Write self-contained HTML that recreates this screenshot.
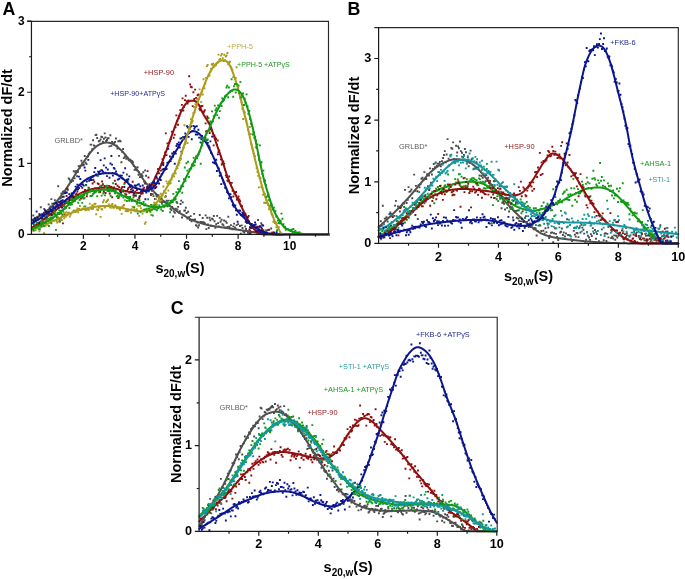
<!DOCTYPE html>
<html><head><meta charset="utf-8"><style>
html,body{margin:0;padding:0;background:#fff;width:685px;height:579px;overflow:hidden}
svg{display:block;will-change:transform}
</style></head><body>
<svg width="685" height="579" viewBox="0 0 685 579">
<rect width="685" height="579" fill="#fff"/>
<path d="M32.33 214.55h1.9v1.9h-1.9zM33.29 220h1.9v1.9h-1.9zM34.03 219.43h1.9v1.9h-1.9zM34.91 218.26h1.9v1.9h-1.9zM35.79 216.4h1.9v1.9h-1.9zM36.73 216.87h1.9v1.9h-1.9zM37.42 215.47h1.9v1.9h-1.9zM38.37 213.03h1.9v1.9h-1.9zM39.07 223.34h1.9v1.9h-1.9zM39.82 206.23h1.9v1.9h-1.9zM40.64 213.35h1.9v1.9h-1.9zM41.51 216.98h1.9v1.9h-1.9zM42.34 213.11h1.9v1.9h-1.9zM43.24 207.88h1.9v1.9h-1.9zM44.17 221.88h1.9v1.9h-1.9zM44.97 209.89h1.9v1.9h-1.9zM45.86 215.32h1.9v1.9h-1.9zM46.73 209.18h1.9v1.9h-1.9zM47.7 203.4h1.9v1.9h-1.9zM48.65 206.94h1.9v1.9h-1.9zM49.43 205.6h1.9v1.9h-1.9zM50.4 198.13h1.9v1.9h-1.9zM51.34 202.76h1.9v1.9h-1.9zM52.26 206.01h1.9v1.9h-1.9zM53.04 202.7h1.9v1.9h-1.9zM53.9 199.26h1.9v1.9h-1.9zM54.75 205.3h1.9v1.9h-1.9zM55.65 203.55h1.9v1.9h-1.9zM56.55 201.27h1.9v1.9h-1.9zM57.25 185.27h1.9v1.9h-1.9zM58.09 201.72h1.9v1.9h-1.9zM58.99 197.6h1.9v1.9h-1.9zM59.76 197.46h1.9v1.9h-1.9zM60.46 192.5h1.9v1.9h-1.9zM61.13 196.05h1.9v1.9h-1.9zM61.97 190.75h1.9v1.9h-1.9zM62.73 192.62h1.9v1.9h-1.9zM63.48 189.98h1.9v1.9h-1.9zM64.45 191.27h1.9v1.9h-1.9zM65.23 188.28h1.9v1.9h-1.9zM66.03 191.61h1.9v1.9h-1.9zM66.89 188.83h1.9v1.9h-1.9zM67.71 177.46h1.9v1.9h-1.9zM68.45 178.19h1.9v1.9h-1.9zM69.24 179.72h1.9v1.9h-1.9zM70.18 181.16h1.9v1.9h-1.9zM71.15 192.69h1.9v1.9h-1.9zM72.07 179.93h1.9v1.9h-1.9zM72.85 170.36h1.9v1.9h-1.9zM73.66 177.42h1.9v1.9h-1.9zM74.48 171.47h1.9v1.9h-1.9zM75.26 169.95h1.9v1.9h-1.9zM76.09 175.26h1.9v1.9h-1.9zM76.88 171.05h1.9v1.9h-1.9zM77.76 165.16h1.9v1.9h-1.9zM78.69 167.14h1.9v1.9h-1.9zM79.52 164.78h1.9v1.9h-1.9zM80.47 159.83h1.9v1.9h-1.9zM81.21 162.37h1.9v1.9h-1.9zM81.98 164.37h1.9v1.9h-1.9zM82.91 163.8h1.9v1.9h-1.9zM83.82 154.99h1.9v1.9h-1.9zM84.72 161.8h1.9v1.9h-1.9zM85.61 163.18h1.9v1.9h-1.9zM86.29 156.09h1.9v1.9h-1.9zM87 155.44h1.9v1.9h-1.9zM87.82 153.07h1.9v1.9h-1.9zM88.74 151.44h1.9v1.9h-1.9zM89.64 143.7h1.9v1.9h-1.9zM90.4 143.7h1.9v1.9h-1.9zM91.3 148.33h1.9v1.9h-1.9zM92.1 139.31h1.9v1.9h-1.9zM92.96 144.4h1.9v1.9h-1.9zM93.68 144.95h1.9v1.9h-1.9zM94.63 134.19h1.9v1.9h-1.9zM95.44 133.87h1.9v1.9h-1.9zM96.22 137.09h1.9v1.9h-1.9zM96.97 152.07h1.9v1.9h-1.9zM97.86 140.23h1.9v1.9h-1.9zM98.78 139.89h1.9v1.9h-1.9zM99.63 138.41h1.9v1.9h-1.9zM100.42 135.81h1.9v1.9h-1.9zM101.18 136.22h1.9v1.9h-1.9zM102.05 140.77h1.9v1.9h-1.9zM102.89 137.74h1.9v1.9h-1.9zM103.79 132.47h1.9v1.9h-1.9zM104.5 136.48h1.9v1.9h-1.9zM105.17 140.07h1.9v1.9h-1.9zM106.04 139.01h1.9v1.9h-1.9zM106.74 137.29h1.9v1.9h-1.9zM107.57 137.29h1.9v1.9h-1.9zM108.43 145.43h1.9v1.9h-1.9zM109.41 134.31h1.9v1.9h-1.9zM110.38 144.96h1.9v1.9h-1.9zM111.07 140.89h1.9v1.9h-1.9zM111.8 142.75h1.9v1.9h-1.9zM112.7 142.42h1.9v1.9h-1.9zM113.4 141.83h1.9v1.9h-1.9zM114.1 140.91h1.9v1.9h-1.9zM115.02 137.51h1.9v1.9h-1.9zM115.76 144.64h1.9v1.9h-1.9zM116.53 147.49h1.9v1.9h-1.9zM117.39 140.25h1.9v1.9h-1.9zM118.09 154.96h1.9v1.9h-1.9zM118.88 139.75h1.9v1.9h-1.9zM119.67 140.43h1.9v1.9h-1.9zM120.46 161.37h1.9v1.9h-1.9zM121.31 150.96h1.9v1.9h-1.9zM122.15 148.06h1.9v1.9h-1.9zM122.85 157.2h1.9v1.9h-1.9zM123.79 156.16h1.9v1.9h-1.9zM124.49 155.37h1.9v1.9h-1.9zM125.31 157.97h1.9v1.9h-1.9zM125.98 173.53h1.9v1.9h-1.9zM126.94 157.5h1.9v1.9h-1.9zM127.8 159.41h1.9v1.9h-1.9zM128.64 159.27h1.9v1.9h-1.9zM129.44 158.86h1.9v1.9h-1.9zM130.35 159.93h1.9v1.9h-1.9zM131.25 160.25h1.9v1.9h-1.9zM132.12 161.51h1.9v1.9h-1.9zM132.89 165.2h1.9v1.9h-1.9zM133.62 168.96h1.9v1.9h-1.9zM134.47 166.81h1.9v1.9h-1.9zM135.2 168.8h1.9v1.9h-1.9zM135.89 169.34h1.9v1.9h-1.9zM136.61 166.24h1.9v1.9h-1.9zM137.54 173.96h1.9v1.9h-1.9zM138.21 171.31h1.9v1.9h-1.9zM138.97 176.21h1.9v1.9h-1.9zM139.87 175.84h1.9v1.9h-1.9zM140.72 173.26h1.9v1.9h-1.9zM141.5 175.12h1.9v1.9h-1.9zM142.38 171.35h1.9v1.9h-1.9zM143.18 180.57h1.9v1.9h-1.9zM144.14 169.4h1.9v1.9h-1.9zM145.09 174.74h1.9v1.9h-1.9zM145.97 188.13h1.9v1.9h-1.9zM146.85 185.74h1.9v1.9h-1.9zM147.6 187.73h1.9v1.9h-1.9zM148.4 183.14h1.9v1.9h-1.9zM149.31 187.97h1.9v1.9h-1.9zM150.07 194.22h1.9v1.9h-1.9zM150.91 189.73h1.9v1.9h-1.9zM151.81 193.21h1.9v1.9h-1.9zM152.54 195.22h1.9v1.9h-1.9zM153.28 187.72h1.9v1.9h-1.9zM153.97 198.05h1.9v1.9h-1.9zM154.95 193.34h1.9v1.9h-1.9zM155.7 195.35h1.9v1.9h-1.9zM156.58 195.67h1.9v1.9h-1.9zM157.5 194.33h1.9v1.9h-1.9zM158.29 198.03h1.9v1.9h-1.9zM159.12 198.64h1.9v1.9h-1.9zM159.8 201.21h1.9v1.9h-1.9zM160.67 197.48h1.9v1.9h-1.9zM161.36 201.02h1.9v1.9h-1.9zM162.32 205.57h1.9v1.9h-1.9zM163.18 200.73h1.9v1.9h-1.9zM164.12 201.3h1.9v1.9h-1.9zM164.84 195.3h1.9v1.9h-1.9zM165.73 199.87h1.9v1.9h-1.9zM166.71 205.28h1.9v1.9h-1.9zM167.69 199.71h1.9v1.9h-1.9zM168.64 202.23h1.9v1.9h-1.9zM169.58 207.82h1.9v1.9h-1.9zM170.51 209.2h1.9v1.9h-1.9zM171.27 206.07h1.9v1.9h-1.9zM172.19 215.48h1.9v1.9h-1.9zM172.95 210.38h1.9v1.9h-1.9zM173.85 211.9h1.9v1.9h-1.9zM174.79 207.73h1.9v1.9h-1.9zM175.67 201.07h1.9v1.9h-1.9zM176.44 208.57h1.9v1.9h-1.9zM177.2 205.95h1.9v1.9h-1.9zM178.15 211.95h1.9v1.9h-1.9zM178.88 210.33h1.9v1.9h-1.9zM179.57 203.01h1.9v1.9h-1.9zM180.25 199.71h1.9v1.9h-1.9zM181.08 216.55h1.9v1.9h-1.9zM181.83 201.44h1.9v1.9h-1.9zM182.72 214.32h1.9v1.9h-1.9zM183.39 209.83h1.9v1.9h-1.9zM184.16 209.49h1.9v1.9h-1.9zM184.85 206.78h1.9v1.9h-1.9zM185.57 212h1.9v1.9h-1.9zM186.43 217.67h1.9v1.9h-1.9zM187.2 210.83h1.9v1.9h-1.9zM188.05 216.31h1.9v1.9h-1.9zM188.88 219.06h1.9v1.9h-1.9zM189.74 215.13h1.9v1.9h-1.9zM190.56 220.41h1.9v1.9h-1.9zM191.51 218.81h1.9v1.9h-1.9zM192.47 219.01h1.9v1.9h-1.9zM193.19 212.96h1.9v1.9h-1.9zM194.11 218.55h1.9v1.9h-1.9zM195.03 224.21h1.9v1.9h-1.9zM195.7 224.82h1.9v1.9h-1.9zM196.47 221.54h1.9v1.9h-1.9zM197.19 226.51h1.9v1.9h-1.9zM198.11 224.24h1.9v1.9h-1.9zM198.8 214.07h1.9v1.9h-1.9zM199.52 220.92h1.9v1.9h-1.9zM200.23 220.93h1.9v1.9h-1.9zM200.97 221.14h1.9v1.9h-1.9zM201.74 216.98h1.9v1.9h-1.9zM202.45 221.2h1.9v1.9h-1.9zM203.22 221.85h1.9v1.9h-1.9zM204.01 222.53h1.9v1.9h-1.9zM204.69 214.46h1.9v1.9h-1.9zM205.38 228.15h1.9v1.9h-1.9zM206.25 216.85h1.9v1.9h-1.9zM207.04 223.38h1.9v1.9h-1.9zM207.75 227.05h1.9v1.9h-1.9zM208.64 216.85h1.9v1.9h-1.9zM209.31 219.34h1.9v1.9h-1.9zM210.14 224.87h1.9v1.9h-1.9zM211.05 217.64h1.9v1.9h-1.9zM211.94 218.43h1.9v1.9h-1.9zM212.86 215.08h1.9v1.9h-1.9zM213.6 220.28h1.9v1.9h-1.9zM214.48 226.96h1.9v1.9h-1.9zM215.22 223.34h1.9v1.9h-1.9zM216.16 214.96h1.9v1.9h-1.9zM217.09 222.21h1.9v1.9h-1.9zM217.84 225.39h1.9v1.9h-1.9zM218.78 216.93h1.9v1.9h-1.9zM219.61 220.81h1.9v1.9h-1.9zM220.57 218.82h1.9v1.9h-1.9zM221.5 223.33h1.9v1.9h-1.9zM222.41 224.28h1.9v1.9h-1.9zM223.11 219.5h1.9v1.9h-1.9zM224.05 226.6h1.9v1.9h-1.9zM224.87 220.42h1.9v1.9h-1.9zM225.72 221.95h1.9v1.9h-1.9zM226.44 226.06h1.9v1.9h-1.9zM227.37 215.75h1.9v1.9h-1.9zM228.33 225.68h1.9v1.9h-1.9zM229.02 227.43h1.9v1.9h-1.9zM229.97 224.22h1.9v1.9h-1.9zM230.7 227.71h1.9v1.9h-1.9zM231.62 228.33h1.9v1.9h-1.9zM232.33 225.45h1.9v1.9h-1.9zM233.12 222.64h1.9v1.9h-1.9zM233.94 226.54h1.9v1.9h-1.9zM234.82 227.69h1.9v1.9h-1.9zM235.65 224.15h1.9v1.9h-1.9zM237.27 223.16h1.9v1.9h-1.9zM238.96 225.09h1.9v1.9h-1.9zM239.89 232.78h1.9v1.9h-1.9zM240.73 224.42h1.9v1.9h-1.9zM241.58 227.05h1.9v1.9h-1.9zM242.41 230.72h1.9v1.9h-1.9zM243.34 231.62h1.9v1.9h-1.9zM244.3 225.49h1.9v1.9h-1.9zM245.1 228.05h1.9v1.9h-1.9zM246.97 231.77h1.9v1.9h-1.9zM248.46 232.22h1.9v1.9h-1.9zM249.14 229.99h1.9v1.9h-1.9zM249.93 231.55h1.9v1.9h-1.9zM250.8 222.93h1.9v1.9h-1.9zM251.77 230.97h1.9v1.9h-1.9zM252.57 226.84h1.9v1.9h-1.9zM253.33 224.92h1.9v1.9h-1.9zM254.03 226.26h1.9v1.9h-1.9zM254.73 228.44h1.9v1.9h-1.9zM255.54 229.99h1.9v1.9h-1.9zM256.42 232.8h1.9v1.9h-1.9zM257.12 219.04h1.9v1.9h-1.9zM257.9 230.76h1.9v1.9h-1.9zM258.69 226.63h1.9v1.9h-1.9zM259.44 225.47h1.9v1.9h-1.9zM260.31 222.36h1.9v1.9h-1.9zM261.05 223.93h1.9v1.9h-1.9zM261.84 229.59h1.9v1.9h-1.9zM262.55 229.27h1.9v1.9h-1.9zM265.17 229.6h1.9v1.9h-1.9zM266.05 232.92h1.9v1.9h-1.9zM266.92 228.99h1.9v1.9h-1.9zM270.23 227.51h1.9v1.9h-1.9z" fill="#4a4a4a"/>
<path d="M31.8 220.19 L32.32 219.9 L32.83 219.61 L33.35 219.33 L33.86 219.06 L34.38 218.79 L34.89 218.52 L35.41 218.26 L35.93 217.99 L36.44 217.72 L36.96 217.46 L37.47 217.19 L37.99 216.91 L38.51 216.64 L39.02 216.36 L39.54 216.07 L40.05 215.77 L40.57 215.47 L41.08 215.16 L41.6 214.84 L42.12 214.5 L42.63 214.16 L43.15 213.8 L43.66 213.43 L44.18 213.05 L44.7 212.67 L45.21 212.28 L45.73 211.88 L46.24 211.48 L46.76 211.07 L47.27 210.65 L47.79 210.23 L48.31 209.79 L48.82 209.35 L49.34 208.9 L49.85 208.44 L50.37 207.97 L50.88 207.49 L51.4 206.99 L51.92 206.49 L52.43 205.97 L52.95 205.44 L53.46 204.9 L53.98 204.35 L54.5 203.79 L55.01 203.22 L55.53 202.64 L56.04 202.04 L56.56 201.44 L57.07 200.83 L57.59 200.21 L58.11 199.59 L58.62 198.95 L59.14 198.31 L59.65 197.66 L60.17 197 L60.68 196.34 L61.2 195.67 L61.72 194.99 L62.23 194.3 L62.75 193.6 L63.26 192.9 L63.78 192.18 L64.3 191.46 L64.81 190.73 L65.33 189.99 L65.84 189.24 L66.36 188.49 L66.87 187.73 L67.39 186.96 L67.91 186.19 L68.42 185.41 L68.94 184.63 L69.45 183.84 L69.97 183.05 L70.48 182.25 L71 181.45 L71.52 180.64 L72.03 179.82 L72.55 178.98 L73.06 178.14 L73.58 177.29 L74.1 176.44 L74.61 175.58 L75.13 174.73 L75.64 173.88 L76.16 173.05 L76.67 172.22 L77.19 171.41 L77.71 170.61 L78.22 169.82 L78.74 169.04 L79.25 168.26 L79.77 167.49 L80.29 166.73 L80.8 165.98 L81.32 165.23 L81.83 164.48 L82.35 163.74 L82.86 163.01 L83.38 162.28 L83.9 161.56 L84.41 160.84 L84.93 160.13 L85.44 159.42 L85.96 158.71 L86.47 157.99 L86.99 157.26 L87.51 156.54 L88.02 155.82 L88.54 155.11 L89.05 154.4 L89.57 153.71 L90.09 153.02 L90.6 152.36 L91.12 151.71 L91.63 151.08 L92.15 150.48 L92.66 149.9 L93.18 149.35 L93.7 148.83 L94.21 148.34 L94.73 147.87 L95.24 147.41 L95.76 146.98 L96.27 146.56 L96.79 146.17 L97.31 145.79 L97.82 145.44 L98.34 145.1 L98.85 144.79 L99.37 144.5 L99.89 144.23 L100.4 143.98 L100.92 143.75 L101.43 143.54 L101.95 143.35 L102.46 143.19 L102.98 143.04 L103.5 142.91 L104.01 142.81 L104.53 142.72 L105.04 142.65 L105.56 142.6 L106.08 142.57 L106.59 142.57 L107.11 142.58 L107.62 142.61 L108.14 142.66 L108.65 142.73 L109.17 142.82 L109.69 142.93 L110.2 143.06 L110.72 143.21 L111.23 143.38 L111.75 143.57 L112.26 143.77 L112.78 144 L113.3 144.24 L113.81 144.5 L114.33 144.78 L114.84 145.08 L115.36 145.41 L115.88 145.75 L116.39 146.12 L116.91 146.5 L117.42 146.91 L117.94 147.33 L118.45 147.76 L118.97 148.21 L119.49 148.67 L120 149.15 L120.52 149.63 L121.03 150.13 L121.55 150.64 L122.06 151.15 L122.58 151.69 L123.1 152.24 L123.61 152.81 L124.13 153.4 L124.64 154.01 L125.16 154.62 L125.68 155.25 L126.19 155.88 L126.71 156.52 L127.22 157.17 L127.74 157.82 L128.25 158.47 L128.77 159.12 L129.29 159.77 L129.8 160.42 L130.32 161.06 L130.83 161.7 L131.35 162.34 L131.87 162.98 L132.38 163.62 L132.9 164.27 L133.41 164.92 L133.93 165.58 L134.44 166.24 L134.96 166.92 L135.48 167.6 L135.99 168.29 L136.51 168.99 L137.02 169.7 L137.54 170.42 L138.05 171.17 L138.57 171.94 L139.09 172.73 L139.6 173.54 L140.12 174.37 L140.63 175.21 L141.15 176.04 L141.67 176.87 L142.18 177.69 L142.7 178.49 L143.21 179.27 L143.73 180.03 L144.24 180.74 L144.76 181.43 L145.28 182.09 L145.79 182.73 L146.31 183.34 L146.82 183.95 L147.34 184.54 L147.85 185.11 L148.37 185.68 L148.89 186.25 L149.4 186.8 L149.92 187.36 L150.43 187.92 L150.95 188.49 L151.47 189.06 L151.98 189.62 L152.5 190.18 L153.01 190.74 L153.53 191.29 L154.04 191.85 L154.56 192.39 L155.08 192.94 L155.59 193.48 L156.11 194.01 L156.62 194.54 L157.14 195.06 L157.66 195.58 L158.17 196.1 L158.69 196.6 L159.2 197.11 L159.72 197.6 L160.23 198.09 L160.75 198.57 L161.27 199.05 L161.78 199.52 L162.3 199.98 L162.81 200.43 L163.33 200.87 L163.84 201.3 L164.36 201.72 L164.88 202.13 L165.39 202.54 L165.91 202.93 L166.42 203.33 L166.94 203.71 L167.46 204.1 L167.97 204.48 L168.49 204.87 L169 205.25 L169.52 205.64 L170.03 206.03 L170.55 206.42 L171.07 206.82 L171.58 207.23 L172.1 207.65 L172.61 208.06 L173.13 208.48 L173.65 208.89 L174.16 209.29 L174.68 209.69 L175.19 210.07 L175.71 210.44 L176.22 210.8 L176.74 211.15 L177.26 211.49 L177.77 211.82 L178.29 212.15 L178.8 212.47 L179.32 212.78 L179.83 213.09 L180.35 213.4 L180.87 213.7 L181.38 214 L181.9 214.3 L182.41 214.6 L182.93 214.91 L183.45 215.21 L183.96 215.52 L184.48 215.83 L184.99 216.13 L185.51 216.44 L186.02 216.75 L186.54 217.05 L187.06 217.36 L187.57 217.66 L188.09 217.95 L188.6 218.24 L189.12 218.53 L189.63 218.8 L190.15 219.07 L190.67 219.34 L191.18 219.59 L191.7 219.83 L192.21 220.06 L192.73 220.29 L193.25 220.5 L193.76 220.71 L194.28 220.91 L194.79 221.1 L195.31 221.28 L195.82 221.47 L196.34 221.64 L196.86 221.81 L197.37 221.98 L197.89 222.15 L198.4 222.32 L198.92 222.48 L199.44 222.65 L199.95 222.82 L200.47 222.98 L200.98 223.15 L201.5 223.31 L202.01 223.47 L202.53 223.63 L203.05 223.78 L203.56 223.93 L204.08 224.08 L204.59 224.23 L205.11 224.38 L205.62 224.52 L206.14 224.65 L206.66 224.79 L207.17 224.92 L207.69 225.04 L208.2 225.16 L208.72 225.28 L209.24 225.39 L209.75 225.49 L210.27 225.59 L210.78 225.68 L211.3 225.78 L211.81 225.86 L212.33 225.95 L212.85 226.03 L213.36 226.11 L213.88 226.19 L214.39 226.26 L214.91 226.34 L215.42 226.42 L215.94 226.49 L216.46 226.57 L216.97 226.65 L217.49 226.72 L218 226.8 L218.52 226.88 L219.04 226.96 L219.55 227.03 L220.07 227.1 L220.58 227.18 L221.1 227.25 L221.61 227.32 L222.13 227.39 L222.65 227.46 L223.16 227.53 L223.68 227.6 L224.19 227.68 L224.71 227.75 L225.22 227.82 L225.74 227.9 L226.26 227.97 L226.77 228.05 L227.29 228.12 L227.8 228.2 L228.32 228.28 L228.84 228.35 L229.35 228.43 L229.87 228.51 L230.38 228.59 L230.9 228.67 L231.41 228.75 L231.93 228.83 L232.45 228.91 L232.96 228.99 L233.48 229.07 L233.99 229.15 L234.51 229.23 L235.03 229.31 L235.54 229.39 L236.06 229.47 L236.57 229.55 L237.09 229.63 L237.6 229.7 L238.12 229.78 L238.64 229.86 L239.15 229.94 L239.67 230.02 L240.18 230.1 L240.7 230.17 L241.21 230.25 L241.73 230.33 L242.25 230.41 L242.76 230.49 L243.28 230.57 L243.79 230.64 L244.31 230.72 L244.83 230.8 L245.34 230.88 L245.86 230.96 L246.37 231.04 L246.89 231.11 L247.4 231.19 L247.92 231.27 L248.44 231.35 L248.95 231.42 L249.47 231.5 L249.98 231.58 L250.5 231.65 L251.02 231.73 L251.53 231.8 L252.05 231.88 L252.56 231.95 L253.08 232.02 L253.59 232.09 L254.11 232.16 L254.63 232.23 L255.14 232.3 L255.66 232.37 L256.17 232.44 L256.69 232.51 L257.2 232.58 L257.72 232.65 L258.24 232.72 L258.75 232.79 L259.27 232.85 L259.78 232.92 L260.3 232.99 L260.82 233.05 L261.33 233.12 L261.85 233.18 L262.36 233.24 L262.88 233.3 L263.39 233.36 L263.91 233.42 L264.43 233.48 L264.94 233.53 L265.46 233.59 L265.97 233.64 L266.49 233.69 L267 233.74 L267.52 233.79 L268.04 233.84 L268.55 233.89 L269.07 233.94 L269.58 233.99 L270.1 234.03 L270.62 234.08 L271.13 234.12 L271.65 234.17 L272.16 234.21 L272.68 234.24 L273.19 234.28 L273.71 234.31 L274.23 234.33 L274.74 234.36 L275.26 234.38 L275.77 234.39 L276.29 234.4 L276.81 234.4 L277.32 234.4 L277.84 234.4 L278.35 234.4 L278.87 234.4 L279.38 234.4 L279.9 234.4 L280.42 234.4 L280.93 234.4 L281.45 234.4 L281.96 234.4 L282.48 234.4 L282.99 234.4 L283.51 234.4 L284.03 234.4 L284.54 234.4 L285.06 234.4 L285.57 234.4 L286.09 234.4 L286.61 234.4 L287.12 234.4 L287.64 234.4 L288.15 234.4 L288.67 234.4 L289.18 234.4 L289.7 234.4 L290.22 234.4 L290.73 234.4 L291.25 234.4 L291.76 234.4 L292.28 234.4 L292.79 234.4 L293.31 234.4 L293.83 234.4 L294.34 234.4 L294.86 234.4 L295.37 234.4 L295.89 234.4 L296.41 234.4 L296.92 234.4 L297.44 234.4 L297.95 234.4 L298.47 234.4 L298.98 234.4 L299.5 234.4 L300.02 234.4 L300.53 234.4 L301.05 234.4 L301.56 234.4 L302.08 234.4 L302.6 234.4 L303.11 234.4 L303.63 234.4 L304.14 234.4 L304.66 234.4 L305.17 234.4 L305.69 234.4 L306.21 234.4 L306.72 234.4 L307.24 234.4 L307.75 234.4 L308.27 234.4 L308.78 234.4 L309.3 234.4 L309.82 234.4 L310.33 234.4 L310.85 234.4 L311.36 234.4 L311.88 234.4 L312.4 234.4 L312.91 234.4 L313.43 234.4 L313.94 234.4 L314.46 234.4 L314.97 234.4 L315.49 234.4 L316.01 234.4 L316.52 234.4 L317.04 234.4 L317.55 234.4 L318.07 234.4 L318.58 234.4 L319.1 234.4 L319.62 234.4 L320.13 234.4 L320.65 234.4 L321.16 234.4 L321.68 234.4 L322.2 234.4 L322.71 234.4 L323.23 234.4 L323.74 234.4 L324.26 234.4 L324.77 234.4 L325.29 234.4 L325.81 234.4 L326.32 234.4 L326.84 234.4 L327.35 234.4 L327.87 234.4 L328.38 234.4 L328.9 234.4" fill="none" stroke="#505050" stroke-width="2" stroke-linejoin="round" stroke-linecap="round"/>
<path d="M32.27 226.13h1.9v1.9h-1.9zM33.17 223.97h1.9v1.9h-1.9zM33.87 217.83h1.9v1.9h-1.9zM34.79 224.09h1.9v1.9h-1.9zM35.51 224.2h1.9v1.9h-1.9zM36.33 222.4h1.9v1.9h-1.9zM37.23 224.49h1.9v1.9h-1.9zM38 223.7h1.9v1.9h-1.9zM38.81 222.05h1.9v1.9h-1.9zM39.68 223.9h1.9v1.9h-1.9zM40.61 222.59h1.9v1.9h-1.9zM41.49 221.75h1.9v1.9h-1.9zM42.2 221.36h1.9v1.9h-1.9zM43 211.86h1.9v1.9h-1.9zM43.8 218.43h1.9v1.9h-1.9zM44.75 216.76h1.9v1.9h-1.9zM45.49 220.32h1.9v1.9h-1.9zM46.45 213.48h1.9v1.9h-1.9zM47.36 213.76h1.9v1.9h-1.9zM48.06 213.19h1.9v1.9h-1.9zM48.85 213.6h1.9v1.9h-1.9zM49.66 218.12h1.9v1.9h-1.9zM50.62 214.12h1.9v1.9h-1.9zM51.56 210.12h1.9v1.9h-1.9zM52.47 209.87h1.9v1.9h-1.9zM53.24 212.58h1.9v1.9h-1.9zM53.93 211.07h1.9v1.9h-1.9zM54.62 209.01h1.9v1.9h-1.9zM55.54 205.45h1.9v1.9h-1.9zM56.35 205.53h1.9v1.9h-1.9zM57.15 205.61h1.9v1.9h-1.9zM58.01 200.7h1.9v1.9h-1.9zM58.71 212.77h1.9v1.9h-1.9zM59.44 204.07h1.9v1.9h-1.9zM60.28 201.27h1.9v1.9h-1.9zM61.21 202.98h1.9v1.9h-1.9zM62 222.41h1.9v1.9h-1.9zM62.72 205.29h1.9v1.9h-1.9zM63.47 213.17h1.9v1.9h-1.9zM64.19 200.13h1.9v1.9h-1.9zM64.87 206.67h1.9v1.9h-1.9zM65.61 195.05h1.9v1.9h-1.9zM66.41 187.72h1.9v1.9h-1.9zM67.26 202.74h1.9v1.9h-1.9zM68.21 201.81h1.9v1.9h-1.9zM69.08 197.09h1.9v1.9h-1.9zM70.02 197.77h1.9v1.9h-1.9zM70.93 195.75h1.9v1.9h-1.9zM71.76 199.22h1.9v1.9h-1.9zM72.44 195.53h1.9v1.9h-1.9zM73.18 196.71h1.9v1.9h-1.9zM73.91 199.82h1.9v1.9h-1.9zM74.71 193.65h1.9v1.9h-1.9zM75.53 192.67h1.9v1.9h-1.9zM76.43 190.59h1.9v1.9h-1.9zM77.2 194.51h1.9v1.9h-1.9zM78.09 187.07h1.9v1.9h-1.9zM78.94 193.43h1.9v1.9h-1.9zM79.84 197.4h1.9v1.9h-1.9zM80.57 197.5h1.9v1.9h-1.9zM81.39 186.93h1.9v1.9h-1.9zM82.27 191.34h1.9v1.9h-1.9zM83.1 193.87h1.9v1.9h-1.9zM84.05 189.09h1.9v1.9h-1.9zM84.95 191.22h1.9v1.9h-1.9zM85.88 195.37h1.9v1.9h-1.9zM86.83 189.72h1.9v1.9h-1.9zM87.59 186.73h1.9v1.9h-1.9zM88.3 189.64h1.9v1.9h-1.9zM88.98 190.32h1.9v1.9h-1.9zM89.82 194.98h1.9v1.9h-1.9zM90.73 188.14h1.9v1.9h-1.9zM91.67 182.53h1.9v1.9h-1.9zM92.44 178.75h1.9v1.9h-1.9zM93.37 180.73h1.9v1.9h-1.9zM94.21 187.16h1.9v1.9h-1.9zM95.19 190.27h1.9v1.9h-1.9zM96.02 187.5h1.9v1.9h-1.9zM96.78 182.4h1.9v1.9h-1.9zM97.62 182.98h1.9v1.9h-1.9zM98.46 191.34h1.9v1.9h-1.9zM99.3 190.99h1.9v1.9h-1.9zM100.21 184.84h1.9v1.9h-1.9zM101.16 180.54h1.9v1.9h-1.9zM101.99 183.24h1.9v1.9h-1.9zM102.86 190.84h1.9v1.9h-1.9zM103.69 185.07h1.9v1.9h-1.9zM104.6 192.11h1.9v1.9h-1.9zM105.46 185.59h1.9v1.9h-1.9zM106.32 187.13h1.9v1.9h-1.9zM107.15 187.17h1.9v1.9h-1.9zM108.06 184.94h1.9v1.9h-1.9zM108.81 192.53h1.9v1.9h-1.9zM109.74 185.81h1.9v1.9h-1.9zM110.51 185.98h1.9v1.9h-1.9zM111.26 196.27h1.9v1.9h-1.9zM112.22 187.98h1.9v1.9h-1.9zM113.12 186.57h1.9v1.9h-1.9zM113.87 179.84h1.9v1.9h-1.9zM114.83 183.04h1.9v1.9h-1.9zM115.73 187.88h1.9v1.9h-1.9zM116.57 184.73h1.9v1.9h-1.9zM117.39 197.19h1.9v1.9h-1.9zM118.11 186.19h1.9v1.9h-1.9zM119.06 190.37h1.9v1.9h-1.9zM119.79 192.61h1.9v1.9h-1.9zM120.51 187.3h1.9v1.9h-1.9zM121.45 186.12h1.9v1.9h-1.9zM122.16 190.61h1.9v1.9h-1.9zM122.88 204.47h1.9v1.9h-1.9zM123.78 181.78h1.9v1.9h-1.9zM124.53 192.85h1.9v1.9h-1.9zM125.35 193.71h1.9v1.9h-1.9zM126.13 190.09h1.9v1.9h-1.9zM126.96 188.07h1.9v1.9h-1.9zM127.65 186.65h1.9v1.9h-1.9zM128.47 191.94h1.9v1.9h-1.9zM129.14 185.93h1.9v1.9h-1.9zM129.94 188.71h1.9v1.9h-1.9zM130.9 187.69h1.9v1.9h-1.9zM131.72 180.85h1.9v1.9h-1.9zM132.54 194.34h1.9v1.9h-1.9zM133.33 194.73h1.9v1.9h-1.9zM134.25 190.77h1.9v1.9h-1.9zM134.95 194.96h1.9v1.9h-1.9zM135.82 189.37h1.9v1.9h-1.9zM136.66 198.8h1.9v1.9h-1.9zM137.37 191.88h1.9v1.9h-1.9zM138.28 196.98h1.9v1.9h-1.9zM139.22 195.18h1.9v1.9h-1.9zM140.04 192.93h1.9v1.9h-1.9zM140.79 188.79h1.9v1.9h-1.9zM141.71 192.6h1.9v1.9h-1.9zM142.5 187.6h1.9v1.9h-1.9zM143.3 186.71h1.9v1.9h-1.9zM144.1 182.64h1.9v1.9h-1.9zM144.91 190.4h1.9v1.9h-1.9zM145.64 190.44h1.9v1.9h-1.9zM146.57 170.21h1.9v1.9h-1.9zM147.51 176.48h1.9v1.9h-1.9zM148.25 186.09h1.9v1.9h-1.9zM149.1 183.87h1.9v1.9h-1.9zM149.95 192.91h1.9v1.9h-1.9zM150.76 182.19h1.9v1.9h-1.9zM151.59 183h1.9v1.9h-1.9zM152.27 184.61h1.9v1.9h-1.9zM153.21 181.25h1.9v1.9h-1.9zM153.91 182.75h1.9v1.9h-1.9zM154.59 176.48h1.9v1.9h-1.9zM155.34 186.1h1.9v1.9h-1.9zM156.24 177.61h1.9v1.9h-1.9zM157.1 168.01h1.9v1.9h-1.9zM158.05 172.31h1.9v1.9h-1.9zM158.97 166.74h1.9v1.9h-1.9zM159.84 169.72h1.9v1.9h-1.9zM160.6 162.89h1.9v1.9h-1.9zM161.57 158.21h1.9v1.9h-1.9zM162.41 162.03h1.9v1.9h-1.9zM163.36 155.37h1.9v1.9h-1.9zM164.06 151.55h1.9v1.9h-1.9zM164.83 132.39h1.9v1.9h-1.9zM165.58 154.2h1.9v1.9h-1.9zM166.46 142.39h1.9v1.9h-1.9zM167.4 145.43h1.9v1.9h-1.9zM168.36 141.81h1.9v1.9h-1.9zM169.19 140.02h1.9v1.9h-1.9zM169.93 138.17h1.9v1.9h-1.9zM170.89 130.71h1.9v1.9h-1.9zM171.81 130.9h1.9v1.9h-1.9zM172.74 136.83h1.9v1.9h-1.9zM173.64 133.86h1.9v1.9h-1.9zM174.61 126.47h1.9v1.9h-1.9zM175.4 114.38h1.9v1.9h-1.9zM176.33 120.11h1.9v1.9h-1.9zM177.04 123.79h1.9v1.9h-1.9zM177.72 117.46h1.9v1.9h-1.9zM178.43 115.13h1.9v1.9h-1.9zM179.32 109.21h1.9v1.9h-1.9zM180.22 110.28h1.9v1.9h-1.9zM180.93 103.88h1.9v1.9h-1.9zM181.63 97.44h1.9v1.9h-1.9zM182.38 109.51h1.9v1.9h-1.9zM183.1 105.8h1.9v1.9h-1.9zM184 99.2h1.9v1.9h-1.9zM184.78 94.78h1.9v1.9h-1.9zM185.71 100.19h1.9v1.9h-1.9zM186.64 102.72h1.9v1.9h-1.9zM187.56 99.53h1.9v1.9h-1.9zM188.24 75.34h1.9v1.9h-1.9zM189.15 83.42h1.9v1.9h-1.9zM189.88 85.83h1.9v1.9h-1.9zM190.82 86.26h1.9v1.9h-1.9zM191.74 105.21h1.9v1.9h-1.9zM192.45 91.25h1.9v1.9h-1.9zM193.32 98h1.9v1.9h-1.9zM194.15 88.64h1.9v1.9h-1.9zM195.11 96.89h1.9v1.9h-1.9zM195.82 101.13h1.9v1.9h-1.9zM196.62 94.29h1.9v1.9h-1.9zM197.56 93.62h1.9v1.9h-1.9zM198.53 107.89h1.9v1.9h-1.9zM199.31 109.37h1.9v1.9h-1.9zM199.99 105.5h1.9v1.9h-1.9zM200.68 105.06h1.9v1.9h-1.9zM201.44 104.89h1.9v1.9h-1.9zM202.41 111.95h1.9v1.9h-1.9zM203.13 110.5h1.9v1.9h-1.9zM203.81 109.25h1.9v1.9h-1.9zM204.68 122.46h1.9v1.9h-1.9zM205.62 130.27h1.9v1.9h-1.9zM206.32 115.53h1.9v1.9h-1.9zM207 117.47h1.9v1.9h-1.9zM207.81 121.91h1.9v1.9h-1.9zM208.71 132h1.9v1.9h-1.9zM209.48 128.03h1.9v1.9h-1.9zM210.18 126.7h1.9v1.9h-1.9zM211.03 129.86h1.9v1.9h-1.9zM211.88 132.69h1.9v1.9h-1.9zM212.68 144.38h1.9v1.9h-1.9zM213.5 134.43h1.9v1.9h-1.9zM214.42 136.46h1.9v1.9h-1.9zM215.16 138.01h1.9v1.9h-1.9zM215.95 143.8h1.9v1.9h-1.9zM216.75 139.53h1.9v1.9h-1.9zM217.43 151.33h1.9v1.9h-1.9zM218.31 149.62h1.9v1.9h-1.9zM219.09 152.8h1.9v1.9h-1.9zM220.02 158.47h1.9v1.9h-1.9zM220.77 163.51h1.9v1.9h-1.9zM221.5 162.4h1.9v1.9h-1.9zM222.36 160.51h1.9v1.9h-1.9zM223.28 162.68h1.9v1.9h-1.9zM224.06 168.74h1.9v1.9h-1.9zM224.88 174.38h1.9v1.9h-1.9zM225.7 176.13h1.9v1.9h-1.9zM226.5 179.72h1.9v1.9h-1.9zM227.26 180.27h1.9v1.9h-1.9zM228.2 175.61h1.9v1.9h-1.9zM229.15 182.06h1.9v1.9h-1.9zM230 184.23h1.9v1.9h-1.9zM230.84 181.96h1.9v1.9h-1.9zM231.7 189.79h1.9v1.9h-1.9zM232.44 195.54h1.9v1.9h-1.9zM233.32 192.57h1.9v1.9h-1.9zM234.21 191.88h1.9v1.9h-1.9zM235.16 191.08h1.9v1.9h-1.9zM235.92 198.59h1.9v1.9h-1.9zM236.82 196.94h1.9v1.9h-1.9zM237.55 195.48h1.9v1.9h-1.9zM238.41 198.53h1.9v1.9h-1.9zM239.22 200.31h1.9v1.9h-1.9zM240.16 204.78h1.9v1.9h-1.9zM241.09 205.2h1.9v1.9h-1.9zM242.04 212.04h1.9v1.9h-1.9zM242.79 214.14h1.9v1.9h-1.9zM243.62 216.42h1.9v1.9h-1.9zM244.49 212.86h1.9v1.9h-1.9zM245.2 220.55h1.9v1.9h-1.9zM245.95 222.04h1.9v1.9h-1.9zM246.9 216.35h1.9v1.9h-1.9zM247.76 214.97h1.9v1.9h-1.9zM248.52 228.58h1.9v1.9h-1.9zM249.19 232.48h1.9v1.9h-1.9zM249.87 227.21h1.9v1.9h-1.9zM250.63 226.96h1.9v1.9h-1.9zM251.52 226.87h1.9v1.9h-1.9zM252.26 225.04h1.9v1.9h-1.9zM252.93 223.96h1.9v1.9h-1.9zM254.67 230.59h1.9v1.9h-1.9zM255.57 226.36h1.9v1.9h-1.9zM256.41 230.06h1.9v1.9h-1.9zM257.13 225.78h1.9v1.9h-1.9zM257.97 230.17h1.9v1.9h-1.9zM259.39 231.72h1.9v1.9h-1.9zM261.05 228.04h1.9v1.9h-1.9zM261.76 229.72h1.9v1.9h-1.9zM262.43 232.12h1.9v1.9h-1.9zM265.73 232.37h1.9v1.9h-1.9zM266.6 232.77h1.9v1.9h-1.9zM268.21 228.75h1.9v1.9h-1.9zM270.7 232.16h1.9v1.9h-1.9zM271.44 231.47h1.9v1.9h-1.9zM272.41 231.56h1.9v1.9h-1.9z" fill="#900c0c"/>
<path d="M31.8 228 L32.32 227.63 L32.83 227.26 L33.35 226.9 L33.86 226.53 L34.38 226.16 L34.89 225.79 L35.41 225.42 L35.93 225.06 L36.44 224.69 L36.96 224.32 L37.47 223.95 L37.99 223.57 L38.51 223.2 L39.02 222.82 L39.54 222.45 L40.05 222.07 L40.57 221.68 L41.08 221.3 L41.6 220.91 L42.12 220.52 L42.63 220.13 L43.15 219.73 L43.66 219.34 L44.18 218.94 L44.7 218.54 L45.21 218.14 L45.73 217.74 L46.24 217.34 L46.76 216.95 L47.27 216.55 L47.79 216.15 L48.31 215.75 L48.82 215.36 L49.34 214.96 L49.85 214.57 L50.37 214.18 L50.88 213.79 L51.4 213.4 L51.92 213.02 L52.43 212.63 L52.95 212.24 L53.46 211.86 L53.98 211.47 L54.5 211.09 L55.01 210.7 L55.53 210.32 L56.04 209.94 L56.56 209.56 L57.07 209.19 L57.59 208.81 L58.11 208.44 L58.62 208.08 L59.14 207.72 L59.65 207.36 L60.17 207 L60.68 206.64 L61.2 206.29 L61.72 205.94 L62.23 205.59 L62.75 205.24 L63.26 204.9 L63.78 204.55 L64.3 204.21 L64.81 203.87 L65.33 203.53 L65.84 203.18 L66.36 202.84 L66.87 202.5 L67.39 202.16 L67.91 201.81 L68.42 201.47 L68.94 201.12 L69.45 200.77 L69.97 200.42 L70.48 200.07 L71 199.72 L71.52 199.36 L72.03 198.99 L72.55 198.62 L73.06 198.24 L73.58 197.87 L74.1 197.49 L74.61 197.11 L75.13 196.73 L75.64 196.36 L76.16 196 L76.67 195.64 L77.19 195.29 L77.71 194.96 L78.22 194.63 L78.74 194.32 L79.25 194.03 L79.77 193.75 L80.29 193.47 L80.8 193.21 L81.32 192.95 L81.83 192.7 L82.35 192.47 L82.86 192.23 L83.38 192.01 L83.9 191.79 L84.41 191.58 L84.93 191.38 L85.44 191.18 L85.96 190.99 L86.47 190.8 L86.99 190.62 L87.51 190.44 L88.02 190.28 L88.54 190.11 L89.05 189.96 L89.57 189.81 L90.09 189.67 L90.6 189.54 L91.12 189.41 L91.63 189.28 L92.15 189.16 L92.66 189.05 L93.18 188.94 L93.7 188.83 L94.21 188.73 L94.73 188.63 L95.24 188.54 L95.76 188.45 L96.27 188.36 L96.79 188.28 L97.31 188.21 L97.82 188.14 L98.34 188.08 L98.85 188.02 L99.37 187.96 L99.89 187.91 L100.4 187.86 L100.92 187.82 L101.43 187.78 L101.95 187.75 L102.46 187.72 L102.98 187.69 L103.5 187.67 L104.01 187.65 L104.53 187.64 L105.04 187.62 L105.56 187.61 L106.08 187.61 L106.59 187.61 L107.11 187.62 L107.62 187.63 L108.14 187.65 L108.65 187.67 L109.17 187.7 L109.69 187.73 L110.2 187.77 L110.72 187.82 L111.23 187.88 L111.75 187.95 L112.26 188.02 L112.78 188.11 L113.3 188.21 L113.81 188.31 L114.33 188.42 L114.84 188.54 L115.36 188.66 L115.88 188.79 L116.39 188.92 L116.91 189.05 L117.42 189.18 L117.94 189.31 L118.45 189.44 L118.97 189.57 L119.49 189.69 L120 189.81 L120.52 189.93 L121.03 190.04 L121.55 190.15 L122.06 190.26 L122.58 190.38 L123.1 190.49 L123.61 190.61 L124.13 190.73 L124.64 190.84 L125.16 190.96 L125.68 191.08 L126.19 191.19 L126.71 191.3 L127.22 191.41 L127.74 191.52 L128.25 191.62 L128.77 191.72 L129.29 191.82 L129.8 191.91 L130.32 191.99 L130.83 192.08 L131.35 192.15 L131.87 192.24 L132.38 192.33 L132.9 192.43 L133.41 192.53 L133.93 192.63 L134.44 192.73 L134.96 192.82 L135.48 192.9 L135.99 192.96 L136.51 193.01 L137.02 193.04 L137.54 193.04 L138.05 193.02 L138.57 192.98 L139.09 192.9 L139.6 192.79 L140.12 192.66 L140.63 192.52 L141.15 192.35 L141.67 192.17 L142.18 191.97 L142.7 191.75 L143.21 191.51 L143.73 191.25 L144.24 190.97 L144.76 190.67 L145.28 190.35 L145.79 190.01 L146.31 189.65 L146.82 189.27 L147.34 188.89 L147.85 188.52 L148.37 188.14 L148.89 187.75 L149.4 187.32 L149.92 186.85 L150.43 186.32 L150.95 185.72 L151.47 185.03 L151.98 184.24 L152.5 183.34 L153.01 182.34 L153.53 181.27 L154.04 180.15 L154.56 178.99 L155.08 177.82 L155.59 176.66 L156.11 175.53 L156.62 174.45 L157.14 173.39 L157.66 172.34 L158.17 171.3 L158.69 170.25 L159.2 169.18 L159.72 168.09 L160.23 166.96 L160.75 165.79 L161.27 164.56 L161.78 163.27 L162.3 161.94 L162.81 160.58 L163.33 159.18 L163.84 157.76 L164.36 156.32 L164.88 154.87 L165.39 153.42 L165.91 151.97 L166.42 150.54 L166.94 149.1 L167.46 147.65 L167.97 146.19 L168.49 144.72 L169 143.25 L169.52 141.77 L170.03 140.31 L170.55 138.85 L171.07 137.4 L171.58 135.97 L172.1 134.54 L172.61 133.11 L173.13 131.67 L173.65 130.24 L174.16 128.82 L174.68 127.41 L175.19 126.01 L175.71 124.63 L176.22 123.28 L176.74 121.95 L177.26 120.66 L177.77 119.41 L178.29 118.17 L178.8 116.94 L179.32 115.72 L179.83 114.51 L180.35 113.33 L180.87 112.18 L181.38 111.06 L181.9 109.99 L182.41 108.97 L182.93 108.01 L183.45 107.11 L183.96 106.29 L184.48 105.54 L184.99 104.86 L185.51 104.23 L186.02 103.66 L186.54 103.15 L187.06 102.7 L187.57 102.29 L188.09 101.94 L188.6 101.63 L189.12 101.37 L189.63 101.15 L190.15 100.98 L190.67 100.85 L191.18 100.75 L191.7 100.69 L192.21 100.66 L192.73 100.65 L193.25 100.68 L193.76 100.75 L194.28 100.86 L194.79 101.03 L195.31 101.26 L195.82 101.55 L196.34 101.91 L196.86 102.35 L197.37 102.88 L197.89 103.49 L198.4 104.22 L198.92 105.07 L199.44 106.02 L199.95 107.06 L200.47 108.14 L200.98 109.26 L201.5 110.39 L202.01 111.5 L202.53 112.57 L203.05 113.58 L203.56 114.53 L204.08 115.42 L204.59 116.27 L205.11 117.1 L205.62 117.9 L206.14 118.7 L206.66 119.49 L207.17 120.3 L207.69 121.13 L208.2 121.99 L208.72 122.9 L209.24 123.86 L209.75 124.89 L210.27 125.98 L210.78 127.17 L211.3 128.45 L211.81 129.82 L212.33 131.26 L212.85 132.77 L213.36 134.33 L213.88 135.91 L214.39 137.51 L214.91 139.12 L215.42 140.71 L215.94 142.27 L216.46 143.79 L216.97 145.26 L217.49 146.73 L218 148.18 L218.52 149.62 L219.04 151.06 L219.55 152.51 L220.07 153.97 L220.58 155.44 L221.1 156.93 L221.61 158.46 L222.13 160.04 L222.65 161.65 L223.16 163.28 L223.68 164.94 L224.19 166.6 L224.71 168.26 L225.22 169.91 L225.74 171.55 L226.26 173.16 L226.77 174.73 L227.29 176.25 L227.8 177.73 L228.32 179.14 L228.84 180.48 L229.35 181.76 L229.87 182.99 L230.38 184.17 L230.9 185.31 L231.41 186.42 L231.93 187.49 L232.45 188.54 L232.96 189.58 L233.48 190.6 L233.99 191.62 L234.51 192.64 L235.03 193.66 L235.54 194.7 L236.06 195.75 L236.57 196.83 L237.09 197.9 L237.6 198.96 L238.12 200.02 L238.64 201.08 L239.15 202.14 L239.67 203.19 L240.18 204.24 L240.7 205.29 L241.21 206.33 L241.73 207.37 L242.25 208.41 L242.76 209.44 L243.28 210.47 L243.79 211.5 L244.31 212.53 L244.83 213.57 L245.34 214.63 L245.86 215.7 L246.37 216.76 L246.89 217.82 L247.4 218.86 L247.92 219.88 L248.44 220.87 L248.95 221.83 L249.47 222.74 L249.98 223.6 L250.5 224.42 L251.02 225.21 L251.53 225.98 L252.05 226.71 L252.56 227.42 L253.08 228.09 L253.59 228.72 L254.11 229.32 L254.63 229.87 L255.14 230.39 L255.66 230.86 L256.17 231.29 L256.69 231.69 L257.2 232.05 L257.72 232.38 L258.24 232.69 L258.75 232.98 L259.27 233.24 L259.78 233.48 L260.3 233.69 L260.82 233.88 L261.33 234.04 L261.85 234.17 L262.36 234.27 L262.88 234.34 L263.39 234.39 L263.91 234.4 L264.43 234.4 L264.94 234.4 L265.46 234.4 L265.97 234.4 L266.49 234.4 L267 234.4 L267.52 234.4 L268.04 234.4 L268.55 234.4 L269.07 234.4 L269.58 234.4 L270.1 234.4 L270.62 234.4 L271.13 234.4 L271.65 234.4 L272.16 234.4 L272.68 234.4 L273.19 234.4 L273.71 234.4 L274.23 234.4 L274.74 234.4 L275.26 234.4 L275.77 234.4 L276.29 234.4 L276.81 234.4 L277.32 234.4 L277.84 234.4 L278.35 234.4 L278.87 234.4 L279.38 234.4 L279.9 234.4 L280.42 234.4 L280.93 234.4 L281.45 234.4 L281.96 234.4 L282.48 234.4 L282.99 234.4 L283.51 234.4 L284.03 234.4 L284.54 234.4 L285.06 234.4 L285.57 234.4 L286.09 234.4 L286.61 234.4 L287.12 234.4 L287.64 234.4 L288.15 234.4 L288.67 234.4 L289.18 234.4 L289.7 234.4 L290.22 234.4 L290.73 234.4 L291.25 234.4 L291.76 234.4 L292.28 234.4 L292.79 234.4 L293.31 234.4 L293.83 234.4 L294.34 234.4 L294.86 234.4 L295.37 234.4 L295.89 234.4 L296.41 234.4 L296.92 234.4 L297.44 234.4 L297.95 234.4 L298.47 234.4 L298.98 234.4 L299.5 234.4 L300.02 234.4 L300.53 234.4 L301.05 234.4 L301.56 234.4 L302.08 234.4 L302.6 234.4 L303.11 234.4 L303.63 234.4 L304.14 234.4 L304.66 234.4 L305.17 234.4 L305.69 234.4 L306.21 234.4 L306.72 234.4 L307.24 234.4 L307.75 234.4 L308.27 234.4 L308.78 234.4 L309.3 234.4 L309.82 234.4 L310.33 234.4 L310.85 234.4 L311.36 234.4 L311.88 234.4 L312.4 234.4 L312.91 234.4 L313.43 234.4 L313.94 234.4 L314.46 234.4 L314.97 234.4 L315.49 234.4 L316.01 234.4 L316.52 234.4 L317.04 234.4 L317.55 234.4 L318.07 234.4 L318.58 234.4 L319.1 234.4 L319.62 234.4 L320.13 234.4 L320.65 234.4 L321.16 234.4 L321.68 234.4 L322.2 234.4 L322.71 234.4 L323.23 234.4 L323.74 234.4 L324.26 234.4 L324.77 234.4 L325.29 234.4 L325.81 234.4 L326.32 234.4 L326.84 234.4 L327.35 234.4 L327.87 234.4 L328.38 234.4 L328.9 234.4" fill="none" stroke="#8e1010" stroke-width="2" stroke-linejoin="round" stroke-linecap="round"/>
<path d="M32.17 219.73h1.9v1.9h-1.9zM32.98 221.41h1.9v1.9h-1.9zM33.94 217.28h1.9v1.9h-1.9zM34.83 218.93h1.9v1.9h-1.9zM35.64 210.56h1.9v1.9h-1.9zM36.56 216.52h1.9v1.9h-1.9zM37.35 218.68h1.9v1.9h-1.9zM38.22 221.86h1.9v1.9h-1.9zM38.9 214.3h1.9v1.9h-1.9zM39.69 225.12h1.9v1.9h-1.9zM40.52 217.69h1.9v1.9h-1.9zM41.44 214.04h1.9v1.9h-1.9zM42.41 213.75h1.9v1.9h-1.9zM43.13 214.97h1.9v1.9h-1.9zM44.05 209.17h1.9v1.9h-1.9zM44.78 210.98h1.9v1.9h-1.9zM45.76 215.79h1.9v1.9h-1.9zM46.71 211.1h1.9v1.9h-1.9zM47.69 211.9h1.9v1.9h-1.9zM48.61 210.65h1.9v1.9h-1.9zM49.44 208.36h1.9v1.9h-1.9zM50.12 210.43h1.9v1.9h-1.9zM50.9 213.75h1.9v1.9h-1.9zM51.63 209.67h1.9v1.9h-1.9zM52.53 206.19h1.9v1.9h-1.9zM53.47 202.61h1.9v1.9h-1.9zM54.25 207.46h1.9v1.9h-1.9zM55.06 201.94h1.9v1.9h-1.9zM55.9 202.66h1.9v1.9h-1.9zM56.87 203.92h1.9v1.9h-1.9zM57.56 206.8h1.9v1.9h-1.9zM58.52 218.69h1.9v1.9h-1.9zM59.45 201.27h1.9v1.9h-1.9zM60.24 199.95h1.9v1.9h-1.9zM61.07 206.67h1.9v1.9h-1.9zM61.75 199.34h1.9v1.9h-1.9zM62.69 195.87h1.9v1.9h-1.9zM63.4 200.83h1.9v1.9h-1.9zM64.16 192.17h1.9v1.9h-1.9zM65 191.67h1.9v1.9h-1.9zM65.85 200.79h1.9v1.9h-1.9zM66.62 197.97h1.9v1.9h-1.9zM67.36 197.82h1.9v1.9h-1.9zM68.28 193.13h1.9v1.9h-1.9zM69 198.64h1.9v1.9h-1.9zM69.88 198.98h1.9v1.9h-1.9zM70.7 192.52h1.9v1.9h-1.9zM71.66 194.03h1.9v1.9h-1.9zM72.34 196.19h1.9v1.9h-1.9zM73.05 191.94h1.9v1.9h-1.9zM73.81 190.67h1.9v1.9h-1.9zM74.64 185.66h1.9v1.9h-1.9zM75.53 188.68h1.9v1.9h-1.9zM76.42 183.71h1.9v1.9h-1.9zM77.17 188.27h1.9v1.9h-1.9zM78.01 175.66h1.9v1.9h-1.9zM78.68 184.36h1.9v1.9h-1.9zM79.37 177.98h1.9v1.9h-1.9zM80.28 185.39h1.9v1.9h-1.9zM81.05 183.18h1.9v1.9h-1.9zM82 183.53h1.9v1.9h-1.9zM82.81 184.67h1.9v1.9h-1.9zM83.65 166.62h1.9v1.9h-1.9zM84.39 169.67h1.9v1.9h-1.9zM85.09 184.11h1.9v1.9h-1.9zM85.88 180.56h1.9v1.9h-1.9zM86.66 177.74h1.9v1.9h-1.9zM87.37 158.89h1.9v1.9h-1.9zM88.2 179.85h1.9v1.9h-1.9zM89.12 179.03h1.9v1.9h-1.9zM89.96 177.1h1.9v1.9h-1.9zM90.8 179.11h1.9v1.9h-1.9zM91.7 176.09h1.9v1.9h-1.9zM92.63 174.91h1.9v1.9h-1.9zM93.32 171.19h1.9v1.9h-1.9zM94.27 167.11h1.9v1.9h-1.9zM95.22 173.41h1.9v1.9h-1.9zM96.19 174.72h1.9v1.9h-1.9zM97.12 170.72h1.9v1.9h-1.9zM98.04 171.98h1.9v1.9h-1.9zM98.95 170.39h1.9v1.9h-1.9zM99.64 159.2h1.9v1.9h-1.9zM100.37 169.32h1.9v1.9h-1.9zM101.15 169.57h1.9v1.9h-1.9zM102.09 170.79h1.9v1.9h-1.9zM102.84 164.39h1.9v1.9h-1.9zM103.74 157.45h1.9v1.9h-1.9zM104.45 171.74h1.9v1.9h-1.9zM105.14 166.69h1.9v1.9h-1.9zM106.05 175.21h1.9v1.9h-1.9zM106.83 168.59h1.9v1.9h-1.9zM107.66 172.19h1.9v1.9h-1.9zM108.51 176.87h1.9v1.9h-1.9zM109.47 162.58h1.9v1.9h-1.9zM110.44 155.03h1.9v1.9h-1.9zM111.13 163.7h1.9v1.9h-1.9zM111.94 174.53h1.9v1.9h-1.9zM112.85 166.94h1.9v1.9h-1.9zM113.65 167.85h1.9v1.9h-1.9zM114.34 172.86h1.9v1.9h-1.9zM115.14 170.48h1.9v1.9h-1.9zM116.08 173.43h1.9v1.9h-1.9zM116.78 178.64h1.9v1.9h-1.9zM117.55 178.43h1.9v1.9h-1.9zM118.39 177.7h1.9v1.9h-1.9zM119.33 174.5h1.9v1.9h-1.9zM120.08 191.17h1.9v1.9h-1.9zM120.94 174.66h1.9v1.9h-1.9zM121.67 177.54h1.9v1.9h-1.9zM122.49 171.7h1.9v1.9h-1.9zM123.41 186.03h1.9v1.9h-1.9zM124.23 167.36h1.9v1.9h-1.9zM125.12 180.69h1.9v1.9h-1.9zM125.91 178.79h1.9v1.9h-1.9zM126.64 180.13h1.9v1.9h-1.9zM127.4 178.28h1.9v1.9h-1.9zM128.34 175.47h1.9v1.9h-1.9zM129.2 185.57h1.9v1.9h-1.9zM129.9 184.21h1.9v1.9h-1.9zM130.62 190.74h1.9v1.9h-1.9zM131.33 185.25h1.9v1.9h-1.9zM132.12 189.6h1.9v1.9h-1.9zM133.09 192.7h1.9v1.9h-1.9zM133.83 184.51h1.9v1.9h-1.9zM134.75 186.57h1.9v1.9h-1.9zM135.48 184.42h1.9v1.9h-1.9zM136.29 188.14h1.9v1.9h-1.9zM136.99 183.67h1.9v1.9h-1.9zM137.85 183.31h1.9v1.9h-1.9zM138.54 195.51h1.9v1.9h-1.9zM139.31 185.28h1.9v1.9h-1.9zM140.01 190.75h1.9v1.9h-1.9zM140.92 189.36h1.9v1.9h-1.9zM141.78 184.5h1.9v1.9h-1.9zM142.64 188.66h1.9v1.9h-1.9zM143.47 204.24h1.9v1.9h-1.9zM144.42 198.35h1.9v1.9h-1.9zM145.34 191.52h1.9v1.9h-1.9zM146.07 186.23h1.9v1.9h-1.9zM147.03 186.92h1.9v1.9h-1.9zM147.8 190.4h1.9v1.9h-1.9zM148.57 185.95h1.9v1.9h-1.9zM149.28 185.01h1.9v1.9h-1.9zM150.15 184.3h1.9v1.9h-1.9zM151.1 186.56h1.9v1.9h-1.9zM152.05 181.52h1.9v1.9h-1.9zM152.78 180.45h1.9v1.9h-1.9zM153.6 182h1.9v1.9h-1.9zM154.44 187.11h1.9v1.9h-1.9zM155.42 176.05h1.9v1.9h-1.9zM156.37 181.96h1.9v1.9h-1.9zM157.2 179.81h1.9v1.9h-1.9zM158.14 182.51h1.9v1.9h-1.9zM159.03 176.59h1.9v1.9h-1.9zM159.84 179h1.9v1.9h-1.9zM160.64 173.22h1.9v1.9h-1.9zM161.45 168.6h1.9v1.9h-1.9zM162.33 164.06h1.9v1.9h-1.9zM163.13 168.06h1.9v1.9h-1.9zM163.92 168.91h1.9v1.9h-1.9zM164.9 166.43h1.9v1.9h-1.9zM165.65 168.03h1.9v1.9h-1.9zM166.45 161.73h1.9v1.9h-1.9zM167.33 147.89h1.9v1.9h-1.9zM168.26 160.95h1.9v1.9h-1.9zM169 155.58h1.9v1.9h-1.9zM169.71 160.13h1.9v1.9h-1.9zM170.44 157.88h1.9v1.9h-1.9zM171.3 152.49h1.9v1.9h-1.9zM172.09 155.73h1.9v1.9h-1.9zM172.9 151.1h1.9v1.9h-1.9zM173.83 162.87h1.9v1.9h-1.9zM174.8 152.65h1.9v1.9h-1.9zM175.5 145h1.9v1.9h-1.9zM176.26 143.06h1.9v1.9h-1.9zM177.13 143.66h1.9v1.9h-1.9zM177.84 141.38h1.9v1.9h-1.9zM178.77 146.62h1.9v1.9h-1.9zM179.51 137.5h1.9v1.9h-1.9zM180.41 150.68h1.9v1.9h-1.9zM181.3 137.03h1.9v1.9h-1.9zM182 136.16h1.9v1.9h-1.9zM182.69 138.21h1.9v1.9h-1.9zM183.6 135.91h1.9v1.9h-1.9zM184.31 132.62h1.9v1.9h-1.9zM185.25 136.18h1.9v1.9h-1.9zM186.07 125.15h1.9v1.9h-1.9zM186.8 126.55h1.9v1.9h-1.9zM187.68 135.88h1.9v1.9h-1.9zM188.56 126.32h1.9v1.9h-1.9zM189.24 126.16h1.9v1.9h-1.9zM190.04 125.28h1.9v1.9h-1.9zM190.81 138.35h1.9v1.9h-1.9zM191.67 129.9h1.9v1.9h-1.9zM192.5 125.03h1.9v1.9h-1.9zM193.39 127.81h1.9v1.9h-1.9zM194.12 125.87h1.9v1.9h-1.9zM194.87 133.54h1.9v1.9h-1.9zM195.84 125.3h1.9v1.9h-1.9zM196.54 133.71h1.9v1.9h-1.9zM197.46 128.79h1.9v1.9h-1.9zM198.14 136.7h1.9v1.9h-1.9zM198.87 136.69h1.9v1.9h-1.9zM199.56 141.42h1.9v1.9h-1.9zM200.38 138.37h1.9v1.9h-1.9zM201.07 134.95h1.9v1.9h-1.9zM202.04 140.15h1.9v1.9h-1.9zM202.78 138.29h1.9v1.9h-1.9zM203.57 139.51h1.9v1.9h-1.9zM204.48 136.87h1.9v1.9h-1.9zM205.34 130.69h1.9v1.9h-1.9zM206.05 139.28h1.9v1.9h-1.9zM206.88 141.88h1.9v1.9h-1.9zM207.75 144.83h1.9v1.9h-1.9zM208.6 146.61h1.9v1.9h-1.9zM209.46 140.47h1.9v1.9h-1.9zM210.3 152.1h1.9v1.9h-1.9zM211.15 135.72h1.9v1.9h-1.9zM212.02 161.42h1.9v1.9h-1.9zM212.78 161.6h1.9v1.9h-1.9zM213.7 162.03h1.9v1.9h-1.9zM214.51 162.87h1.9v1.9h-1.9zM215.26 158.75h1.9v1.9h-1.9zM215.94 170.06h1.9v1.9h-1.9zM216.88 153.42h1.9v1.9h-1.9zM217.78 167.55h1.9v1.9h-1.9zM218.75 174.79h1.9v1.9h-1.9zM219.42 171.97h1.9v1.9h-1.9zM220.23 183.18h1.9v1.9h-1.9zM221.12 177.17h1.9v1.9h-1.9zM221.89 179.45h1.9v1.9h-1.9zM222.62 181.64h1.9v1.9h-1.9zM223.49 182.87h1.9v1.9h-1.9zM224.22 186.82h1.9v1.9h-1.9zM225.2 187.46h1.9v1.9h-1.9zM226.14 191.04h1.9v1.9h-1.9zM227.03 192.14h1.9v1.9h-1.9zM227.91 197.41h1.9v1.9h-1.9zM228.78 193.2h1.9v1.9h-1.9zM229.5 193.14h1.9v1.9h-1.9zM230.25 196.26h1.9v1.9h-1.9zM230.92 199.7h1.9v1.9h-1.9zM231.85 204.1h1.9v1.9h-1.9zM232.67 205.71h1.9v1.9h-1.9zM233.53 204.71h1.9v1.9h-1.9zM234.31 204.53h1.9v1.9h-1.9zM235.08 209.45h1.9v1.9h-1.9zM235.85 213.77h1.9v1.9h-1.9zM236.65 220.78h1.9v1.9h-1.9zM237.51 209.59h1.9v1.9h-1.9zM238.39 209.45h1.9v1.9h-1.9zM239.21 209.85h1.9v1.9h-1.9zM239.91 214.01h1.9v1.9h-1.9zM240.59 214.3h1.9v1.9h-1.9zM241.4 211.66h1.9v1.9h-1.9zM242.12 213.57h1.9v1.9h-1.9zM242.9 214.75h1.9v1.9h-1.9zM243.87 214.36h1.9v1.9h-1.9zM244.78 220.84h1.9v1.9h-1.9zM245.64 220.33h1.9v1.9h-1.9zM246.35 216.64h1.9v1.9h-1.9zM247.22 221.92h1.9v1.9h-1.9zM248.09 220.6h1.9v1.9h-1.9zM249 226.26h1.9v1.9h-1.9zM249.79 226.36h1.9v1.9h-1.9zM250.7 223.3h1.9v1.9h-1.9zM252.4 225.16h1.9v1.9h-1.9zM253.34 224.22h1.9v1.9h-1.9zM254.07 221.47h1.9v1.9h-1.9zM254.76 223.6h1.9v1.9h-1.9zM255.53 230.39h1.9v1.9h-1.9zM256.22 226.32h1.9v1.9h-1.9zM258.04 229.46h1.9v1.9h-1.9zM258.97 225.28h1.9v1.9h-1.9zM259.74 231.08h1.9v1.9h-1.9zM260.45 226.4h1.9v1.9h-1.9zM261.29 230.53h1.9v1.9h-1.9zM262.21 224.54h1.9v1.9h-1.9zM263.05 231.09h1.9v1.9h-1.9zM263.98 232.67h1.9v1.9h-1.9zM264.79 231.55h1.9v1.9h-1.9zM265.76 231.39h1.9v1.9h-1.9zM268.98 232.82h1.9v1.9h-1.9zM273.36 231.64h1.9v1.9h-1.9zM274.14 221.87h1.9v1.9h-1.9zM275.75 231.28h1.9v1.9h-1.9z" fill="#0c168c"/>
<path d="M31.8 223.74 L32.32 223.41 L32.83 223.07 L33.35 222.74 L33.86 222.41 L34.38 222.08 L34.89 221.75 L35.41 221.42 L35.93 221.09 L36.44 220.76 L36.96 220.42 L37.47 220.09 L37.99 219.75 L38.51 219.41 L39.02 219.07 L39.54 218.72 L40.05 218.37 L40.57 218.02 L41.08 217.66 L41.6 217.3 L42.12 216.93 L42.63 216.56 L43.15 216.19 L43.66 215.81 L44.18 215.43 L44.7 215.05 L45.21 214.67 L45.73 214.29 L46.24 213.91 L46.76 213.52 L47.27 213.14 L47.79 212.75 L48.31 212.37 L48.82 211.99 L49.34 211.61 L49.85 211.23 L50.37 210.85 L50.88 210.48 L51.4 210.11 L51.92 209.75 L52.43 209.38 L52.95 209.03 L53.46 208.68 L53.98 208.33 L54.5 207.99 L55.01 207.65 L55.53 207.32 L56.04 206.99 L56.56 206.66 L57.07 206.32 L57.59 205.99 L58.11 205.66 L58.62 205.32 L59.14 204.98 L59.65 204.64 L60.17 204.28 L60.68 203.93 L61.2 203.56 L61.72 203.19 L62.23 202.81 L62.75 202.42 L63.26 202.02 L63.78 201.63 L64.3 201.24 L64.81 200.85 L65.33 200.45 L65.84 200.05 L66.36 199.65 L66.87 199.23 L67.39 198.81 L67.91 198.38 L68.42 197.93 L68.94 197.47 L69.45 196.99 L69.97 196.5 L70.48 195.99 L71 195.45 L71.52 194.89 L72.03 194.28 L72.55 193.65 L73.06 192.99 L73.58 192.31 L74.1 191.61 L74.61 190.9 L75.13 190.2 L75.64 189.49 L76.16 188.79 L76.67 188.11 L77.19 187.45 L77.71 186.81 L78.22 186.2 L78.74 185.63 L79.25 185.1 L79.77 184.59 L80.29 184.11 L80.8 183.64 L81.32 183.19 L81.83 182.76 L82.35 182.34 L82.86 181.93 L83.38 181.54 L83.9 181.17 L84.41 180.8 L84.93 180.45 L85.44 180.1 L85.96 179.76 L86.47 179.43 L86.99 179.11 L87.51 178.79 L88.02 178.49 L88.54 178.2 L89.05 177.93 L89.57 177.66 L90.09 177.41 L90.6 177.16 L91.12 176.92 L91.63 176.7 L92.15 176.48 L92.66 176.27 L93.18 176.06 L93.7 175.86 L94.21 175.67 L94.73 175.48 L95.24 175.3 L95.76 175.13 L96.27 174.96 L96.79 174.8 L97.31 174.65 L97.82 174.51 L98.34 174.37 L98.85 174.24 L99.37 174.12 L99.89 174.01 L100.4 173.9 L100.92 173.8 L101.43 173.7 L101.95 173.61 L102.46 173.53 L102.98 173.46 L103.5 173.39 L104.01 173.33 L104.53 173.28 L105.04 173.24 L105.56 173.21 L106.08 173.18 L106.59 173.16 L107.11 173.15 L107.62 173.14 L108.14 173.13 L108.65 173.13 L109.17 173.13 L109.69 173.13 L110.2 173.13 L110.72 173.14 L111.23 173.14 L111.75 173.13 L112.26 173.12 L112.78 173.12 L113.3 173.14 L113.81 173.21 L114.33 173.32 L114.84 173.48 L115.36 173.67 L115.88 173.9 L116.39 174.16 L116.91 174.45 L117.42 174.77 L117.94 175.1 L118.45 175.45 L118.97 175.82 L119.49 176.19 L120 176.57 L120.52 176.96 L121.03 177.34 L121.55 177.71 L122.06 178.08 L122.58 178.46 L123.1 178.84 L123.61 179.22 L124.13 179.62 L124.64 180.03 L125.16 180.45 L125.68 180.88 L126.19 181.32 L126.71 181.81 L127.22 182.32 L127.74 182.86 L128.25 183.4 L128.77 183.94 L129.29 184.47 L129.8 184.98 L130.32 185.45 L130.83 185.88 L131.35 186.25 L131.87 186.58 L132.38 186.87 L132.9 187.12 L133.41 187.34 L133.93 187.53 L134.44 187.7 L134.96 187.85 L135.48 187.98 L135.99 188.11 L136.51 188.23 L137.02 188.35 L137.54 188.47 L138.05 188.61 L138.57 188.75 L139.09 188.92 L139.6 189.1 L140.12 189.31 L140.63 189.53 L141.15 189.75 L141.67 189.98 L142.18 190.19 L142.7 190.39 L143.21 190.57 L143.73 190.72 L144.24 190.83 L144.76 190.89 L145.28 190.91 L145.79 190.87 L146.31 190.81 L146.82 190.71 L147.34 190.59 L147.85 190.43 L148.37 190.24 L148.89 190.03 L149.4 189.79 L149.92 189.52 L150.43 189.23 L150.95 188.92 L151.47 188.58 L151.98 188.22 L152.5 187.84 L153.01 187.43 L153.53 186.99 L154.04 186.51 L154.56 185.99 L155.08 185.43 L155.59 184.8 L156.11 184.11 L156.62 183.37 L157.14 182.59 L157.66 181.77 L158.17 180.92 L158.69 180.05 L159.2 179.16 L159.72 178.26 L160.23 177.36 L160.75 176.46 L161.27 175.57 L161.78 174.7 L162.3 173.83 L162.81 172.94 L163.33 172.04 L163.84 171.13 L164.36 170.2 L164.88 169.28 L165.39 168.35 L165.91 167.42 L166.42 166.49 L166.94 165.56 L167.46 164.65 L167.97 163.74 L168.49 162.85 L169 161.98 L169.52 161.12 L170.03 160.27 L170.55 159.43 L171.07 158.6 L171.58 157.78 L172.1 156.96 L172.61 156.15 L173.13 155.34 L173.65 154.53 L174.16 153.73 L174.68 152.93 L175.19 152.13 L175.71 151.34 L176.22 150.53 L176.74 149.73 L177.26 148.92 L177.77 148.1 L178.29 147.25 L178.8 146.4 L179.32 145.54 L179.83 144.68 L180.35 143.82 L180.87 142.97 L181.38 142.14 L181.9 141.32 L182.41 140.53 L182.93 139.77 L183.45 139.04 L183.96 138.34 L184.48 137.7 L184.99 137.09 L185.51 136.5 L186.02 135.93 L186.54 135.37 L187.06 134.83 L187.57 134.32 L188.09 133.83 L188.6 133.37 L189.12 132.95 L189.63 132.56 L190.15 132.22 L190.67 131.92 L191.18 131.66 L191.7 131.46 L192.21 131.3 L192.73 131.21 L193.25 131.16 L193.76 131.17 L194.28 131.22 L194.79 131.32 L195.31 131.46 L195.82 131.65 L196.34 131.87 L196.86 132.14 L197.37 132.45 L197.89 132.8 L198.4 133.18 L198.92 133.6 L199.44 134.05 L199.95 134.54 L200.47 135.06 L200.98 135.61 L201.5 136.2 L202.01 136.83 L202.53 137.49 L203.05 138.17 L203.56 138.87 L204.08 139.59 L204.59 140.34 L205.11 141.11 L205.62 141.91 L206.14 142.73 L206.66 143.58 L207.17 144.45 L207.69 145.35 L208.2 146.27 L208.72 147.23 L209.24 148.22 L209.75 149.25 L210.27 150.3 L210.78 151.37 L211.3 152.46 L211.81 153.57 L212.33 154.68 L212.85 155.81 L213.36 156.93 L213.88 158.07 L214.39 159.23 L214.91 160.41 L215.42 161.61 L215.94 162.82 L216.46 164.04 L216.97 165.28 L217.49 166.53 L218 167.79 L218.52 169.06 L219.04 170.33 L219.55 171.6 L220.07 172.87 L220.58 174.15 L221.1 175.42 L221.61 176.68 L222.13 177.94 L222.65 179.2 L223.16 180.44 L223.68 181.7 L224.19 182.97 L224.71 184.26 L225.22 185.54 L225.74 186.83 L226.26 188.11 L226.77 189.38 L227.29 190.64 L227.8 191.88 L228.32 193.1 L228.84 194.29 L229.35 195.45 L229.87 196.58 L230.38 197.7 L230.9 198.81 L231.41 199.9 L231.93 200.98 L232.45 202.04 L232.96 203.08 L233.48 204.09 L233.99 205.08 L234.51 206.03 L235.03 206.95 L235.54 207.84 L236.06 208.69 L236.57 209.5 L237.09 210.25 L237.6 210.95 L238.12 211.62 L238.64 212.24 L239.15 212.83 L239.67 213.39 L240.18 213.93 L240.7 214.45 L241.21 214.96 L241.73 215.46 L242.25 215.96 L242.76 216.47 L243.28 216.98 L243.79 217.5 L244.31 218.04 L244.83 218.59 L245.34 219.13 L245.86 219.68 L246.37 220.23 L246.89 220.77 L247.4 221.3 L247.92 221.83 L248.44 222.34 L248.95 222.85 L249.47 223.34 L249.98 223.81 L250.5 224.27 L251.02 224.71 L251.53 225.12 L252.05 225.51 L252.56 225.88 L253.08 226.23 L253.59 226.57 L254.11 226.89 L254.63 227.19 L255.14 227.49 L255.66 227.77 L256.17 228.05 L256.69 228.33 L257.2 228.6 L257.72 228.87 L258.24 229.15 L258.75 229.43 L259.27 229.71 L259.78 229.99 L260.3 230.27 L260.82 230.55 L261.33 230.82 L261.85 231.09 L262.36 231.35 L262.88 231.6 L263.39 231.84 L263.91 232.06 L264.43 232.27 L264.94 232.46 L265.46 232.64 L265.97 232.81 L266.49 232.97 L267 233.11 L267.52 233.25 L268.04 233.37 L268.55 233.49 L269.07 233.6 L269.58 233.7 L270.1 233.79 L270.62 233.88 L271.13 233.97 L271.65 234.04 L272.16 234.12 L272.68 234.18 L273.19 234.23 L273.71 234.27 L274.23 234.31 L274.74 234.34 L275.26 234.36 L275.77 234.37 L276.29 234.39 L276.81 234.39 L277.32 234.4 L277.84 234.4 L278.35 234.4 L278.87 234.4 L279.38 234.4 L279.9 234.4 L280.42 234.4 L280.93 234.4 L281.45 234.4 L281.96 234.4 L282.48 234.4 L282.99 234.4 L283.51 234.4 L284.03 234.4 L284.54 234.4 L285.06 234.4 L285.57 234.4 L286.09 234.4 L286.61 234.4 L287.12 234.4 L287.64 234.4 L288.15 234.4 L288.67 234.4 L289.18 234.4 L289.7 234.4 L290.22 234.4 L290.73 234.4 L291.25 234.4 L291.76 234.4 L292.28 234.4 L292.79 234.4 L293.31 234.4 L293.83 234.4 L294.34 234.4 L294.86 234.4 L295.37 234.4 L295.89 234.4 L296.41 234.4 L296.92 234.4 L297.44 234.4 L297.95 234.4 L298.47 234.4 L298.98 234.4 L299.5 234.4 L300.02 234.4 L300.53 234.4 L301.05 234.4 L301.56 234.4 L302.08 234.4 L302.6 234.4 L303.11 234.4 L303.63 234.4 L304.14 234.4 L304.66 234.4 L305.17 234.4 L305.69 234.4 L306.21 234.4 L306.72 234.4 L307.24 234.4 L307.75 234.4 L308.27 234.4 L308.78 234.4 L309.3 234.4 L309.82 234.4 L310.33 234.4 L310.85 234.4 L311.36 234.4 L311.88 234.4 L312.4 234.4 L312.91 234.4 L313.43 234.4 L313.94 234.4 L314.46 234.4 L314.97 234.4 L315.49 234.4 L316.01 234.4 L316.52 234.4 L317.04 234.4 L317.55 234.4 L318.07 234.4 L318.58 234.4 L319.1 234.4 L319.62 234.4 L320.13 234.4 L320.65 234.4 L321.16 234.4 L321.68 234.4 L322.2 234.4 L322.71 234.4 L323.23 234.4 L323.74 234.4 L324.26 234.4 L324.77 234.4 L325.29 234.4 L325.81 234.4 L326.32 234.4 L326.84 234.4 L327.35 234.4 L327.87 234.4 L328.38 234.4 L328.9 234.4" fill="none" stroke="#0c168c" stroke-width="2" stroke-linejoin="round" stroke-linecap="round"/>
<path d="M32.28 229.59h1.9v1.9h-1.9zM32.99 226.95h1.9v1.9h-1.9zM33.74 228.04h1.9v1.9h-1.9zM34.56 229.43h1.9v1.9h-1.9zM35.31 226.77h1.9v1.9h-1.9zM35.99 227.23h1.9v1.9h-1.9zM36.91 224.88h1.9v1.9h-1.9zM37.61 225.16h1.9v1.9h-1.9zM38.53 230.41h1.9v1.9h-1.9zM39.35 225.71h1.9v1.9h-1.9zM40.13 223.54h1.9v1.9h-1.9zM40.87 220.4h1.9v1.9h-1.9zM41.54 224.71h1.9v1.9h-1.9zM42.25 223.52h1.9v1.9h-1.9zM43.1 232.29h1.9v1.9h-1.9zM43.86 224.4h1.9v1.9h-1.9zM44.58 224.83h1.9v1.9h-1.9zM45.36 222.27h1.9v1.9h-1.9zM46.06 223.5h1.9v1.9h-1.9zM46.87 220.46h1.9v1.9h-1.9zM47.85 221.54h1.9v1.9h-1.9zM48.69 220.38h1.9v1.9h-1.9zM49.58 217.02h1.9v1.9h-1.9zM50.49 220.2h1.9v1.9h-1.9zM51.31 218.37h1.9v1.9h-1.9zM52.19 219.9h1.9v1.9h-1.9zM52.9 219.73h1.9v1.9h-1.9zM53.87 211.13h1.9v1.9h-1.9zM54.74 215.18h1.9v1.9h-1.9zM55.52 219.95h1.9v1.9h-1.9zM56.2 221.64h1.9v1.9h-1.9zM57.03 216.32h1.9v1.9h-1.9zM57.73 220.59h1.9v1.9h-1.9zM58.52 217.65h1.9v1.9h-1.9zM59.2 218.55h1.9v1.9h-1.9zM60.1 217.8h1.9v1.9h-1.9zM60.9 219.12h1.9v1.9h-1.9zM61.8 209.75h1.9v1.9h-1.9zM62.49 211.25h1.9v1.9h-1.9zM63.21 217.33h1.9v1.9h-1.9zM63.97 212.3h1.9v1.9h-1.9zM64.78 215.9h1.9v1.9h-1.9zM65.6 211.34h1.9v1.9h-1.9zM66.37 214.28h1.9v1.9h-1.9zM67.25 212.13h1.9v1.9h-1.9zM67.94 211.82h1.9v1.9h-1.9zM68.84 215.53h1.9v1.9h-1.9zM69.77 213.48h1.9v1.9h-1.9zM70.55 198.31h1.9v1.9h-1.9zM71.46 211.18h1.9v1.9h-1.9zM72.37 210.3h1.9v1.9h-1.9zM73.1 209.55h1.9v1.9h-1.9zM73.81 209.96h1.9v1.9h-1.9zM74.72 211.12h1.9v1.9h-1.9zM75.54 209.24h1.9v1.9h-1.9zM76.51 207.6h1.9v1.9h-1.9zM77.27 211.31h1.9v1.9h-1.9zM78.12 208.11h1.9v1.9h-1.9zM78.96 205.05h1.9v1.9h-1.9zM79.87 209.18h1.9v1.9h-1.9zM80.56 208.69h1.9v1.9h-1.9zM81.31 208.45h1.9v1.9h-1.9zM81.99 207.77h1.9v1.9h-1.9zM82.94 205.67h1.9v1.9h-1.9zM83.73 208.36h1.9v1.9h-1.9zM84.54 209.26h1.9v1.9h-1.9zM85.45 208.96h1.9v1.9h-1.9zM86.29 208.29h1.9v1.9h-1.9zM87.04 207.75h1.9v1.9h-1.9zM87.89 208.76h1.9v1.9h-1.9zM88.83 202.66h1.9v1.9h-1.9zM89.74 206.43h1.9v1.9h-1.9zM90.55 208.01h1.9v1.9h-1.9zM91.22 204.35h1.9v1.9h-1.9zM92.05 207.94h1.9v1.9h-1.9zM92.77 205.22h1.9v1.9h-1.9zM93.57 203.03h1.9v1.9h-1.9zM94.44 202.77h1.9v1.9h-1.9zM95.29 213.25h1.9v1.9h-1.9zM96.16 208.53h1.9v1.9h-1.9zM97 209.12h1.9v1.9h-1.9zM97.93 206.97h1.9v1.9h-1.9zM98.88 205.6h1.9v1.9h-1.9zM99.65 215.89h1.9v1.9h-1.9zM100.56 207.98h1.9v1.9h-1.9zM101.26 208.56h1.9v1.9h-1.9zM101.96 201.25h1.9v1.9h-1.9zM102.93 199.23h1.9v1.9h-1.9zM103.74 206.62h1.9v1.9h-1.9zM104.45 205.55h1.9v1.9h-1.9zM105.18 201.15h1.9v1.9h-1.9zM106.1 200.01h1.9v1.9h-1.9zM107.06 198.86h1.9v1.9h-1.9zM107.93 203.5h1.9v1.9h-1.9zM108.87 205.84h1.9v1.9h-1.9zM109.74 206.79h1.9v1.9h-1.9zM110.6 204.23h1.9v1.9h-1.9zM111.38 203h1.9v1.9h-1.9zM112.15 206.61h1.9v1.9h-1.9zM112.86 206.89h1.9v1.9h-1.9zM113.57 205.63h1.9v1.9h-1.9zM114.3 204.34h1.9v1.9h-1.9zM115.2 205.39h1.9v1.9h-1.9zM115.87 207.3h1.9v1.9h-1.9zM116.61 206.63h1.9v1.9h-1.9zM117.42 206.74h1.9v1.9h-1.9zM118.33 207.78h1.9v1.9h-1.9zM119.16 208.89h1.9v1.9h-1.9zM119.89 206.75h1.9v1.9h-1.9zM120.7 212.9h1.9v1.9h-1.9zM121.46 205.5h1.9v1.9h-1.9zM122.37 207.14h1.9v1.9h-1.9zM123.14 204.08h1.9v1.9h-1.9zM123.86 199.24h1.9v1.9h-1.9zM124.73 210.21h1.9v1.9h-1.9zM125.65 208.48h1.9v1.9h-1.9zM126.61 210.23h1.9v1.9h-1.9zM127.46 209.86h1.9v1.9h-1.9zM128.39 208.75h1.9v1.9h-1.9zM129.34 208.95h1.9v1.9h-1.9zM130.05 211.48h1.9v1.9h-1.9zM130.79 208.27h1.9v1.9h-1.9zM131.58 205.65h1.9v1.9h-1.9zM132.32 206.22h1.9v1.9h-1.9zM133.11 208.49h1.9v1.9h-1.9zM134.07 209.24h1.9v1.9h-1.9zM134.92 210.39h1.9v1.9h-1.9zM135.76 208.2h1.9v1.9h-1.9zM136.59 209.79h1.9v1.9h-1.9zM137.35 204.81h1.9v1.9h-1.9zM138.27 214.94h1.9v1.9h-1.9zM139.11 204.79h1.9v1.9h-1.9zM139.92 207.28h1.9v1.9h-1.9zM140.72 209.95h1.9v1.9h-1.9zM141.55 212.53h1.9v1.9h-1.9zM142.27 209.12h1.9v1.9h-1.9zM143.15 210.43h1.9v1.9h-1.9zM143.93 222.82h1.9v1.9h-1.9zM144.77 221.18h1.9v1.9h-1.9zM145.6 211.39h1.9v1.9h-1.9zM146.34 207.54h1.9v1.9h-1.9zM147.06 208.14h1.9v1.9h-1.9zM147.92 209.81h1.9v1.9h-1.9zM148.68 208.79h1.9v1.9h-1.9zM149.53 209.27h1.9v1.9h-1.9zM150.26 214.11h1.9v1.9h-1.9zM150.98 205.51h1.9v1.9h-1.9zM151.73 204.28h1.9v1.9h-1.9zM152.55 207.09h1.9v1.9h-1.9zM153.27 201.79h1.9v1.9h-1.9zM154.17 203.56h1.9v1.9h-1.9zM155.12 198.14h1.9v1.9h-1.9zM155.97 203.7h1.9v1.9h-1.9zM156.67 205.64h1.9v1.9h-1.9zM157.46 195.9h1.9v1.9h-1.9zM158.32 200.05h1.9v1.9h-1.9zM159.01 200.75h1.9v1.9h-1.9zM159.79 192.77h1.9v1.9h-1.9zM160.74 199.47h1.9v1.9h-1.9zM161.53 194.52h1.9v1.9h-1.9zM162.42 185.52h1.9v1.9h-1.9zM163.16 190.24h1.9v1.9h-1.9zM163.97 196h1.9v1.9h-1.9zM164.85 192.13h1.9v1.9h-1.9zM165.55 180.43h1.9v1.9h-1.9zM166.44 182.42h1.9v1.9h-1.9zM167.42 189.68h1.9v1.9h-1.9zM168.21 180.55h1.9v1.9h-1.9zM168.9 182.66h1.9v1.9h-1.9zM169.63 182h1.9v1.9h-1.9zM170.52 178.65h1.9v1.9h-1.9zM171.44 174.56h1.9v1.9h-1.9zM172.28 173.28h1.9v1.9h-1.9zM173.12 175.41h1.9v1.9h-1.9zM174.08 170.23h1.9v1.9h-1.9zM174.8 172.39h1.9v1.9h-1.9zM175.76 165.96h1.9v1.9h-1.9zM176.59 167.41h1.9v1.9h-1.9zM177.51 164.37h1.9v1.9h-1.9zM178.36 162.04h1.9v1.9h-1.9zM179.13 159.45h1.9v1.9h-1.9zM180.06 157.75h1.9v1.9h-1.9zM180.89 152.35h1.9v1.9h-1.9zM181.86 137.7h1.9v1.9h-1.9zM182.58 146.98h1.9v1.9h-1.9zM183.47 124.28h1.9v1.9h-1.9zM184.32 143.1h1.9v1.9h-1.9zM185.1 140.41h1.9v1.9h-1.9zM185.87 135.43h1.9v1.9h-1.9zM186.54 142.06h1.9v1.9h-1.9zM187.45 131.01h1.9v1.9h-1.9zM188.21 127.34h1.9v1.9h-1.9zM189.12 128.2h1.9v1.9h-1.9zM190.04 118.14h1.9v1.9h-1.9zM190.86 121.83h1.9v1.9h-1.9zM191.68 120.08h1.9v1.9h-1.9zM192.36 112.22h1.9v1.9h-1.9zM193.07 106.03h1.9v1.9h-1.9zM193.74 111.37h1.9v1.9h-1.9zM194.46 103.15h1.9v1.9h-1.9zM195.43 104.72h1.9v1.9h-1.9zM196.23 98.69h1.9v1.9h-1.9zM196.96 97.72h1.9v1.9h-1.9zM197.82 97.98h1.9v1.9h-1.9zM198.69 88.46h1.9v1.9h-1.9zM199.38 94.58h1.9v1.9h-1.9zM200.22 100.96h1.9v1.9h-1.9zM201.07 90.62h1.9v1.9h-1.9zM201.85 93.58h1.9v1.9h-1.9zM202.57 78.25h1.9v1.9h-1.9zM203.45 87.35h1.9v1.9h-1.9zM204.35 82.86h1.9v1.9h-1.9zM205.02 76.97h1.9v1.9h-1.9zM205.92 65.2h1.9v1.9h-1.9zM206.72 63.91h1.9v1.9h-1.9zM207.6 74.87h1.9v1.9h-1.9zM208.52 74.58h1.9v1.9h-1.9zM209.45 70.68h1.9v1.9h-1.9zM210.14 67.77h1.9v1.9h-1.9zM210.82 63.31h1.9v1.9h-1.9zM211.65 64.46h1.9v1.9h-1.9zM212.35 62.7h1.9v1.9h-1.9zM213.32 65.67h1.9v1.9h-1.9zM214.27 64.41h1.9v1.9h-1.9zM215.09 63.98h1.9v1.9h-1.9zM215.82 62.23h1.9v1.9h-1.9zM216.71 61.26h1.9v1.9h-1.9zM217.56 53.67h1.9v1.9h-1.9zM218.48 59.05h1.9v1.9h-1.9zM219.2 58.02h1.9v1.9h-1.9zM220.15 54.69h1.9v1.9h-1.9zM220.9 52.9h1.9v1.9h-1.9zM221.78 57.3h1.9v1.9h-1.9zM222.56 60.04h1.9v1.9h-1.9zM223.27 53.74h1.9v1.9h-1.9zM224.02 59.24h1.9v1.9h-1.9zM224.78 55.54h1.9v1.9h-1.9zM225.59 54.48h1.9v1.9h-1.9zM226.48 52.07h1.9v1.9h-1.9zM227.27 63.4h1.9v1.9h-1.9zM228.2 61.35h1.9v1.9h-1.9zM228.96 60.74h1.9v1.9h-1.9zM229.69 65.47h1.9v1.9h-1.9zM230.5 67.03h1.9v1.9h-1.9zM231.41 69.04h1.9v1.9h-1.9zM232.21 76.22h1.9v1.9h-1.9zM232.92 76.21h1.9v1.9h-1.9zM233.86 77.89h1.9v1.9h-1.9zM234.75 77.04h1.9v1.9h-1.9zM235.62 66.32h1.9v1.9h-1.9zM236.39 84.39h1.9v1.9h-1.9zM237.3 86.74h1.9v1.9h-1.9zM238.13 91.58h1.9v1.9h-1.9zM238.99 96.53h1.9v1.9h-1.9zM239.89 97.74h1.9v1.9h-1.9zM240.72 101.2h1.9v1.9h-1.9zM241.44 107.87h1.9v1.9h-1.9zM242.22 118.05h1.9v1.9h-1.9zM242.95 110.41h1.9v1.9h-1.9zM243.82 111.4h1.9v1.9h-1.9zM244.7 117.49h1.9v1.9h-1.9zM245.58 120.3h1.9v1.9h-1.9zM246.29 123.16h1.9v1.9h-1.9zM247.19 129.06h1.9v1.9h-1.9zM247.87 132.94h1.9v1.9h-1.9zM248.7 126.12h1.9v1.9h-1.9zM249.62 133.1h1.9v1.9h-1.9zM250.51 143.58h1.9v1.9h-1.9zM251.38 147.04h1.9v1.9h-1.9zM252.33 149.51h1.9v1.9h-1.9zM253.21 152.83h1.9v1.9h-1.9zM254.09 155.3h1.9v1.9h-1.9zM254.81 146.35h1.9v1.9h-1.9zM255.67 167.09h1.9v1.9h-1.9zM256.44 170.92h1.9v1.9h-1.9zM257.24 174.9h1.9v1.9h-1.9zM257.96 186.46h1.9v1.9h-1.9zM258.82 177.22h1.9v1.9h-1.9zM259.6 177.39h1.9v1.9h-1.9zM260.45 186.06h1.9v1.9h-1.9zM261.32 186.48h1.9v1.9h-1.9zM262.22 193.78h1.9v1.9h-1.9zM263.19 201.74h1.9v1.9h-1.9zM263.98 192.82h1.9v1.9h-1.9zM264.71 202h1.9v1.9h-1.9zM265.42 199.49h1.9v1.9h-1.9zM266.21 201.66h1.9v1.9h-1.9zM267.11 204.19h1.9v1.9h-1.9zM268.03 208.21h1.9v1.9h-1.9zM268.89 206.15h1.9v1.9h-1.9zM269.85 206.7h1.9v1.9h-1.9zM270.69 212.88h1.9v1.9h-1.9zM271.51 214.3h1.9v1.9h-1.9zM272.39 220.86h1.9v1.9h-1.9zM273.09 220.25h1.9v1.9h-1.9zM273.86 221.63h1.9v1.9h-1.9zM274.72 221.31h1.9v1.9h-1.9zM275.4 226.23h1.9v1.9h-1.9zM276.23 226.14h1.9v1.9h-1.9zM276.93 222.42h1.9v1.9h-1.9zM277.86 226.34h1.9v1.9h-1.9zM278.57 218.74h1.9v1.9h-1.9zM279.3 231.33h1.9v1.9h-1.9z" fill="#a89a18"/>
<path d="M31.8 229.43 L32.32 229.29 L32.83 229.17 L33.35 229.04 L33.86 228.92 L34.38 228.8 L34.89 228.68 L35.41 228.55 L35.93 228.43 L36.44 228.31 L36.96 228.18 L37.47 228.04 L37.99 227.9 L38.51 227.76 L39.02 227.61 L39.54 227.45 L40.05 227.28 L40.57 227.1 L41.08 226.91 L41.6 226.71 L42.12 226.5 L42.63 226.28 L43.15 226.06 L43.66 225.83 L44.18 225.59 L44.7 225.34 L45.21 225.1 L45.73 224.84 L46.24 224.58 L46.76 224.32 L47.27 224.05 L47.79 223.79 L48.31 223.52 L48.82 223.24 L49.34 222.97 L49.85 222.7 L50.37 222.42 L50.88 222.15 L51.4 221.88 L51.92 221.61 L52.43 221.35 L52.95 221.08 L53.46 220.82 L53.98 220.57 L54.5 220.32 L55.01 220.07 L55.53 219.83 L56.04 219.59 L56.56 219.36 L57.07 219.12 L57.59 218.89 L58.11 218.65 L58.62 218.41 L59.14 218.18 L59.65 217.94 L60.17 217.71 L60.68 217.48 L61.2 217.24 L61.72 217.01 L62.23 216.78 L62.75 216.55 L63.26 216.32 L63.78 216.1 L64.3 215.87 L64.81 215.64 L65.33 215.42 L65.84 215.2 L66.36 214.98 L66.87 214.76 L67.39 214.54 L67.91 214.33 L68.42 214.11 L68.94 213.9 L69.45 213.69 L69.97 213.49 L70.48 213.28 L71 213.08 L71.52 212.88 L72.03 212.67 L72.55 212.47 L73.06 212.27 L73.58 212.07 L74.1 211.86 L74.61 211.66 L75.13 211.47 L75.64 211.27 L76.16 211.08 L76.67 210.89 L77.19 210.71 L77.71 210.53 L78.22 210.36 L78.74 210.19 L79.25 210.03 L79.77 209.88 L80.29 209.73 L80.8 209.6 L81.32 209.46 L81.83 209.34 L82.35 209.21 L82.86 209.1 L83.38 208.98 L83.9 208.87 L84.41 208.77 L84.93 208.66 L85.44 208.56 L85.96 208.46 L86.47 208.36 L86.99 208.26 L87.51 208.15 L88.02 208.05 L88.54 207.95 L89.05 207.85 L89.57 207.75 L90.09 207.65 L90.6 207.56 L91.12 207.46 L91.63 207.37 L92.15 207.27 L92.66 207.19 L93.18 207.1 L93.7 207.02 L94.21 206.94 L94.73 206.86 L95.24 206.79 L95.76 206.72 L96.27 206.65 L96.79 206.59 L97.31 206.53 L97.82 206.47 L98.34 206.41 L98.85 206.36 L99.37 206.31 L99.89 206.26 L100.4 206.21 L100.92 206.17 L101.43 206.13 L101.95 206.1 L102.46 206.07 L102.98 206.04 L103.5 206.02 L104.01 206 L104.53 205.99 L105.04 205.98 L105.56 205.97 L106.08 205.97 L106.59 205.98 L107.11 205.98 L107.62 206 L108.14 206.01 L108.65 206.03 L109.17 206.06 L109.69 206.08 L110.2 206.11 L110.72 206.15 L111.23 206.19 L111.75 206.23 L112.26 206.28 L112.78 206.33 L113.3 206.39 L113.81 206.44 L114.33 206.51 L114.84 206.57 L115.36 206.65 L115.88 206.72 L116.39 206.8 L116.91 206.89 L117.42 206.99 L117.94 207.09 L118.45 207.2 L118.97 207.31 L119.49 207.42 L120 207.54 L120.52 207.66 L121.03 207.79 L121.55 207.91 L122.06 208.03 L122.58 208.16 L123.1 208.28 L123.61 208.41 L124.13 208.53 L124.64 208.64 L125.16 208.76 L125.68 208.87 L126.19 208.98 L126.71 209.1 L127.22 209.21 L127.74 209.32 L128.25 209.44 L128.77 209.55 L129.29 209.66 L129.8 209.77 L130.32 209.87 L130.83 209.97 L131.35 210.07 L131.87 210.17 L132.38 210.28 L132.9 210.38 L133.41 210.49 L133.93 210.6 L134.44 210.7 L134.96 210.8 L135.48 210.89 L135.99 210.97 L136.51 211.05 L137.02 211.11 L137.54 211.16 L138.05 211.2 L138.57 211.22 L139.09 211.23 L139.6 211.23 L140.12 211.22 L140.63 211.21 L141.15 211.19 L141.67 211.16 L142.18 211.12 L142.7 211.06 L143.21 211 L143.73 210.92 L144.24 210.82 L144.76 210.7 L145.28 210.57 L145.79 210.41 L146.31 210.23 L146.82 210.02 L147.34 209.8 L147.85 209.55 L148.37 209.29 L148.89 209.01 L149.4 208.71 L149.92 208.39 L150.43 208.05 L150.95 207.7 L151.47 207.32 L151.98 206.93 L152.5 206.51 L153.01 206.08 L153.53 205.63 L154.04 205.16 L154.56 204.66 L155.08 204.15 L155.59 203.61 L156.11 203.06 L156.62 202.48 L157.14 201.88 L157.66 201.26 L158.17 200.62 L158.69 199.96 L159.2 199.29 L159.72 198.6 L160.23 197.89 L160.75 197.16 L161.27 196.42 L161.78 195.66 L162.3 194.89 L162.81 194.1 L163.33 193.3 L163.84 192.48 L164.36 191.63 L164.88 190.77 L165.39 189.89 L165.91 188.99 L166.42 188.08 L166.94 187.15 L167.46 186.21 L167.97 185.25 L168.49 184.28 L169 183.3 L169.52 182.31 L170.03 181.31 L170.55 180.3 L171.07 179.28 L171.58 178.25 L172.1 177.23 L172.61 176.22 L173.13 175.21 L173.65 174.19 L174.16 173.15 L174.68 172.1 L175.19 171 L175.71 169.87 L176.22 168.69 L176.74 167.46 L177.26 166.15 L177.77 164.79 L178.29 163.36 L178.8 161.89 L179.32 160.38 L179.83 158.84 L180.35 157.27 L180.87 155.68 L181.38 154.08 L181.9 152.49 L182.41 150.89 L182.93 149.29 L183.45 147.68 L183.96 146.04 L184.48 144.39 L184.99 142.73 L185.51 141.06 L186.02 139.38 L186.54 137.7 L187.06 136.01 L187.57 134.32 L188.09 132.64 L188.6 130.92 L189.12 129.19 L189.63 127.45 L190.15 125.7 L190.67 123.95 L191.18 122.2 L191.7 120.47 L192.21 118.75 L192.73 117.07 L193.25 115.41 L193.76 113.79 L194.28 112.21 L194.79 110.66 L195.31 109.13 L195.82 107.62 L196.34 106.14 L196.86 104.68 L197.37 103.23 L197.89 101.81 L198.4 100.4 L198.92 99.01 L199.44 97.63 L199.95 96.26 L200.47 94.9 L200.98 93.55 L201.5 92.22 L202.01 90.88 L202.53 89.54 L203.05 88.2 L203.56 86.87 L204.08 85.54 L204.59 84.22 L205.11 82.92 L205.62 81.65 L206.14 80.39 L206.66 79.18 L207.17 77.99 L207.69 76.85 L208.2 75.76 L208.72 74.71 L209.24 73.72 L209.75 72.76 L210.27 71.85 L210.78 70.96 L211.3 70.12 L211.81 69.31 L212.33 68.53 L212.85 67.79 L213.36 67.09 L213.88 66.42 L214.39 65.78 L214.91 65.18 L215.42 64.61 L215.94 64.08 L216.46 63.58 L216.97 63.12 L217.49 62.69 L218 62.27 L218.52 61.89 L219.04 61.54 L219.55 61.23 L220.07 60.95 L220.58 60.71 L221.1 60.52 L221.61 60.39 L222.13 60.3 L222.65 60.27 L223.16 60.3 L223.68 60.35 L224.19 60.43 L224.71 60.55 L225.22 60.72 L225.74 60.93 L226.26 61.21 L226.77 61.57 L227.29 61.99 L227.8 62.51 L228.32 63.12 L228.84 63.83 L229.35 64.65 L229.87 65.57 L230.38 66.58 L230.9 67.68 L231.41 68.86 L231.93 70.11 L232.45 71.43 L232.96 72.8 L233.48 74.23 L233.99 75.7 L234.51 77.21 L235.03 78.76 L235.54 80.34 L236.06 82 L236.57 83.7 L237.09 85.46 L237.6 87.27 L238.12 89.12 L238.64 91.01 L239.15 92.94 L239.67 94.9 L240.18 96.89 L240.7 98.94 L241.21 101.06 L241.73 103.21 L242.25 105.39 L242.76 107.56 L243.28 109.7 L243.79 111.8 L244.31 113.85 L244.83 115.85 L245.34 117.84 L245.86 119.82 L246.37 121.83 L246.89 123.89 L247.4 126.02 L247.92 128.24 L248.44 130.54 L248.95 132.9 L249.47 135.29 L249.98 137.7 L250.5 140.1 L251.02 142.47 L251.53 144.79 L252.05 147.03 L252.56 149.24 L253.08 151.42 L253.59 153.58 L254.11 155.71 L254.63 157.81 L255.14 159.9 L255.66 161.96 L256.17 164 L256.69 166.03 L257.2 168.03 L257.72 170.02 L258.24 172 L258.75 173.98 L259.27 175.96 L259.78 177.94 L260.3 179.92 L260.82 181.88 L261.33 183.81 L261.85 185.71 L262.36 187.58 L262.88 189.39 L263.39 191.15 L263.91 192.85 L264.43 194.48 L264.94 196.02 L265.46 197.47 L265.97 198.83 L266.49 200.11 L267 201.35 L267.52 202.55 L268.04 203.76 L268.55 204.98 L269.07 206.24 L269.58 207.57 L270.1 208.94 L270.62 210.36 L271.13 211.79 L271.65 213.23 L272.16 214.66 L272.68 216.06 L273.19 217.43 L273.71 218.74 L274.23 219.97 L274.74 221.14 L275.26 222.26 L275.77 223.33 L276.29 224.37 L276.81 225.39 L277.32 226.39 L277.84 227.37 L278.35 228.36 L278.87 229.39 L279.38 230.42 L279.9 231.4 L280.42 232.27 L280.93 232.98 L281.45 233.51 L281.96 233.88 L282.48 234.14 L282.99 234.29 L283.51 234.37 L284.03 234.4 L284.54 234.4 L285.06 234.4 L285.57 234.4 L286.09 234.4 L286.61 234.4 L287.12 234.4 L287.64 234.4 L288.15 234.4 L288.67 234.4 L289.18 234.4 L289.7 234.4 L290.22 234.4 L290.73 234.4 L291.25 234.4 L291.76 234.4 L292.28 234.4 L292.79 234.4 L293.31 234.4 L293.83 234.4 L294.34 234.4 L294.86 234.4 L295.37 234.4 L295.89 234.4 L296.41 234.4 L296.92 234.4 L297.44 234.4 L297.95 234.4 L298.47 234.4 L298.98 234.4 L299.5 234.4 L300.02 234.4 L300.53 234.4 L301.05 234.4 L301.56 234.4 L302.08 234.4 L302.6 234.4 L303.11 234.4 L303.63 234.4 L304.14 234.4 L304.66 234.4 L305.17 234.4 L305.69 234.4 L306.21 234.4 L306.72 234.4 L307.24 234.4 L307.75 234.4 L308.27 234.4 L308.78 234.4 L309.3 234.4 L309.82 234.4 L310.33 234.4 L310.85 234.4 L311.36 234.4 L311.88 234.4 L312.4 234.4 L312.91 234.4 L313.43 234.4 L313.94 234.4 L314.46 234.4 L314.97 234.4 L315.49 234.4 L316.01 234.4 L316.52 234.4 L317.04 234.4 L317.55 234.4 L318.07 234.4 L318.58 234.4 L319.1 234.4 L319.62 234.4 L320.13 234.4 L320.65 234.4 L321.16 234.4 L321.68 234.4 L322.2 234.4 L322.71 234.4 L323.23 234.4 L323.74 234.4 L324.26 234.4 L324.77 234.4 L325.29 234.4 L325.81 234.4 L326.32 234.4 L326.84 234.4 L327.35 234.4 L327.87 234.4 L328.38 234.4 L328.9 234.4" fill="none" stroke="#aa9c1c" stroke-width="2" stroke-linejoin="round" stroke-linecap="round"/>
<path d="M32.06 228.28h1.9v1.9h-1.9zM32.83 229.7h1.9v1.9h-1.9zM33.8 223.62h1.9v1.9h-1.9zM34.54 226.87h1.9v1.9h-1.9zM35.42 226.06h1.9v1.9h-1.9zM36.23 221.9h1.9v1.9h-1.9zM37.12 224.79h1.9v1.9h-1.9zM38.08 228.37h1.9v1.9h-1.9zM38.9 228.26h1.9v1.9h-1.9zM39.71 221.29h1.9v1.9h-1.9zM40.6 225.39h1.9v1.9h-1.9zM41.46 220.94h1.9v1.9h-1.9zM42.39 221.76h1.9v1.9h-1.9zM43.11 225.04h1.9v1.9h-1.9zM44.05 221.2h1.9v1.9h-1.9zM44.85 221.95h1.9v1.9h-1.9zM45.63 218.14h1.9v1.9h-1.9zM46.45 214.67h1.9v1.9h-1.9zM47.14 217.68h1.9v1.9h-1.9zM47.99 225.09h1.9v1.9h-1.9zM48.78 218.77h1.9v1.9h-1.9zM49.67 216.59h1.9v1.9h-1.9zM50.35 222.25h1.9v1.9h-1.9zM51.11 216.39h1.9v1.9h-1.9zM51.86 217.2h1.9v1.9h-1.9zM52.55 213.66h1.9v1.9h-1.9zM53.41 210.49h1.9v1.9h-1.9zM54.31 213.24h1.9v1.9h-1.9zM55.06 228.96h1.9v1.9h-1.9zM55.77 216.26h1.9v1.9h-1.9zM56.59 211.82h1.9v1.9h-1.9zM57.38 212.36h1.9v1.9h-1.9zM58.3 209.39h1.9v1.9h-1.9zM58.99 220.48h1.9v1.9h-1.9zM59.72 209.8h1.9v1.9h-1.9zM60.43 212.29h1.9v1.9h-1.9zM61.36 213.75h1.9v1.9h-1.9zM62.24 209.56h1.9v1.9h-1.9zM62.92 204.73h1.9v1.9h-1.9zM63.61 207.94h1.9v1.9h-1.9zM64.31 205.86h1.9v1.9h-1.9zM65.06 206.72h1.9v1.9h-1.9zM65.76 201.39h1.9v1.9h-1.9zM66.63 200.48h1.9v1.9h-1.9zM67.49 201.64h1.9v1.9h-1.9zM68.43 206.99h1.9v1.9h-1.9zM69.31 203.75h1.9v1.9h-1.9zM70.18 199.12h1.9v1.9h-1.9zM71.02 203.33h1.9v1.9h-1.9zM71.84 198.31h1.9v1.9h-1.9zM72.68 200.5h1.9v1.9h-1.9zM73.6 198.68h1.9v1.9h-1.9zM74.52 197.28h1.9v1.9h-1.9zM75.46 195.21h1.9v1.9h-1.9zM76.33 196.74h1.9v1.9h-1.9zM77.28 201.81h1.9v1.9h-1.9zM78 195.74h1.9v1.9h-1.9zM78.72 199.11h1.9v1.9h-1.9zM79.62 193.02h1.9v1.9h-1.9zM80.51 196.54h1.9v1.9h-1.9zM81.32 201.93h1.9v1.9h-1.9zM82.02 196.12h1.9v1.9h-1.9zM82.88 197.48h1.9v1.9h-1.9zM83.63 196.87h1.9v1.9h-1.9zM84.38 205.41h1.9v1.9h-1.9zM85.36 184.42h1.9v1.9h-1.9zM86.22 193.13h1.9v1.9h-1.9zM87.15 191.19h1.9v1.9h-1.9zM88.08 187.34h1.9v1.9h-1.9zM88.98 189.8h1.9v1.9h-1.9zM89.79 195.04h1.9v1.9h-1.9zM90.71 189.01h1.9v1.9h-1.9zM91.44 194.62h1.9v1.9h-1.9zM92.19 192.84h1.9v1.9h-1.9zM92.98 192.16h1.9v1.9h-1.9zM93.74 190.96h1.9v1.9h-1.9zM94.53 191.26h1.9v1.9h-1.9zM95.43 190.33h1.9v1.9h-1.9zM96.3 195.23h1.9v1.9h-1.9zM97.23 174.74h1.9v1.9h-1.9zM98.06 191.21h1.9v1.9h-1.9zM98.82 185.48h1.9v1.9h-1.9zM99.68 189.21h1.9v1.9h-1.9zM100.65 194.64h1.9v1.9h-1.9zM101.54 184.63h1.9v1.9h-1.9zM102.36 192.5h1.9v1.9h-1.9zM103.25 188.73h1.9v1.9h-1.9zM104.13 194.41h1.9v1.9h-1.9zM105.02 186.23h1.9v1.9h-1.9zM105.94 184.81h1.9v1.9h-1.9zM106.63 190.09h1.9v1.9h-1.9zM107.32 187.68h1.9v1.9h-1.9zM108.27 190.36h1.9v1.9h-1.9zM108.98 188.02h1.9v1.9h-1.9zM109.66 194.81h1.9v1.9h-1.9zM110.54 190.4h1.9v1.9h-1.9zM111.22 188.41h1.9v1.9h-1.9zM112.13 182.37h1.9v1.9h-1.9zM113.05 189.64h1.9v1.9h-1.9zM114 192.35h1.9v1.9h-1.9zM114.9 189.48h1.9v1.9h-1.9zM115.86 195.47h1.9v1.9h-1.9zM116.73 194.54h1.9v1.9h-1.9zM117.46 196.7h1.9v1.9h-1.9zM118.25 195.75h1.9v1.9h-1.9zM118.93 193.68h1.9v1.9h-1.9zM119.69 193.54h1.9v1.9h-1.9zM120.62 194.78h1.9v1.9h-1.9zM121.56 189h1.9v1.9h-1.9zM122.41 196.68h1.9v1.9h-1.9zM123.37 183.18h1.9v1.9h-1.9zM124.14 192.65h1.9v1.9h-1.9zM125.04 194.88h1.9v1.9h-1.9zM125.9 200.03h1.9v1.9h-1.9zM126.76 196.04h1.9v1.9h-1.9zM127.5 196.14h1.9v1.9h-1.9zM128.21 199.86h1.9v1.9h-1.9zM129.07 196.09h1.9v1.9h-1.9zM129.94 198.47h1.9v1.9h-1.9zM130.75 200.13h1.9v1.9h-1.9zM131.63 198.53h1.9v1.9h-1.9zM132.48 196.39h1.9v1.9h-1.9zM133.35 206.25h1.9v1.9h-1.9zM134.07 199.8h1.9v1.9h-1.9zM135.03 192.82h1.9v1.9h-1.9zM135.93 202.85h1.9v1.9h-1.9zM136.82 212.56h1.9v1.9h-1.9zM137.77 198.73h1.9v1.9h-1.9zM138.62 199.52h1.9v1.9h-1.9zM139.53 210.89h1.9v1.9h-1.9zM140.24 201.9h1.9v1.9h-1.9zM141.17 202.74h1.9v1.9h-1.9zM141.85 202.85h1.9v1.9h-1.9zM142.65 200.97h1.9v1.9h-1.9zM143.46 208.52h1.9v1.9h-1.9zM144.34 203.17h1.9v1.9h-1.9zM145.32 208.34h1.9v1.9h-1.9zM146.19 210.83h1.9v1.9h-1.9zM147.14 198.34h1.9v1.9h-1.9zM147.84 207.67h1.9v1.9h-1.9zM148.64 209.41h1.9v1.9h-1.9zM149.45 210.78h1.9v1.9h-1.9zM150.14 203.97h1.9v1.9h-1.9zM151.03 208.75h1.9v1.9h-1.9zM151.81 214.5h1.9v1.9h-1.9zM152.53 207.92h1.9v1.9h-1.9zM153.46 204.46h1.9v1.9h-1.9zM154.36 208.24h1.9v1.9h-1.9zM155.05 205.61h1.9v1.9h-1.9zM155.86 209.25h1.9v1.9h-1.9zM156.66 207.52h1.9v1.9h-1.9zM157.61 207.18h1.9v1.9h-1.9zM158.36 204.56h1.9v1.9h-1.9zM159.34 206.34h1.9v1.9h-1.9zM160.28 208.52h1.9v1.9h-1.9zM161.02 202.8h1.9v1.9h-1.9zM161.81 209.99h1.9v1.9h-1.9zM162.59 204.53h1.9v1.9h-1.9zM163.35 205.83h1.9v1.9h-1.9zM164.3 204.41h1.9v1.9h-1.9zM165.15 204.6h1.9v1.9h-1.9zM165.88 201.06h1.9v1.9h-1.9zM166.62 201.6h1.9v1.9h-1.9zM167.52 204.72h1.9v1.9h-1.9zM168.45 203.22h1.9v1.9h-1.9zM169.22 211.32h1.9v1.9h-1.9zM169.96 200.11h1.9v1.9h-1.9zM170.89 199.43h1.9v1.9h-1.9zM171.76 201.03h1.9v1.9h-1.9zM172.44 192.96h1.9v1.9h-1.9zM173.15 197.52h1.9v1.9h-1.9zM173.88 198.92h1.9v1.9h-1.9zM174.66 198.04h1.9v1.9h-1.9zM175.4 191.23h1.9v1.9h-1.9zM176.32 202.08h1.9v1.9h-1.9zM177.14 188.18h1.9v1.9h-1.9zM178 180.22h1.9v1.9h-1.9zM178.88 190.47h1.9v1.9h-1.9zM179.6 187.62h1.9v1.9h-1.9zM180.38 184.8h1.9v1.9h-1.9zM181.29 191.73h1.9v1.9h-1.9zM182.16 185.42h1.9v1.9h-1.9zM182.97 178.37h1.9v1.9h-1.9zM183.87 166.59h1.9v1.9h-1.9zM184.6 179.81h1.9v1.9h-1.9zM185.51 162.29h1.9v1.9h-1.9zM186.42 169.67h1.9v1.9h-1.9zM187.09 160.84h1.9v1.9h-1.9zM187.94 176.11h1.9v1.9h-1.9zM188.61 168.28h1.9v1.9h-1.9zM189.3 168.39h1.9v1.9h-1.9zM190.25 167.52h1.9v1.9h-1.9zM190.96 163.67h1.9v1.9h-1.9zM191.81 165.16h1.9v1.9h-1.9zM192.76 156.88h1.9v1.9h-1.9zM193.46 164.31h1.9v1.9h-1.9zM194.14 160.78h1.9v1.9h-1.9zM195.12 155.47h1.9v1.9h-1.9zM196.04 157.29h1.9v1.9h-1.9zM197.01 154.69h1.9v1.9h-1.9zM197.86 153.39h1.9v1.9h-1.9zM198.82 150.63h1.9v1.9h-1.9zM199.76 162.75h1.9v1.9h-1.9zM200.65 142h1.9v1.9h-1.9zM201.32 144.38h1.9v1.9h-1.9zM202.21 136.77h1.9v1.9h-1.9zM203.06 137.95h1.9v1.9h-1.9zM203.95 137.92h1.9v1.9h-1.9zM204.89 139.36h1.9v1.9h-1.9zM205.86 131.54h1.9v1.9h-1.9zM206.83 138.5h1.9v1.9h-1.9zM207.65 117.16h1.9v1.9h-1.9zM208.6 129.93h1.9v1.9h-1.9zM209.4 120.43h1.9v1.9h-1.9zM210.19 121.7h1.9v1.9h-1.9zM211.1 110.39h1.9v1.9h-1.9zM212.02 120.24h1.9v1.9h-1.9zM212.84 115.2h1.9v1.9h-1.9zM213.81 104.63h1.9v1.9h-1.9zM214.59 109.26h1.9v1.9h-1.9zM215.44 107.36h1.9v1.9h-1.9zM216.25 114.19h1.9v1.9h-1.9zM217.13 104.49h1.9v1.9h-1.9zM218.04 116.85h1.9v1.9h-1.9zM218.85 110.13h1.9v1.9h-1.9zM219.62 102.5h1.9v1.9h-1.9zM220.57 105.03h1.9v1.9h-1.9zM221.27 97.4h1.9v1.9h-1.9zM222.23 100.34h1.9v1.9h-1.9zM223.11 98.82h1.9v1.9h-1.9zM224 95.53h1.9v1.9h-1.9zM224.83 94.76h1.9v1.9h-1.9zM225.57 86.52h1.9v1.9h-1.9zM226.3 84.7h1.9v1.9h-1.9zM227.26 96.25h1.9v1.9h-1.9zM227.97 86.51h1.9v1.9h-1.9zM228.93 90.93h1.9v1.9h-1.9zM229.75 89.97h1.9v1.9h-1.9zM230.63 78.26h1.9v1.9h-1.9zM231.38 89.84h1.9v1.9h-1.9zM232.23 95.78h1.9v1.9h-1.9zM232.97 85.26h1.9v1.9h-1.9zM233.92 83.11h1.9v1.9h-1.9zM234.81 91.51h1.9v1.9h-1.9zM235.77 83.18h1.9v1.9h-1.9zM236.74 89.09h1.9v1.9h-1.9zM237.65 84.54h1.9v1.9h-1.9zM238.48 92.16h1.9v1.9h-1.9zM239.45 80.92h1.9v1.9h-1.9zM240.27 96.36h1.9v1.9h-1.9zM241.17 94.12h1.9v1.9h-1.9zM242.06 92.49h1.9v1.9h-1.9zM243.02 104.03h1.9v1.9h-1.9zM243.78 97.63h1.9v1.9h-1.9zM244.74 102.08h1.9v1.9h-1.9zM245.64 93.45h1.9v1.9h-1.9zM246.62 105.42h1.9v1.9h-1.9zM247.49 112.89h1.9v1.9h-1.9zM248.33 110h1.9v1.9h-1.9zM249.12 118.18h1.9v1.9h-1.9zM250.07 122.87h1.9v1.9h-1.9zM250.92 124.98h1.9v1.9h-1.9zM251.79 133.58h1.9v1.9h-1.9zM252.52 131.2h1.9v1.9h-1.9zM253.46 136.79h1.9v1.9h-1.9zM254.14 136.04h1.9v1.9h-1.9zM255.05 139.6h1.9v1.9h-1.9zM255.84 147.08h1.9v1.9h-1.9zM256.52 143.53h1.9v1.9h-1.9zM257.2 153.79h1.9v1.9h-1.9zM258.08 158.87h1.9v1.9h-1.9zM259 144.39h1.9v1.9h-1.9zM259.76 163.67h1.9v1.9h-1.9zM260.64 161.37h1.9v1.9h-1.9zM261.46 173.21h1.9v1.9h-1.9zM262.42 169.66h1.9v1.9h-1.9zM263.4 180.53h1.9v1.9h-1.9zM264.1 179.44h1.9v1.9h-1.9zM264.96 184.05h1.9v1.9h-1.9zM265.66 196.18h1.9v1.9h-1.9zM266.6 194.68h1.9v1.9h-1.9zM267.48 193.51h1.9v1.9h-1.9zM268.2 198.98h1.9v1.9h-1.9zM269.01 199.61h1.9v1.9h-1.9zM269.78 204.53h1.9v1.9h-1.9zM270.53 203.58h1.9v1.9h-1.9zM271.47 208.67h1.9v1.9h-1.9zM272.21 207.99h1.9v1.9h-1.9zM272.92 206.7h1.9v1.9h-1.9zM273.72 211h1.9v1.9h-1.9zM274.43 210.14h1.9v1.9h-1.9zM275.31 215.52h1.9v1.9h-1.9zM276.1 229.35h1.9v1.9h-1.9zM277.07 219.71h1.9v1.9h-1.9zM278.03 221.91h1.9v1.9h-1.9zM278.93 222.29h1.9v1.9h-1.9zM279.68 220.01h1.9v1.9h-1.9zM280.51 212.69h1.9v1.9h-1.9zM281.48 217.87h1.9v1.9h-1.9zM282.43 223.27h1.9v1.9h-1.9zM283.28 226.38h1.9v1.9h-1.9zM284.04 225.71h1.9v1.9h-1.9zM284.78 228.82h1.9v1.9h-1.9zM285.73 228.1h1.9v1.9h-1.9zM286.6 228.14h1.9v1.9h-1.9zM287.29 228.32h1.9v1.9h-1.9zM288.24 228.98h1.9v1.9h-1.9zM289.07 229.61h1.9v1.9h-1.9zM289.95 230.01h1.9v1.9h-1.9zM290.91 228.67h1.9v1.9h-1.9zM291.64 231.53h1.9v1.9h-1.9zM292.5 228.04h1.9v1.9h-1.9zM294.34 229.95h1.9v1.9h-1.9zM295.92 231.71h1.9v1.9h-1.9zM297.49 233.07h1.9v1.9h-1.9zM298.38 231.25h1.9v1.9h-1.9z" fill="#0e9a12"/>
<path d="M31.8 229.07 L32.32 228.83 L32.83 228.58 L33.35 228.34 L33.86 228.1 L34.38 227.86 L34.89 227.62 L35.41 227.39 L35.93 227.15 L36.44 226.9 L36.96 226.66 L37.47 226.42 L37.99 226.17 L38.51 225.91 L39.02 225.66 L39.54 225.4 L40.05 225.13 L40.57 224.87 L41.08 224.6 L41.6 224.33 L42.12 224.06 L42.63 223.78 L43.15 223.51 L43.66 223.23 L44.18 222.95 L44.7 222.67 L45.21 222.38 L45.73 222.09 L46.24 221.8 L46.76 221.51 L47.27 221.21 L47.79 220.92 L48.31 220.61 L48.82 220.31 L49.34 220 L49.85 219.68 L50.37 219.36 L50.88 219.04 L51.4 218.71 L51.92 218.38 L52.43 218.05 L52.95 217.7 L53.46 217.36 L53.98 217.01 L54.5 216.65 L55.01 216.29 L55.53 215.92 L56.04 215.55 L56.56 215.16 L57.07 214.76 L57.59 214.35 L58.11 213.94 L58.62 213.51 L59.14 213.08 L59.65 212.64 L60.17 212.2 L60.68 211.75 L61.2 211.3 L61.72 210.84 L62.23 210.38 L62.75 209.92 L63.26 209.46 L63.78 208.99 L64.3 208.53 L64.81 208.07 L65.33 207.61 L65.84 207.16 L66.36 206.7 L66.87 206.25 L67.39 205.81 L67.91 205.37 L68.42 204.94 L68.94 204.52 L69.45 204.1 L69.97 203.7 L70.48 203.3 L71 202.92 L71.52 202.54 L72.03 202.16 L72.55 201.79 L73.06 201.43 L73.58 201.07 L74.1 200.71 L74.61 200.35 L75.13 200 L75.64 199.65 L76.16 199.3 L76.67 198.96 L77.19 198.62 L77.71 198.28 L78.22 197.94 L78.74 197.61 L79.25 197.28 L79.77 196.94 L80.29 196.6 L80.8 196.25 L81.32 195.91 L81.83 195.57 L82.35 195.23 L82.86 194.89 L83.38 194.57 L83.9 194.25 L84.41 193.94 L84.93 193.64 L85.44 193.36 L85.96 193.09 L86.47 192.84 L86.99 192.61 L87.51 192.4 L88.02 192.2 L88.54 192.03 L89.05 191.86 L89.57 191.71 L90.09 191.57 L90.6 191.44 L91.12 191.32 L91.63 191.21 L92.15 191.1 L92.66 191 L93.18 190.9 L93.7 190.81 L94.21 190.71 L94.73 190.62 L95.24 190.53 L95.76 190.44 L96.27 190.36 L96.79 190.28 L97.31 190.21 L97.82 190.14 L98.34 190.08 L98.85 190.02 L99.37 189.97 L99.89 189.92 L100.4 189.88 L100.92 189.84 L101.43 189.81 L101.95 189.79 L102.46 189.77 L102.98 189.76 L103.5 189.75 L104.01 189.75 L104.53 189.74 L105.04 189.74 L105.56 189.75 L106.08 189.76 L106.59 189.78 L107.11 189.8 L107.62 189.84 L108.14 189.88 L108.65 189.93 L109.17 190 L109.69 190.08 L110.2 190.17 L110.72 190.28 L111.23 190.4 L111.75 190.54 L112.26 190.7 L112.78 190.88 L113.3 191.07 L113.81 191.27 L114.33 191.49 L114.84 191.72 L115.36 191.95 L115.88 192.2 L116.39 192.45 L116.91 192.7 L117.42 192.96 L117.94 193.22 L118.45 193.48 L118.97 193.73 L119.49 193.99 L120 194.24 L120.52 194.48 L121.03 194.72 L121.55 194.96 L122.06 195.21 L122.58 195.45 L123.1 195.71 L123.61 195.96 L124.13 196.21 L124.64 196.47 L125.16 196.73 L125.68 196.99 L126.19 197.25 L126.71 197.5 L127.22 197.76 L127.74 198.01 L128.25 198.26 L128.77 198.51 L129.29 198.76 L129.8 199 L130.32 199.23 L130.83 199.46 L131.35 199.69 L131.87 199.91 L132.38 200.13 L132.9 200.34 L133.41 200.55 L133.93 200.76 L134.44 200.97 L134.96 201.18 L135.48 201.38 L135.99 201.58 L136.51 201.78 L137.02 201.98 L137.54 202.18 L138.05 202.38 L138.57 202.58 L139.09 202.77 L139.6 202.97 L140.12 203.18 L140.63 203.38 L141.15 203.58 L141.67 203.79 L142.18 203.99 L142.7 204.19 L143.21 204.39 L143.73 204.59 L144.24 204.78 L144.76 204.96 L145.28 205.14 L145.79 205.31 L146.31 205.47 L146.82 205.62 L147.34 205.76 L147.85 205.9 L148.37 206.04 L148.89 206.18 L149.4 206.31 L149.92 206.43 L150.43 206.55 L150.95 206.66 L151.47 206.76 L151.98 206.86 L152.5 206.94 L153.01 207.01 L153.53 207.08 L154.04 207.13 L154.56 207.17 L155.08 207.19 L155.59 207.21 L156.11 207.22 L156.62 207.22 L157.14 207.22 L157.66 207.2 L158.17 207.17 L158.69 207.14 L159.2 207.09 L159.72 207.03 L160.23 206.96 L160.75 206.87 L161.27 206.78 L161.78 206.66 L162.3 206.54 L162.81 206.4 L163.33 206.25 L163.84 206.11 L164.36 205.96 L164.88 205.81 L165.39 205.65 L165.91 205.48 L166.42 205.29 L166.94 205.09 L167.46 204.86 L167.97 204.61 L168.49 204.33 L169 204.03 L169.52 203.68 L170.03 203.3 L170.55 202.88 L171.07 202.42 L171.58 201.91 L172.1 201.37 L172.61 200.79 L173.13 200.18 L173.65 199.54 L174.16 198.86 L174.68 198.16 L175.19 197.43 L175.71 196.68 L176.22 195.91 L176.74 195.11 L177.26 194.3 L177.77 193.47 L178.29 192.62 L178.8 191.76 L179.32 190.87 L179.83 189.94 L180.35 188.99 L180.87 188 L181.38 186.99 L181.9 185.95 L182.41 184.9 L182.93 183.84 L183.45 182.78 L183.96 181.71 L184.48 180.64 L184.99 179.58 L185.51 178.52 L186.02 177.49 L186.54 176.47 L187.06 175.45 L187.57 174.43 L188.09 173.42 L188.6 172.4 L189.12 171.39 L189.63 170.38 L190.15 169.36 L190.67 168.35 L191.18 167.33 L191.7 166.31 L192.21 165.29 L192.73 164.27 L193.25 163.25 L193.76 162.23 L194.28 161.2 L194.79 160.2 L195.31 159.24 L195.82 158.32 L196.34 157.41 L196.86 156.51 L197.37 155.6 L197.89 154.66 L198.4 153.69 L198.92 152.65 L199.44 151.55 L199.95 150.37 L200.47 149.09 L200.98 147.69 L201.5 146.16 L202.01 144.54 L202.53 142.91 L203.05 141.37 L203.56 139.97 L204.08 138.68 L204.59 137.48 L205.11 136.37 L205.62 135.31 L206.14 134.3 L206.66 133.33 L207.17 132.37 L207.69 131.4 L208.2 130.42 L208.72 129.41 L209.24 128.35 L209.75 127.23 L210.27 126.07 L210.78 124.9 L211.3 123.71 L211.81 122.5 L212.33 121.29 L212.85 120.08 L213.36 118.87 L213.88 117.67 L214.39 116.49 L214.91 115.33 L215.42 114.19 L215.94 113.08 L216.46 112.02 L216.97 110.98 L217.49 109.95 L218 108.94 L218.52 107.94 L219.04 106.96 L219.55 106 L220.07 105.06 L220.58 104.14 L221.1 103.24 L221.61 102.36 L222.13 101.51 L222.65 100.68 L223.16 99.88 L223.68 99.1 L224.19 98.36 L224.71 97.62 L225.22 96.91 L225.74 96.21 L226.26 95.54 L226.77 94.9 L227.29 94.29 L227.8 93.72 L228.32 93.18 L228.84 92.69 L229.35 92.22 L229.87 91.78 L230.38 91.37 L230.9 90.98 L231.41 90.62 L231.93 90.3 L232.45 90.03 L232.96 89.79 L233.48 89.61 L233.99 89.48 L234.51 89.4 L235.03 89.39 L235.54 89.44 L236.06 89.55 L236.57 89.71 L237.09 89.9 L237.6 90.14 L238.12 90.43 L238.64 90.78 L239.15 91.18 L239.67 91.65 L240.18 92.18 L240.7 92.79 L241.21 93.48 L241.73 94.25 L242.25 95.1 L242.76 96.04 L243.28 97.04 L243.79 98.12 L244.31 99.27 L244.83 100.49 L245.34 101.79 L245.86 103.17 L246.37 104.63 L246.89 106.18 L247.4 107.82 L247.92 109.53 L248.44 111.31 L248.95 113.14 L249.47 115 L249.98 116.9 L250.5 118.84 L251.02 120.83 L251.53 122.87 L252.05 124.96 L252.56 127.1 L253.08 129.31 L253.59 131.58 L254.11 133.91 L254.63 136.28 L255.14 138.67 L255.66 141.09 L256.17 143.51 L256.69 145.92 L257.2 148.36 L257.72 150.87 L258.24 153.42 L258.75 156 L259.27 158.58 L259.78 161.15 L260.3 163.69 L260.82 166.17 L261.33 168.57 L261.85 170.89 L262.36 173.09 L262.88 175.21 L263.39 177.27 L263.91 179.26 L264.43 181.19 L264.94 183.07 L265.46 184.9 L265.97 186.68 L266.49 188.44 L267 190.16 L267.52 191.85 L268.04 193.53 L268.55 195.19 L269.07 196.85 L269.58 198.5 L270.1 200.13 L270.62 201.73 L271.13 203.3 L271.65 204.81 L272.16 206.27 L272.68 207.65 L273.19 208.96 L273.71 210.18 L274.23 211.33 L274.74 212.41 L275.26 213.44 L275.77 214.41 L276.29 215.36 L276.81 216.27 L277.32 217.16 L277.84 218.04 L278.35 218.92 L278.87 219.78 L279.38 220.61 L279.9 221.42 L280.42 222.2 L280.93 222.96 L281.45 223.68 L281.96 224.37 L282.48 225.03 L282.99 225.65 L283.51 226.23 L284.03 226.78 L284.54 227.27 L285.06 227.71 L285.57 228.11 L286.09 228.47 L286.61 228.79 L287.12 229.09 L287.64 229.36 L288.15 229.61 L288.67 229.85 L289.18 230.07 L289.7 230.29 L290.22 230.51 L290.73 230.73 L291.25 230.96 L291.76 231.17 L292.28 231.37 L292.79 231.56 L293.31 231.73 L293.83 231.89 L294.34 232.04 L294.86 232.18 L295.37 232.31 L295.89 232.44 L296.41 232.56 L296.92 232.68 L297.44 232.8 L297.95 232.92 L298.47 233.04 L298.98 233.15 L299.5 233.26 L300.02 233.36 L300.53 233.46 L301.05 233.56 L301.56 233.65 L302.08 233.73 L302.6 233.81 L303.11 233.89 L303.63 233.96 L304.14 234.02 L304.66 234.08 L305.17 234.14 L305.69 234.19 L306.21 234.23 L306.72 234.27 L307.24 234.3 L307.75 234.33 L308.27 234.36 L308.78 234.38 L309.3 234.39 L309.82 234.4 L310.33 234.4 L310.85 234.4 L311.36 234.4 L311.88 234.4 L312.4 234.4 L312.91 234.4 L313.43 234.4 L313.94 234.4 L314.46 234.4 L314.97 234.4 L315.49 234.4 L316.01 234.4 L316.52 234.4 L317.04 234.4 L317.55 234.4 L318.07 234.4 L318.58 234.4 L319.1 234.4 L319.62 234.4 L320.13 234.4 L320.65 234.4 L321.16 234.4 L321.68 234.4 L322.2 234.4 L322.71 234.4 L323.23 234.4 L323.74 234.4 L324.26 234.4 L324.77 234.4 L325.29 234.4 L325.81 234.4 L326.32 234.4 L326.84 234.4 L327.35 234.4 L327.87 234.4 L328.38 234.4 L328.9 234.4" fill="none" stroke="#109a14" stroke-width="2" stroke-linejoin="round" stroke-linecap="round"/>
<path d="M27.15 21.3H328.5V234.4" fill="none" stroke="#2a2a2a" stroke-width="1.15"/>
<path d="M31.45 21.3V234.4H328.5" fill="none" stroke="#1a1a1a" stroke-width="1.2"/>
<path d="M27.15 234.4H31.45M27.15 163.33H31.45M27.15 92.26H31.45M27.15 21.19H31.45M29.05 198.87H31.45M29.05 127.8H31.45M29.05 56.73H31.45M83.38 234.4V238.7M134.96 234.4V238.7M186.54 234.4V238.7M238.12 234.4V238.7M289.7 234.4V238.7M57.59 234.4V236.8M109.17 234.4V236.8M160.75 234.4V236.8M212.33 234.4V236.8M263.91 234.4V236.8M315.49 234.4V236.8" stroke="#1a1a1a" stroke-width="1.2"/>
<text x="24.5" y="237.97" font-size="11.9" font-weight="bold" text-anchor="end" font-family="'Liberation Sans', sans-serif">0</text>
<text x="24.5" y="166.9" font-size="11.9" font-weight="bold" text-anchor="end" font-family="'Liberation Sans', sans-serif">1</text>
<text x="24.5" y="95.83" font-size="11.9" font-weight="bold" text-anchor="end" font-family="'Liberation Sans', sans-serif">2</text>
<text x="24.5" y="24.76" font-size="11.9" font-weight="bold" text-anchor="end" font-family="'Liberation Sans', sans-serif">3</text>
<text x="83.38" y="250.4" font-size="11.9" font-weight="bold" text-anchor="middle" font-family="'Liberation Sans', sans-serif">2</text>
<text x="134.96" y="250.4" font-size="11.9" font-weight="bold" text-anchor="middle" font-family="'Liberation Sans', sans-serif">4</text>
<text x="186.54" y="250.4" font-size="11.9" font-weight="bold" text-anchor="middle" font-family="'Liberation Sans', sans-serif">6</text>
<text x="238.12" y="250.4" font-size="11.9" font-weight="bold" text-anchor="middle" font-family="'Liberation Sans', sans-serif">8</text>
<text x="289.7" y="250.4" font-size="11.9" font-weight="bold" text-anchor="middle" font-family="'Liberation Sans', sans-serif">10</text>
<text transform="translate(12.4 127.85) rotate(-90)" font-size="14.5" font-weight="bold" text-anchor="middle" font-family="'Liberation Sans', sans-serif">Normalized dF/dt</text>
<text x="179.97" y="272.9" font-size="14.5" font-weight="bold" text-anchor="middle" font-family="'Liberation Sans', sans-serif">s<tspan font-size="10" dy="4">20,w</tspan><tspan dy="-4">(S)</tspan></text>
<text x="2.5" y="14.6" font-size="17.8" font-weight="bold" font-family="'Liberation Sans', sans-serif">A</text>
<text x="54.5" y="142.8" font-size="7.4" fill="#5e5e5e" font-family="'Liberation Sans', sans-serif">GRLBD*</text>
<text x="143.8" y="74.9" font-size="7.4" fill="#8e2020" font-family="'Liberation Sans', sans-serif">+HSP-90</text>
<text x="110.2" y="96.2" font-size="7.4" fill="#222c92" textLength="54.9" lengthAdjust="spacingAndGlyphs" font-family="'Liberation Sans', sans-serif">+HSP-90+ATPγS</text>
<text x="226.9" y="48.8" font-size="7.4" fill="#bcae50" font-family="'Liberation Sans', sans-serif">+PPH-5</text>
<text x="237.1" y="67.4" font-size="7.4" fill="#1f961f" textLength="52.6" lengthAdjust="spacingAndGlyphs" font-family="'Liberation Sans', sans-serif">+PPH-5 +ATPγS</text>
<path d="M379.02 225.56h1.9v1.9h-1.9zM379.85 220.37h1.9v1.9h-1.9zM380.82 224.84h1.9v1.9h-1.9zM381.86 204.74h1.9v1.9h-1.9zM382.89 223.16h1.9v1.9h-1.9zM383.81 217.64h1.9v1.9h-1.9zM384.77 217.51h1.9v1.9h-1.9zM385.55 216.33h1.9v1.9h-1.9zM386.66 220.52h1.9v1.9h-1.9zM387.56 233.53h1.9v1.9h-1.9zM388.38 213.18h1.9v1.9h-1.9zM389.37 211.52h1.9v1.9h-1.9zM390.31 212.91h1.9v1.9h-1.9zM391.18 215.41h1.9v1.9h-1.9zM392.21 226.67h1.9v1.9h-1.9zM393.23 214.94h1.9v1.9h-1.9zM394.14 204.65h1.9v1.9h-1.9zM394.96 199.97h1.9v1.9h-1.9zM395.87 220.2h1.9v1.9h-1.9zM396.98 205.52h1.9v1.9h-1.9zM398.02 216.67h1.9v1.9h-1.9zM398.93 210.59h1.9v1.9h-1.9zM399.98 206.38h1.9v1.9h-1.9zM401.04 204.54h1.9v1.9h-1.9zM401.96 202.5h1.9v1.9h-1.9zM403.07 202.48h1.9v1.9h-1.9zM404.03 188.94h1.9v1.9h-1.9zM404.81 207.59h1.9v1.9h-1.9zM405.72 202.06h1.9v1.9h-1.9zM406.72 198.93h1.9v1.9h-1.9zM407.59 186.13h1.9v1.9h-1.9zM408.48 190.89h1.9v1.9h-1.9zM409.52 190.31h1.9v1.9h-1.9zM410.49 188.61h1.9v1.9h-1.9zM411.34 197.33h1.9v1.9h-1.9zM412.2 207.01h1.9v1.9h-1.9zM413.22 173.64h1.9v1.9h-1.9zM414.14 189.95h1.9v1.9h-1.9zM414.97 184.95h1.9v1.9h-1.9zM415.79 199.95h1.9v1.9h-1.9zM416.85 217.99h1.9v1.9h-1.9zM417.71 184.31h1.9v1.9h-1.9zM418.59 186.41h1.9v1.9h-1.9zM419.52 183.41h1.9v1.9h-1.9zM420.48 177.83h1.9v1.9h-1.9zM421.51 176.82h1.9v1.9h-1.9zM422.53 179.24h1.9v1.9h-1.9zM423.42 171.13h1.9v1.9h-1.9zM424.32 178.08h1.9v1.9h-1.9zM425.29 178.06h1.9v1.9h-1.9zM426.18 173.13h1.9v1.9h-1.9zM427.02 185.21h1.9v1.9h-1.9zM428.01 174.59h1.9v1.9h-1.9zM429.08 167.46h1.9v1.9h-1.9zM430.02 181.81h1.9v1.9h-1.9zM430.97 173.53h1.9v1.9h-1.9zM431.88 167.89h1.9v1.9h-1.9zM432.82 163.11h1.9v1.9h-1.9zM433.92 166.21h1.9v1.9h-1.9zM434.77 161.56h1.9v1.9h-1.9zM435.88 164.76h1.9v1.9h-1.9zM436.92 162.72h1.9v1.9h-1.9zM437.97 162.79h1.9v1.9h-1.9zM438.9 160.94h1.9v1.9h-1.9zM439.91 165.38h1.9v1.9h-1.9zM441.02 160.13h1.9v1.9h-1.9zM442.13 157.03h1.9v1.9h-1.9zM443.02 153.99h1.9v1.9h-1.9zM443.89 150.17h1.9v1.9h-1.9zM444.82 161.39h1.9v1.9h-1.9zM445.65 153.6h1.9v1.9h-1.9zM446.62 138.13h1.9v1.9h-1.9zM447.56 157.67h1.9v1.9h-1.9zM448.66 159.22h1.9v1.9h-1.9zM449.54 154.33h1.9v1.9h-1.9zM450.34 146.89h1.9v1.9h-1.9zM451.35 147.87h1.9v1.9h-1.9zM452.2 141.42h1.9v1.9h-1.9zM453.01 158.2h1.9v1.9h-1.9zM454.13 161.88h1.9v1.9h-1.9zM455.11 144.83h1.9v1.9h-1.9zM456.23 151.49h1.9v1.9h-1.9zM457.07 145.38h1.9v1.9h-1.9zM457.97 147.35h1.9v1.9h-1.9zM458.99 140.54h1.9v1.9h-1.9zM459.94 150.18h1.9v1.9h-1.9zM461 151.76h1.9v1.9h-1.9zM462.1 156.58h1.9v1.9h-1.9zM462.97 154.11h1.9v1.9h-1.9zM463.91 148.08h1.9v1.9h-1.9zM465.05 151.33h1.9v1.9h-1.9zM465.99 162.48h1.9v1.9h-1.9zM466.84 156.56h1.9v1.9h-1.9zM467.68 165.28h1.9v1.9h-1.9zM468.75 161.96h1.9v1.9h-1.9zM469.66 149.66h1.9v1.9h-1.9zM470.72 158.23h1.9v1.9h-1.9zM471.61 157.69h1.9v1.9h-1.9zM472.62 168.44h1.9v1.9h-1.9zM473.74 167.63h1.9v1.9h-1.9zM474.68 167.27h1.9v1.9h-1.9zM475.65 161.17h1.9v1.9h-1.9zM476.48 166.45h1.9v1.9h-1.9zM477.49 167.12h1.9v1.9h-1.9zM478.61 174.62h1.9v1.9h-1.9zM479.6 181.19h1.9v1.9h-1.9zM480.73 175.11h1.9v1.9h-1.9zM481.73 176.93h1.9v1.9h-1.9zM482.74 172.87h1.9v1.9h-1.9zM483.76 174.9h1.9v1.9h-1.9zM484.61 180.26h1.9v1.9h-1.9zM485.43 174.2h1.9v1.9h-1.9zM486.21 185.51h1.9v1.9h-1.9zM487.15 176.82h1.9v1.9h-1.9zM488.23 179.87h1.9v1.9h-1.9zM489.19 179.99h1.9v1.9h-1.9zM490.23 186.5h1.9v1.9h-1.9zM491.21 183.98h1.9v1.9h-1.9zM492.09 193.69h1.9v1.9h-1.9zM492.88 180.23h1.9v1.9h-1.9zM493.78 180.03h1.9v1.9h-1.9zM494.64 188.96h1.9v1.9h-1.9zM495.72 198.31h1.9v1.9h-1.9zM496.7 192.81h1.9v1.9h-1.9zM497.65 191.42h1.9v1.9h-1.9zM498.63 185.32h1.9v1.9h-1.9zM499.61 197.39h1.9v1.9h-1.9zM500.53 207.23h1.9v1.9h-1.9zM501.33 201.74h1.9v1.9h-1.9zM502.3 200.87h1.9v1.9h-1.9zM503.13 202.87h1.9v1.9h-1.9zM504.08 208.5h1.9v1.9h-1.9zM505.2 196.7h1.9v1.9h-1.9zM506.24 206.9h1.9v1.9h-1.9zM507.31 201.92h1.9v1.9h-1.9zM508.1 210.57h1.9v1.9h-1.9zM509.12 206.69h1.9v1.9h-1.9zM510.01 203.25h1.9v1.9h-1.9zM511.08 206.24h1.9v1.9h-1.9zM511.98 216.59h1.9v1.9h-1.9zM512.88 209.68h1.9v1.9h-1.9zM513.79 210.11h1.9v1.9h-1.9zM514.74 210.03h1.9v1.9h-1.9zM515.81 216.75h1.9v1.9h-1.9zM516.66 209.52h1.9v1.9h-1.9zM517.47 217.6h1.9v1.9h-1.9zM518.35 220.06h1.9v1.9h-1.9zM519.34 216.43h1.9v1.9h-1.9zM520.22 220.45h1.9v1.9h-1.9zM521.35 204.87h1.9v1.9h-1.9zM522.16 220.59h1.9v1.9h-1.9zM522.97 225.18h1.9v1.9h-1.9zM523.92 216.67h1.9v1.9h-1.9zM524.99 215.21h1.9v1.9h-1.9zM526.07 220.89h1.9v1.9h-1.9zM526.97 205.58h1.9v1.9h-1.9zM527.79 226.04h1.9v1.9h-1.9zM528.91 222.58h1.9v1.9h-1.9zM529.99 226.11h1.9v1.9h-1.9zM530.81 224.71h1.9v1.9h-1.9zM531.6 223.87h1.9v1.9h-1.9zM532.7 228.24h1.9v1.9h-1.9zM533.75 227.03h1.9v1.9h-1.9zM534.74 227.38h1.9v1.9h-1.9zM535.67 234.5h1.9v1.9h-1.9zM536.58 230.12h1.9v1.9h-1.9zM537.54 224.72h1.9v1.9h-1.9zM538.58 212.24h1.9v1.9h-1.9zM539.39 224.72h1.9v1.9h-1.9zM540.35 230.06h1.9v1.9h-1.9zM541.46 239.36h1.9v1.9h-1.9zM542.45 229.84h1.9v1.9h-1.9zM543.58 232.83h1.9v1.9h-1.9zM544.51 227.3h1.9v1.9h-1.9zM545.41 231.14h1.9v1.9h-1.9zM546.49 222.43h1.9v1.9h-1.9zM547.28 226.55h1.9v1.9h-1.9zM548.17 237h1.9v1.9h-1.9zM549.03 234.69h1.9v1.9h-1.9zM550.08 231.86h1.9v1.9h-1.9zM551.21 231.52h1.9v1.9h-1.9zM552.21 241.35h1.9v1.9h-1.9zM553.17 232.24h1.9v1.9h-1.9zM554.13 227.23h1.9v1.9h-1.9zM555.1 232.9h1.9v1.9h-1.9zM556.09 236.04h1.9v1.9h-1.9zM557.22 239.03h1.9v1.9h-1.9zM558.21 222.82h1.9v1.9h-1.9zM559.22 231.61h1.9v1.9h-1.9zM560.07 230.81h1.9v1.9h-1.9zM560.96 227.62h1.9v1.9h-1.9zM561.93 234.08h1.9v1.9h-1.9zM562.81 231.56h1.9v1.9h-1.9zM563.94 235.52h1.9v1.9h-1.9zM565.03 232.58h1.9v1.9h-1.9zM566.11 218.34h1.9v1.9h-1.9zM567.11 234.1h1.9v1.9h-1.9zM568.12 234.16h1.9v1.9h-1.9zM569.11 234.5h1.9v1.9h-1.9zM570.25 238.4h1.9v1.9h-1.9zM571.2 240.02h1.9v1.9h-1.9zM572.84 229.94h1.9v1.9h-1.9zM573.92 233.67h1.9v1.9h-1.9zM574.81 235.65h1.9v1.9h-1.9zM575.66 231.91h1.9v1.9h-1.9zM576.56 232.31h1.9v1.9h-1.9zM577.5 236.14h1.9v1.9h-1.9zM578.46 227.07h1.9v1.9h-1.9zM579.45 231.53h1.9v1.9h-1.9zM580.45 223.76h1.9v1.9h-1.9zM581.34 226.72h1.9v1.9h-1.9zM582.46 228.78h1.9v1.9h-1.9zM583.3 232.64h1.9v1.9h-1.9zM584.3 242.15h1.9v1.9h-1.9zM585.21 238.84h1.9v1.9h-1.9zM586.12 231.26h1.9v1.9h-1.9zM586.94 234.84h1.9v1.9h-1.9zM588.07 236.52h1.9v1.9h-1.9zM589.11 238.96h1.9v1.9h-1.9zM589.9 233.14h1.9v1.9h-1.9zM590.85 235.06h1.9v1.9h-1.9zM591.83 227.19h1.9v1.9h-1.9zM592.92 232.35h1.9v1.9h-1.9zM594.02 229.05h1.9v1.9h-1.9zM595.02 237.8h1.9v1.9h-1.9zM595.93 233.06h1.9v1.9h-1.9zM598.02 240.22h1.9v1.9h-1.9zM599.01 222.17h1.9v1.9h-1.9zM599.83 241.79h1.9v1.9h-1.9zM600.9 228.47h1.9v1.9h-1.9zM601.83 242.06h1.9v1.9h-1.9zM602.71 239.26h1.9v1.9h-1.9zM603.83 232.79h1.9v1.9h-1.9zM604.65 232.17h1.9v1.9h-1.9zM605.48 239.99h1.9v1.9h-1.9zM606.44 232.9h1.9v1.9h-1.9zM607.47 236.4h1.9v1.9h-1.9zM610.21 237.06h1.9v1.9h-1.9zM611.28 235.83h1.9v1.9h-1.9zM612.25 237.48h1.9v1.9h-1.9zM613.33 234.4h1.9v1.9h-1.9zM614.27 238.85h1.9v1.9h-1.9zM615.23 234.8h1.9v1.9h-1.9zM616.34 236.63h1.9v1.9h-1.9zM617.47 234.97h1.9v1.9h-1.9zM619.49 233.42h1.9v1.9h-1.9zM620.46 234.21h1.9v1.9h-1.9zM621.47 235.88h1.9v1.9h-1.9zM622.31 237.74h1.9v1.9h-1.9zM623.12 241.51h1.9v1.9h-1.9zM625.06 235.99h1.9v1.9h-1.9zM625.94 232.26h1.9v1.9h-1.9zM626.74 237.89h1.9v1.9h-1.9zM629.67 239.66h1.9v1.9h-1.9zM630.47 241.52h1.9v1.9h-1.9zM632.18 237.43h1.9v1.9h-1.9zM633.13 230.62h1.9v1.9h-1.9zM634.19 240.77h1.9v1.9h-1.9zM635.13 233h1.9v1.9h-1.9zM635.96 231.46h1.9v1.9h-1.9zM638.02 235h1.9v1.9h-1.9zM638.92 238.06h1.9v1.9h-1.9zM639.72 236.15h1.9v1.9h-1.9zM640.56 231.47h1.9v1.9h-1.9zM642.54 229.33h1.9v1.9h-1.9zM643.45 239.44h1.9v1.9h-1.9zM644.25 232.94h1.9v1.9h-1.9zM645.06 234.81h1.9v1.9h-1.9zM645.94 240.84h1.9v1.9h-1.9zM647.04 234.63h1.9v1.9h-1.9zM647.88 234.49h1.9v1.9h-1.9zM648.7 233.7h1.9v1.9h-1.9zM649.48 240.81h1.9v1.9h-1.9zM650.46 239.12h1.9v1.9h-1.9zM651.58 237.33h1.9v1.9h-1.9zM652.57 236.9h1.9v1.9h-1.9zM653.44 239.1h1.9v1.9h-1.9zM654.54 238.78h1.9v1.9h-1.9zM655.37 241.8h1.9v1.9h-1.9zM656.3 238.02h1.9v1.9h-1.9zM657.39 238.62h1.9v1.9h-1.9zM659.44 224.13h1.9v1.9h-1.9zM660.27 231.33h1.9v1.9h-1.9zM661.11 235.3h1.9v1.9h-1.9zM661.98 240.02h1.9v1.9h-1.9zM662.96 234.06h1.9v1.9h-1.9zM663.83 236.87h1.9v1.9h-1.9zM664.76 230.73h1.9v1.9h-1.9zM665.6 235.61h1.9v1.9h-1.9zM666.52 230.44h1.9v1.9h-1.9zM667.46 240.97h1.9v1.9h-1.9zM668.33 241.26h1.9v1.9h-1.9z" fill="#4a4a4a"/>
<path d="M378.55 227.11 L379.15 226.56 L379.75 226.01 L380.35 225.46 L380.95 224.91 L381.55 224.37 L382.15 223.82 L382.75 223.28 L383.35 222.73 L383.95 222.19 L384.55 221.65 L385.14 221.1 L385.74 220.56 L386.34 220.01 L386.94 219.46 L387.54 218.91 L388.14 218.36 L388.74 217.81 L389.34 217.25 L389.94 216.69 L390.54 216.13 L391.14 215.56 L391.74 214.99 L392.34 214.41 L392.94 213.83 L393.54 213.24 L394.14 212.65 L394.74 212.06 L395.34 211.46 L395.94 210.87 L396.54 210.27 L397.13 209.67 L397.73 209.06 L398.33 208.46 L398.93 207.85 L399.53 207.24 L400.13 206.62 L400.73 206.01 L401.33 205.39 L401.93 204.76 L402.53 204.14 L403.13 203.5 L403.73 202.87 L404.33 202.23 L404.93 201.59 L405.53 200.95 L406.13 200.3 L406.73 199.65 L407.33 198.99 L407.93 198.33 L408.53 197.66 L409.12 196.99 L409.72 196.32 L410.32 195.64 L410.92 194.95 L411.52 194.26 L412.12 193.56 L412.72 192.85 L413.32 192.14 L413.92 191.42 L414.52 190.7 L415.12 189.99 L415.72 189.26 L416.32 188.54 L416.92 187.82 L417.52 187.1 L418.12 186.39 L418.72 185.68 L419.32 184.97 L419.92 184.27 L420.51 183.56 L421.11 182.85 L421.71 182.13 L422.31 181.4 L422.91 180.68 L423.51 179.95 L424.11 179.22 L424.71 178.5 L425.31 177.79 L425.91 177.08 L426.51 176.39 L427.11 175.7 L427.71 175.03 L428.31 174.38 L428.91 173.75 L429.51 173.14 L430.11 172.55 L430.71 171.99 L431.31 171.43 L431.91 170.9 L432.5 170.38 L433.1 169.87 L433.7 169.37 L434.3 168.89 L434.9 168.43 L435.5 167.97 L436.1 167.53 L436.7 167.09 L437.3 166.67 L437.9 166.26 L438.5 165.86 L439.1 165.47 L439.7 165.09 L440.3 164.72 L440.9 164.36 L441.5 164 L442.1 163.66 L442.7 163.33 L443.3 163 L443.9 162.69 L444.5 162.4 L445.09 162.11 L445.69 161.83 L446.29 161.57 L446.89 161.32 L447.49 161.08 L448.09 160.84 L448.69 160.62 L449.29 160.41 L449.89 160.21 L450.49 160.03 L451.09 159.86 L451.69 159.71 L452.29 159.58 L452.89 159.46 L453.49 159.36 L454.09 159.28 L454.69 159.22 L455.29 159.18 L455.89 159.15 L456.49 159.14 L457.08 159.15 L457.68 159.18 L458.28 159.22 L458.88 159.27 L459.48 159.34 L460.08 159.42 L460.68 159.51 L461.28 159.61 L461.88 159.73 L462.48 159.85 L463.08 159.99 L463.68 160.13 L464.28 160.28 L464.88 160.45 L465.48 160.63 L466.08 160.83 L466.68 161.04 L467.28 161.27 L467.88 161.52 L468.48 161.8 L469.07 162.1 L469.67 162.42 L470.27 162.77 L470.87 163.14 L471.47 163.53 L472.07 163.95 L472.67 164.39 L473.27 164.85 L473.87 165.32 L474.47 165.82 L475.07 166.33 L475.67 166.85 L476.27 167.39 L476.87 167.94 L477.47 168.51 L478.07 169.08 L478.67 169.68 L479.27 170.3 L479.87 170.93 L480.47 171.59 L481.06 172.25 L481.66 172.94 L482.26 173.63 L482.86 174.33 L483.46 175.04 L484.06 175.76 L484.66 176.48 L485.26 177.2 L485.86 177.92 L486.46 178.65 L487.06 179.39 L487.66 180.13 L488.26 180.89 L488.86 181.65 L489.46 182.4 L490.06 183.16 L490.66 183.9 L491.26 184.63 L491.86 185.34 L492.46 186.05 L493.05 186.74 L493.65 187.45 L494.25 188.16 L494.85 188.88 L495.45 189.63 L496.05 190.41 L496.65 191.21 L497.25 192.03 L497.85 192.86 L498.45 193.68 L499.05 194.49 L499.65 195.29 L500.25 196.05 L500.85 196.79 L501.45 197.51 L502.05 198.22 L502.65 198.91 L503.25 199.58 L503.85 200.25 L504.45 200.9 L505.04 201.54 L505.64 202.18 L506.24 202.82 L506.84 203.45 L507.44 204.07 L508.04 204.7 L508.64 205.33 L509.24 205.97 L509.84 206.61 L510.44 207.25 L511.04 207.9 L511.64 208.54 L512.24 209.19 L512.84 209.83 L513.44 210.46 L514.04 211.09 L514.64 211.7 L515.24 212.3 L515.84 212.9 L516.44 213.49 L517.03 214.07 L517.63 214.64 L518.23 215.21 L518.83 215.78 L519.43 216.35 L520.03 216.92 L520.63 217.49 L521.23 218.06 L521.83 218.64 L522.43 219.21 L523.03 219.78 L523.63 220.35 L524.23 220.91 L524.83 221.46 L525.43 222.01 L526.03 222.55 L526.63 223.08 L527.23 223.59 L527.83 224.09 L528.42 224.58 L529.02 225.05 L529.62 225.52 L530.22 225.97 L530.82 226.41 L531.42 226.85 L532.02 227.28 L532.62 227.7 L533.22 228.12 L533.82 228.54 L534.42 228.96 L535.02 229.38 L535.62 229.81 L536.22 230.24 L536.82 230.66 L537.42 231.07 L538.02 231.48 L538.62 231.88 L539.22 232.26 L539.82 232.63 L540.41 232.97 L541.01 233.29 L541.61 233.6 L542.21 233.88 L542.81 234.15 L543.41 234.4 L544.01 234.64 L544.61 234.87 L545.21 235.08 L545.81 235.28 L546.41 235.47 L547.01 235.66 L547.61 235.84 L548.21 236.01 L548.81 236.18 L549.41 236.34 L550.01 236.51 L550.61 236.67 L551.21 236.83 L551.81 236.97 L552.4 237.11 L553 237.24 L553.6 237.36 L554.2 237.47 L554.8 237.58 L555.4 237.68 L556 237.78 L556.6 237.87 L557.2 237.96 L557.8 238.05 L558.4 238.13 L559 238.22 L559.6 238.3 L560.2 238.39 L560.8 238.47 L561.4 238.56 L562 238.65 L562.6 238.73 L563.2 238.81 L563.8 238.89 L564.39 238.96 L564.99 239.03 L565.59 239.11 L566.19 239.18 L566.79 239.25 L567.39 239.32 L567.99 239.38 L568.59 239.45 L569.19 239.52 L569.79 239.59 L570.39 239.66 L570.99 239.73 L571.59 239.8 L572.19 239.87 L572.79 239.94 L573.39 240.01 L573.99 240.08 L574.59 240.15 L575.19 240.22 L575.79 240.29 L576.38 240.35 L576.98 240.42 L577.58 240.49 L578.18 240.55 L578.78 240.62 L579.38 240.68 L579.98 240.74 L580.58 240.8 L581.18 240.86 L581.78 240.92 L582.38 240.98 L582.98 241.04 L583.58 241.1 L584.18 241.16 L584.78 241.21 L585.38 241.27 L585.98 241.32 L586.58 241.38 L587.18 241.43 L587.78 241.48 L588.38 241.53 L588.97 241.58 L589.57 241.63 L590.17 241.68 L590.77 241.73 L591.37 241.78 L591.97 241.83 L592.57 241.87 L593.17 241.92 L593.77 241.96 L594.37 242.01 L594.97 242.05 L595.57 242.09 L596.17 242.14 L596.77 242.18 L597.37 242.22 L597.97 242.26 L598.57 242.29 L599.17 242.33 L599.77 242.37 L600.37 242.4 L600.96 242.44 L601.56 242.47 L602.16 242.5 L602.76 242.54 L603.36 242.57 L603.96 242.6 L604.56 242.63 L605.16 242.65 L605.76 242.68 L606.36 242.71 L606.96 242.74 L607.56 242.76 L608.16 242.79 L608.76 242.81 L609.36 242.83 L609.96 242.86 L610.56 242.88 L611.16 242.9 L611.76 242.93 L612.36 242.95 L612.95 242.97 L613.55 242.99 L614.15 243.01 L614.75 243.03 L615.35 243.05 L615.95 243.07 L616.55 243.09 L617.15 243.1 L617.75 243.12 L618.35 243.14 L618.95 243.16 L619.55 243.18 L620.15 243.2 L620.75 243.21 L621.35 243.23 L621.95 243.25 L622.55 243.27 L623.15 243.28 L623.75 243.3 L624.35 243.32 L624.94 243.33 L625.54 243.35 L626.14 243.36 L626.74 243.37 L627.34 243.39 L627.94 243.4 L628.54 243.41 L629.14 243.42 L629.74 243.43 L630.34 243.43 L630.94 243.44 L631.54 243.44 L632.14 243.45 L632.74 243.45 L633.34 243.45 L633.94 243.45 L634.54 243.45 L635.14 243.45 L635.74 243.45 L636.34 243.45 L636.93 243.45 L637.53 243.45 L638.13 243.45 L638.73 243.45 L639.33 243.45 L639.93 243.45 L640.53 243.45 L641.13 243.45 L641.73 243.45 L642.33 243.45 L642.93 243.45 L643.53 243.45 L644.13 243.45 L644.73 243.45 L645.33 243.45 L645.93 243.45 L646.53 243.45 L647.13 243.45 L647.73 243.45 L648.33 243.45 L648.92 243.45 L649.52 243.45 L650.12 243.45 L650.72 243.45 L651.32 243.45 L651.92 243.45 L652.52 243.45 L653.12 243.45 L653.72 243.45 L654.32 243.45 L654.92 243.45 L655.52 243.45 L656.12 243.45 L656.72 243.45 L657.32 243.45 L657.92 243.45 L658.52 243.45 L659.12 243.45 L659.72 243.45 L660.32 243.45 L660.91 243.45 L661.51 243.45 L662.11 243.45 L662.71 243.45 L663.31 243.45 L663.91 243.45 L664.51 243.45 L665.11 243.45 L665.71 243.45 L666.31 243.45 L666.91 243.45 L667.51 243.45 L668.11 243.45 L668.71 243.45 L669.31 243.45 L669.91 243.45 L670.51 243.45 L671.11 243.45 L671.71 243.45 L672.31 243.45 L672.9 243.45 L673.5 243.45 L674.1 243.45 L674.7 243.45 L675.3 243.45 L675.9 243.45 L676.5 243.45 L677.1 243.45 L677.7 243.45 L678.3 243.45" fill="none" stroke="#505050" stroke-width="2" stroke-linejoin="round" stroke-linecap="round"/>
<path d="M379.25 231.66h1.9v1.9h-1.9zM380.19 238.4h1.9v1.9h-1.9zM381.31 230.04h1.9v1.9h-1.9zM382.33 228.57h1.9v1.9h-1.9zM383.38 233.02h1.9v1.9h-1.9zM384.49 234.23h1.9v1.9h-1.9zM385.34 232.47h1.9v1.9h-1.9zM386.25 229.36h1.9v1.9h-1.9zM387.05 228.07h1.9v1.9h-1.9zM387.85 227.24h1.9v1.9h-1.9zM388.95 225.94h1.9v1.9h-1.9zM389.94 224.95h1.9v1.9h-1.9zM390.85 228.96h1.9v1.9h-1.9zM391.85 226.99h1.9v1.9h-1.9zM392.91 224.91h1.9v1.9h-1.9zM393.71 225.15h1.9v1.9h-1.9zM394.73 228.19h1.9v1.9h-1.9zM395.79 223.77h1.9v1.9h-1.9zM396.9 220.36h1.9v1.9h-1.9zM397.68 221.28h1.9v1.9h-1.9zM398.47 223.21h1.9v1.9h-1.9zM399.38 214.95h1.9v1.9h-1.9zM400.3 221.75h1.9v1.9h-1.9zM401.12 219.03h1.9v1.9h-1.9zM401.99 217.86h1.9v1.9h-1.9zM403.09 206.09h1.9v1.9h-1.9zM404 221.58h1.9v1.9h-1.9zM405.11 218.31h1.9v1.9h-1.9zM405.97 218.74h1.9v1.9h-1.9zM407.09 210.39h1.9v1.9h-1.9zM407.96 216.74h1.9v1.9h-1.9zM408.78 210.06h1.9v1.9h-1.9zM409.71 211.46h1.9v1.9h-1.9zM410.6 211.59h1.9v1.9h-1.9zM411.55 210.56h1.9v1.9h-1.9zM412.42 208.31h1.9v1.9h-1.9zM413.36 202.33h1.9v1.9h-1.9zM414.4 202.34h1.9v1.9h-1.9zM415.33 204.58h1.9v1.9h-1.9zM416.45 206.18h1.9v1.9h-1.9zM417.49 205.28h1.9v1.9h-1.9zM418.27 203.88h1.9v1.9h-1.9zM419.19 199.41h1.9v1.9h-1.9zM420.28 202.12h1.9v1.9h-1.9zM421.35 196.89h1.9v1.9h-1.9zM422.4 200.81h1.9v1.9h-1.9zM423.53 202.38h1.9v1.9h-1.9zM424.48 194.01h1.9v1.9h-1.9zM425.31 196.18h1.9v1.9h-1.9zM426.45 197.94h1.9v1.9h-1.9zM427.45 195.89h1.9v1.9h-1.9zM428.3 196.55h1.9v1.9h-1.9zM429.34 193.67h1.9v1.9h-1.9zM430.3 195.79h1.9v1.9h-1.9zM431.35 190.8h1.9v1.9h-1.9zM432.32 197.11h1.9v1.9h-1.9zM433.29 202.33h1.9v1.9h-1.9zM434.16 193.15h1.9v1.9h-1.9zM435.12 187.83h1.9v1.9h-1.9zM436.04 189.85h1.9v1.9h-1.9zM436.93 186.11h1.9v1.9h-1.9zM437.85 189.15h1.9v1.9h-1.9zM438.71 191.5h1.9v1.9h-1.9zM439.79 184.65h1.9v1.9h-1.9zM440.67 189.4h1.9v1.9h-1.9zM441.65 188.13h1.9v1.9h-1.9zM442.66 189.02h1.9v1.9h-1.9zM443.48 185.16h1.9v1.9h-1.9zM444.36 184.3h1.9v1.9h-1.9zM445.49 191.09h1.9v1.9h-1.9zM446.32 189.9h1.9v1.9h-1.9zM447.13 173.58h1.9v1.9h-1.9zM448.25 187.15h1.9v1.9h-1.9zM449.32 183.72h1.9v1.9h-1.9zM450.4 184.77h1.9v1.9h-1.9zM451.37 190.95h1.9v1.9h-1.9zM452.35 193.55h1.9v1.9h-1.9zM453.37 183.45h1.9v1.9h-1.9zM454.24 178.18h1.9v1.9h-1.9zM455.24 181.55h1.9v1.9h-1.9zM456.08 189.82h1.9v1.9h-1.9zM456.87 178.51h1.9v1.9h-1.9zM457.87 173.34h1.9v1.9h-1.9zM458.76 184.03h1.9v1.9h-1.9zM459.64 185.28h1.9v1.9h-1.9zM460.59 175.7h1.9v1.9h-1.9zM461.65 186.1h1.9v1.9h-1.9zM462.77 185.27h1.9v1.9h-1.9zM463.8 176.92h1.9v1.9h-1.9zM464.77 184.68h1.9v1.9h-1.9zM465.88 178.24h1.9v1.9h-1.9zM466.7 184.98h1.9v1.9h-1.9zM467.73 188.3h1.9v1.9h-1.9zM468.72 180.3h1.9v1.9h-1.9zM469.63 178.22h1.9v1.9h-1.9zM470.43 178.77h1.9v1.9h-1.9zM471.23 177.21h1.9v1.9h-1.9zM472.06 179.52h1.9v1.9h-1.9zM472.85 177.22h1.9v1.9h-1.9zM473.97 178.63h1.9v1.9h-1.9zM474.84 182.7h1.9v1.9h-1.9zM475.63 179.15h1.9v1.9h-1.9zM476.42 184.28h1.9v1.9h-1.9zM477.35 184.16h1.9v1.9h-1.9zM478.14 177.43h1.9v1.9h-1.9zM479.01 178.47h1.9v1.9h-1.9zM480.02 181.74h1.9v1.9h-1.9zM480.97 168.81h1.9v1.9h-1.9zM481.96 180.82h1.9v1.9h-1.9zM482.86 187.32h1.9v1.9h-1.9zM483.86 181.69h1.9v1.9h-1.9zM484.77 187.59h1.9v1.9h-1.9zM485.89 162.9h1.9v1.9h-1.9zM486.87 186.95h1.9v1.9h-1.9zM487.92 185.35h1.9v1.9h-1.9zM488.94 184.32h1.9v1.9h-1.9zM489.84 187.06h1.9v1.9h-1.9zM490.88 222.2h1.9v1.9h-1.9zM491.92 204.16h1.9v1.9h-1.9zM492.92 197.04h1.9v1.9h-1.9zM493.76 184.8h1.9v1.9h-1.9zM494.59 188.95h1.9v1.9h-1.9zM495.44 192.15h1.9v1.9h-1.9zM496.22 195.43h1.9v1.9h-1.9zM497.29 200.01h1.9v1.9h-1.9zM498.4 187.96h1.9v1.9h-1.9zM499.26 197.8h1.9v1.9h-1.9zM500.22 190.76h1.9v1.9h-1.9zM501.25 192.55h1.9v1.9h-1.9zM502.37 198.87h1.9v1.9h-1.9zM503.21 197.46h1.9v1.9h-1.9zM504.03 193.97h1.9v1.9h-1.9zM504.99 189.39h1.9v1.9h-1.9zM506.12 202.48h1.9v1.9h-1.9zM507 199.29h1.9v1.9h-1.9zM507.98 200.26h1.9v1.9h-1.9zM508.8 201.38h1.9v1.9h-1.9zM509.68 208.17h1.9v1.9h-1.9zM510.73 202.38h1.9v1.9h-1.9zM511.81 207.29h1.9v1.9h-1.9zM512.93 199.65h1.9v1.9h-1.9zM513.98 203.96h1.9v1.9h-1.9zM515 202.8h1.9v1.9h-1.9zM516.07 200.81h1.9v1.9h-1.9zM516.87 202.64h1.9v1.9h-1.9zM517.98 209.25h1.9v1.9h-1.9zM518.87 223.25h1.9v1.9h-1.9zM519.67 198.58h1.9v1.9h-1.9zM520.47 212.23h1.9v1.9h-1.9zM521.27 201.4h1.9v1.9h-1.9zM522.21 204.64h1.9v1.9h-1.9zM523.08 204.27h1.9v1.9h-1.9zM524.06 217.1h1.9v1.9h-1.9zM524.95 206.06h1.9v1.9h-1.9zM525.89 200.91h1.9v1.9h-1.9zM526.83 205.28h1.9v1.9h-1.9zM527.94 223.82h1.9v1.9h-1.9zM528.89 206.67h1.9v1.9h-1.9zM529.98 209.2h1.9v1.9h-1.9zM530.77 215.16h1.9v1.9h-1.9zM531.84 211.8h1.9v1.9h-1.9zM532.89 207.33h1.9v1.9h-1.9zM533.94 210.23h1.9v1.9h-1.9zM534.9 207.2h1.9v1.9h-1.9zM535.95 213.8h1.9v1.9h-1.9zM536.92 217.78h1.9v1.9h-1.9zM537.98 209.6h1.9v1.9h-1.9zM538.81 223.97h1.9v1.9h-1.9zM539.8 207.77h1.9v1.9h-1.9zM540.7 205.02h1.9v1.9h-1.9zM541.71 212.06h1.9v1.9h-1.9zM542.65 201.48h1.9v1.9h-1.9zM543.67 210.96h1.9v1.9h-1.9zM544.69 209.63h1.9v1.9h-1.9zM545.49 207.07h1.9v1.9h-1.9zM546.51 202.86h1.9v1.9h-1.9zM547.35 204.4h1.9v1.9h-1.9zM548.26 205.68h1.9v1.9h-1.9zM549.17 207.01h1.9v1.9h-1.9zM550.09 209.28h1.9v1.9h-1.9zM551.23 209.15h1.9v1.9h-1.9zM552.33 188.27h1.9v1.9h-1.9zM553.22 215.22h1.9v1.9h-1.9zM554.33 196.08h1.9v1.9h-1.9zM555.15 201.69h1.9v1.9h-1.9zM556.24 203.45h1.9v1.9h-1.9zM557.08 200.33h1.9v1.9h-1.9zM558.19 200.02h1.9v1.9h-1.9zM559.16 198.57h1.9v1.9h-1.9zM559.99 209.91h1.9v1.9h-1.9zM560.98 201.29h1.9v1.9h-1.9zM561.84 192.89h1.9v1.9h-1.9zM562.89 191.58h1.9v1.9h-1.9zM563.78 190.62h1.9v1.9h-1.9zM564.68 198.22h1.9v1.9h-1.9zM565.74 188.82h1.9v1.9h-1.9zM566.52 198.67h1.9v1.9h-1.9zM567.32 193.76h1.9v1.9h-1.9zM568.39 199.11h1.9v1.9h-1.9zM569.5 193.36h1.9v1.9h-1.9zM570.36 187.25h1.9v1.9h-1.9zM571.41 204.82h1.9v1.9h-1.9zM572.4 177.88h1.9v1.9h-1.9zM573.27 187.46h1.9v1.9h-1.9zM574.22 198.79h1.9v1.9h-1.9zM575.18 191.89h1.9v1.9h-1.9zM576.04 200.76h1.9v1.9h-1.9zM577.02 188.21h1.9v1.9h-1.9zM578.05 192.53h1.9v1.9h-1.9zM579.19 192.19h1.9v1.9h-1.9zM580.04 190.36h1.9v1.9h-1.9zM581.05 180.72h1.9v1.9h-1.9zM581.85 183.93h1.9v1.9h-1.9zM582.92 189.4h1.9v1.9h-1.9zM583.86 194.48h1.9v1.9h-1.9zM584.96 182.92h1.9v1.9h-1.9zM585.89 176.64h1.9v1.9h-1.9zM586.74 181.26h1.9v1.9h-1.9zM587.54 186.91h1.9v1.9h-1.9zM588.51 182.41h1.9v1.9h-1.9zM589.46 195.14h1.9v1.9h-1.9zM590.53 187.86h1.9v1.9h-1.9zM591.39 177.82h1.9v1.9h-1.9zM592.43 169.87h1.9v1.9h-1.9zM593.38 177.16h1.9v1.9h-1.9zM594.22 178.53h1.9v1.9h-1.9zM595.32 183.61h1.9v1.9h-1.9zM596.18 184.96h1.9v1.9h-1.9zM597.13 179.41h1.9v1.9h-1.9zM598.25 182.13h1.9v1.9h-1.9zM599.14 162.04h1.9v1.9h-1.9zM600.06 179.86h1.9v1.9h-1.9zM600.89 176.09h1.9v1.9h-1.9zM602.02 184.85h1.9v1.9h-1.9zM602.97 179.38h1.9v1.9h-1.9zM604.1 185.64h1.9v1.9h-1.9zM605.15 187.39h1.9v1.9h-1.9zM606.18 199.64h1.9v1.9h-1.9zM607.02 182.39h1.9v1.9h-1.9zM607.94 185.04h1.9v1.9h-1.9zM609.03 190.15h1.9v1.9h-1.9zM610.1 184.73h1.9v1.9h-1.9zM610.98 194.53h1.9v1.9h-1.9zM612.07 189.57h1.9v1.9h-1.9zM612.96 197.47h1.9v1.9h-1.9zM613.97 194.3h1.9v1.9h-1.9zM615.1 194.53h1.9v1.9h-1.9zM616.03 187.77h1.9v1.9h-1.9zM617.05 201h1.9v1.9h-1.9zM617.88 190.27h1.9v1.9h-1.9zM618.87 187.13h1.9v1.9h-1.9zM619.86 200.57h1.9v1.9h-1.9zM620.99 200.99h1.9v1.9h-1.9zM621.82 182.26h1.9v1.9h-1.9zM622.61 199.52h1.9v1.9h-1.9zM623.74 201.19h1.9v1.9h-1.9zM624.84 201.75h1.9v1.9h-1.9zM625.65 203.26h1.9v1.9h-1.9zM626.76 202.01h1.9v1.9h-1.9zM627.59 203.92h1.9v1.9h-1.9zM628.48 213.24h1.9v1.9h-1.9zM629.51 207.79h1.9v1.9h-1.9zM630.52 210.87h1.9v1.9h-1.9zM631.64 214.43h1.9v1.9h-1.9zM632.68 211.88h1.9v1.9h-1.9zM633.59 211.46h1.9v1.9h-1.9zM634.73 212.42h1.9v1.9h-1.9zM635.75 212.52h1.9v1.9h-1.9zM636.81 220.4h1.9v1.9h-1.9zM637.94 218.54h1.9v1.9h-1.9zM638.86 220.24h1.9v1.9h-1.9zM639.99 228.82h1.9v1.9h-1.9zM641.05 220.99h1.9v1.9h-1.9zM641.86 209.22h1.9v1.9h-1.9zM642.66 226.44h1.9v1.9h-1.9zM643.63 227.85h1.9v1.9h-1.9zM644.56 223.47h1.9v1.9h-1.9zM645.55 229.39h1.9v1.9h-1.9zM646.48 226.93h1.9v1.9h-1.9zM647.3 226.78h1.9v1.9h-1.9zM648.08 233.94h1.9v1.9h-1.9zM648.94 234.76h1.9v1.9h-1.9zM649.79 238.23h1.9v1.9h-1.9zM650.85 232.27h1.9v1.9h-1.9zM651.84 234.04h1.9v1.9h-1.9zM652.63 235.23h1.9v1.9h-1.9zM653.45 233.08h1.9v1.9h-1.9zM654.3 237.72h1.9v1.9h-1.9zM655.42 239.74h1.9v1.9h-1.9zM656.31 236.85h1.9v1.9h-1.9zM657.99 238.34h1.9v1.9h-1.9zM658.99 239.63h1.9v1.9h-1.9zM659.93 237.24h1.9v1.9h-1.9zM662.95 234.49h1.9v1.9h-1.9zM664.68 241.02h1.9v1.9h-1.9zM665.67 241.9h1.9v1.9h-1.9zM666.48 241.06h1.9v1.9h-1.9zM669.26 241.51h1.9v1.9h-1.9zM670.19 240.47h1.9v1.9h-1.9z" fill="#0e9a12"/>
<path d="M378.55 236.67 L379.15 236.28 L379.75 235.89 L380.35 235.51 L380.95 235.12 L381.55 234.74 L382.15 234.37 L382.75 233.99 L383.35 233.61 L383.95 233.23 L384.55 232.85 L385.14 232.47 L385.74 232.09 L386.34 231.7 L386.94 231.31 L387.54 230.92 L388.14 230.53 L388.74 230.13 L389.34 229.72 L389.94 229.31 L390.54 228.89 L391.14 228.47 L391.74 228.04 L392.34 227.6 L392.94 227.16 L393.54 226.72 L394.14 226.28 L394.74 225.83 L395.34 225.38 L395.94 224.93 L396.54 224.46 L397.13 224 L397.73 223.53 L398.33 223.05 L398.93 222.56 L399.53 222.07 L400.13 221.56 L400.73 221.05 L401.33 220.53 L401.93 219.99 L402.53 219.45 L403.13 218.9 L403.73 218.35 L404.33 217.79 L404.93 217.22 L405.53 216.66 L406.13 216.09 L406.73 215.53 L407.33 214.97 L407.93 214.41 L408.53 213.86 L409.12 213.31 L409.72 212.76 L410.32 212.21 L410.92 211.66 L411.52 211.1 L412.12 210.55 L412.72 210 L413.32 209.45 L413.92 208.91 L414.52 208.36 L415.12 207.81 L415.72 207.27 L416.32 206.73 L416.92 206.19 L417.52 205.65 L418.12 205.12 L418.72 204.58 L419.32 204.05 L419.92 203.52 L420.51 202.99 L421.11 202.46 L421.71 201.93 L422.31 201.4 L422.91 200.88 L423.51 200.36 L424.11 199.84 L424.71 199.32 L425.31 198.8 L425.91 198.28 L426.51 197.74 L427.11 197.21 L427.71 196.67 L428.31 196.13 L428.91 195.6 L429.51 195.08 L430.11 194.57 L430.71 194.07 L431.31 193.59 L431.91 193.13 L432.5 192.69 L433.1 192.28 L433.7 191.89 L434.3 191.53 L434.9 191.18 L435.5 190.84 L436.1 190.52 L436.7 190.22 L437.3 189.94 L437.9 189.66 L438.5 189.4 L439.1 189.16 L439.7 188.92 L440.3 188.69 L440.9 188.48 L441.5 188.27 L442.1 188.09 L442.7 187.92 L443.3 187.78 L443.9 187.64 L444.5 187.5 L445.09 187.36 L445.69 187.19 L446.29 187.01 L446.89 186.79 L447.49 186.56 L448.09 186.31 L448.69 186.05 L449.29 185.79 L449.89 185.52 L450.49 185.24 L451.09 184.98 L451.69 184.72 L452.29 184.47 L452.89 184.24 L453.49 184.04 L454.09 183.85 L454.69 183.69 L455.29 183.53 L455.89 183.39 L456.49 183.26 L457.08 183.14 L457.68 183.03 L458.28 182.93 L458.88 182.84 L459.48 182.74 L460.08 182.66 L460.68 182.58 L461.28 182.5 L461.88 182.42 L462.48 182.34 L463.08 182.26 L463.68 182.19 L464.28 182.13 L464.88 182.07 L465.48 182.01 L466.08 181.96 L466.68 181.91 L467.28 181.88 L467.88 181.85 L468.48 181.82 L469.07 181.81 L469.67 181.8 L470.27 181.8 L470.87 181.8 L471.47 181.81 L472.07 181.83 L472.67 181.85 L473.27 181.87 L473.87 181.91 L474.47 181.96 L475.07 182.01 L475.67 182.08 L476.27 182.16 L476.87 182.25 L477.47 182.36 L478.07 182.48 L478.67 182.6 L479.27 182.73 L479.87 182.87 L480.47 183.01 L481.06 183.17 L481.66 183.34 L482.26 183.52 L482.86 183.72 L483.46 183.95 L484.06 184.2 L484.66 184.47 L485.26 184.77 L485.86 185.1 L486.46 185.47 L487.06 185.88 L487.66 186.32 L488.26 186.79 L488.86 187.26 L489.46 187.74 L490.06 188.21 L490.66 188.67 L491.26 189.1 L491.86 189.52 L492.46 189.93 L493.05 190.34 L493.65 190.74 L494.25 191.13 L494.85 191.52 L495.45 191.91 L496.05 192.3 L496.65 192.69 L497.25 193.09 L497.85 193.49 L498.45 193.9 L499.05 194.31 L499.65 194.74 L500.25 195.17 L500.85 195.6 L501.45 196.04 L502.05 196.47 L502.65 196.92 L503.25 197.36 L503.85 197.81 L504.45 198.26 L505.04 198.71 L505.64 199.16 L506.24 199.61 L506.84 200.07 L507.44 200.52 L508.04 201 L508.64 201.48 L509.24 201.96 L509.84 202.44 L510.44 202.91 L511.04 203.36 L511.64 203.79 L512.24 204.19 L512.84 204.56 L513.44 204.92 L514.04 205.25 L514.64 205.57 L515.24 205.88 L515.84 206.18 L516.44 206.46 L517.03 206.74 L517.63 207.01 L518.23 207.28 L518.83 207.53 L519.43 207.78 L520.03 208.01 L520.63 208.24 L521.23 208.46 L521.83 208.66 L522.43 208.86 L523.03 209.05 L523.63 209.23 L524.23 209.4 L524.83 209.56 L525.43 209.71 L526.03 209.85 L526.63 209.99 L527.23 210.12 L527.83 210.24 L528.42 210.36 L529.02 210.46 L529.62 210.56 L530.22 210.64 L530.82 210.7 L531.42 210.75 L532.02 210.78 L532.62 210.78 L533.22 210.77 L533.82 210.73 L534.42 210.68 L535.02 210.62 L535.62 210.53 L536.22 210.44 L536.82 210.33 L537.42 210.22 L538.02 210.09 L538.62 209.96 L539.22 209.82 L539.82 209.68 L540.41 209.54 L541.01 209.39 L541.61 209.23 L542.21 209.06 L542.81 208.88 L543.41 208.68 L544.01 208.48 L544.61 208.27 L545.21 208.06 L545.81 207.83 L546.41 207.61 L547.01 207.38 L547.61 207.14 L548.21 206.91 L548.81 206.67 L549.41 206.43 L550.01 206.2 L550.61 205.96 L551.21 205.73 L551.81 205.49 L552.4 205.26 L553 205.03 L553.6 204.8 L554.2 204.56 L554.8 204.32 L555.4 204.08 L556 203.84 L556.6 203.59 L557.2 203.34 L557.8 203.08 L558.4 202.81 L559 202.54 L559.6 202.26 L560.2 201.97 L560.8 201.68 L561.4 201.37 L562 201.05 L562.6 200.72 L563.2 200.38 L563.8 200.02 L564.39 199.66 L564.99 199.3 L565.59 198.93 L566.19 198.56 L566.79 198.19 L567.39 197.83 L567.99 197.47 L568.59 197.12 L569.19 196.78 L569.79 196.45 L570.39 196.13 L570.99 195.82 L571.59 195.52 L572.19 195.22 L572.79 194.93 L573.39 194.65 L573.99 194.36 L574.59 194.07 L575.19 193.79 L575.79 193.5 L576.38 193.21 L576.98 192.91 L577.58 192.6 L578.18 192.28 L578.78 191.96 L579.38 191.64 L579.98 191.33 L580.58 191.02 L581.18 190.72 L581.78 190.44 L582.38 190.17 L582.98 189.93 L583.58 189.71 L584.18 189.5 L584.78 189.32 L585.38 189.14 L585.98 188.99 L586.58 188.84 L587.18 188.71 L587.78 188.59 L588.38 188.48 L588.97 188.37 L589.57 188.27 L590.17 188.18 L590.77 188.09 L591.37 188.01 L591.97 187.92 L592.57 187.84 L593.17 187.76 L593.77 187.69 L594.37 187.62 L594.97 187.55 L595.57 187.5 L596.17 187.46 L596.77 187.42 L597.37 187.4 L597.97 187.4 L598.57 187.4 L599.17 187.43 L599.77 187.47 L600.37 187.53 L600.96 187.6 L601.56 187.67 L602.16 187.76 L602.76 187.86 L603.36 187.98 L603.96 188.11 L604.56 188.25 L605.16 188.41 L605.76 188.59 L606.36 188.79 L606.96 189.01 L607.56 189.25 L608.16 189.51 L608.76 189.79 L609.36 190.08 L609.96 190.4 L610.56 190.73 L611.16 191.09 L611.76 191.46 L612.36 191.84 L612.95 192.25 L613.55 192.67 L614.15 193.11 L614.75 193.57 L615.35 194.05 L615.95 194.54 L616.55 195.05 L617.15 195.59 L617.75 196.15 L618.35 196.74 L618.95 197.35 L619.55 197.98 L620.15 198.63 L620.75 199.28 L621.35 199.95 L621.95 200.63 L622.55 201.31 L623.15 201.99 L623.75 202.67 L624.35 203.35 L624.94 204.02 L625.54 204.7 L626.14 205.39 L626.74 206.08 L627.34 206.78 L627.94 207.49 L628.54 208.2 L629.14 208.92 L629.74 209.63 L630.34 210.35 L630.94 211.07 L631.54 211.79 L632.14 212.51 L632.74 213.23 L633.34 213.94 L633.94 214.65 L634.54 215.35 L635.14 216.05 L635.74 216.74 L636.34 217.44 L636.93 218.13 L637.53 218.82 L638.13 219.51 L638.73 220.2 L639.33 220.89 L639.93 221.58 L640.53 222.27 L641.13 222.96 L641.73 223.65 L642.33 224.34 L642.93 225.03 L643.53 225.74 L644.13 226.45 L644.73 227.16 L645.33 227.88 L645.93 228.59 L646.53 229.3 L647.13 230 L647.73 230.69 L648.33 231.36 L648.92 232.02 L649.52 232.66 L650.12 233.28 L650.72 233.88 L651.32 234.46 L651.92 235.04 L652.52 235.6 L653.12 236.14 L653.72 236.68 L654.32 237.2 L654.92 237.71 L655.52 238.21 L656.12 238.69 L656.72 239.16 L657.32 239.62 L657.92 240.06 L658.52 240.52 L659.12 241.01 L659.72 241.52 L660.32 242.01 L660.91 242.47 L661.51 242.86 L662.11 243.17 L662.71 243.38 L663.31 243.45 L663.91 243.45 L664.51 243.45 L665.11 243.45 L665.71 243.45 L666.31 243.45 L666.91 243.45 L667.51 243.45 L668.11 243.45 L668.71 243.45 L669.31 243.45 L669.91 243.45 L670.51 243.45 L671.11 243.45 L671.71 243.45 L672.31 243.45 L672.9 243.45 L673.5 243.45 L674.1 243.45 L674.7 243.45 L675.3 243.45 L675.9 243.45 L676.5 243.45 L677.1 243.45 L677.7 243.45 L678.3 243.45" fill="none" stroke="#109a14" stroke-width="2" stroke-linejoin="round" stroke-linecap="round"/>
<path d="M379.32 236.83h1.9v1.9h-1.9zM380.35 233.25h1.9v1.9h-1.9zM381.22 234.38h1.9v1.9h-1.9zM382.21 236.63h1.9v1.9h-1.9zM383.33 234.03h1.9v1.9h-1.9zM384.13 231.13h1.9v1.9h-1.9zM385.14 233.92h1.9v1.9h-1.9zM386.15 229.77h1.9v1.9h-1.9zM387.16 232.85h1.9v1.9h-1.9zM388.12 231.06h1.9v1.9h-1.9zM389.11 237.17h1.9v1.9h-1.9zM390.01 224.47h1.9v1.9h-1.9zM390.83 228.71h1.9v1.9h-1.9zM391.84 216.16h1.9v1.9h-1.9zM392.84 230.94h1.9v1.9h-1.9zM393.83 228.86h1.9v1.9h-1.9zM394.79 226.74h1.9v1.9h-1.9zM395.7 224.65h1.9v1.9h-1.9zM396.5 222.65h1.9v1.9h-1.9zM397.49 234.42h1.9v1.9h-1.9zM398.39 222.59h1.9v1.9h-1.9zM399.25 206.99h1.9v1.9h-1.9zM400.19 220.09h1.9v1.9h-1.9zM401.11 217.25h1.9v1.9h-1.9zM402.02 217.36h1.9v1.9h-1.9zM402.81 217.26h1.9v1.9h-1.9zM403.77 217.85h1.9v1.9h-1.9zM404.74 216.39h1.9v1.9h-1.9zM405.78 212.36h1.9v1.9h-1.9zM406.8 215.58h1.9v1.9h-1.9zM407.88 211.95h1.9v1.9h-1.9zM408.87 212.14h1.9v1.9h-1.9zM409.78 212.55h1.9v1.9h-1.9zM410.73 210.26h1.9v1.9h-1.9zM411.85 211.06h1.9v1.9h-1.9zM412.67 208.69h1.9v1.9h-1.9zM413.51 203.79h1.9v1.9h-1.9zM414.42 214.01h1.9v1.9h-1.9zM415.49 207.65h1.9v1.9h-1.9zM416.42 190.28h1.9v1.9h-1.9zM417.45 206.05h1.9v1.9h-1.9zM418.23 201.91h1.9v1.9h-1.9zM419.18 197.73h1.9v1.9h-1.9zM420.02 198.76h1.9v1.9h-1.9zM420.85 205.28h1.9v1.9h-1.9zM421.88 205.47h1.9v1.9h-1.9zM422.88 197.87h1.9v1.9h-1.9zM423.81 195.25h1.9v1.9h-1.9zM424.7 200.52h1.9v1.9h-1.9zM425.51 197.92h1.9v1.9h-1.9zM426.32 197.63h1.9v1.9h-1.9zM427.21 196.75h1.9v1.9h-1.9zM428.25 189.05h1.9v1.9h-1.9zM429.22 204.75h1.9v1.9h-1.9zM430.28 193.04h1.9v1.9h-1.9zM431.41 200.09h1.9v1.9h-1.9zM432.29 194.46h1.9v1.9h-1.9zM433.36 189.88h1.9v1.9h-1.9zM434.35 190.26h1.9v1.9h-1.9zM435.36 198.24h1.9v1.9h-1.9zM436.31 194.26h1.9v1.9h-1.9zM437.23 213h1.9v1.9h-1.9zM438.08 188.2h1.9v1.9h-1.9zM439.13 185.09h1.9v1.9h-1.9zM439.97 190.93h1.9v1.9h-1.9zM440.93 192.89h1.9v1.9h-1.9zM441.89 198.92h1.9v1.9h-1.9zM442.81 188.02h1.9v1.9h-1.9zM443.86 193.34h1.9v1.9h-1.9zM444.94 189.49h1.9v1.9h-1.9zM446.01 190.33h1.9v1.9h-1.9zM447.02 183.51h1.9v1.9h-1.9zM447.84 188.66h1.9v1.9h-1.9zM448.7 183.84h1.9v1.9h-1.9zM449.71 186.1h1.9v1.9h-1.9zM450.68 191.42h1.9v1.9h-1.9zM451.52 194.26h1.9v1.9h-1.9zM452.49 190.06h1.9v1.9h-1.9zM453.5 193.92h1.9v1.9h-1.9zM454.34 183.61h1.9v1.9h-1.9zM455.43 189.19h1.9v1.9h-1.9zM456.51 182.41h1.9v1.9h-1.9zM457.52 180.44h1.9v1.9h-1.9zM458.5 182.58h1.9v1.9h-1.9zM459.56 205.86h1.9v1.9h-1.9zM460.58 186.59h1.9v1.9h-1.9zM461.6 187.02h1.9v1.9h-1.9zM462.67 177.25h1.9v1.9h-1.9zM463.48 191.14h1.9v1.9h-1.9zM464.36 186.27h1.9v1.9h-1.9zM465.37 180.95h1.9v1.9h-1.9zM466.3 186.84h1.9v1.9h-1.9zM467.28 182.81h1.9v1.9h-1.9zM468.35 192.1h1.9v1.9h-1.9zM469.14 190.36h1.9v1.9h-1.9zM470.08 206.41h1.9v1.9h-1.9zM471.21 190.35h1.9v1.9h-1.9zM472.29 185.71h1.9v1.9h-1.9zM473.26 187.67h1.9v1.9h-1.9zM474.19 191.56h1.9v1.9h-1.9zM475.19 190.68h1.9v1.9h-1.9zM476.04 182.49h1.9v1.9h-1.9zM477.1 193.9h1.9v1.9h-1.9zM477.97 187.75h1.9v1.9h-1.9zM478.92 188.18h1.9v1.9h-1.9zM479.89 190.87h1.9v1.9h-1.9zM480.99 196.78h1.9v1.9h-1.9zM481.92 191.08h1.9v1.9h-1.9zM482.73 191.91h1.9v1.9h-1.9zM483.77 193.07h1.9v1.9h-1.9zM484.77 193.45h1.9v1.9h-1.9zM485.56 189.92h1.9v1.9h-1.9zM486.53 179.94h1.9v1.9h-1.9zM487.4 193.72h1.9v1.9h-1.9zM488.22 182.06h1.9v1.9h-1.9zM489.17 186.8h1.9v1.9h-1.9zM490.24 196.47h1.9v1.9h-1.9zM491.18 191.39h1.9v1.9h-1.9zM492.03 186.98h1.9v1.9h-1.9zM492.83 191.94h1.9v1.9h-1.9zM493.8 196.92h1.9v1.9h-1.9zM494.94 189.49h1.9v1.9h-1.9zM496 191.85h1.9v1.9h-1.9zM496.84 187.17h1.9v1.9h-1.9zM497.73 190.52h1.9v1.9h-1.9zM498.67 195.38h1.9v1.9h-1.9zM499.51 187.73h1.9v1.9h-1.9zM500.54 194.88h1.9v1.9h-1.9zM501.55 191.86h1.9v1.9h-1.9zM502.39 191.4h1.9v1.9h-1.9zM503.49 192.96h1.9v1.9h-1.9zM504.58 197.38h1.9v1.9h-1.9zM505.49 185.8h1.9v1.9h-1.9zM506.54 197.34h1.9v1.9h-1.9zM507.32 201.12h1.9v1.9h-1.9zM508.15 198.21h1.9v1.9h-1.9zM509.25 195.64h1.9v1.9h-1.9zM510.28 202.45h1.9v1.9h-1.9zM511.22 193.69h1.9v1.9h-1.9zM512.2 199.77h1.9v1.9h-1.9zM513.14 192.56h1.9v1.9h-1.9zM514.19 197.85h1.9v1.9h-1.9zM515.06 201.54h1.9v1.9h-1.9zM515.96 198.81h1.9v1.9h-1.9zM516.82 201.6h1.9v1.9h-1.9zM517.79 186.22h1.9v1.9h-1.9zM518.89 189.88h1.9v1.9h-1.9zM519.93 180.64h1.9v1.9h-1.9zM520.77 195.29h1.9v1.9h-1.9zM521.66 210.44h1.9v1.9h-1.9zM522.51 186.61h1.9v1.9h-1.9zM523.55 188.19h1.9v1.9h-1.9zM524.56 194.32h1.9v1.9h-1.9zM525.37 195.37h1.9v1.9h-1.9zM526.32 189.7h1.9v1.9h-1.9zM527.14 186.67h1.9v1.9h-1.9zM527.93 185.41h1.9v1.9h-1.9zM528.74 181.83h1.9v1.9h-1.9zM529.62 184.45h1.9v1.9h-1.9zM530.55 185.71h1.9v1.9h-1.9zM531.41 189.74h1.9v1.9h-1.9zM532.25 181.38h1.9v1.9h-1.9zM533.14 187.88h1.9v1.9h-1.9zM534.22 171.27h1.9v1.9h-1.9zM535.29 171.05h1.9v1.9h-1.9zM536.2 176.01h1.9v1.9h-1.9zM537.03 166.48h1.9v1.9h-1.9zM537.82 168.96h1.9v1.9h-1.9zM538.93 151.93h1.9v1.9h-1.9zM539.81 174.12h1.9v1.9h-1.9zM540.68 161.4h1.9v1.9h-1.9zM541.58 172.95h1.9v1.9h-1.9zM542.53 159.94h1.9v1.9h-1.9zM543.62 160.95h1.9v1.9h-1.9zM544.7 159.9h1.9v1.9h-1.9zM545.52 158.95h1.9v1.9h-1.9zM546.56 154.39h1.9v1.9h-1.9zM547.36 150.09h1.9v1.9h-1.9zM548.25 151.28h1.9v1.9h-1.9zM549.28 155.26h1.9v1.9h-1.9zM550.34 154.65h1.9v1.9h-1.9zM551.39 145.77h1.9v1.9h-1.9zM552.36 150.02h1.9v1.9h-1.9zM553.42 153.85h1.9v1.9h-1.9zM554.41 150.63h1.9v1.9h-1.9zM555.47 153.68h1.9v1.9h-1.9zM556.58 157.03h1.9v1.9h-1.9zM557.64 156.44h1.9v1.9h-1.9zM558.42 153.59h1.9v1.9h-1.9zM559.31 157.28h1.9v1.9h-1.9zM560.17 144.95h1.9v1.9h-1.9zM561.21 141.24h1.9v1.9h-1.9zM562.15 161.67h1.9v1.9h-1.9zM563.02 157.75h1.9v1.9h-1.9zM563.86 154.86h1.9v1.9h-1.9zM564.67 164.26h1.9v1.9h-1.9zM565.65 163.79h1.9v1.9h-1.9zM566.61 161.56h1.9v1.9h-1.9zM567.51 166.4h1.9v1.9h-1.9zM568.51 153.99h1.9v1.9h-1.9zM569.48 168.05h1.9v1.9h-1.9zM570.27 175.4h1.9v1.9h-1.9zM571.33 171.15h1.9v1.9h-1.9zM572.21 174.38h1.9v1.9h-1.9zM573.15 172.16h1.9v1.9h-1.9zM574.08 173.94h1.9v1.9h-1.9zM574.98 172.16h1.9v1.9h-1.9zM575.9 185.39h1.9v1.9h-1.9zM576.74 177.06h1.9v1.9h-1.9zM577.64 195.24h1.9v1.9h-1.9zM578.46 182.29h1.9v1.9h-1.9zM579.56 173.13h1.9v1.9h-1.9zM580.62 190.24h1.9v1.9h-1.9zM581.55 185.61h1.9v1.9h-1.9zM582.63 186.49h1.9v1.9h-1.9zM583.65 191.69h1.9v1.9h-1.9zM584.6 195.53h1.9v1.9h-1.9zM585.54 204.17h1.9v1.9h-1.9zM586.55 206.67h1.9v1.9h-1.9zM587.53 195.72h1.9v1.9h-1.9zM588.51 196.25h1.9v1.9h-1.9zM589.47 202.26h1.9v1.9h-1.9zM590.53 199.66h1.9v1.9h-1.9zM591.45 202.03h1.9v1.9h-1.9zM592.56 202.89h1.9v1.9h-1.9zM593.5 211.16h1.9v1.9h-1.9zM594.55 207.9h1.9v1.9h-1.9zM595.56 214.93h1.9v1.9h-1.9zM596.65 210.62h1.9v1.9h-1.9zM597.78 214.47h1.9v1.9h-1.9zM598.75 215.35h1.9v1.9h-1.9zM599.71 219.13h1.9v1.9h-1.9zM600.65 218.29h1.9v1.9h-1.9zM601.72 212.39h1.9v1.9h-1.9zM602.51 218.48h1.9v1.9h-1.9zM603.54 219.1h1.9v1.9h-1.9zM604.54 220.62h1.9v1.9h-1.9zM605.39 223.1h1.9v1.9h-1.9zM606.44 221.98h1.9v1.9h-1.9zM607.45 225.73h1.9v1.9h-1.9zM608.59 224.76h1.9v1.9h-1.9zM609.49 212.18h1.9v1.9h-1.9zM610.35 229h1.9v1.9h-1.9zM611.42 228.9h1.9v1.9h-1.9zM612.49 228.43h1.9v1.9h-1.9zM613.37 219.23h1.9v1.9h-1.9zM614.49 229.59h1.9v1.9h-1.9zM615.34 220.99h1.9v1.9h-1.9zM616.19 229.47h1.9v1.9h-1.9zM617.08 220.83h1.9v1.9h-1.9zM618.16 232.17h1.9v1.9h-1.9zM619.1 231.77h1.9v1.9h-1.9zM620.17 234.04h1.9v1.9h-1.9zM621.06 229.48h1.9v1.9h-1.9zM622.04 232.21h1.9v1.9h-1.9zM623.04 238.26h1.9v1.9h-1.9zM623.96 233.19h1.9v1.9h-1.9zM625.08 226.88h1.9v1.9h-1.9zM625.88 234.39h1.9v1.9h-1.9zM628.58 235.72h1.9v1.9h-1.9zM629.68 239.72h1.9v1.9h-1.9zM631.66 237.81h1.9v1.9h-1.9zM632.62 233.63h1.9v1.9h-1.9zM633.62 240.05h1.9v1.9h-1.9zM634.55 234.69h1.9v1.9h-1.9zM635.36 235.08h1.9v1.9h-1.9zM636.37 241.18h1.9v1.9h-1.9zM638.24 236.36h1.9v1.9h-1.9zM639.18 237.3h1.9v1.9h-1.9zM640.2 238.69h1.9v1.9h-1.9zM641 233.11h1.9v1.9h-1.9zM642.06 237.49h1.9v1.9h-1.9zM643.01 237.54h1.9v1.9h-1.9zM644.79 239.4h1.9v1.9h-1.9zM645.82 238.3h1.9v1.9h-1.9zM646.63 239.01h1.9v1.9h-1.9zM647.72 233.82h1.9v1.9h-1.9zM648.69 237.78h1.9v1.9h-1.9zM650.47 236.34h1.9v1.9h-1.9zM651.49 241.52h1.9v1.9h-1.9zM652.43 242.02h1.9v1.9h-1.9zM655.31 237.59h1.9v1.9h-1.9zM656.3 239.43h1.9v1.9h-1.9zM657.2 238.54h1.9v1.9h-1.9zM658.28 240.49h1.9v1.9h-1.9zM659.08 237.29h1.9v1.9h-1.9zM659.89 238.37h1.9v1.9h-1.9zM661.8 230.54h1.9v1.9h-1.9zM662.79 237.97h1.9v1.9h-1.9zM663.9 227.77h1.9v1.9h-1.9zM664.83 239.8h1.9v1.9h-1.9zM665.67 235.14h1.9v1.9h-1.9zM666.45 233.89h1.9v1.9h-1.9zM667.56 236.19h1.9v1.9h-1.9z" fill="#900c0c"/>
<path d="M378.55 237.28 L379.15 236.95 L379.75 236.63 L380.35 236.31 L380.95 235.99 L381.55 235.68 L382.15 235.38 L382.75 235.07 L383.35 234.76 L383.95 234.46 L384.55 234.15 L385.14 233.83 L385.74 233.52 L386.34 233.2 L386.94 232.87 L387.54 232.54 L388.14 232.19 L388.74 231.84 L389.34 231.47 L389.94 231.1 L390.54 230.71 L391.14 230.31 L391.74 229.89 L392.34 229.45 L392.94 229.01 L393.54 228.55 L394.14 228.08 L394.74 227.61 L395.34 227.13 L395.94 226.64 L396.54 226.14 L397.13 225.64 L397.73 225.14 L398.33 224.63 L398.93 224.12 L399.53 223.61 L400.13 223.11 L400.73 222.6 L401.33 222.09 L401.93 221.57 L402.53 221.05 L403.13 220.53 L403.73 220.01 L404.33 219.48 L404.93 218.95 L405.53 218.42 L406.13 217.88 L406.73 217.34 L407.33 216.8 L407.93 216.26 L408.53 215.71 L409.12 215.15 L409.72 214.59 L410.32 214.02 L410.92 213.44 L411.52 212.86 L412.12 212.27 L412.72 211.69 L413.32 211.11 L413.92 210.53 L414.52 209.95 L415.12 209.38 L415.72 208.82 L416.32 208.27 L416.92 207.73 L417.52 207.19 L418.12 206.65 L418.72 206.12 L419.32 205.58 L419.92 205.06 L420.51 204.53 L421.11 204.02 L421.71 203.51 L422.31 203.01 L422.91 202.52 L423.51 202.04 L424.11 201.58 L424.71 201.13 L425.31 200.7 L425.91 200.27 L426.51 199.86 L427.11 199.46 L427.71 199.07 L428.31 198.69 L428.91 198.32 L429.51 197.96 L430.11 197.61 L430.71 197.26 L431.31 196.93 L431.91 196.6 L432.5 196.29 L433.1 195.98 L433.7 195.68 L434.3 195.39 L434.9 195.12 L435.5 194.86 L436.1 194.6 L436.7 194.35 L437.3 194.12 L437.9 193.89 L438.5 193.66 L439.1 193.44 L439.7 193.22 L440.3 193.01 L440.9 192.8 L441.5 192.59 L442.1 192.38 L442.7 192.18 L443.3 191.97 L443.9 191.78 L444.5 191.58 L445.09 191.39 L445.69 191.21 L446.29 191.03 L446.89 190.86 L447.49 190.7 L448.09 190.54 L448.69 190.39 L449.29 190.25 L449.89 190.12 L450.49 190 L451.09 189.89 L451.69 189.78 L452.29 189.69 L452.89 189.6 L453.49 189.51 L454.09 189.44 L454.69 189.37 L455.29 189.3 L455.89 189.24 L456.49 189.19 L457.08 189.14 L457.68 189.1 L458.28 189.05 L458.88 189.02 L459.48 188.99 L460.08 188.97 L460.68 188.95 L461.28 188.94 L461.88 188.94 L462.48 188.94 L463.08 188.94 L463.68 188.95 L464.28 188.96 L464.88 188.97 L465.48 188.98 L466.08 189 L466.68 189.02 L467.28 189.05 L467.88 189.08 L468.48 189.12 L469.07 189.16 L469.67 189.21 L470.27 189.26 L470.87 189.32 L471.47 189.37 L472.07 189.43 L472.67 189.5 L473.27 189.56 L473.87 189.63 L474.47 189.69 L475.07 189.76 L475.67 189.83 L476.27 189.9 L476.87 189.96 L477.47 190.03 L478.07 190.09 L478.67 190.15 L479.27 190.21 L479.87 190.28 L480.47 190.34 L481.06 190.4 L481.66 190.46 L482.26 190.52 L482.86 190.59 L483.46 190.65 L484.06 190.72 L484.66 190.79 L485.26 190.86 L485.86 190.93 L486.46 191.01 L487.06 191.09 L487.66 191.17 L488.26 191.25 L488.86 191.33 L489.46 191.41 L490.06 191.5 L490.66 191.59 L491.26 191.68 L491.86 191.77 L492.46 191.87 L493.05 191.96 L493.65 192.07 L494.25 192.17 L494.85 192.28 L495.45 192.4 L496.05 192.52 L496.65 192.65 L497.25 192.78 L497.85 192.92 L498.45 193.06 L499.05 193.21 L499.65 193.35 L500.25 193.49 L500.85 193.63 L501.45 193.76 L502.05 193.89 L502.65 194.02 L503.25 194.13 L503.85 194.24 L504.45 194.36 L505.04 194.48 L505.64 194.59 L506.24 194.71 L506.84 194.82 L507.44 194.93 L508.04 195.02 L508.64 195.11 L509.24 195.19 L509.84 195.26 L510.44 195.31 L511.04 195.35 L511.64 195.36 L512.24 195.37 L512.84 195.37 L513.44 195.37 L514.04 195.35 L514.64 195.31 L515.24 195.26 L515.84 195.17 L516.44 195.05 L517.03 194.92 L517.63 194.76 L518.23 194.59 L518.83 194.4 L519.43 194.18 L520.03 193.92 L520.63 193.63 L521.23 193.29 L521.83 192.9 L522.43 192.46 L523.03 191.97 L523.63 191.44 L524.23 190.87 L524.83 190.27 L525.43 189.64 L526.03 188.98 L526.63 188.31 L527.23 187.62 L527.83 186.9 L528.42 186.15 L529.02 185.37 L529.62 184.57 L530.22 183.75 L530.82 182.91 L531.42 182.05 L532.02 181.18 L532.62 180.29 L533.22 179.37 L533.82 178.43 L534.42 177.47 L535.02 176.5 L535.62 175.51 L536.22 174.53 L536.82 173.54 L537.42 172.55 L538.02 171.56 L538.62 170.54 L539.22 169.52 L539.82 168.49 L540.41 167.47 L541.01 166.46 L541.61 165.48 L542.21 164.54 L542.81 163.61 L543.41 162.7 L544.01 161.79 L544.61 160.91 L545.21 160.06 L545.81 159.24 L546.41 158.47 L547.01 157.76 L547.61 157.07 L548.21 156.4 L548.81 155.77 L549.41 155.18 L550.01 154.65 L550.61 154.22 L551.21 153.88 L551.81 153.65 L552.4 153.55 L553 153.53 L553.6 153.6 L554.2 153.72 L554.8 153.88 L555.4 154.06 L556 154.25 L556.6 154.48 L557.2 154.75 L557.8 155.07 L558.4 155.42 L559 155.82 L559.6 156.28 L560.2 156.79 L560.8 157.37 L561.4 158.01 L562 158.71 L562.6 159.44 L563.2 160.19 L563.8 160.95 L564.39 161.7 L564.99 162.44 L565.59 163.18 L566.19 163.94 L566.79 164.7 L567.39 165.47 L567.99 166.26 L568.59 167.05 L569.19 167.85 L569.79 168.65 L570.39 169.47 L570.99 170.29 L571.59 171.12 L572.19 171.95 L572.79 172.78 L573.39 173.63 L573.99 174.49 L574.59 175.36 L575.19 176.25 L575.79 177.17 L576.38 178.12 L576.98 179.09 L577.58 180.08 L578.18 181.09 L578.78 182.12 L579.38 183.15 L579.98 184.19 L580.58 185.23 L581.18 186.26 L581.78 187.29 L582.38 188.31 L582.98 189.32 L583.58 190.31 L584.18 191.3 L584.78 192.29 L585.38 193.28 L585.98 194.28 L586.58 195.27 L587.18 196.25 L587.78 197.23 L588.38 198.21 L588.97 199.17 L589.57 200.13 L590.17 201.07 L590.77 202.01 L591.37 202.92 L591.97 203.83 L592.57 204.72 L593.17 205.61 L593.77 206.49 L594.37 207.37 L594.97 208.23 L595.57 209.08 L596.17 209.93 L596.77 210.76 L597.37 211.57 L597.97 212.38 L598.57 213.17 L599.17 213.95 L599.77 214.72 L600.37 215.46 L600.96 216.19 L601.56 216.9 L602.16 217.6 L602.76 218.28 L603.36 218.94 L603.96 219.6 L604.56 220.25 L605.16 220.89 L605.76 221.52 L606.36 222.15 L606.96 222.78 L607.56 223.4 L608.16 224.03 L608.76 224.66 L609.36 225.29 L609.96 225.92 L610.56 226.55 L611.16 227.17 L611.76 227.79 L612.36 228.4 L612.95 229 L613.55 229.59 L614.15 230.17 L614.75 230.74 L615.35 231.3 L615.95 231.83 L616.55 232.35 L617.15 232.86 L617.75 233.35 L618.35 233.83 L618.95 234.3 L619.55 234.76 L620.15 235.2 L620.75 235.63 L621.35 236.06 L621.95 236.46 L622.55 236.86 L623.15 237.24 L623.75 237.61 L624.35 237.97 L624.94 238.32 L625.54 238.65 L626.14 238.97 L626.74 239.27 L627.34 239.56 L627.94 239.84 L628.54 240.11 L629.14 240.36 L629.74 240.61 L630.34 240.84 L630.94 241.07 L631.54 241.28 L632.14 241.49 L632.74 241.69 L633.34 241.88 L633.94 242.07 L634.54 242.26 L635.14 242.44 L635.74 242.61 L636.34 242.78 L636.93 242.93 L637.53 243.07 L638.13 243.18 L638.73 243.28 L639.33 243.36 L639.93 243.42 L640.53 243.45 L641.13 243.45 L641.73 243.45 L642.33 243.45 L642.93 243.45 L643.53 243.45 L644.13 243.45 L644.73 243.45 L645.33 243.45 L645.93 243.45 L646.53 243.45 L647.13 243.45 L647.73 243.45 L648.33 243.45 L648.92 243.45 L649.52 243.45 L650.12 243.45 L650.72 243.45 L651.32 243.45 L651.92 243.45 L652.52 243.45 L653.12 243.45 L653.72 243.45 L654.32 243.45 L654.92 243.45 L655.52 243.45 L656.12 243.45 L656.72 243.45 L657.32 243.45 L657.92 243.45 L658.52 243.45 L659.12 243.45 L659.72 243.45 L660.32 243.45 L660.91 243.45 L661.51 243.45 L662.11 243.45 L662.71 243.45 L663.31 243.45 L663.91 243.45 L664.51 243.45 L665.11 243.45 L665.71 243.45 L666.31 243.45 L666.91 243.45 L667.51 243.45 L668.11 243.45 L668.71 243.45 L669.31 243.45 L669.91 243.45 L670.51 243.45 L671.11 243.45 L671.71 243.45 L672.31 243.45 L672.9 243.45 L673.5 243.45 L674.1 243.45 L674.7 243.45 L675.3 243.45 L675.9 243.45 L676.5 243.45 L677.1 243.45 L677.7 243.45 L678.3 243.45" fill="none" stroke="#8e1010" stroke-width="2" stroke-linejoin="round" stroke-linecap="round"/>
<path d="M379.13 228.1h1.9v1.9h-1.9zM380.04 237.16h1.9v1.9h-1.9zM380.83 232.67h1.9v1.9h-1.9zM381.87 232.84h1.9v1.9h-1.9zM382.82 223.66h1.9v1.9h-1.9zM383.62 229.98h1.9v1.9h-1.9zM384.7 229.36h1.9v1.9h-1.9zM385.76 231.65h1.9v1.9h-1.9zM386.76 228.28h1.9v1.9h-1.9zM387.64 225.89h1.9v1.9h-1.9zM388.74 223.56h1.9v1.9h-1.9zM389.64 213.93h1.9v1.9h-1.9zM390.75 220.93h1.9v1.9h-1.9zM391.58 221.33h1.9v1.9h-1.9zM392.68 223.95h1.9v1.9h-1.9zM393.58 223.91h1.9v1.9h-1.9zM394.5 224.8h1.9v1.9h-1.9zM395.62 215.01h1.9v1.9h-1.9zM396.47 215.95h1.9v1.9h-1.9zM397.43 226.8h1.9v1.9h-1.9zM398.37 217.71h1.9v1.9h-1.9zM399.46 216.45h1.9v1.9h-1.9zM400.55 214.22h1.9v1.9h-1.9zM401.69 214.36h1.9v1.9h-1.9zM402.76 210.32h1.9v1.9h-1.9zM403.65 208.93h1.9v1.9h-1.9zM404.44 208.95h1.9v1.9h-1.9zM405.36 207.85h1.9v1.9h-1.9zM406.26 208.08h1.9v1.9h-1.9zM407.05 214.4h1.9v1.9h-1.9zM407.85 211.31h1.9v1.9h-1.9zM408.69 214.27h1.9v1.9h-1.9zM409.62 205.78h1.9v1.9h-1.9zM410.72 212.1h1.9v1.9h-1.9zM411.65 201.87h1.9v1.9h-1.9zM412.77 208.44h1.9v1.9h-1.9zM413.74 207h1.9v1.9h-1.9zM414.56 201.15h1.9v1.9h-1.9zM415.41 202.66h1.9v1.9h-1.9zM416.41 201h1.9v1.9h-1.9zM417.36 198.91h1.9v1.9h-1.9zM418.16 191h1.9v1.9h-1.9zM418.99 197.46h1.9v1.9h-1.9zM419.95 196.65h1.9v1.9h-1.9zM421.03 195.18h1.9v1.9h-1.9zM421.97 195.11h1.9v1.9h-1.9zM422.9 197.65h1.9v1.9h-1.9zM423.84 186.74h1.9v1.9h-1.9zM424.89 189.03h1.9v1.9h-1.9zM425.91 187.57h1.9v1.9h-1.9zM426.79 192.83h1.9v1.9h-1.9zM427.75 196.66h1.9v1.9h-1.9zM428.84 187.47h1.9v1.9h-1.9zM429.78 184.08h1.9v1.9h-1.9zM430.56 184.72h1.9v1.9h-1.9zM431.48 184.6h1.9v1.9h-1.9zM432.39 177.68h1.9v1.9h-1.9zM433.43 178.19h1.9v1.9h-1.9zM434.36 162.36h1.9v1.9h-1.9zM435.27 175.81h1.9v1.9h-1.9zM436.17 180.21h1.9v1.9h-1.9zM437.29 171.15h1.9v1.9h-1.9zM438.13 170.99h1.9v1.9h-1.9zM439.09 173.89h1.9v1.9h-1.9zM439.94 168.9h1.9v1.9h-1.9zM440.78 171.98h1.9v1.9h-1.9zM441.62 163.74h1.9v1.9h-1.9zM442.72 170.66h1.9v1.9h-1.9zM443.6 179.9h1.9v1.9h-1.9zM444.65 172.53h1.9v1.9h-1.9zM445.76 171.45h1.9v1.9h-1.9zM446.62 169.97h1.9v1.9h-1.9zM447.55 164.98h1.9v1.9h-1.9zM448.35 163.89h1.9v1.9h-1.9zM449.49 155.52h1.9v1.9h-1.9zM450.38 153.63h1.9v1.9h-1.9zM451.39 161.6h1.9v1.9h-1.9zM452.26 169.37h1.9v1.9h-1.9zM453.28 160.09h1.9v1.9h-1.9zM454.15 162.18h1.9v1.9h-1.9zM455.07 160.51h1.9v1.9h-1.9zM455.87 154.89h1.9v1.9h-1.9zM456.94 160.72h1.9v1.9h-1.9zM458.06 164.43h1.9v1.9h-1.9zM459.05 173.15h1.9v1.9h-1.9zM459.92 161.84h1.9v1.9h-1.9zM461.02 155.83h1.9v1.9h-1.9zM462.07 161.48h1.9v1.9h-1.9zM462.93 155.12h1.9v1.9h-1.9zM463.89 158.55h1.9v1.9h-1.9zM464.81 167.38h1.9v1.9h-1.9zM465.75 162.37h1.9v1.9h-1.9zM466.87 155.34h1.9v1.9h-1.9zM467.67 158.78h1.9v1.9h-1.9zM468.57 152.56h1.9v1.9h-1.9zM469.6 159.75h1.9v1.9h-1.9zM470.73 162.18h1.9v1.9h-1.9zM471.65 157.17h1.9v1.9h-1.9zM472.59 167.81h1.9v1.9h-1.9zM473.43 160.35h1.9v1.9h-1.9zM474.44 155.9h1.9v1.9h-1.9zM475.32 167.93h1.9v1.9h-1.9zM476.15 158.34h1.9v1.9h-1.9zM477.01 167.76h1.9v1.9h-1.9zM477.98 164.76h1.9v1.9h-1.9zM478.85 161.53h1.9v1.9h-1.9zM479.93 164.6h1.9v1.9h-1.9zM480.92 159.79h1.9v1.9h-1.9zM481.86 172.68h1.9v1.9h-1.9zM482.95 165.65h1.9v1.9h-1.9zM483.84 169.03h1.9v1.9h-1.9zM484.97 173.26h1.9v1.9h-1.9zM485.87 168.11h1.9v1.9h-1.9zM486.68 171.8h1.9v1.9h-1.9zM487.62 170.09h1.9v1.9h-1.9zM488.7 172.42h1.9v1.9h-1.9zM489.56 170.96h1.9v1.9h-1.9zM490.67 160.83h1.9v1.9h-1.9zM491.68 173.96h1.9v1.9h-1.9zM492.52 173.91h1.9v1.9h-1.9zM493.52 183.92h1.9v1.9h-1.9zM494.56 178.81h1.9v1.9h-1.9zM495.57 160.68h1.9v1.9h-1.9zM496.48 183.84h1.9v1.9h-1.9zM497.35 168.86h1.9v1.9h-1.9zM498.15 169.49h1.9v1.9h-1.9zM499.01 196.08h1.9v1.9h-1.9zM500.01 185.35h1.9v1.9h-1.9zM500.96 182.2h1.9v1.9h-1.9zM502.03 181.16h1.9v1.9h-1.9zM503.01 185.81h1.9v1.9h-1.9zM504.1 185.83h1.9v1.9h-1.9zM505.03 185.95h1.9v1.9h-1.9zM506.06 185.85h1.9v1.9h-1.9zM507.2 191.24h1.9v1.9h-1.9zM508.18 196.87h1.9v1.9h-1.9zM509.29 192h1.9v1.9h-1.9zM510.31 195.62h1.9v1.9h-1.9zM511.27 199.29h1.9v1.9h-1.9zM512.39 196.38h1.9v1.9h-1.9zM513.27 183.34h1.9v1.9h-1.9zM514.1 195.88h1.9v1.9h-1.9zM515.2 200.38h1.9v1.9h-1.9zM516.16 202.47h1.9v1.9h-1.9zM517.14 200.51h1.9v1.9h-1.9zM518.04 201.71h1.9v1.9h-1.9zM519.17 206.87h1.9v1.9h-1.9zM520.16 201.29h1.9v1.9h-1.9zM521.29 204.8h1.9v1.9h-1.9zM522.38 202.58h1.9v1.9h-1.9zM523.46 205.72h1.9v1.9h-1.9zM524.33 202.53h1.9v1.9h-1.9zM525.39 211.41h1.9v1.9h-1.9zM526.25 208.88h1.9v1.9h-1.9zM527.17 215.15h1.9v1.9h-1.9zM528.27 207.88h1.9v1.9h-1.9zM529.06 209.38h1.9v1.9h-1.9zM529.9 213.14h1.9v1.9h-1.9zM530.91 210.24h1.9v1.9h-1.9zM531.8 215.11h1.9v1.9h-1.9zM532.86 209.56h1.9v1.9h-1.9zM533.9 215.34h1.9v1.9h-1.9zM534.96 223.98h1.9v1.9h-1.9zM535.92 211.75h1.9v1.9h-1.9zM536.93 220.65h1.9v1.9h-1.9zM537.73 214.38h1.9v1.9h-1.9zM538.6 218.21h1.9v1.9h-1.9zM539.5 213.79h1.9v1.9h-1.9zM540.37 214.32h1.9v1.9h-1.9zM541.47 219h1.9v1.9h-1.9zM542.32 218.85h1.9v1.9h-1.9zM543.15 222.87h1.9v1.9h-1.9zM543.98 217.6h1.9v1.9h-1.9zM544.81 215.93h1.9v1.9h-1.9zM545.91 219.54h1.9v1.9h-1.9zM546.99 223.93h1.9v1.9h-1.9zM547.77 222.8h1.9v1.9h-1.9zM548.74 219.74h1.9v1.9h-1.9zM549.55 220.97h1.9v1.9h-1.9zM550.67 225.17h1.9v1.9h-1.9zM551.67 218.02h1.9v1.9h-1.9zM552.76 225.96h1.9v1.9h-1.9zM553.71 222.14h1.9v1.9h-1.9zM554.53 214.35h1.9v1.9h-1.9zM555.43 227.28h1.9v1.9h-1.9zM556.43 221.74h1.9v1.9h-1.9zM557.3 222.32h1.9v1.9h-1.9zM558.43 226.43h1.9v1.9h-1.9zM559.26 221.08h1.9v1.9h-1.9zM560.18 221.28h1.9v1.9h-1.9zM561.01 214.68h1.9v1.9h-1.9zM561.97 237.34h1.9v1.9h-1.9zM562.84 222h1.9v1.9h-1.9zM563.83 211.48h1.9v1.9h-1.9zM564.92 212.51h1.9v1.9h-1.9zM565.86 226.34h1.9v1.9h-1.9zM566.93 225.48h1.9v1.9h-1.9zM568 218.83h1.9v1.9h-1.9zM569.06 224h1.9v1.9h-1.9zM569.94 235.59h1.9v1.9h-1.9zM570.93 217.39h1.9v1.9h-1.9zM571.98 220.52h1.9v1.9h-1.9zM573.06 227.07h1.9v1.9h-1.9zM574.12 226.53h1.9v1.9h-1.9zM575.18 227.13h1.9v1.9h-1.9zM576.14 225.62h1.9v1.9h-1.9zM576.95 219.67h1.9v1.9h-1.9zM577.86 227.34h1.9v1.9h-1.9zM578.97 225.32h1.9v1.9h-1.9zM579.9 222.15h1.9v1.9h-1.9zM580.78 230.38h1.9v1.9h-1.9zM581.67 218.05h1.9v1.9h-1.9zM582.56 224.25h1.9v1.9h-1.9zM583.34 213.76h1.9v1.9h-1.9zM584.35 223.82h1.9v1.9h-1.9zM585.28 217.9h1.9v1.9h-1.9zM586.07 231.35h1.9v1.9h-1.9zM586.87 213.26h1.9v1.9h-1.9zM587.87 215.03h1.9v1.9h-1.9zM588.7 220.63h1.9v1.9h-1.9zM589.61 224.74h1.9v1.9h-1.9zM590.4 223.92h1.9v1.9h-1.9zM591.3 216.26h1.9v1.9h-1.9zM592.17 230.45h1.9v1.9h-1.9zM593.11 222.66h1.9v1.9h-1.9zM593.9 216.31h1.9v1.9h-1.9zM595.02 231.01h1.9v1.9h-1.9zM595.92 220.42h1.9v1.9h-1.9zM596.88 230.06h1.9v1.9h-1.9zM597.96 219.74h1.9v1.9h-1.9zM598.91 222.34h1.9v1.9h-1.9zM599.9 234h1.9v1.9h-1.9zM600.76 215.17h1.9v1.9h-1.9zM601.87 223.3h1.9v1.9h-1.9zM602.76 226.69h1.9v1.9h-1.9zM603.57 235.01h1.9v1.9h-1.9zM604.66 222.24h1.9v1.9h-1.9zM605.69 223.13h1.9v1.9h-1.9zM606.76 208.08h1.9v1.9h-1.9zM607.83 224.86h1.9v1.9h-1.9zM608.8 220.14h1.9v1.9h-1.9zM609.76 231.84h1.9v1.9h-1.9zM610.84 230.48h1.9v1.9h-1.9zM611.94 221.87h1.9v1.9h-1.9zM613.02 224.29h1.9v1.9h-1.9zM613.93 219.1h1.9v1.9h-1.9zM615.01 231.45h1.9v1.9h-1.9zM616.14 231.26h1.9v1.9h-1.9zM617.14 215.19h1.9v1.9h-1.9zM617.96 219.25h1.9v1.9h-1.9zM618.85 225.44h1.9v1.9h-1.9zM619.66 233.55h1.9v1.9h-1.9zM621.64 227.78h1.9v1.9h-1.9zM622.47 230.62h1.9v1.9h-1.9zM623.44 224.03h1.9v1.9h-1.9zM624.48 225.5h1.9v1.9h-1.9zM625.61 230.66h1.9v1.9h-1.9zM627.61 234.66h1.9v1.9h-1.9zM628.57 218.5h1.9v1.9h-1.9zM629.62 234.26h1.9v1.9h-1.9zM630.53 231.7h1.9v1.9h-1.9zM631.59 231.71h1.9v1.9h-1.9zM632.64 228.48h1.9v1.9h-1.9zM633.67 231.75h1.9v1.9h-1.9zM634.6 229.08h1.9v1.9h-1.9zM635.55 227.15h1.9v1.9h-1.9zM636.67 228.92h1.9v1.9h-1.9zM637.66 230.84h1.9v1.9h-1.9zM638.5 236.12h1.9v1.9h-1.9zM639.41 231.63h1.9v1.9h-1.9zM640.26 234.83h1.9v1.9h-1.9zM641.19 224.27h1.9v1.9h-1.9zM642.15 228.13h1.9v1.9h-1.9zM643.23 230.01h1.9v1.9h-1.9zM644.1 238.43h1.9v1.9h-1.9zM645.16 232.39h1.9v1.9h-1.9zM646.03 224.05h1.9v1.9h-1.9zM647.03 219.91h1.9v1.9h-1.9zM647.87 232.77h1.9v1.9h-1.9zM648.73 229.14h1.9v1.9h-1.9zM649.77 226.42h1.9v1.9h-1.9zM650.79 237.2h1.9v1.9h-1.9zM651.61 228.1h1.9v1.9h-1.9zM653.65 234.74h1.9v1.9h-1.9zM654.48 235.47h1.9v1.9h-1.9zM655.47 231.8h1.9v1.9h-1.9zM656.47 238.24h1.9v1.9h-1.9zM657.28 227.6h1.9v1.9h-1.9zM658.26 228.06h1.9v1.9h-1.9zM659.18 225.84h1.9v1.9h-1.9zM660.28 232.61h1.9v1.9h-1.9zM661.39 239.03h1.9v1.9h-1.9zM662.41 235.25h1.9v1.9h-1.9zM663.53 233.13h1.9v1.9h-1.9zM664.45 235.06h1.9v1.9h-1.9zM665.54 227.06h1.9v1.9h-1.9zM666.51 227.09h1.9v1.9h-1.9zM667.31 233.23h1.9v1.9h-1.9zM669.18 239.67h1.9v1.9h-1.9zM670.12 235.26h1.9v1.9h-1.9zM671.12 230.74h1.9v1.9h-1.9zM672.21 234.98h1.9v1.9h-1.9zM673.94 226.71h1.9v1.9h-1.9zM675.01 231.51h1.9v1.9h-1.9zM675.82 236.62h1.9v1.9h-1.9z" fill="#12969c"/>
<path d="M378.55 230.5 L379.15 230.19 L379.75 229.88 L380.35 229.58 L380.95 229.28 L381.55 228.98 L382.15 228.68 L382.75 228.37 L383.35 228.06 L383.95 227.74 L384.55 227.42 L385.14 227.08 L385.74 226.74 L386.34 226.37 L386.94 226 L387.54 225.61 L388.14 225.21 L388.74 224.81 L389.34 224.39 L389.94 223.97 L390.54 223.54 L391.14 223.1 L391.74 222.65 L392.34 222.2 L392.94 221.74 L393.54 221.28 L394.14 220.81 L394.74 220.34 L395.34 219.87 L395.94 219.39 L396.54 218.91 L397.13 218.43 L397.73 217.94 L398.33 217.44 L398.93 216.94 L399.53 216.44 L400.13 215.93 L400.73 215.41 L401.33 214.89 L401.93 214.36 L402.53 213.84 L403.13 213.3 L403.73 212.77 L404.33 212.23 L404.93 211.69 L405.53 211.15 L406.13 210.61 L406.73 210.06 L407.33 209.52 L407.93 208.97 L408.53 208.43 L409.12 207.88 L409.72 207.33 L410.32 206.78 L410.92 206.23 L411.52 205.67 L412.12 205.1 L412.72 204.53 L413.32 203.95 L413.92 203.36 L414.52 202.76 L415.12 202.15 L415.72 201.52 L416.32 200.89 L416.92 200.25 L417.52 199.6 L418.12 198.94 L418.72 198.28 L419.32 197.61 L419.92 196.95 L420.51 196.28 L421.11 195.61 L421.71 194.95 L422.31 194.28 L422.91 193.62 L423.51 192.96 L424.11 192.29 L424.71 191.63 L425.31 190.96 L425.91 190.29 L426.51 189.62 L427.11 188.94 L427.71 188.26 L428.31 187.58 L428.91 186.89 L429.51 186.2 L430.11 185.5 L430.71 184.79 L431.31 184.06 L431.91 183.33 L432.5 182.59 L433.1 181.84 L433.7 181.1 L434.3 180.36 L434.9 179.63 L435.5 178.9 L436.1 178.2 L436.7 177.51 L437.3 176.85 L437.9 176.19 L438.5 175.55 L439.1 174.92 L439.7 174.3 L440.3 173.69 L440.9 173.09 L441.5 172.5 L442.1 171.92 L442.7 171.35 L443.3 170.79 L443.9 170.24 L444.5 169.69 L445.09 169.15 L445.69 168.62 L446.29 168.1 L446.89 167.57 L447.49 167.05 L448.09 166.52 L448.69 166.01 L449.29 165.5 L449.89 165 L450.49 164.52 L451.09 164.06 L451.69 163.61 L452.29 163.2 L452.89 162.8 L453.49 162.44 L454.09 162.12 L454.69 161.82 L455.29 161.54 L455.89 161.3 L456.49 161.07 L457.08 160.87 L457.68 160.69 L458.28 160.52 L458.88 160.38 L459.48 160.26 L460.08 160.15 L460.68 160.06 L461.28 159.98 L461.88 159.91 L462.48 159.86 L463.08 159.83 L463.68 159.82 L464.28 159.82 L464.88 159.84 L465.48 159.88 L466.08 159.93 L466.68 160 L467.28 160.09 L467.88 160.19 L468.48 160.32 L469.07 160.46 L469.67 160.61 L470.27 160.79 L470.87 160.98 L471.47 161.2 L472.07 161.43 L472.67 161.69 L473.27 161.96 L473.87 162.24 L474.47 162.54 L475.07 162.86 L475.67 163.18 L476.27 163.52 L476.87 163.87 L477.47 164.23 L478.07 164.6 L478.67 164.99 L479.27 165.39 L479.87 165.81 L480.47 166.24 L481.06 166.69 L481.66 167.14 L482.26 167.61 L482.86 168.09 L483.46 168.57 L484.06 169.07 L484.66 169.57 L485.26 170.07 L485.86 170.58 L486.46 171.09 L487.06 171.61 L487.66 172.14 L488.26 172.68 L488.86 173.23 L489.46 173.79 L490.06 174.35 L490.66 174.92 L491.26 175.49 L491.86 176.07 L492.46 176.65 L493.05 177.23 L493.65 177.81 L494.25 178.39 L494.85 178.98 L495.45 179.58 L496.05 180.19 L496.65 180.79 L497.25 181.4 L497.85 182.01 L498.45 182.61 L499.05 183.22 L499.65 183.81 L500.25 184.4 L500.85 184.99 L501.45 185.57 L502.05 186.15 L502.65 186.73 L503.25 187.31 L503.85 187.88 L504.45 188.45 L505.04 189.01 L505.64 189.57 L506.24 190.13 L506.84 190.69 L507.44 191.25 L508.04 191.81 L508.64 192.38 L509.24 192.94 L509.84 193.51 L510.44 194.09 L511.04 194.67 L511.64 195.26 L512.24 195.86 L512.84 196.45 L513.44 197.05 L514.04 197.64 L514.64 198.23 L515.24 198.82 L515.84 199.4 L516.44 199.97 L517.03 200.53 L517.63 201.08 L518.23 201.62 L518.83 202.16 L519.43 202.69 L520.03 203.21 L520.63 203.73 L521.23 204.24 L521.83 204.75 L522.43 205.25 L523.03 205.74 L523.63 206.23 L524.23 206.71 L524.83 207.19 L525.43 207.65 L526.03 208.12 L526.63 208.57 L527.23 209.03 L527.83 209.47 L528.42 209.91 L529.02 210.35 L529.62 210.78 L530.22 211.2 L530.82 211.61 L531.42 212.02 L532.02 212.42 L532.62 212.8 L533.22 213.18 L533.82 213.55 L534.42 213.91 L535.02 214.26 L535.62 214.6 L536.22 214.93 L536.82 215.25 L537.42 215.56 L538.02 215.87 L538.62 216.17 L539.22 216.46 L539.82 216.74 L540.41 217.02 L541.01 217.29 L541.61 217.55 L542.21 217.81 L542.81 218.06 L543.41 218.31 L544.01 218.54 L544.61 218.78 L545.21 219 L545.81 219.22 L546.41 219.43 L547.01 219.63 L547.61 219.82 L548.21 220.01 L548.81 220.19 L549.41 220.36 L550.01 220.52 L550.61 220.66 L551.21 220.8 L551.81 220.93 L552.4 221.04 L553 221.14 L553.6 221.24 L554.2 221.32 L554.8 221.4 L555.4 221.47 L556 221.54 L556.6 221.6 L557.2 221.66 L557.8 221.71 L558.4 221.77 L559 221.82 L559.6 221.87 L560.2 221.92 L560.8 221.97 L561.4 222.02 L562 222.07 L562.6 222.12 L563.2 222.17 L563.8 222.21 L564.39 222.25 L564.99 222.29 L565.59 222.32 L566.19 222.35 L566.79 222.38 L567.39 222.41 L567.99 222.43 L568.59 222.45 L569.19 222.47 L569.79 222.48 L570.39 222.49 L570.99 222.5 L571.59 222.5 L572.19 222.5 L572.79 222.49 L573.39 222.49 L573.99 222.49 L574.59 222.49 L575.19 222.49 L575.79 222.5 L576.38 222.5 L576.98 222.51 L577.58 222.52 L578.18 222.54 L578.78 222.55 L579.38 222.56 L579.98 222.58 L580.58 222.6 L581.18 222.62 L581.78 222.64 L582.38 222.66 L582.98 222.68 L583.58 222.71 L584.18 222.73 L584.78 222.76 L585.38 222.78 L585.98 222.81 L586.58 222.84 L587.18 222.87 L587.78 222.9 L588.38 222.93 L588.97 222.96 L589.57 222.99 L590.17 223.02 L590.77 223.06 L591.37 223.09 L591.97 223.12 L592.57 223.16 L593.17 223.19 L593.77 223.22 L594.37 223.26 L594.97 223.29 L595.57 223.33 L596.17 223.36 L596.77 223.4 L597.37 223.44 L597.97 223.48 L598.57 223.51 L599.17 223.55 L599.77 223.6 L600.37 223.64 L600.96 223.68 L601.56 223.73 L602.16 223.77 L602.76 223.82 L603.36 223.87 L603.96 223.92 L604.56 223.98 L605.16 224.03 L605.76 224.09 L606.36 224.15 L606.96 224.21 L607.56 224.27 L608.16 224.34 L608.76 224.41 L609.36 224.48 L609.96 224.55 L610.56 224.63 L611.16 224.7 L611.76 224.78 L612.36 224.87 L612.95 224.95 L613.55 225.03 L614.15 225.12 L614.75 225.21 L615.35 225.3 L615.95 225.39 L616.55 225.48 L617.15 225.58 L617.75 225.67 L618.35 225.77 L618.95 225.86 L619.55 225.96 L620.15 226.06 L620.75 226.16 L621.35 226.26 L621.95 226.36 L622.55 226.45 L623.15 226.55 L623.75 226.65 L624.35 226.75 L624.94 226.85 L625.54 226.96 L626.14 227.06 L626.74 227.17 L627.34 227.28 L627.94 227.39 L628.54 227.51 L629.14 227.62 L629.74 227.74 L630.34 227.85 L630.94 227.97 L631.54 228.09 L632.14 228.21 L632.74 228.33 L633.34 228.44 L633.94 228.56 L634.54 228.68 L635.14 228.79 L635.74 228.91 L636.34 229.02 L636.93 229.13 L637.53 229.24 L638.13 229.35 L638.73 229.45 L639.33 229.56 L639.93 229.65 L640.53 229.75 L641.13 229.84 L641.73 229.93 L642.33 230.02 L642.93 230.1 L643.53 230.18 L644.13 230.26 L644.73 230.33 L645.33 230.4 L645.93 230.47 L646.53 230.54 L647.13 230.61 L647.73 230.67 L648.33 230.74 L648.92 230.8 L649.52 230.86 L650.12 230.92 L650.72 230.98 L651.32 231.04 L651.92 231.1 L652.52 231.16 L653.12 231.22 L653.72 231.28 L654.32 231.35 L654.92 231.41 L655.52 231.47 L656.12 231.54 L656.72 231.6 L657.32 231.67 L657.92 231.74 L658.52 231.81 L659.12 231.88 L659.72 231.95 L660.32 232.02 L660.91 232.09 L661.51 232.16 L662.11 232.23 L662.71 232.3 L663.31 232.38 L663.91 232.45 L664.51 232.52 L665.11 232.59 L665.71 232.66 L666.31 232.74 L666.91 232.81 L667.51 232.88 L668.11 232.96 L668.71 233.03 L669.31 233.1 L669.91 233.18 L670.51 233.25 L671.11 233.32 L671.71 233.4 L672.31 233.47 L672.9 233.54 L673.5 233.62 L674.1 233.69 L674.7 233.76 L675.3 233.84 L675.9 233.91 L676.5 233.98 L677.1 234.06 L677.7 234.13 L678.3 234.2" fill="none" stroke="#16979c" stroke-width="2" stroke-linejoin="round" stroke-linecap="round"/>
<path d="M379.21 232.86h1.9v1.9h-1.9zM379.99 237.05h1.9v1.9h-1.9zM380.79 235.11h1.9v1.9h-1.9zM381.62 235.2h1.9v1.9h-1.9zM382.6 226.82h1.9v1.9h-1.9zM383.43 236.28h1.9v1.9h-1.9zM384.43 233.03h1.9v1.9h-1.9zM385.23 226.47h1.9v1.9h-1.9zM386.07 232.9h1.9v1.9h-1.9zM387.1 233.22h1.9v1.9h-1.9zM388.11 234.6h1.9v1.9h-1.9zM389.09 233.76h1.9v1.9h-1.9zM389.92 231.12h1.9v1.9h-1.9zM390.75 233.57h1.9v1.9h-1.9zM391.6 235.34h1.9v1.9h-1.9zM392.67 228.52h1.9v1.9h-1.9zM393.59 231.25h1.9v1.9h-1.9zM394.37 230.72h1.9v1.9h-1.9zM395.5 234.24h1.9v1.9h-1.9zM396.53 229.01h1.9v1.9h-1.9zM397.33 229.08h1.9v1.9h-1.9zM398.4 231.43h1.9v1.9h-1.9zM399.49 229.63h1.9v1.9h-1.9zM400.29 223.02h1.9v1.9h-1.9zM401.19 224.72h1.9v1.9h-1.9zM402.17 222.52h1.9v1.9h-1.9zM403.26 228.87h1.9v1.9h-1.9zM404.23 229.12h1.9v1.9h-1.9zM405.06 234.33h1.9v1.9h-1.9zM405.85 231.33h1.9v1.9h-1.9zM406.84 229.38h1.9v1.9h-1.9zM407.78 233.82h1.9v1.9h-1.9zM408.65 229.41h1.9v1.9h-1.9zM409.44 231.24h1.9v1.9h-1.9zM410.47 227.39h1.9v1.9h-1.9zM411.28 224.75h1.9v1.9h-1.9zM412.28 227.95h1.9v1.9h-1.9zM413.12 225.92h1.9v1.9h-1.9zM413.98 227.32h1.9v1.9h-1.9zM414.9 225.7h1.9v1.9h-1.9zM415.81 226.27h1.9v1.9h-1.9zM416.7 226.29h1.9v1.9h-1.9zM417.73 226.09h1.9v1.9h-1.9zM418.71 226.72h1.9v1.9h-1.9zM419.81 223.61h1.9v1.9h-1.9zM420.93 220.94h1.9v1.9h-1.9zM422.04 222.34h1.9v1.9h-1.9zM422.96 220.79h1.9v1.9h-1.9zM423.94 225.18h1.9v1.9h-1.9zM425.07 225.79h1.9v1.9h-1.9zM426.1 219.15h1.9v1.9h-1.9zM427.1 220.96h1.9v1.9h-1.9zM428.01 221.3h1.9v1.9h-1.9zM428.82 222.33h1.9v1.9h-1.9zM429.81 213.72h1.9v1.9h-1.9zM430.88 227.56h1.9v1.9h-1.9zM431.94 217.29h1.9v1.9h-1.9zM432.97 220.12h1.9v1.9h-1.9zM434.03 218.87h1.9v1.9h-1.9zM435.13 216.41h1.9v1.9h-1.9zM436.24 220.2h1.9v1.9h-1.9zM437.04 224.17h1.9v1.9h-1.9zM437.91 220.6h1.9v1.9h-1.9zM438.97 222.65h1.9v1.9h-1.9zM439.95 221.26h1.9v1.9h-1.9zM440.96 224.61h1.9v1.9h-1.9zM442.09 220.05h1.9v1.9h-1.9zM443.03 216.43h1.9v1.9h-1.9zM443.99 224.8h1.9v1.9h-1.9zM445.06 216.84h1.9v1.9h-1.9zM446.16 219.61h1.9v1.9h-1.9zM447.21 224.71h1.9v1.9h-1.9zM448.22 220.45h1.9v1.9h-1.9zM449.09 220.52h1.9v1.9h-1.9zM450.12 221.76h1.9v1.9h-1.9zM451.22 222.63h1.9v1.9h-1.9zM452.18 219.01h1.9v1.9h-1.9zM453.19 209.22h1.9v1.9h-1.9zM454.1 219.5h1.9v1.9h-1.9zM455.15 215.98h1.9v1.9h-1.9zM455.97 216.61h1.9v1.9h-1.9zM456.99 216.57h1.9v1.9h-1.9zM457.82 220.69h1.9v1.9h-1.9zM458.94 218.42h1.9v1.9h-1.9zM459.82 221.8h1.9v1.9h-1.9zM460.79 226.78h1.9v1.9h-1.9zM461.88 217.94h1.9v1.9h-1.9zM462.99 219.13h1.9v1.9h-1.9zM463.97 218.66h1.9v1.9h-1.9zM464.99 217.55h1.9v1.9h-1.9zM465.92 216.14h1.9v1.9h-1.9zM466.98 219.02h1.9v1.9h-1.9zM468.08 209.35h1.9v1.9h-1.9zM469.04 221.48h1.9v1.9h-1.9zM470.01 220.13h1.9v1.9h-1.9zM470.99 222.35h1.9v1.9h-1.9zM471.99 218.4h1.9v1.9h-1.9zM473.12 218.44h1.9v1.9h-1.9zM474.03 220.44h1.9v1.9h-1.9zM474.88 220.66h1.9v1.9h-1.9zM475.93 216.54h1.9v1.9h-1.9zM476.72 218.92h1.9v1.9h-1.9zM477.6 221.41h1.9v1.9h-1.9zM478.49 219.68h1.9v1.9h-1.9zM479.61 216.92h1.9v1.9h-1.9zM480.46 219.71h1.9v1.9h-1.9zM481.6 213.36h1.9v1.9h-1.9zM482.49 216.56h1.9v1.9h-1.9zM483.58 215.84h1.9v1.9h-1.9zM484.48 218.45h1.9v1.9h-1.9zM485.52 226.06h1.9v1.9h-1.9zM486.66 218.97h1.9v1.9h-1.9zM487.8 222h1.9v1.9h-1.9zM488.81 222.72h1.9v1.9h-1.9zM489.86 217.29h1.9v1.9h-1.9zM490.93 224.39h1.9v1.9h-1.9zM491.95 218.08h1.9v1.9h-1.9zM493.08 221.76h1.9v1.9h-1.9zM494.02 218.35h1.9v1.9h-1.9zM495.1 220.26h1.9v1.9h-1.9zM496.16 222h1.9v1.9h-1.9zM497.01 216.26h1.9v1.9h-1.9zM497.87 224.35h1.9v1.9h-1.9zM498.69 219.66h1.9v1.9h-1.9zM499.62 223.24h1.9v1.9h-1.9zM500.56 219.23h1.9v1.9h-1.9zM501.5 222.56h1.9v1.9h-1.9zM502.54 221.36h1.9v1.9h-1.9zM503.57 221.42h1.9v1.9h-1.9zM504.37 224.32h1.9v1.9h-1.9zM505.5 225.19h1.9v1.9h-1.9zM506.61 225.56h1.9v1.9h-1.9zM507.43 215.9h1.9v1.9h-1.9zM508.43 223.97h1.9v1.9h-1.9zM509.27 223.78h1.9v1.9h-1.9zM510.4 226.76h1.9v1.9h-1.9zM511.51 225.93h1.9v1.9h-1.9zM512.45 219.32h1.9v1.9h-1.9zM513.31 228.77h1.9v1.9h-1.9zM514.3 223.28h1.9v1.9h-1.9zM515.37 222.06h1.9v1.9h-1.9zM516.37 225.64h1.9v1.9h-1.9zM517.38 223.18h1.9v1.9h-1.9zM518.31 227.31h1.9v1.9h-1.9zM519.12 224.3h1.9v1.9h-1.9zM519.99 223.1h1.9v1.9h-1.9zM520.9 217.75h1.9v1.9h-1.9zM521.97 230.11h1.9v1.9h-1.9zM522.9 220.84h1.9v1.9h-1.9zM523.83 226.92h1.9v1.9h-1.9zM524.78 225h1.9v1.9h-1.9zM525.82 224.78h1.9v1.9h-1.9zM526.77 223.33h1.9v1.9h-1.9zM527.81 219.35h1.9v1.9h-1.9zM528.74 224.94h1.9v1.9h-1.9zM529.73 217.53h1.9v1.9h-1.9zM530.86 219.55h1.9v1.9h-1.9zM531.7 221h1.9v1.9h-1.9zM532.73 221.25h1.9v1.9h-1.9zM533.53 220.23h1.9v1.9h-1.9zM534.35 220.82h1.9v1.9h-1.9zM535.25 217.23h1.9v1.9h-1.9zM536.22 216.99h1.9v1.9h-1.9zM537.23 216h1.9v1.9h-1.9zM538.34 219.65h1.9v1.9h-1.9zM539.41 218.44h1.9v1.9h-1.9zM540.48 216.64h1.9v1.9h-1.9zM541.39 214.13h1.9v1.9h-1.9zM542.35 217.35h1.9v1.9h-1.9zM543.49 211.59h1.9v1.9h-1.9zM544.3 209.23h1.9v1.9h-1.9zM545.24 205.58h1.9v1.9h-1.9zM546.31 209.81h1.9v1.9h-1.9zM547.4 208.91h1.9v1.9h-1.9zM548.31 206.88h1.9v1.9h-1.9zM549.38 207.41h1.9v1.9h-1.9zM550.28 199.22h1.9v1.9h-1.9zM551.07 202.89h1.9v1.9h-1.9zM552.04 201.92h1.9v1.9h-1.9zM552.96 203.76h1.9v1.9h-1.9zM554.04 193.65h1.9v1.9h-1.9zM555.1 185.93h1.9v1.9h-1.9zM556.15 180.6h1.9v1.9h-1.9zM557.21 181.27h1.9v1.9h-1.9zM558.26 181.63h1.9v1.9h-1.9zM559.21 177.91h1.9v1.9h-1.9zM560.12 179.19h1.9v1.9h-1.9zM560.91 171.6h1.9v1.9h-1.9zM561.86 164.16h1.9v1.9h-1.9zM562.65 162.11h1.9v1.9h-1.9zM563.69 152.78h1.9v1.9h-1.9zM564.75 152.42h1.9v1.9h-1.9zM565.81 142.39h1.9v1.9h-1.9zM566.64 148.11h1.9v1.9h-1.9zM567.69 143.58h1.9v1.9h-1.9zM568.51 132.44h1.9v1.9h-1.9zM569.5 131.13h1.9v1.9h-1.9zM570.39 127.8h1.9v1.9h-1.9zM571.47 123.24h1.9v1.9h-1.9zM572.33 120.41h1.9v1.9h-1.9zM573.45 114.34h1.9v1.9h-1.9zM574.48 99.07h1.9v1.9h-1.9zM575.44 100.31h1.9v1.9h-1.9zM576.26 102.07h1.9v1.9h-1.9zM577.22 94.34h1.9v1.9h-1.9zM578.18 90.65h1.9v1.9h-1.9zM579.16 87.54h1.9v1.9h-1.9zM579.98 81.3h1.9v1.9h-1.9zM580.91 76.31h1.9v1.9h-1.9zM581.93 77.11h1.9v1.9h-1.9zM583.01 68.45h1.9v1.9h-1.9zM584.03 61.18h1.9v1.9h-1.9zM584.87 65.44h1.9v1.9h-1.9zM585.72 46.98h1.9v1.9h-1.9zM586.53 60.08h1.9v1.9h-1.9zM587.44 60.46h1.9v1.9h-1.9zM588.49 50.11h1.9v1.9h-1.9zM589.34 48.91h1.9v1.9h-1.9zM590.44 49h1.9v1.9h-1.9zM591.23 48.59h1.9v1.9h-1.9zM592.22 49.25h1.9v1.9h-1.9zM593.09 45.35h1.9v1.9h-1.9zM593.89 54.16h1.9v1.9h-1.9zM595.02 45.91h1.9v1.9h-1.9zM595.98 43.27h1.9v1.9h-1.9zM597.01 46.63h1.9v1.9h-1.9zM598.06 43.1h1.9v1.9h-1.9zM598.9 38.13h1.9v1.9h-1.9zM600.02 32.58h1.9v1.9h-1.9zM601.05 48.08h1.9v1.9h-1.9zM602.18 43.12h1.9v1.9h-1.9zM603.06 37.23h1.9v1.9h-1.9zM603.94 50.08h1.9v1.9h-1.9zM604.77 49.61h1.9v1.9h-1.9zM605.85 47.56h1.9v1.9h-1.9zM606.73 55.56h1.9v1.9h-1.9zM607.59 56.98h1.9v1.9h-1.9zM608.41 55.54h1.9v1.9h-1.9zM609.45 64.39h1.9v1.9h-1.9zM610.34 63.92h1.9v1.9h-1.9zM611.18 65.57h1.9v1.9h-1.9zM612 69.75h1.9v1.9h-1.9zM612.85 71.56h1.9v1.9h-1.9zM613.68 80.78h1.9v1.9h-1.9zM614.78 78.1h1.9v1.9h-1.9zM615.87 81.5h1.9v1.9h-1.9zM616.76 90.36h1.9v1.9h-1.9zM617.62 89.93h1.9v1.9h-1.9zM618.47 82.48h1.9v1.9h-1.9zM619.52 93.87h1.9v1.9h-1.9zM620.56 103.1h1.9v1.9h-1.9zM621.54 106.28h1.9v1.9h-1.9zM622.38 110.57h1.9v1.9h-1.9zM623.48 117.65h1.9v1.9h-1.9zM624.49 124.87h1.9v1.9h-1.9zM625.58 127.7h1.9v1.9h-1.9zM626.47 127.06h1.9v1.9h-1.9zM627.54 143.03h1.9v1.9h-1.9zM628.56 145.44h1.9v1.9h-1.9zM629.41 144.87h1.9v1.9h-1.9zM630.25 149.67h1.9v1.9h-1.9zM631.22 153.08h1.9v1.9h-1.9zM632.1 161.7h1.9v1.9h-1.9zM632.95 162.04h1.9v1.9h-1.9zM633.78 167.82h1.9v1.9h-1.9zM634.66 181.55h1.9v1.9h-1.9zM635.8 173.2h1.9v1.9h-1.9zM636.71 180.49h1.9v1.9h-1.9zM637.68 179.67h1.9v1.9h-1.9zM638.64 178.43h1.9v1.9h-1.9zM639.72 190.22h1.9v1.9h-1.9zM640.53 191.35h1.9v1.9h-1.9zM641.67 191.41h1.9v1.9h-1.9zM642.65 193.49h1.9v1.9h-1.9zM643.76 204.95h1.9v1.9h-1.9zM644.82 204.79h1.9v1.9h-1.9zM645.69 205.84h1.9v1.9h-1.9zM646.81 206.17h1.9v1.9h-1.9zM647.84 210.15h1.9v1.9h-1.9zM648.72 207.62h1.9v1.9h-1.9zM649.79 217.88h1.9v1.9h-1.9zM650.75 224.73h1.9v1.9h-1.9zM651.86 221.49h1.9v1.9h-1.9zM652.86 220.82h1.9v1.9h-1.9zM653.64 229.85h1.9v1.9h-1.9zM654.5 226.91h1.9v1.9h-1.9zM655.38 232.73h1.9v1.9h-1.9zM656.25 234.38h1.9v1.9h-1.9zM657.18 237.28h1.9v1.9h-1.9zM658.08 237.47h1.9v1.9h-1.9zM659.18 239.49h1.9v1.9h-1.9zM660 241.45h1.9v1.9h-1.9zM660.82 241.29h1.9v1.9h-1.9zM661.67 241.18h1.9v1.9h-1.9zM665.61 241.97h1.9v1.9h-1.9zM666.48 239.48h1.9v1.9h-1.9zM669.58 240.54h1.9v1.9h-1.9zM670.41 235.88h1.9v1.9h-1.9z" fill="#0c168c"/>
<path d="M378.55 236.67 L379.15 236.53 L379.75 236.39 L380.35 236.25 L380.95 236.11 L381.55 235.97 L382.15 235.84 L382.75 235.7 L383.35 235.56 L383.95 235.42 L384.55 235.28 L385.14 235.14 L385.74 235.01 L386.34 234.87 L386.94 234.73 L387.54 234.59 L388.14 234.45 L388.74 234.3 L389.34 234.16 L389.94 234.02 L390.54 233.88 L391.14 233.73 L391.74 233.59 L392.34 233.44 L392.94 233.29 L393.54 233.14 L394.14 232.99 L394.74 232.84 L395.34 232.69 L395.94 232.54 L396.54 232.39 L397.13 232.23 L397.73 232.08 L398.33 231.93 L398.93 231.77 L399.53 231.62 L400.13 231.46 L400.73 231.3 L401.33 231.15 L401.93 230.99 L402.53 230.84 L403.13 230.68 L403.73 230.52 L404.33 230.37 L404.93 230.21 L405.53 230.05 L406.13 229.89 L406.73 229.74 L407.33 229.58 L407.93 229.43 L408.53 229.27 L409.12 229.11 L409.72 228.95 L410.32 228.79 L410.92 228.63 L411.52 228.47 L412.12 228.3 L412.72 228.13 L413.32 227.97 L413.92 227.8 L414.52 227.63 L415.12 227.46 L415.72 227.29 L416.32 227.13 L416.92 226.96 L417.52 226.8 L418.12 226.63 L418.72 226.47 L419.32 226.31 L419.92 226.15 L420.51 226 L421.11 225.85 L421.71 225.7 L422.31 225.56 L422.91 225.42 L423.51 225.28 L424.11 225.15 L424.71 225.02 L425.31 224.89 L425.91 224.77 L426.51 224.66 L427.11 224.55 L427.71 224.44 L428.31 224.33 L428.91 224.23 L429.51 224.13 L430.11 224.04 L430.71 223.94 L431.31 223.85 L431.91 223.76 L432.5 223.67 L433.1 223.59 L433.7 223.51 L434.3 223.42 L434.9 223.34 L435.5 223.26 L436.1 223.18 L436.7 223.11 L437.3 223.03 L437.9 222.95 L438.5 222.87 L439.1 222.8 L439.7 222.72 L440.3 222.64 L440.9 222.57 L441.5 222.49 L442.1 222.41 L442.7 222.33 L443.3 222.25 L443.9 222.18 L444.5 222.1 L445.09 222.02 L445.69 221.95 L446.29 221.87 L446.89 221.8 L447.49 221.72 L448.09 221.65 L448.69 221.58 L449.29 221.51 L449.89 221.44 L450.49 221.37 L451.09 221.3 L451.69 221.23 L452.29 221.17 L452.89 221.1 L453.49 221.04 L454.09 220.98 L454.69 220.92 L455.29 220.87 L455.89 220.81 L456.49 220.76 L457.08 220.71 L457.68 220.66 L458.28 220.62 L458.88 220.57 L459.48 220.53 L460.08 220.49 L460.68 220.45 L461.28 220.41 L461.88 220.37 L462.48 220.33 L463.08 220.3 L463.68 220.27 L464.28 220.24 L464.88 220.21 L465.48 220.18 L466.08 220.15 L466.68 220.13 L467.28 220.11 L467.88 220.09 L468.48 220.07 L469.07 220.05 L469.67 220.04 L470.27 220.02 L470.87 220.01 L471.47 220 L472.07 220 L472.67 219.99 L473.27 219.99 L473.87 219.99 L474.47 219.99 L475.07 219.99 L475.67 220 L476.27 220 L476.87 220.01 L477.47 220.01 L478.07 220.02 L478.67 220.03 L479.27 220.03 L479.87 220.03 L480.47 220.03 L481.06 220.04 L481.66 220.04 L482.26 220.04 L482.86 220.05 L483.46 220.06 L484.06 220.07 L484.66 220.09 L485.26 220.12 L485.86 220.15 L486.46 220.19 L487.06 220.23 L487.66 220.28 L488.26 220.34 L488.86 220.4 L489.46 220.47 L490.06 220.54 L490.66 220.61 L491.26 220.69 L491.86 220.78 L492.46 220.87 L493.05 220.96 L493.65 221.05 L494.25 221.15 L494.85 221.26 L495.45 221.36 L496.05 221.48 L496.65 221.6 L497.25 221.73 L497.85 221.86 L498.45 221.99 L499.05 222.13 L499.65 222.27 L500.25 222.41 L500.85 222.55 L501.45 222.7 L502.05 222.83 L502.65 222.97 L503.25 223.11 L503.85 223.24 L504.45 223.38 L505.04 223.52 L505.64 223.66 L506.24 223.8 L506.84 223.95 L507.44 224.09 L508.04 224.23 L508.64 224.36 L509.24 224.49 L509.84 224.62 L510.44 224.74 L511.04 224.85 L511.64 224.95 L512.24 225.05 L512.84 225.15 L513.44 225.25 L514.04 225.34 L514.64 225.43 L515.24 225.52 L515.84 225.59 L516.44 225.67 L517.03 225.73 L517.63 225.78 L518.23 225.82 L518.83 225.86 L519.43 225.87 L520.03 225.88 L520.63 225.89 L521.23 225.89 L521.83 225.88 L522.43 225.87 L523.03 225.85 L523.63 225.82 L524.23 225.78 L524.83 225.73 L525.43 225.66 L526.03 225.59 L526.63 225.49 L527.23 225.38 L527.83 225.26 L528.42 225.11 L529.02 224.94 L529.62 224.75 L530.22 224.54 L530.82 224.31 L531.42 224.07 L532.02 223.81 L532.62 223.53 L533.22 223.24 L533.82 222.93 L534.42 222.6 L535.02 222.26 L535.62 221.89 L536.22 221.5 L536.82 221.11 L537.42 220.71 L538.02 220.31 L538.62 219.9 L539.22 219.46 L539.82 218.99 L540.41 218.49 L541.01 217.94 L541.61 217.34 L542.21 216.68 L542.81 215.95 L543.41 215.16 L544.01 214.31 L544.61 213.42 L545.21 212.51 L545.81 211.57 L546.41 210.63 L547.01 209.7 L547.61 208.8 L548.21 207.91 L548.81 207.01 L549.41 206.07 L550.01 205.08 L550.61 204.02 L551.21 202.85 L551.81 201.56 L552.4 200.19 L553 198.74 L553.6 197.21 L554.2 195.59 L554.8 193.86 L555.4 191.94 L556 189.92 L556.6 187.94 L557.2 186.12 L557.8 184.57 L558.4 183.22 L559 181.86 L559.6 180.27 L560.2 178.27 L560.8 175.86 L561.4 173.16 L562 170.31 L562.6 167.42 L563.2 164.63 L563.8 162.03 L564.39 159.52 L564.99 157.06 L565.59 154.63 L566.19 152.2 L566.79 149.77 L567.39 147.3 L567.99 144.79 L568.59 142.31 L569.19 139.82 L569.79 137.31 L570.39 134.72 L570.99 132.03 L571.59 129.19 L572.19 126.23 L572.79 123.2 L573.39 120.15 L573.99 117.09 L574.59 114.01 L575.19 110.91 L575.79 107.82 L576.38 104.71 L576.98 101.57 L577.58 98.48 L578.18 95.49 L578.78 92.64 L579.38 89.89 L579.98 87.19 L580.58 84.51 L581.18 81.79 L581.78 78.97 L582.38 76.14 L582.98 73.37 L583.58 70.75 L584.18 68.36 L584.78 66.23 L585.38 64.31 L585.98 62.56 L586.58 60.95 L587.18 59.45 L587.78 58.02 L588.38 56.65 L588.97 55.34 L589.57 54.13 L590.17 53.01 L590.77 51.97 L591.37 51.03 L591.97 50.16 L592.57 49.36 L593.17 48.64 L593.77 47.98 L594.37 47.41 L594.97 46.91 L595.57 46.49 L596.17 46.15 L596.77 45.88 L597.37 45.7 L597.97 45.59 L598.57 45.55 L599.17 45.59 L599.77 45.68 L600.37 45.84 L600.96 46.07 L601.56 46.39 L602.16 46.79 L602.76 47.28 L603.36 47.88 L603.96 48.59 L604.56 49.41 L605.16 50.36 L605.76 51.41 L606.36 52.57 L606.96 53.83 L607.56 55.19 L608.16 56.65 L608.76 58.2 L609.36 59.85 L609.96 61.58 L610.56 63.43 L611.16 65.4 L611.76 67.47 L612.36 69.61 L612.95 71.81 L613.55 74.03 L614.15 76.27 L614.75 78.58 L615.35 80.94 L615.95 83.35 L616.55 85.77 L617.15 88.2 L617.75 90.6 L618.35 92.97 L618.95 95.31 L619.55 97.65 L620.15 99.99 L620.75 102.35 L621.35 104.74 L621.95 107.13 L622.55 109.52 L623.15 111.93 L623.75 114.41 L624.35 116.97 L624.94 119.66 L625.54 122.44 L626.14 125.3 L626.74 128.24 L627.34 131.25 L627.94 134.4 L628.54 137.72 L629.14 141.09 L629.74 144.42 L630.34 147.61 L630.94 150.58 L631.54 153.38 L632.14 156.05 L632.74 158.61 L633.34 161.09 L633.94 163.5 L634.54 165.88 L635.14 168.24 L635.74 170.55 L636.34 172.79 L636.93 174.96 L637.53 177.08 L638.13 179.17 L638.73 181.25 L639.33 183.33 L639.93 185.43 L640.53 187.55 L641.13 189.71 L641.73 191.88 L642.33 194.05 L642.93 196.2 L643.53 198.32 L644.13 200.39 L644.73 202.4 L645.33 204.34 L645.93 206.21 L646.53 208.04 L647.13 209.82 L647.73 211.56 L648.33 213.26 L648.92 214.93 L649.52 216.56 L650.12 218.17 L650.72 219.75 L651.32 221.29 L651.92 222.8 L652.52 224.28 L653.12 225.72 L653.72 227.14 L654.32 228.52 L654.92 229.89 L655.52 231.25 L656.12 232.61 L656.72 233.95 L657.32 235.27 L657.92 236.53 L658.52 237.74 L659.12 238.86 L659.72 239.89 L660.32 240.85 L660.91 241.88 L661.51 242.8 L662.11 243.37 L662.71 243.45 L663.31 243.45 L663.91 243.45 L664.51 243.45 L665.11 243.45 L665.71 243.45 L666.31 243.45 L666.91 243.45 L667.51 243.45 L668.11 243.45 L668.71 243.45 L669.31 243.45 L669.91 243.45 L670.51 243.45 L671.11 243.45 L671.71 243.45 L672.31 243.45 L672.9 243.45 L673.5 243.45 L674.1 243.45 L674.7 243.45 L675.3 243.45 L675.9 243.45 L676.5 243.45 L677.1 243.45 L677.7 243.45 L678.3 243.45" fill="none" stroke="#0c168c" stroke-width="2" stroke-linejoin="round" stroke-linecap="round"/>
<path d="M374.3 27.6H678.3V243.45" fill="none" stroke="#2a2a2a" stroke-width="1.15"/>
<path d="M378.6 27.6V243.45H678.3" fill="none" stroke="#1a1a1a" stroke-width="1.2"/>
<path d="M374.3 243.45H378.6M374.3 181.8H378.6M374.3 120.15H378.6M374.3 58.5H378.6M376.2 212.62H378.6M376.2 150.97H378.6M376.2 89.32H378.6M438.5 243.45V247.75M498.45 243.45V247.75M558.4 243.45V247.75M618.35 243.45V247.75M678.3 243.45V247.75M408.53 243.45V245.85M468.48 243.45V245.85M528.42 243.45V245.85M588.38 243.45V245.85M648.33 243.45V245.85" stroke="#1a1a1a" stroke-width="1.2"/>
<text x="371.4" y="247.29" font-size="12.7" font-weight="bold" text-anchor="end" font-family="'Liberation Sans', sans-serif">0</text>
<text x="371.4" y="185.64" font-size="12.7" font-weight="bold" text-anchor="end" font-family="'Liberation Sans', sans-serif">1</text>
<text x="371.4" y="123.99" font-size="12.7" font-weight="bold" text-anchor="end" font-family="'Liberation Sans', sans-serif">2</text>
<text x="371.4" y="62.34" font-size="12.7" font-weight="bold" text-anchor="end" font-family="'Liberation Sans', sans-serif">3</text>
<text x="438.5" y="260.75" font-size="12.7" font-weight="bold" text-anchor="middle" font-family="'Liberation Sans', sans-serif">2</text>
<text x="498.45" y="260.75" font-size="12.7" font-weight="bold" text-anchor="middle" font-family="'Liberation Sans', sans-serif">4</text>
<text x="558.4" y="260.75" font-size="12.7" font-weight="bold" text-anchor="middle" font-family="'Liberation Sans', sans-serif">6</text>
<text x="618.35" y="260.75" font-size="12.7" font-weight="bold" text-anchor="middle" font-family="'Liberation Sans', sans-serif">8</text>
<text x="678.3" y="260.75" font-size="12.7" font-weight="bold" text-anchor="middle" font-family="'Liberation Sans', sans-serif">10</text>
<text transform="translate(358.8 135.53) rotate(-90)" font-size="14.5" font-weight="bold" text-anchor="middle" font-family="'Liberation Sans', sans-serif">Normalized dF/dt</text>
<text x="528.45" y="280.5" font-size="14.5" font-weight="bold" text-anchor="middle" font-family="'Liberation Sans', sans-serif">s<tspan font-size="10" dy="4">20,w</tspan><tspan dy="-4">(S)</tspan></text>
<text x="347.6" y="14.5" font-size="17.8" font-weight="bold" font-family="'Liberation Sans', sans-serif">B</text>
<text x="399.1" y="149.3" font-size="7.4" fill="#5e5e5e" font-family="'Liberation Sans', sans-serif">GRLBD*</text>
<text x="504.3" y="148.8" font-size="7.4" fill="#8e2020" font-family="'Liberation Sans', sans-serif">+HSP-90</text>
<text x="610.3" y="45.4" font-size="7.4" fill="#222c92" font-family="'Liberation Sans', sans-serif">+FKB-6</text>
<text x="640.1" y="166" font-size="7.4" fill="#1f961f" font-family="'Liberation Sans', sans-serif">+AHSA-1</text>
<text x="648.4" y="182" font-size="7.4" fill="#28999c" textLength="21.6" lengthAdjust="spacingAndGlyphs" font-family="'Liberation Sans', sans-serif">+STI-1</text>
<path d="M200.03 517.86h1.9v1.9h-1.9zM200.9 525.21h1.9v1.9h-1.9zM201.72 517.93h1.9v1.9h-1.9zM202.61 512.03h1.9v1.9h-1.9zM203.71 515.99h1.9v1.9h-1.9zM204.53 512.13h1.9v1.9h-1.9zM205.4 512.42h1.9v1.9h-1.9zM206.36 512.09h1.9v1.9h-1.9zM207.25 504.07h1.9v1.9h-1.9zM208.36 509.52h1.9v1.9h-1.9zM209.26 511.9h1.9v1.9h-1.9zM210.11 506.68h1.9v1.9h-1.9zM210.97 506.32h1.9v1.9h-1.9zM211.87 508.27h1.9v1.9h-1.9zM212.86 506.84h1.9v1.9h-1.9zM213.91 503.47h1.9v1.9h-1.9zM214.92 508.3h1.9v1.9h-1.9zM215.77 501.89h1.9v1.9h-1.9zM216.77 504.56h1.9v1.9h-1.9zM217.58 501.31h1.9v1.9h-1.9zM218.51 499.33h1.9v1.9h-1.9zM219.38 502.21h1.9v1.9h-1.9zM220.33 502.77h1.9v1.9h-1.9zM221.13 496.77h1.9v1.9h-1.9zM222.18 493.94h1.9v1.9h-1.9zM223.07 493.6h1.9v1.9h-1.9zM223.85 497.21h1.9v1.9h-1.9zM224.69 496.08h1.9v1.9h-1.9zM225.63 500.32h1.9v1.9h-1.9zM226.68 491.28h1.9v1.9h-1.9zM227.63 489.33h1.9v1.9h-1.9zM228.65 491.22h1.9v1.9h-1.9zM229.61 488.88h1.9v1.9h-1.9zM230.45 490.46h1.9v1.9h-1.9zM231.39 497.72h1.9v1.9h-1.9zM232.39 485.2h1.9v1.9h-1.9zM233.3 484.05h1.9v1.9h-1.9zM234.39 491.89h1.9v1.9h-1.9zM235.18 485.62h1.9v1.9h-1.9zM236.26 474.82h1.9v1.9h-1.9zM237.26 480.51h1.9v1.9h-1.9zM238.15 483.2h1.9v1.9h-1.9zM239.2 478.11h1.9v1.9h-1.9zM240.06 473.47h1.9v1.9h-1.9zM241.16 478.02h1.9v1.9h-1.9zM242.03 473.6h1.9v1.9h-1.9zM243.06 473.18h1.9v1.9h-1.9zM243.91 476.05h1.9v1.9h-1.9zM244.71 479.11h1.9v1.9h-1.9zM245.5 471.38h1.9v1.9h-1.9zM246.39 470.9h1.9v1.9h-1.9zM247.27 468.14h1.9v1.9h-1.9zM248.34 481.81h1.9v1.9h-1.9zM249.26 469.34h1.9v1.9h-1.9zM250.33 474.6h1.9v1.9h-1.9zM251.41 462.77h1.9v1.9h-1.9zM252.54 467.93h1.9v1.9h-1.9zM253.61 461.9h1.9v1.9h-1.9zM254.74 460.25h1.9v1.9h-1.9zM255.76 461.63h1.9v1.9h-1.9zM256.55 458.51h1.9v1.9h-1.9zM257.6 463.92h1.9v1.9h-1.9zM258.44 455.67h1.9v1.9h-1.9zM259.27 461.93h1.9v1.9h-1.9zM260.31 458.3h1.9v1.9h-1.9zM261.43 460.67h1.9v1.9h-1.9zM262.28 461.39h1.9v1.9h-1.9zM263.07 457.29h1.9v1.9h-1.9zM263.9 455.76h1.9v1.9h-1.9zM264.78 460.59h1.9v1.9h-1.9zM265.81 454.14h1.9v1.9h-1.9zM266.85 451.33h1.9v1.9h-1.9zM267.64 453.28h1.9v1.9h-1.9zM268.73 452.59h1.9v1.9h-1.9zM269.61 458.58h1.9v1.9h-1.9zM270.43 448.13h1.9v1.9h-1.9zM271.22 452.14h1.9v1.9h-1.9zM272.34 451.26h1.9v1.9h-1.9zM273.3 453.96h1.9v1.9h-1.9zM274.12 450.97h1.9v1.9h-1.9zM275.13 461.81h1.9v1.9h-1.9zM276.13 450.89h1.9v1.9h-1.9zM277.1 452.01h1.9v1.9h-1.9zM278 451.65h1.9v1.9h-1.9zM278.8 449.93h1.9v1.9h-1.9zM279.67 446.36h1.9v1.9h-1.9zM280.62 453.99h1.9v1.9h-1.9zM281.6 455.91h1.9v1.9h-1.9zM282.65 449.27h1.9v1.9h-1.9zM283.76 448.54h1.9v1.9h-1.9zM284.82 449.68h1.9v1.9h-1.9zM285.89 448.44h1.9v1.9h-1.9zM286.96 447.64h1.9v1.9h-1.9zM287.78 451.59h1.9v1.9h-1.9zM288.68 448.95h1.9v1.9h-1.9zM289.59 459.3h1.9v1.9h-1.9zM290.65 455.26h1.9v1.9h-1.9zM291.46 453.27h1.9v1.9h-1.9zM292.27 453.65h1.9v1.9h-1.9zM293.26 455.83h1.9v1.9h-1.9zM294.03 453.85h1.9v1.9h-1.9zM295.03 457.74h1.9v1.9h-1.9zM295.84 455.14h1.9v1.9h-1.9zM296.74 453.89h1.9v1.9h-1.9zM297.77 450.48h1.9v1.9h-1.9zM298.81 466.63h1.9v1.9h-1.9zM299.69 453.09h1.9v1.9h-1.9zM300.53 457.12h1.9v1.9h-1.9zM301.55 454.82h1.9v1.9h-1.9zM302.64 458.78h1.9v1.9h-1.9zM303.58 454.9h1.9v1.9h-1.9zM304.67 452.85h1.9v1.9h-1.9zM305.65 456.88h1.9v1.9h-1.9zM306.51 456.68h1.9v1.9h-1.9zM307.34 457.83h1.9v1.9h-1.9zM308.4 456.06h1.9v1.9h-1.9zM309.29 454h1.9v1.9h-1.9zM310.33 458.87h1.9v1.9h-1.9zM311.43 461.27h1.9v1.9h-1.9zM312.31 451.54h1.9v1.9h-1.9zM313.24 458.45h1.9v1.9h-1.9zM314.22 457.29h1.9v1.9h-1.9zM315.31 448.02h1.9v1.9h-1.9zM316.19 458.78h1.9v1.9h-1.9zM317.13 453.79h1.9v1.9h-1.9zM318.21 454.25h1.9v1.9h-1.9zM319.04 455.06h1.9v1.9h-1.9zM319.99 457.5h1.9v1.9h-1.9zM320.76 460.3h1.9v1.9h-1.9zM321.67 454.12h1.9v1.9h-1.9zM322.63 458.68h1.9v1.9h-1.9zM323.66 464h1.9v1.9h-1.9zM324.59 451.16h1.9v1.9h-1.9zM325.59 449.9h1.9v1.9h-1.9zM326.45 453.22h1.9v1.9h-1.9zM327.31 461.77h1.9v1.9h-1.9zM328.09 453.61h1.9v1.9h-1.9zM329.11 454.18h1.9v1.9h-1.9zM330.24 454.48h1.9v1.9h-1.9zM331.03 460.29h1.9v1.9h-1.9zM332.08 451.41h1.9v1.9h-1.9zM333.15 445.57h1.9v1.9h-1.9zM334.12 451.42h1.9v1.9h-1.9zM335.18 452.07h1.9v1.9h-1.9zM336.2 451.83h1.9v1.9h-1.9zM337.3 448.56h1.9v1.9h-1.9zM338.22 448.03h1.9v1.9h-1.9zM339.12 449.53h1.9v1.9h-1.9zM340.15 444.71h1.9v1.9h-1.9zM341.17 442.6h1.9v1.9h-1.9zM341.96 443.55h1.9v1.9h-1.9zM342.85 444.09h1.9v1.9h-1.9zM343.64 437.14h1.9v1.9h-1.9zM344.51 438.28h1.9v1.9h-1.9zM345.47 437.36h1.9v1.9h-1.9zM346.58 428.22h1.9v1.9h-1.9zM347.45 433.42h1.9v1.9h-1.9zM348.43 436.24h1.9v1.9h-1.9zM349.34 426.05h1.9v1.9h-1.9zM350.32 430.69h1.9v1.9h-1.9zM351.15 429.48h1.9v1.9h-1.9zM351.99 424.53h1.9v1.9h-1.9zM353.03 425h1.9v1.9h-1.9zM353.92 418.63h1.9v1.9h-1.9zM354.92 424.88h1.9v1.9h-1.9zM355.78 419.48h1.9v1.9h-1.9zM356.75 425.21h1.9v1.9h-1.9zM357.54 424.33h1.9v1.9h-1.9zM358.33 417.7h1.9v1.9h-1.9zM359.16 404.58h1.9v1.9h-1.9zM360.17 416.97h1.9v1.9h-1.9zM361.28 417.35h1.9v1.9h-1.9zM362.11 413.05h1.9v1.9h-1.9zM363.24 415.34h1.9v1.9h-1.9zM364.28 414.72h1.9v1.9h-1.9zM365.36 424.7h1.9v1.9h-1.9zM366.16 413.82h1.9v1.9h-1.9zM367.05 412.94h1.9v1.9h-1.9zM368.14 413.47h1.9v1.9h-1.9zM368.94 421.22h1.9v1.9h-1.9zM369.83 415.95h1.9v1.9h-1.9zM370.64 416.57h1.9v1.9h-1.9zM371.62 420.4h1.9v1.9h-1.9zM372.72 418.98h1.9v1.9h-1.9zM373.73 424.5h1.9v1.9h-1.9zM374.63 408.37h1.9v1.9h-1.9zM375.56 423.11h1.9v1.9h-1.9zM376.36 426.09h1.9v1.9h-1.9zM377.23 432.27h1.9v1.9h-1.9zM378.36 429.68h1.9v1.9h-1.9zM379.28 434.89h1.9v1.9h-1.9zM380.24 423.49h1.9v1.9h-1.9zM381.1 433.81h1.9v1.9h-1.9zM382.03 421.14h1.9v1.9h-1.9zM382.98 434.48h1.9v1.9h-1.9zM383.83 440.97h1.9v1.9h-1.9zM384.91 435.38h1.9v1.9h-1.9zM386.03 443.17h1.9v1.9h-1.9zM386.86 435.39h1.9v1.9h-1.9zM387.67 436.46h1.9v1.9h-1.9zM388.45 437.44h1.9v1.9h-1.9zM389.45 436.21h1.9v1.9h-1.9zM390.3 443.36h1.9v1.9h-1.9zM391.15 443.04h1.9v1.9h-1.9zM392.21 444.18h1.9v1.9h-1.9zM393.08 446.35h1.9v1.9h-1.9zM394.1 438.35h1.9v1.9h-1.9zM395.04 448.71h1.9v1.9h-1.9zM396.14 447.73h1.9v1.9h-1.9zM397.05 449.49h1.9v1.9h-1.9zM397.91 447.1h1.9v1.9h-1.9zM398.71 450.29h1.9v1.9h-1.9zM399.71 452.09h1.9v1.9h-1.9zM400.83 449.24h1.9v1.9h-1.9zM401.82 457.64h1.9v1.9h-1.9zM402.63 455.08h1.9v1.9h-1.9zM403.68 457.08h1.9v1.9h-1.9zM404.55 467.77h1.9v1.9h-1.9zM405.37 456.81h1.9v1.9h-1.9zM406.45 456.11h1.9v1.9h-1.9zM407.28 463.34h1.9v1.9h-1.9zM408.28 477.46h1.9v1.9h-1.9zM409.37 468.65h1.9v1.9h-1.9zM410.47 463.3h1.9v1.9h-1.9zM411.44 467.06h1.9v1.9h-1.9zM412.28 466.66h1.9v1.9h-1.9zM413.33 470.85h1.9v1.9h-1.9zM414.16 465.36h1.9v1.9h-1.9zM415.12 471.88h1.9v1.9h-1.9zM416.03 475.84h1.9v1.9h-1.9zM417.02 469.58h1.9v1.9h-1.9zM418.12 475.98h1.9v1.9h-1.9zM419.24 479.67h1.9v1.9h-1.9zM420.35 482.39h1.9v1.9h-1.9zM421.28 485.44h1.9v1.9h-1.9zM422.23 479.24h1.9v1.9h-1.9zM423.33 482.51h1.9v1.9h-1.9zM424.18 483.7h1.9v1.9h-1.9zM425.22 485h1.9v1.9h-1.9zM426.23 482.89h1.9v1.9h-1.9zM427.1 490.71h1.9v1.9h-1.9zM428.05 483.51h1.9v1.9h-1.9zM428.85 487.44h1.9v1.9h-1.9zM429.84 491.91h1.9v1.9h-1.9zM430.78 489.59h1.9v1.9h-1.9zM431.7 492.06h1.9v1.9h-1.9zM432.57 493.16h1.9v1.9h-1.9zM433.42 489.77h1.9v1.9h-1.9zM434.4 495.15h1.9v1.9h-1.9zM435.37 494h1.9v1.9h-1.9zM436.5 497.65h1.9v1.9h-1.9zM437.34 500.38h1.9v1.9h-1.9zM438.33 500.6h1.9v1.9h-1.9zM439.34 502.46h1.9v1.9h-1.9zM440.24 500.27h1.9v1.9h-1.9zM441.15 501.14h1.9v1.9h-1.9zM441.94 500.41h1.9v1.9h-1.9zM442.73 507.03h1.9v1.9h-1.9zM443.82 505.8h1.9v1.9h-1.9zM444.73 506.23h1.9v1.9h-1.9zM445.84 505.22h1.9v1.9h-1.9zM446.91 507.11h1.9v1.9h-1.9zM447.74 511.63h1.9v1.9h-1.9zM448.6 507.14h1.9v1.9h-1.9zM449.73 511.74h1.9v1.9h-1.9zM450.64 509.21h1.9v1.9h-1.9zM451.7 507.44h1.9v1.9h-1.9zM452.56 515.4h1.9v1.9h-1.9zM453.35 514.08h1.9v1.9h-1.9zM454.24 515.22h1.9v1.9h-1.9zM455.29 515.63h1.9v1.9h-1.9zM456.21 513.08h1.9v1.9h-1.9zM457.21 513.33h1.9v1.9h-1.9zM458.1 514.89h1.9v1.9h-1.9zM459.14 517.21h1.9v1.9h-1.9zM460.17 519.76h1.9v1.9h-1.9zM460.95 523.45h1.9v1.9h-1.9zM462.03 525.6h1.9v1.9h-1.9zM462.92 514.48h1.9v1.9h-1.9zM464.02 526.88h1.9v1.9h-1.9zM464.82 520.34h1.9v1.9h-1.9zM465.81 523.32h1.9v1.9h-1.9zM466.83 520.53h1.9v1.9h-1.9zM467.68 519.03h1.9v1.9h-1.9zM468.59 526.75h1.9v1.9h-1.9zM469.67 525.77h1.9v1.9h-1.9zM470.45 528.16h1.9v1.9h-1.9zM472.11 525.9h1.9v1.9h-1.9zM473.09 526.93h1.9v1.9h-1.9zM474.05 528.23h1.9v1.9h-1.9zM476.06 527.94h1.9v1.9h-1.9zM477.06 529.86h1.9v1.9h-1.9zM478.03 526.09h1.9v1.9h-1.9zM479.95 521.65h1.9v1.9h-1.9zM483.8 529.34h1.9v1.9h-1.9z" fill="#900c0c"/>
<path d="M199.3 521.41 L199.9 520.81 L200.49 520.21 L201.09 519.62 L201.68 519.02 L202.28 518.42 L202.87 517.82 L203.47 517.22 L204.06 516.62 L204.66 516.03 L205.25 515.43 L205.84 514.83 L206.44 514.23 L207.04 513.63 L207.63 513.03 L208.23 512.44 L208.82 511.84 L209.42 511.24 L210.01 510.65 L210.61 510.05 L211.2 509.46 L211.8 508.86 L212.39 508.27 L212.99 507.68 L213.58 507.09 L214.18 506.5 L214.77 505.91 L215.37 505.33 L215.96 504.76 L216.56 504.19 L217.15 503.63 L217.75 503.07 L218.34 502.52 L218.94 501.97 L219.53 501.42 L220.12 500.86 L220.72 500.31 L221.31 499.76 L221.91 499.2 L222.51 498.65 L223.1 498.08 L223.7 497.52 L224.29 496.95 L224.89 496.37 L225.48 495.78 L226.08 495.19 L226.67 494.58 L227.27 493.97 L227.86 493.35 L228.46 492.71 L229.05 492.07 L229.65 491.41 L230.24 490.73 L230.84 490.04 L231.43 489.33 L232.03 488.6 L232.62 487.87 L233.22 487.12 L233.81 486.37 L234.41 485.62 L235 484.86 L235.6 484.11 L236.19 483.37 L236.79 482.63 L237.38 481.9 L237.98 481.19 L238.57 480.49 L239.17 479.81 L239.76 479.15 L240.36 478.48 L240.95 477.83 L241.55 477.18 L242.14 476.54 L242.74 475.9 L243.33 475.28 L243.93 474.66 L244.52 474.04 L245.12 473.44 L245.71 472.84 L246.31 472.24 L246.9 471.66 L247.5 471.08 L248.09 470.51 L248.69 469.95 L249.28 469.39 L249.88 468.84 L250.47 468.3 L251.06 467.77 L251.66 467.25 L252.25 466.73 L252.85 466.22 L253.45 465.71 L254.04 465.22 L254.64 464.72 L255.23 464.24 L255.83 463.76 L256.42 463.28 L257.01 462.81 L257.61 462.35 L258.21 461.9 L258.8 461.46 L259.39 461.02 L259.99 460.59 L260.59 460.17 L261.18 459.76 L261.78 459.36 L262.37 458.97 L262.97 458.59 L263.56 458.22 L264.16 457.86 L264.75 457.51 L265.35 457.17 L265.94 456.85 L266.54 456.53 L267.13 456.23 L267.73 455.94 L268.32 455.65 L268.92 455.38 L269.51 455.11 L270.11 454.85 L270.7 454.6 L271.3 454.37 L271.89 454.14 L272.49 453.92 L273.08 453.72 L273.68 453.52 L274.27 453.33 L274.87 453.16 L275.46 452.99 L276.06 452.84 L276.65 452.7 L277.25 452.57 L277.84 452.45 L278.44 452.34 L279.03 452.25 L279.62 452.17 L280.22 452.11 L280.81 452.06 L281.41 452.03 L282 452.01 L282.6 452.01 L283.19 452.01 L283.79 452.03 L284.38 452.06 L284.98 452.1 L285.57 452.15 L286.17 452.21 L286.76 452.27 L287.36 452.35 L287.96 452.42 L288.55 452.5 L289.14 452.58 L289.74 452.67 L290.34 452.76 L290.93 452.85 L291.53 452.93 L292.12 453.02 L292.72 453.11 L293.31 453.19 L293.91 453.29 L294.5 453.39 L295.1 453.5 L295.69 453.62 L296.29 453.74 L296.88 453.87 L297.48 454 L298.07 454.14 L298.67 454.28 L299.26 454.42 L299.86 454.57 L300.45 454.71 L301.05 454.86 L301.64 455.01 L302.24 455.16 L302.83 455.3 L303.43 455.45 L304.02 455.59 L304.62 455.73 L305.21 455.87 L305.81 456 L306.4 456.13 L307 456.25 L307.59 456.38 L308.19 456.52 L308.78 456.65 L309.38 456.79 L309.97 456.94 L310.56 457.08 L311.16 457.22 L311.75 457.36 L312.35 457.5 L312.95 457.63 L313.54 457.76 L314.13 457.89 L314.73 458.01 L315.32 458.12 L315.92 458.23 L316.51 458.32 L317.11 458.41 L317.71 458.48 L318.3 458.54 L318.9 458.59 L319.49 458.64 L320.09 458.68 L320.68 458.73 L321.27 458.76 L321.87 458.79 L322.47 458.79 L323.06 458.78 L323.65 458.74 L324.25 458.68 L324.85 458.59 L325.44 458.48 L326.04 458.36 L326.63 458.21 L327.23 458.04 L327.82 457.84 L328.42 457.62 L329.01 457.36 L329.61 457.07 L330.2 456.75 L330.8 456.39 L331.39 456.01 L331.99 455.6 L332.58 455.16 L333.18 454.69 L333.77 454.19 L334.37 453.67 L334.96 453.12 L335.56 452.54 L336.15 451.94 L336.75 451.32 L337.34 450.67 L337.94 449.96 L338.53 449.2 L339.12 448.39 L339.72 447.54 L340.32 446.65 L340.91 445.73 L341.5 444.78 L342.1 443.81 L342.7 442.83 L343.29 441.83 L343.88 440.83 L344.48 439.82 L345.08 438.82 L345.67 437.83 L346.26 436.86 L346.86 435.9 L347.46 434.97 L348.05 434.07 L348.65 433.21 L349.24 432.38 L349.84 431.55 L350.43 430.71 L351.03 429.86 L351.62 429.03 L352.22 428.19 L352.81 427.38 L353.4 426.58 L354 425.81 L354.6 425.07 L355.19 424.36 L355.78 423.7 L356.38 423.08 L356.98 422.51 L357.57 421.98 L358.17 421.47 L358.76 420.99 L359.36 420.54 L359.95 420.12 L360.55 419.73 L361.14 419.38 L361.74 419.07 L362.33 418.81 L362.93 418.59 L363.52 418.42 L364.12 418.3 L364.71 418.24 L365.31 418.23 L365.9 418.29 L366.5 418.41 L367.09 418.59 L367.69 418.81 L368.28 419.08 L368.88 419.39 L369.47 419.74 L370.07 420.12 L370.66 420.52 L371.25 420.95 L371.85 421.39 L372.45 421.85 L373.04 422.32 L373.63 422.83 L374.23 423.38 L374.83 423.97 L375.42 424.58 L376.01 425.21 L376.61 425.86 L377.21 426.52 L377.8 427.17 L378.4 427.82 L378.99 428.46 L379.59 429.08 L380.18 429.69 L380.78 430.31 L381.37 430.93 L381.97 431.56 L382.56 432.18 L383.15 432.8 L383.75 433.43 L384.35 434.06 L384.94 434.69 L385.53 435.33 L386.13 435.97 L386.73 436.61 L387.32 437.26 L387.92 437.91 L388.51 438.56 L389.11 439.22 L389.7 439.89 L390.3 440.55 L390.89 441.23 L391.49 441.9 L392.08 442.58 L392.68 443.26 L393.27 443.94 L393.87 444.63 L394.46 445.32 L395.06 446.02 L395.65 446.72 L396.25 447.42 L396.84 448.13 L397.44 448.84 L398.03 449.55 L398.62 450.27 L399.22 450.99 L399.82 451.71 L400.41 452.44 L401 453.18 L401.6 453.93 L402.2 454.68 L402.79 455.44 L403.38 456.2 L403.98 456.97 L404.58 457.75 L405.17 458.52 L405.76 459.3 L406.36 460.08 L406.96 460.86 L407.55 461.64 L408.15 462.41 L408.74 463.19 L409.34 463.96 L409.93 464.72 L410.53 465.49 L411.12 466.24 L411.72 466.99 L412.31 467.73 L412.9 468.47 L413.5 469.21 L414.1 469.95 L414.69 470.68 L415.28 471.41 L415.88 472.14 L416.48 472.86 L417.07 473.59 L417.67 474.31 L418.26 475.03 L418.86 475.75 L419.45 476.46 L420.05 477.18 L420.64 477.89 L421.24 478.6 L421.83 479.32 L422.43 480.03 L423.02 480.73 L423.62 481.44 L424.21 482.15 L424.81 482.86 L425.4 483.56 L426 484.27 L426.59 484.98 L427.19 485.68 L427.78 486.39 L428.38 487.09 L428.97 487.8 L429.57 488.51 L430.16 489.21 L430.75 489.92 L431.35 490.63 L431.95 491.33 L432.54 492.03 L433.13 492.73 L433.73 493.44 L434.33 494.13 L434.92 494.83 L435.51 495.53 L436.11 496.22 L436.71 496.91 L437.3 497.6 L437.89 498.28 L438.49 498.96 L439.09 499.64 L439.68 500.32 L440.27 500.99 L440.87 501.65 L441.47 502.32 L442.06 502.98 L442.65 503.64 L443.25 504.31 L443.85 504.99 L444.44 505.67 L445.03 506.34 L445.63 507 L446.23 507.65 L446.82 508.29 L447.42 508.91 L448.01 509.51 L448.61 510.08 L449.2 510.62 L449.8 511.13 L450.39 511.61 L450.99 512.07 L451.58 512.5 L452.18 512.92 L452.77 513.33 L453.37 513.72 L453.96 514.11 L454.56 514.5 L455.15 514.89 L455.75 515.28 L456.34 515.68 L456.94 516.1 L457.53 516.52 L458.13 516.93 L458.72 517.35 L459.31 517.76 L459.91 518.17 L460.5 518.58 L461.1 519 L461.69 519.41 L462.29 519.83 L462.88 520.25 L463.48 520.67 L464.08 521.1 L464.67 521.53 L465.26 521.97 L465.86 522.41 L466.46 522.86 L467.05 523.3 L467.64 523.75 L468.24 524.21 L468.84 524.66 L469.43 525.12 L470.02 525.59 L470.62 526.06 L471.22 526.53 L471.81 527.01 L472.41 527.5 L473 528.02 L473.6 528.63 L474.19 529.31 L474.79 529.98 L475.38 530.59 L475.98 531.05 L476.57 531.31 L477.17 531.35 L477.76 531.35 L478.36 531.35 L478.95 531.35 L479.55 531.35 L480.14 531.35 L480.74 531.35 L481.33 531.35 L481.93 531.35 L482.52 531.35 L483.12 531.35 L483.71 531.35 L484.31 531.35 L484.9 531.35 L485.5 531.35 L486.09 531.35 L486.69 531.35 L487.28 531.35 L487.88 531.35 L488.47 531.35 L489.06 531.35 L489.66 531.35 L490.25 531.35 L490.85 531.35 L491.44 531.35 L492.04 531.35 L492.63 531.35 L493.23 531.35 L493.83 531.35 L494.42 531.35 L495.01 531.35 L495.61 531.35 L496.21 531.35 L496.8 531.35" fill="none" stroke="#8e1010" stroke-width="2" stroke-linejoin="round" stroke-linecap="round"/>
<path d="M199.93 523.21h1.9v1.9h-1.9zM200.98 522.87h1.9v1.9h-1.9zM201.85 521.41h1.9v1.9h-1.9zM202.7 516.45h1.9v1.9h-1.9zM203.7 519.3h1.9v1.9h-1.9zM204.62 511.69h1.9v1.9h-1.9zM205.45 512.22h1.9v1.9h-1.9zM206.37 513.48h1.9v1.9h-1.9zM207.37 510.54h1.9v1.9h-1.9zM208.2 506.16h1.9v1.9h-1.9zM209.21 497.93h1.9v1.9h-1.9zM210.31 506.27h1.9v1.9h-1.9zM211.36 508.64h1.9v1.9h-1.9zM212.3 499.71h1.9v1.9h-1.9zM213.28 498.57h1.9v1.9h-1.9zM214.29 496.14h1.9v1.9h-1.9zM215.1 495.69h1.9v1.9h-1.9zM216.02 496.66h1.9v1.9h-1.9zM217 496.61h1.9v1.9h-1.9zM217.94 494.26h1.9v1.9h-1.9zM218.87 494.17h1.9v1.9h-1.9zM219.97 477.92h1.9v1.9h-1.9zM221.04 486.56h1.9v1.9h-1.9zM222.14 486.95h1.9v1.9h-1.9zM223.2 493.01h1.9v1.9h-1.9zM224.23 482.81h1.9v1.9h-1.9zM225.26 479.36h1.9v1.9h-1.9zM226.1 476.62h1.9v1.9h-1.9zM226.89 472.65h1.9v1.9h-1.9zM227.68 478.06h1.9v1.9h-1.9zM228.59 470.3h1.9v1.9h-1.9zM229.7 469.37h1.9v1.9h-1.9zM230.69 480.95h1.9v1.9h-1.9zM231.48 462.17h1.9v1.9h-1.9zM232.36 463.58h1.9v1.9h-1.9zM233.26 462.04h1.9v1.9h-1.9zM234.22 459.42h1.9v1.9h-1.9zM235.08 453.5h1.9v1.9h-1.9zM236.19 456.11h1.9v1.9h-1.9zM237.03 453.37h1.9v1.9h-1.9zM237.82 458.37h1.9v1.9h-1.9zM238.64 451.4h1.9v1.9h-1.9zM239.61 445.12h1.9v1.9h-1.9zM240.47 445.21h1.9v1.9h-1.9zM241.3 453.56h1.9v1.9h-1.9zM242.17 442.9h1.9v1.9h-1.9zM243.04 441.9h1.9v1.9h-1.9zM243.87 435.58h1.9v1.9h-1.9zM244.8 438.44h1.9v1.9h-1.9zM245.91 436.39h1.9v1.9h-1.9zM246.97 436.91h1.9v1.9h-1.9zM248.08 431.62h1.9v1.9h-1.9zM248.97 432.94h1.9v1.9h-1.9zM250.05 428.13h1.9v1.9h-1.9zM251.11 427.21h1.9v1.9h-1.9zM252.2 424.84h1.9v1.9h-1.9zM253.26 435.6h1.9v1.9h-1.9zM254.07 425.38h1.9v1.9h-1.9zM255.08 421.66h1.9v1.9h-1.9zM256.03 422.01h1.9v1.9h-1.9zM256.83 422.08h1.9v1.9h-1.9zM257.65 427.32h1.9v1.9h-1.9zM258.68 415.48h1.9v1.9h-1.9zM259.69 406.75h1.9v1.9h-1.9zM260.6 407.62h1.9v1.9h-1.9zM261.7 418.17h1.9v1.9h-1.9zM262.8 415.23h1.9v1.9h-1.9zM263.75 411.08h1.9v1.9h-1.9zM264.68 411.85h1.9v1.9h-1.9zM265.78 408.63h1.9v1.9h-1.9zM266.76 409.33h1.9v1.9h-1.9zM267.58 408.12h1.9v1.9h-1.9zM268.53 408.72h1.9v1.9h-1.9zM269.39 406.87h1.9v1.9h-1.9zM270.23 406.35h1.9v1.9h-1.9zM271.23 405.01h1.9v1.9h-1.9zM272.22 406.26h1.9v1.9h-1.9zM273.01 412.13h1.9v1.9h-1.9zM274.01 402.98h1.9v1.9h-1.9zM274.83 409.23h1.9v1.9h-1.9zM275.84 408.17h1.9v1.9h-1.9zM276.87 404.48h1.9v1.9h-1.9zM277.71 406.79h1.9v1.9h-1.9zM278.62 409.24h1.9v1.9h-1.9zM279.49 405.67h1.9v1.9h-1.9zM280.4 410.2h1.9v1.9h-1.9zM281.41 410.66h1.9v1.9h-1.9zM282.41 411.69h1.9v1.9h-1.9zM283.23 405.17h1.9v1.9h-1.9zM284.08 414.08h1.9v1.9h-1.9zM285.07 413.36h1.9v1.9h-1.9zM285.86 414.58h1.9v1.9h-1.9zM286.73 414.46h1.9v1.9h-1.9zM287.79 418.4h1.9v1.9h-1.9zM288.76 419.44h1.9v1.9h-1.9zM289.6 420.71h1.9v1.9h-1.9zM290.64 416.01h1.9v1.9h-1.9zM291.53 420.09h1.9v1.9h-1.9zM292.53 422.22h1.9v1.9h-1.9zM293.39 423.97h1.9v1.9h-1.9zM294.31 425.26h1.9v1.9h-1.9zM295.28 422.26h1.9v1.9h-1.9zM296.39 426.28h1.9v1.9h-1.9zM297.2 429h1.9v1.9h-1.9zM298.21 427.5h1.9v1.9h-1.9zM299.25 426.45h1.9v1.9h-1.9zM300.03 431.66h1.9v1.9h-1.9zM300.98 431.58h1.9v1.9h-1.9zM301.99 434.93h1.9v1.9h-1.9zM303.07 434.88h1.9v1.9h-1.9zM303.97 438.15h1.9v1.9h-1.9zM304.83 434.41h1.9v1.9h-1.9zM305.61 437.31h1.9v1.9h-1.9zM306.4 448.06h1.9v1.9h-1.9zM307.33 444.78h1.9v1.9h-1.9zM308.17 447.19h1.9v1.9h-1.9zM309.21 444.27h1.9v1.9h-1.9zM310.17 440.24h1.9v1.9h-1.9zM311 449.7h1.9v1.9h-1.9zM311.87 449.1h1.9v1.9h-1.9zM312.98 455.1h1.9v1.9h-1.9zM314.09 452.5h1.9v1.9h-1.9zM315.16 454.06h1.9v1.9h-1.9zM316.24 453.64h1.9v1.9h-1.9zM317.29 457.56h1.9v1.9h-1.9zM318.39 461.37h1.9v1.9h-1.9zM319.42 461.66h1.9v1.9h-1.9zM320.5 466.83h1.9v1.9h-1.9zM321.32 461.49h1.9v1.9h-1.9zM322.35 465.64h1.9v1.9h-1.9zM323.32 469.77h1.9v1.9h-1.9zM324.41 471.05h1.9v1.9h-1.9zM325.23 470.32h1.9v1.9h-1.9zM326 477.76h1.9v1.9h-1.9zM326.99 474.62h1.9v1.9h-1.9zM327.95 469.85h1.9v1.9h-1.9zM328.83 473.47h1.9v1.9h-1.9zM329.61 475.67h1.9v1.9h-1.9zM330.54 480.25h1.9v1.9h-1.9zM331.57 469.55h1.9v1.9h-1.9zM332.63 477.69h1.9v1.9h-1.9zM333.72 486h1.9v1.9h-1.9zM334.82 469.16h1.9v1.9h-1.9zM335.93 489.07h1.9v1.9h-1.9zM336.96 487.9h1.9v1.9h-1.9zM337.77 490.55h1.9v1.9h-1.9zM338.67 488.68h1.9v1.9h-1.9zM339.67 483.43h1.9v1.9h-1.9zM340.58 488.6h1.9v1.9h-1.9zM341.71 493.31h1.9v1.9h-1.9zM342.63 503.15h1.9v1.9h-1.9zM343.64 493.19h1.9v1.9h-1.9zM344.63 495.41h1.9v1.9h-1.9zM345.64 496.19h1.9v1.9h-1.9zM346.67 493.38h1.9v1.9h-1.9zM347.5 498.65h1.9v1.9h-1.9zM348.57 505.74h1.9v1.9h-1.9zM349.6 498.18h1.9v1.9h-1.9zM350.43 501.51h1.9v1.9h-1.9zM351.33 499.22h1.9v1.9h-1.9zM352.41 492.92h1.9v1.9h-1.9zM353.48 500.12h1.9v1.9h-1.9zM354.43 503.07h1.9v1.9h-1.9zM355.56 505.69h1.9v1.9h-1.9zM356.51 494.32h1.9v1.9h-1.9zM357.56 509.47h1.9v1.9h-1.9zM358.35 503.98h1.9v1.9h-1.9zM359.15 502.63h1.9v1.9h-1.9zM360.13 508.7h1.9v1.9h-1.9zM361.24 506.5h1.9v1.9h-1.9zM362.03 494.55h1.9v1.9h-1.9zM363.08 505.21h1.9v1.9h-1.9zM364.01 504.84h1.9v1.9h-1.9zM364.99 507.26h1.9v1.9h-1.9zM365.92 505.42h1.9v1.9h-1.9zM366.7 503.3h1.9v1.9h-1.9zM367.62 511.51h1.9v1.9h-1.9zM368.41 510.54h1.9v1.9h-1.9zM369.53 508.86h1.9v1.9h-1.9zM370.56 508.03h1.9v1.9h-1.9zM371.53 507.99h1.9v1.9h-1.9zM372.45 509.58h1.9v1.9h-1.9zM373.44 511h1.9v1.9h-1.9zM374.38 508.21h1.9v1.9h-1.9zM375.22 504.96h1.9v1.9h-1.9zM376.26 508.74h1.9v1.9h-1.9zM377.15 505.05h1.9v1.9h-1.9zM377.98 512.28h1.9v1.9h-1.9zM378.97 510.13h1.9v1.9h-1.9zM379.88 508.12h1.9v1.9h-1.9zM380.7 507.82h1.9v1.9h-1.9zM381.82 516.07h1.9v1.9h-1.9zM382.63 512.77h1.9v1.9h-1.9zM383.52 512.1h1.9v1.9h-1.9zM384.4 509.02h1.9v1.9h-1.9zM385.38 510.8h1.9v1.9h-1.9zM386.39 510.39h1.9v1.9h-1.9zM387.49 507.69h1.9v1.9h-1.9zM388.41 510.41h1.9v1.9h-1.9zM389.33 510.15h1.9v1.9h-1.9zM390.28 515.42h1.9v1.9h-1.9zM391.2 509.21h1.9v1.9h-1.9zM392.2 509.69h1.9v1.9h-1.9zM393.29 507.24h1.9v1.9h-1.9zM394.37 510.13h1.9v1.9h-1.9zM395.36 509.49h1.9v1.9h-1.9zM396.28 510.46h1.9v1.9h-1.9zM397.12 511.45h1.9v1.9h-1.9zM398 507.55h1.9v1.9h-1.9zM399.06 508.67h1.9v1.9h-1.9zM400.13 510.88h1.9v1.9h-1.9zM400.97 512.72h1.9v1.9h-1.9zM401.98 513.59h1.9v1.9h-1.9zM402.77 509.53h1.9v1.9h-1.9zM403.78 505.17h1.9v1.9h-1.9zM404.62 495.05h1.9v1.9h-1.9zM405.61 511.84h1.9v1.9h-1.9zM406.4 504.8h1.9v1.9h-1.9zM407.45 507.02h1.9v1.9h-1.9zM408.38 509.68h1.9v1.9h-1.9zM409.47 502.69h1.9v1.9h-1.9zM410.39 508.86h1.9v1.9h-1.9zM411.33 506.49h1.9v1.9h-1.9zM412.11 509.96h1.9v1.9h-1.9zM413.05 506.77h1.9v1.9h-1.9zM413.92 510.93h1.9v1.9h-1.9zM414.94 509.74h1.9v1.9h-1.9zM416.01 508.48h1.9v1.9h-1.9zM416.88 505.39h1.9v1.9h-1.9zM417.86 512.61h1.9v1.9h-1.9zM418.68 518.48h1.9v1.9h-1.9zM419.53 511.73h1.9v1.9h-1.9zM420.48 506.37h1.9v1.9h-1.9zM421.44 510.93h1.9v1.9h-1.9zM422.25 507.35h1.9v1.9h-1.9zM423.35 511.03h1.9v1.9h-1.9zM424.32 513.41h1.9v1.9h-1.9zM425.18 512.16h1.9v1.9h-1.9zM426.28 506.69h1.9v1.9h-1.9zM427.36 508.84h1.9v1.9h-1.9zM428.45 513.02h1.9v1.9h-1.9zM429.52 510.01h1.9v1.9h-1.9zM430.43 510.05h1.9v1.9h-1.9zM431.49 509.85h1.9v1.9h-1.9zM432.62 514.75h1.9v1.9h-1.9zM433.74 510.21h1.9v1.9h-1.9zM434.53 510.5h1.9v1.9h-1.9zM435.32 513.17h1.9v1.9h-1.9zM436.22 520.46h1.9v1.9h-1.9zM437.33 510.91h1.9v1.9h-1.9zM438.32 514.31h1.9v1.9h-1.9zM439.34 515.52h1.9v1.9h-1.9zM440.37 514.65h1.9v1.9h-1.9zM441.18 519.83h1.9v1.9h-1.9zM442.22 516.63h1.9v1.9h-1.9zM443.35 521.45h1.9v1.9h-1.9zM444.16 513.31h1.9v1.9h-1.9zM445.14 516.84h1.9v1.9h-1.9zM446.23 513.98h1.9v1.9h-1.9zM447.34 515.77h1.9v1.9h-1.9zM448.36 519.17h1.9v1.9h-1.9zM449.34 522.05h1.9v1.9h-1.9zM450.12 521.82h1.9v1.9h-1.9zM451 524.84h1.9v1.9h-1.9zM451.99 525.11h1.9v1.9h-1.9zM452.9 515.82h1.9v1.9h-1.9zM453.77 521.89h1.9v1.9h-1.9zM454.58 521.79h1.9v1.9h-1.9zM455.58 524.45h1.9v1.9h-1.9zM456.51 526.06h1.9v1.9h-1.9zM457.31 526.07h1.9v1.9h-1.9zM458.18 526.06h1.9v1.9h-1.9zM459.04 526.09h1.9v1.9h-1.9zM460.06 528.44h1.9v1.9h-1.9zM461.04 528.59h1.9v1.9h-1.9zM462.14 526.16h1.9v1.9h-1.9zM463.18 529.09h1.9v1.9h-1.9zM467.79 529.41h1.9v1.9h-1.9zM471.63 527.29h1.9v1.9h-1.9z" fill="#4a4a4a"/>
<path d="M199.3 526.21 L199.9 525.18 L200.49 524.15 L201.09 523.11 L201.68 522.08 L202.28 521.04 L202.87 520.01 L203.47 518.97 L204.06 517.94 L204.66 516.9 L205.25 515.87 L205.84 514.84 L206.44 513.81 L207.04 512.78 L207.63 511.76 L208.23 510.74 L208.82 509.73 L209.42 508.71 L210.01 507.71 L210.61 506.72 L211.2 505.74 L211.8 504.78 L212.39 503.82 L212.99 502.87 L213.58 501.92 L214.18 500.97 L214.77 500.02 L215.37 499.07 L215.96 498.1 L216.56 497.13 L217.15 496.15 L217.75 495.16 L218.34 494.15 L218.94 493.12 L219.53 492.06 L220.12 490.99 L220.72 489.89 L221.31 488.77 L221.91 487.64 L222.51 486.5 L223.1 485.35 L223.7 484.18 L224.29 483 L224.89 481.8 L225.48 480.6 L226.08 479.39 L226.67 478.17 L227.27 476.95 L227.86 475.71 L228.46 474.48 L229.05 473.23 L229.65 471.99 L230.24 470.73 L230.84 469.45 L231.43 468.15 L232.03 466.83 L232.62 465.5 L233.22 464.16 L233.81 462.82 L234.41 461.49 L235 460.15 L235.6 458.84 L236.19 457.54 L236.79 456.26 L237.38 455.01 L237.98 453.79 L238.57 452.6 L239.17 451.43 L239.76 450.28 L240.36 449.14 L240.95 448.01 L241.55 446.91 L242.14 445.82 L242.74 444.74 L243.33 443.67 L243.93 442.62 L244.52 441.57 L245.12 440.54 L245.71 439.52 L246.31 438.51 L246.9 437.51 L247.5 436.51 L248.09 435.52 L248.69 434.54 L249.28 433.56 L249.88 432.6 L250.47 431.64 L251.06 430.71 L251.66 429.78 L252.25 428.88 L252.85 428 L253.45 427.13 L254.04 426.29 L254.64 425.48 L255.23 424.69 L255.83 423.92 L256.42 423.15 L257.01 422.41 L257.61 421.69 L258.21 420.98 L258.8 420.3 L259.39 419.64 L259.99 419 L260.59 418.39 L261.18 417.82 L261.78 417.27 L262.37 416.76 L262.97 416.28 L263.56 415.83 L264.16 415.42 L264.75 415.05 L265.35 414.7 L265.94 414.38 L266.54 414.08 L267.13 413.81 L267.73 413.56 L268.32 413.33 L268.92 413.12 L269.51 412.92 L270.11 412.74 L270.7 412.57 L271.3 412.41 L271.89 412.26 L272.49 412.13 L273.08 412.01 L273.68 411.92 L274.27 411.84 L274.87 411.78 L275.46 411.74 L276.06 411.73 L276.65 411.74 L277.25 411.78 L277.84 411.84 L278.44 411.93 L279.03 412.06 L279.62 412.21 L280.22 412.39 L280.81 412.59 L281.41 412.82 L282 413.08 L282.6 413.36 L283.19 413.66 L283.79 413.99 L284.38 414.34 L284.98 414.71 L285.57 415.11 L286.17 415.53 L286.76 415.97 L287.36 416.43 L287.96 416.93 L288.55 417.45 L289.14 417.99 L289.74 418.56 L290.34 419.15 L290.93 419.76 L291.53 420.4 L292.12 421.04 L292.72 421.71 L293.31 422.39 L293.91 423.08 L294.5 423.78 L295.1 424.5 L295.69 425.23 L296.29 425.99 L296.88 426.76 L297.48 427.55 L298.07 428.36 L298.67 429.18 L299.26 430.01 L299.86 430.86 L300.45 431.71 L301.05 432.57 L301.64 433.44 L302.24 434.32 L302.83 435.19 L303.43 436.08 L304.02 436.98 L304.62 437.9 L305.21 438.83 L305.81 439.77 L306.4 440.71 L307 441.66 L307.59 442.62 L308.19 443.58 L308.78 444.54 L309.38 445.5 L309.97 446.45 L310.56 447.4 L311.16 448.35 L311.75 449.3 L312.35 450.25 L312.95 451.21 L313.54 452.16 L314.13 453.12 L314.73 454.07 L315.32 455.03 L315.92 455.98 L316.51 456.94 L317.11 457.89 L317.71 458.84 L318.3 459.79 L318.9 460.73 L319.49 461.68 L320.09 462.64 L320.68 463.6 L321.27 464.56 L321.87 465.53 L322.47 466.48 L323.06 467.43 L323.65 468.37 L324.25 469.29 L324.85 470.19 L325.44 471.06 L326.04 471.91 L326.63 472.73 L327.23 473.52 L327.82 474.28 L328.42 475.03 L329.01 475.76 L329.61 476.48 L330.2 477.2 L330.8 477.92 L331.39 478.65 L331.99 479.39 L332.58 480.14 L333.18 480.92 L333.77 481.73 L334.37 482.55 L334.96 483.38 L335.56 484.23 L336.15 485.07 L336.75 485.92 L337.34 486.75 L337.94 487.58 L338.53 488.38 L339.12 489.17 L339.72 489.92 L340.32 490.64 L340.91 491.33 L341.5 492 L342.1 492.65 L342.7 493.29 L343.29 493.9 L343.88 494.5 L344.48 495.08 L345.08 495.65 L345.67 496.21 L346.26 496.76 L346.86 497.3 L347.46 497.83 L348.05 498.36 L348.65 498.88 L349.24 499.4 L349.84 499.91 L350.43 500.4 L351.03 500.89 L351.62 501.37 L352.22 501.82 L352.81 502.26 L353.4 502.68 L354 503.07 L354.6 503.44 L355.19 503.78 L355.78 504.1 L356.38 504.4 L356.98 504.69 L357.57 504.97 L358.17 505.24 L358.76 505.51 L359.36 505.77 L359.95 506.03 L360.55 506.27 L361.14 506.51 L361.74 506.74 L362.33 506.96 L362.93 507.17 L363.52 507.38 L364.12 507.57 L364.71 507.76 L365.31 507.95 L365.9 508.13 L366.5 508.3 L367.09 508.46 L367.69 508.62 L368.28 508.77 L368.88 508.91 L369.47 509.05 L370.07 509.18 L370.66 509.3 L371.25 509.41 L371.85 509.52 L372.45 509.63 L373.04 509.73 L373.63 509.83 L374.23 509.92 L374.83 510.01 L375.42 510.1 L376.01 510.18 L376.61 510.25 L377.21 510.32 L377.8 510.38 L378.4 510.44 L378.99 510.49 L379.59 510.54 L380.18 510.59 L380.78 510.63 L381.37 510.68 L381.97 510.72 L382.56 510.76 L383.15 510.8 L383.75 510.84 L384.35 510.88 L384.94 510.91 L385.53 510.95 L386.13 510.98 L386.73 511.01 L387.32 511.03 L387.92 511.05 L388.51 511.07 L389.11 511.09 L389.7 511.11 L390.3 511.12 L390.89 511.12 L391.49 511.13 L392.08 511.13 L392.68 511.12 L393.27 511.11 L393.87 511.1 L394.46 511.09 L395.06 511.07 L395.65 511.05 L396.25 511.03 L396.84 511.01 L397.44 511 L398.03 510.98 L398.62 510.96 L399.22 510.95 L399.82 510.93 L400.41 510.91 L401 510.89 L401.6 510.86 L402.2 510.84 L402.79 510.81 L403.38 510.78 L403.98 510.75 L404.58 510.72 L405.17 510.69 L405.76 510.67 L406.36 510.64 L406.96 510.61 L407.55 510.58 L408.15 510.56 L408.74 510.53 L409.34 510.51 L409.93 510.49 L410.53 510.47 L411.12 510.46 L411.72 510.45 L412.31 510.44 L412.9 510.43 L413.5 510.43 L414.1 510.43 L414.69 510.44 L415.28 510.45 L415.88 510.46 L416.48 510.47 L417.07 510.48 L417.67 510.5 L418.26 510.51 L418.86 510.53 L419.45 510.55 L420.05 510.57 L420.64 510.6 L421.24 510.63 L421.83 510.66 L422.43 510.7 L423.02 510.74 L423.62 510.79 L424.21 510.84 L424.81 510.89 L425.4 510.95 L426 511.02 L426.59 511.08 L427.19 511.14 L427.78 511.2 L428.38 511.27 L428.97 511.34 L429.57 511.42 L430.16 511.51 L430.75 511.61 L431.35 511.72 L431.95 511.85 L432.54 511.99 L433.13 512.15 L433.73 512.31 L434.33 512.49 L434.92 512.68 L435.51 512.87 L436.11 513.08 L436.71 513.31 L437.3 513.54 L437.89 513.8 L438.49 514.07 L439.09 514.36 L439.68 514.67 L440.27 515.01 L440.87 515.36 L441.47 515.72 L442.06 516.09 L442.65 516.47 L443.25 516.84 L443.85 517.21 L444.44 517.58 L445.03 517.95 L445.63 518.32 L446.23 518.7 L446.82 519.07 L447.42 519.45 L448.01 519.83 L448.61 520.2 L449.2 520.56 L449.8 520.92 L450.39 521.28 L450.99 521.63 L451.58 521.98 L452.18 522.33 L452.77 522.68 L453.37 523.03 L453.96 523.38 L454.56 523.73 L455.15 524.08 L455.75 524.44 L456.34 524.81 L456.94 525.18 L457.53 525.57 L458.13 525.98 L458.72 526.42 L459.31 526.87 L459.91 527.32 L460.5 527.77 L461.1 528.22 L461.69 528.65 L462.29 529.06 L462.88 529.45 L463.48 529.8 L464.08 530.11 L464.67 530.38 L465.26 530.6 L465.86 530.78 L466.46 530.94 L467.05 531.07 L467.64 531.17 L468.24 531.25 L468.84 531.31 L469.43 531.34 L470.02 531.35 L470.62 531.35 L471.22 531.35 L471.81 531.35 L472.41 531.35 L473 531.35 L473.6 531.35 L474.19 531.35 L474.79 531.35 L475.38 531.35 L475.98 531.35 L476.57 531.35 L477.17 531.35 L477.76 531.35 L478.36 531.35 L478.95 531.35 L479.55 531.35 L480.14 531.35 L480.74 531.35 L481.33 531.35 L481.93 531.35 L482.52 531.35 L483.12 531.35 L483.71 531.35 L484.31 531.35 L484.9 531.35 L485.5 531.35 L486.09 531.35 L486.69 531.35 L487.28 531.35 L487.88 531.35 L488.47 531.35 L489.06 531.35 L489.66 531.35 L490.25 531.35 L490.85 531.35 L491.44 531.35 L492.04 531.35 L492.63 531.35 L493.23 531.35 L493.83 531.35 L494.42 531.35 L495.01 531.35 L495.61 531.35 L496.21 531.35 L496.8 531.35" fill="none" stroke="#505050" stroke-width="2" stroke-linejoin="round" stroke-linecap="round"/>
<path d="M199.84 525.09h1.9v1.9h-1.9zM200.84 528.83h1.9v1.9h-1.9zM201.68 527.54h1.9v1.9h-1.9zM202.69 520.99h1.9v1.9h-1.9zM203.54 526.63h1.9v1.9h-1.9zM204.56 523.89h1.9v1.9h-1.9zM205.52 523.15h1.9v1.9h-1.9zM206.36 522.5h1.9v1.9h-1.9zM207.42 521.69h1.9v1.9h-1.9zM208.45 529.23h1.9v1.9h-1.9zM209.35 521.37h1.9v1.9h-1.9zM210.41 517.71h1.9v1.9h-1.9zM211.49 516.27h1.9v1.9h-1.9zM212.41 516.8h1.9v1.9h-1.9zM213.43 517.71h1.9v1.9h-1.9zM214.48 521.98h1.9v1.9h-1.9zM215.32 519.83h1.9v1.9h-1.9zM216.4 516.38h1.9v1.9h-1.9zM217.32 514.73h1.9v1.9h-1.9zM218.33 509.03h1.9v1.9h-1.9zM219.29 512.93h1.9v1.9h-1.9zM220.19 512.91h1.9v1.9h-1.9zM221.18 512.57h1.9v1.9h-1.9zM222.1 507.71h1.9v1.9h-1.9zM222.96 512.02h1.9v1.9h-1.9zM223.81 512.5h1.9v1.9h-1.9zM224.9 519.54h1.9v1.9h-1.9zM225.92 510.78h1.9v1.9h-1.9zM226.86 511.4h1.9v1.9h-1.9zM227.9 509.62h1.9v1.9h-1.9zM228.81 510.67h1.9v1.9h-1.9zM229.86 515.47h1.9v1.9h-1.9zM230.91 509.45h1.9v1.9h-1.9zM231.75 509.54h1.9v1.9h-1.9zM232.68 503.49h1.9v1.9h-1.9zM233.63 503.01h1.9v1.9h-1.9zM234.48 515.27h1.9v1.9h-1.9zM235.37 506.51h1.9v1.9h-1.9zM236.3 505.47h1.9v1.9h-1.9zM237.16 507.48h1.9v1.9h-1.9zM238.02 501.25h1.9v1.9h-1.9zM238.83 502.79h1.9v1.9h-1.9zM239.78 502.15h1.9v1.9h-1.9zM240.73 501h1.9v1.9h-1.9zM241.75 501.3h1.9v1.9h-1.9zM242.53 498.54h1.9v1.9h-1.9zM243.31 500.47h1.9v1.9h-1.9zM244.22 499.86h1.9v1.9h-1.9zM245.15 499.68h1.9v1.9h-1.9zM246.14 496.26h1.9v1.9h-1.9zM247.03 501.64h1.9v1.9h-1.9zM247.86 500.93h1.9v1.9h-1.9zM248.98 496.08h1.9v1.9h-1.9zM249.96 497.57h1.9v1.9h-1.9zM250.92 492.15h1.9v1.9h-1.9zM251.73 495.72h1.9v1.9h-1.9zM252.78 495.58h1.9v1.9h-1.9zM253.72 489.57h1.9v1.9h-1.9zM254.77 495.37h1.9v1.9h-1.9zM255.87 498.7h1.9v1.9h-1.9zM256.71 496.65h1.9v1.9h-1.9zM257.57 494.9h1.9v1.9h-1.9zM258.53 491.08h1.9v1.9h-1.9zM259.48 489.73h1.9v1.9h-1.9zM260.31 492.1h1.9v1.9h-1.9zM261.25 493.11h1.9v1.9h-1.9zM262.1 493.39h1.9v1.9h-1.9zM263.2 492.71h1.9v1.9h-1.9zM264.09 487.53h1.9v1.9h-1.9zM265.18 486.51h1.9v1.9h-1.9zM266.31 491.05h1.9v1.9h-1.9zM267.08 489h1.9v1.9h-1.9zM267.97 489.53h1.9v1.9h-1.9zM268.93 480.93h1.9v1.9h-1.9zM269.84 489.61h1.9v1.9h-1.9zM270.88 484.98h1.9v1.9h-1.9zM271.82 481.44h1.9v1.9h-1.9zM272.84 490.82h1.9v1.9h-1.9zM273.9 489.56h1.9v1.9h-1.9zM274.99 484.13h1.9v1.9h-1.9zM276.05 482.1h1.9v1.9h-1.9zM277.12 482.79h1.9v1.9h-1.9zM277.99 488.31h1.9v1.9h-1.9zM278.96 479.02h1.9v1.9h-1.9zM279.92 486.08h1.9v1.9h-1.9zM280.87 485.89h1.9v1.9h-1.9zM281.81 491.97h1.9v1.9h-1.9zM282.61 486.72h1.9v1.9h-1.9zM283.49 481.83h1.9v1.9h-1.9zM284.36 489.24h1.9v1.9h-1.9zM285.4 495.87h1.9v1.9h-1.9zM286.4 483.33h1.9v1.9h-1.9zM287.23 487.49h1.9v1.9h-1.9zM288.3 485.26h1.9v1.9h-1.9zM289.4 488.88h1.9v1.9h-1.9zM290.47 488.25h1.9v1.9h-1.9zM291.57 494.4h1.9v1.9h-1.9zM292.42 482.08h1.9v1.9h-1.9zM293.48 487.62h1.9v1.9h-1.9zM294.54 490.47h1.9v1.9h-1.9zM295.4 493.88h1.9v1.9h-1.9zM296.5 489.36h1.9v1.9h-1.9zM297.61 493.5h1.9v1.9h-1.9zM298.53 491.56h1.9v1.9h-1.9zM299.41 492.68h1.9v1.9h-1.9zM300.41 491.92h1.9v1.9h-1.9zM301.4 494.51h1.9v1.9h-1.9zM302.25 490.68h1.9v1.9h-1.9zM303.1 491.17h1.9v1.9h-1.9zM303.96 495.62h1.9v1.9h-1.9zM304.88 494.37h1.9v1.9h-1.9zM306 497.33h1.9v1.9h-1.9zM306.79 486.63h1.9v1.9h-1.9zM307.76 500.44h1.9v1.9h-1.9zM308.78 497.82h1.9v1.9h-1.9zM309.86 497.52h1.9v1.9h-1.9zM310.84 499.22h1.9v1.9h-1.9zM311.91 504.09h1.9v1.9h-1.9zM312.89 496.25h1.9v1.9h-1.9zM313.95 502.75h1.9v1.9h-1.9zM314.79 499.84h1.9v1.9h-1.9zM315.63 499.57h1.9v1.9h-1.9zM316.64 499.2h1.9v1.9h-1.9zM317.5 501.76h1.9v1.9h-1.9zM318.49 501.43h1.9v1.9h-1.9zM319.44 493.98h1.9v1.9h-1.9zM320.24 499.25h1.9v1.9h-1.9zM321.32 500.85h1.9v1.9h-1.9zM322.23 501.23h1.9v1.9h-1.9zM323.11 503.69h1.9v1.9h-1.9zM323.91 505.31h1.9v1.9h-1.9zM324.9 502.85h1.9v1.9h-1.9zM325.84 500.95h1.9v1.9h-1.9zM326.82 508.1h1.9v1.9h-1.9zM327.87 505.7h1.9v1.9h-1.9zM328.86 506.75h1.9v1.9h-1.9zM329.7 512.38h1.9v1.9h-1.9zM330.77 508.08h1.9v1.9h-1.9zM331.61 505.29h1.9v1.9h-1.9zM332.46 503.91h1.9v1.9h-1.9zM333.56 505.75h1.9v1.9h-1.9zM334.34 504.32h1.9v1.9h-1.9zM335.23 502.76h1.9v1.9h-1.9zM336.27 501.69h1.9v1.9h-1.9zM337.34 509.58h1.9v1.9h-1.9zM338.21 503.28h1.9v1.9h-1.9zM339.1 503.62h1.9v1.9h-1.9zM340.14 500.1h1.9v1.9h-1.9zM341.11 500.39h1.9v1.9h-1.9zM341.96 498.89h1.9v1.9h-1.9zM342.81 501.58h1.9v1.9h-1.9zM343.89 508.62h1.9v1.9h-1.9zM344.97 492.92h1.9v1.9h-1.9zM345.9 497.41h1.9v1.9h-1.9zM346.93 499.92h1.9v1.9h-1.9zM348.04 499.72h1.9v1.9h-1.9zM348.98 496.08h1.9v1.9h-1.9zM349.89 494.48h1.9v1.9h-1.9zM350.92 492.19h1.9v1.9h-1.9zM352.02 496.52h1.9v1.9h-1.9zM353 487.59h1.9v1.9h-1.9zM353.85 481.8h1.9v1.9h-1.9zM354.94 490.71h1.9v1.9h-1.9zM355.74 489.94h1.9v1.9h-1.9zM356.61 486.37h1.9v1.9h-1.9zM357.56 484.1h1.9v1.9h-1.9zM358.43 485.82h1.9v1.9h-1.9zM359.42 484.9h1.9v1.9h-1.9zM360.33 473.45h1.9v1.9h-1.9zM361.2 479.49h1.9v1.9h-1.9zM362.16 475.94h1.9v1.9h-1.9zM363.28 469.24h1.9v1.9h-1.9zM364.17 466h1.9v1.9h-1.9zM364.99 465.6h1.9v1.9h-1.9zM366.04 464.93h1.9v1.9h-1.9zM367.13 461.47h1.9v1.9h-1.9zM368 463.9h1.9v1.9h-1.9zM368.98 455.12h1.9v1.9h-1.9zM370.06 446.5h1.9v1.9h-1.9zM371.15 454.03h1.9v1.9h-1.9zM371.95 453.39h1.9v1.9h-1.9zM373.02 448.05h1.9v1.9h-1.9zM373.89 440.69h1.9v1.9h-1.9zM374.74 441.53h1.9v1.9h-1.9zM375.68 433.08h1.9v1.9h-1.9zM376.68 434.38h1.9v1.9h-1.9zM377.6 432.85h1.9v1.9h-1.9zM378.7 421.53h1.9v1.9h-1.9zM379.7 425.45h1.9v1.9h-1.9zM380.5 414.36h1.9v1.9h-1.9zM381.42 411.62h1.9v1.9h-1.9zM382.43 421.35h1.9v1.9h-1.9zM383.34 409.81h1.9v1.9h-1.9zM384.28 411.48h1.9v1.9h-1.9zM385.33 410.22h1.9v1.9h-1.9zM386.19 405h1.9v1.9h-1.9zM387.13 395.9h1.9v1.9h-1.9zM388.22 397.36h1.9v1.9h-1.9zM389.07 388.47h1.9v1.9h-1.9zM390.01 389.71h1.9v1.9h-1.9zM391.1 386.89h1.9v1.9h-1.9zM392.01 388.76h1.9v1.9h-1.9zM393.03 382.27h1.9v1.9h-1.9zM393.87 374.19h1.9v1.9h-1.9zM394.94 384.67h1.9v1.9h-1.9zM395.73 374.17h1.9v1.9h-1.9zM396.71 373.8h1.9v1.9h-1.9zM397.73 369.55h1.9v1.9h-1.9zM398.66 370.15h1.9v1.9h-1.9zM399.74 375.77h1.9v1.9h-1.9zM400.67 367.35h1.9v1.9h-1.9zM401.77 369.46h1.9v1.9h-1.9zM402.78 363.91h1.9v1.9h-1.9zM403.59 362.49h1.9v1.9h-1.9zM404.65 363.06h1.9v1.9h-1.9zM405.53 354.72h1.9v1.9h-1.9zM406.38 361.61h1.9v1.9h-1.9zM407.5 359.45h1.9v1.9h-1.9zM408.46 358.69h1.9v1.9h-1.9zM409.35 359.69h1.9v1.9h-1.9zM410.48 343.57h1.9v1.9h-1.9zM411.43 358.3h1.9v1.9h-1.9zM412.24 360.66h1.9v1.9h-1.9zM413.3 355.41h1.9v1.9h-1.9zM414.37 355.62h1.9v1.9h-1.9zM415.16 354.65h1.9v1.9h-1.9zM416.13 354.67h1.9v1.9h-1.9zM417.02 355.1h1.9v1.9h-1.9zM417.9 355.81h1.9v1.9h-1.9zM418.94 342.28h1.9v1.9h-1.9zM419.86 351.78h1.9v1.9h-1.9zM420.74 354.4h1.9v1.9h-1.9zM421.56 354.28h1.9v1.9h-1.9zM422.48 357.86h1.9v1.9h-1.9zM423.57 358.27h1.9v1.9h-1.9zM424.6 354.58h1.9v1.9h-1.9zM425.73 362h1.9v1.9h-1.9zM426.59 358.53h1.9v1.9h-1.9zM427.46 363.09h1.9v1.9h-1.9zM428.52 349.54h1.9v1.9h-1.9zM429.65 357.11h1.9v1.9h-1.9zM430.77 362.56h1.9v1.9h-1.9zM431.64 367.73h1.9v1.9h-1.9zM432.53 365.65h1.9v1.9h-1.9zM433.38 364.69h1.9v1.9h-1.9zM434.21 368.53h1.9v1.9h-1.9zM435.2 369.69h1.9v1.9h-1.9zM436.13 367.92h1.9v1.9h-1.9zM437.06 375.15h1.9v1.9h-1.9zM438.03 373.81h1.9v1.9h-1.9zM439.12 376.99h1.9v1.9h-1.9zM440.08 376.1h1.9v1.9h-1.9zM441.02 385.72h1.9v1.9h-1.9zM441.81 386.04h1.9v1.9h-1.9zM442.73 394.47h1.9v1.9h-1.9zM443.75 390.57h1.9v1.9h-1.9zM444.7 395.62h1.9v1.9h-1.9zM445.5 393.55h1.9v1.9h-1.9zM446.36 399.95h1.9v1.9h-1.9zM447.33 400.91h1.9v1.9h-1.9zM448.19 403.78h1.9v1.9h-1.9zM449.09 403.22h1.9v1.9h-1.9zM450.16 403.36h1.9v1.9h-1.9zM451.14 411.21h1.9v1.9h-1.9zM452.14 420.28h1.9v1.9h-1.9zM453.12 410.14h1.9v1.9h-1.9zM454.18 418.32h1.9v1.9h-1.9zM455.02 418h1.9v1.9h-1.9zM455.95 422.83h1.9v1.9h-1.9zM456.81 427.22h1.9v1.9h-1.9zM457.78 431.56h1.9v1.9h-1.9zM458.59 437.36h1.9v1.9h-1.9zM459.63 431.28h1.9v1.9h-1.9zM460.74 438.32h1.9v1.9h-1.9zM461.63 441.96h1.9v1.9h-1.9zM462.57 444.65h1.9v1.9h-1.9zM463.52 443.83h1.9v1.9h-1.9zM464.5 452.44h1.9v1.9h-1.9zM465.6 453.64h1.9v1.9h-1.9zM466.56 459.52h1.9v1.9h-1.9zM467.4 457.41h1.9v1.9h-1.9zM468.19 457.56h1.9v1.9h-1.9zM469.26 466.87h1.9v1.9h-1.9zM470.33 459.07h1.9v1.9h-1.9zM471.39 470.68h1.9v1.9h-1.9zM472.33 471.79h1.9v1.9h-1.9zM473.43 480.77h1.9v1.9h-1.9zM474.46 476.04h1.9v1.9h-1.9zM475.34 486.11h1.9v1.9h-1.9zM476.28 483.16h1.9v1.9h-1.9zM477.08 484.3h1.9v1.9h-1.9zM477.96 486.31h1.9v1.9h-1.9zM479.05 487.42h1.9v1.9h-1.9zM480.13 488.16h1.9v1.9h-1.9zM481.25 494.39h1.9v1.9h-1.9zM482.03 498.2h1.9v1.9h-1.9zM483.08 495.58h1.9v1.9h-1.9zM483.9 499.58h1.9v1.9h-1.9zM485.01 501.9h1.9v1.9h-1.9zM486.12 504.16h1.9v1.9h-1.9zM486.95 506.73h1.9v1.9h-1.9zM488.03 520.64h1.9v1.9h-1.9zM489.1 511.17h1.9v1.9h-1.9zM490 512.74h1.9v1.9h-1.9zM491.08 512.92h1.9v1.9h-1.9zM492.11 517h1.9v1.9h-1.9zM493.18 513.69h1.9v1.9h-1.9zM494.04 518.27h1.9v1.9h-1.9z" fill="#0c168c"/>
<path d="M199.3 528.69 L199.9 528.32 L200.49 527.95 L201.09 527.58 L201.68 527.21 L202.28 526.83 L202.87 526.46 L203.47 526.09 L204.06 525.72 L204.66 525.35 L205.25 524.98 L205.84 524.61 L206.44 524.23 L207.04 523.86 L207.63 523.49 L208.23 523.12 L208.82 522.75 L209.42 522.38 L210.01 522.01 L210.61 521.63 L211.2 521.26 L211.8 520.89 L212.39 520.52 L212.99 520.15 L213.58 519.77 L214.18 519.4 L214.77 519.03 L215.37 518.66 L215.96 518.28 L216.56 517.91 L217.15 517.53 L217.75 517.16 L218.34 516.79 L218.94 516.41 L219.53 516.04 L220.12 515.66 L220.72 515.28 L221.31 514.89 L221.91 514.5 L222.51 514.1 L223.1 513.7 L223.7 513.29 L224.29 512.89 L224.89 512.48 L225.48 512.07 L226.08 511.66 L226.67 511.24 L227.27 510.83 L227.86 510.42 L228.46 510.02 L229.05 509.61 L229.65 509.21 L230.24 508.8 L230.84 508.41 L231.43 508.02 L232.03 507.63 L232.62 507.25 L233.22 506.87 L233.81 506.5 L234.41 506.14 L235 505.79 L235.6 505.44 L236.19 505.11 L236.79 504.78 L237.38 504.47 L237.98 504.16 L238.57 503.87 L239.17 503.59 L239.76 503.32 L240.36 503.06 L240.95 502.81 L241.55 502.58 L242.14 502.35 L242.74 502.12 L243.33 501.89 L243.93 501.67 L244.52 501.44 L245.12 501.22 L245.71 500.98 L246.31 500.75 L246.9 500.5 L247.5 500.24 L248.09 499.98 L248.69 499.71 L249.28 499.44 L249.88 499.16 L250.47 498.89 L251.06 498.61 L251.66 498.34 L252.25 498.06 L252.85 497.79 L253.45 497.53 L254.04 497.27 L254.64 497.02 L255.23 496.78 L255.83 496.54 L256.42 496.3 L257.01 496.06 L257.61 495.83 L258.21 495.6 L258.8 495.38 L259.39 495.16 L259.99 494.95 L260.59 494.74 L261.18 494.54 L261.78 494.34 L262.37 494.16 L262.97 493.98 L263.56 493.81 L264.16 493.65 L264.75 493.5 L265.35 493.35 L265.94 493.21 L266.54 493.07 L267.13 492.94 L267.73 492.82 L268.32 492.7 L268.92 492.59 L269.51 492.48 L270.11 492.37 L270.7 492.27 L271.3 492.18 L271.89 492.08 L272.49 492 L273.08 491.92 L273.68 491.84 L274.27 491.77 L274.87 491.71 L275.46 491.65 L276.06 491.6 L276.65 491.55 L277.25 491.5 L277.84 491.46 L278.44 491.43 L279.03 491.4 L279.62 491.37 L280.22 491.35 L280.81 491.33 L281.41 491.31 L282 491.3 L282.6 491.29 L283.19 491.29 L283.79 491.29 L284.38 491.3 L284.98 491.32 L285.57 491.34 L286.17 491.38 L286.76 491.42 L287.36 491.47 L287.96 491.54 L288.55 491.61 L289.14 491.69 L289.74 491.79 L290.34 491.89 L290.93 492 L291.53 492.11 L292.12 492.24 L292.72 492.37 L293.31 492.52 L293.91 492.67 L294.5 492.83 L295.1 493 L295.69 493.17 L296.29 493.36 L296.88 493.56 L297.48 493.76 L298.07 493.98 L298.67 494.22 L299.26 494.46 L299.86 494.71 L300.45 494.97 L301.05 495.24 L301.64 495.52 L302.24 495.8 L302.83 496.08 L303.43 496.36 L304.02 496.64 L304.62 496.93 L305.21 497.21 L305.81 497.51 L306.4 497.81 L307 498.12 L307.59 498.43 L308.19 498.75 L308.78 499.07 L309.38 499.38 L309.97 499.7 L310.56 500.01 L311.16 500.31 L311.75 500.61 L312.35 500.89 L312.95 501.16 L313.54 501.43 L314.13 501.69 L314.73 501.94 L315.32 502.19 L315.92 502.44 L316.51 502.68 L317.11 502.91 L317.71 503.14 L318.3 503.36 L318.9 503.57 L319.49 503.78 L320.09 503.99 L320.68 504.18 L321.27 504.38 L321.87 504.57 L322.47 504.75 L323.06 504.94 L323.65 505.11 L324.25 505.28 L324.85 505.45 L325.44 505.6 L326.04 505.75 L326.63 505.88 L327.23 506 L327.82 506.11 L328.42 506.2 L329.01 506.28 L329.61 506.35 L330.2 506.42 L330.8 506.48 L331.39 506.52 L331.99 506.55 L332.58 506.55 L333.18 506.52 L333.77 506.47 L334.37 506.39 L334.96 506.3 L335.56 506.18 L336.15 506.04 L336.75 505.87 L337.34 505.69 L337.94 505.47 L338.53 505.23 L339.12 504.95 L339.72 504.65 L340.32 504.3 L340.91 503.93 L341.5 503.52 L342.1 503.08 L342.7 502.62 L343.29 502.15 L343.88 501.65 L344.48 501.14 L345.08 500.62 L345.67 500.09 L346.26 499.56 L346.86 499.03 L347.46 498.49 L348.05 497.93 L348.65 497.36 L349.24 496.78 L349.84 496.19 L350.43 495.58 L351.03 494.96 L351.62 494.33 L352.22 493.69 L352.81 493.03 L353.4 492.36 L354 491.69 L354.6 491.05 L355.19 490.42 L355.78 489.77 L356.38 489.1 L356.98 488.38 L357.57 487.61 L358.17 486.77 L358.76 485.83 L359.36 484.8 L359.95 483.67 L360.55 482.46 L361.14 481.18 L361.74 479.83 L362.33 478.44 L362.93 477 L363.52 475.53 L364.12 474.03 L364.71 472.53 L365.31 471.02 L365.9 469.49 L366.5 467.91 L367.09 466.3 L367.69 464.65 L368.28 462.97 L368.88 461.28 L369.47 459.56 L370.07 457.84 L370.66 456.11 L371.25 454.39 L371.85 452.67 L372.45 450.96 L373.04 449.27 L373.63 447.6 L374.23 445.93 L374.83 444.26 L375.42 442.58 L376.01 440.9 L376.61 439.2 L377.21 437.47 L377.8 435.72 L378.4 433.93 L378.99 432.1 L379.59 430.22 L380.18 428.28 L380.78 426.29 L381.37 424.26 L381.97 422.2 L382.56 420.12 L383.15 418.05 L383.75 415.99 L384.35 413.95 L384.94 411.95 L385.53 410 L386.13 408.09 L386.73 406.2 L387.32 404.34 L387.92 402.5 L388.51 400.67 L389.11 398.86 L389.7 397.06 L390.3 395.27 L390.89 393.49 L391.49 391.72 L392.08 389.95 L392.68 388.15 L393.27 386.33 L393.87 384.49 L394.46 382.65 L395.06 380.82 L395.65 379.01 L396.25 377.25 L396.84 375.55 L397.44 373.91 L398.03 372.36 L398.62 370.92 L399.22 369.58 L399.82 368.35 L400.41 367.2 L401 366.11 L401.6 365.07 L402.2 364.05 L402.79 363.03 L403.38 362.01 L403.98 360.99 L404.58 359.98 L405.17 358.99 L405.76 358.02 L406.36 357.08 L406.96 356.17 L407.55 355.3 L408.15 354.48 L408.74 353.71 L409.34 352.98 L409.93 352.28 L410.53 351.61 L411.12 350.98 L411.72 350.38 L412.31 349.83 L412.9 349.31 L413.5 348.85 L414.1 348.44 L414.69 348.08 L415.28 347.77 L415.88 347.53 L416.48 347.35 L417.07 347.24 L417.67 347.19 L418.26 347.21 L418.86 347.29 L419.45 347.42 L420.05 347.6 L420.64 347.83 L421.24 348.1 L421.83 348.42 L422.43 348.78 L423.02 349.17 L423.62 349.59 L424.21 350.05 L424.81 350.52 L425.4 351.03 L426 351.56 L426.59 352.12 L427.19 352.73 L427.78 353.37 L428.38 354.05 L428.97 354.78 L429.57 355.55 L430.16 356.38 L430.75 357.26 L431.35 358.19 L431.95 359.17 L432.54 360.19 L433.13 361.25 L433.73 362.36 L434.33 363.52 L434.92 364.74 L435.51 366.02 L436.11 367.37 L436.71 368.78 L437.3 370.27 L437.89 371.83 L438.49 373.43 L439.09 375.03 L439.68 376.66 L440.27 378.32 L440.87 380.02 L441.47 381.74 L442.06 383.49 L442.65 385.25 L443.25 387.01 L443.85 388.77 L444.44 390.53 L445.03 392.26 L445.63 393.98 L446.23 395.67 L446.82 397.32 L447.42 398.92 L448.01 400.48 L448.61 402.01 L449.2 403.5 L449.8 404.98 L450.39 406.44 L450.99 407.89 L451.58 409.34 L452.18 410.8 L452.77 412.28 L453.37 413.77 L453.96 415.3 L454.56 416.86 L455.15 418.46 L455.75 420.12 L456.34 421.83 L456.94 423.6 L457.53 425.4 L458.13 427.25 L458.72 429.12 L459.31 431.01 L459.91 432.92 L460.5 434.82 L461.1 436.73 L461.69 438.62 L462.29 440.49 L462.88 442.34 L463.48 444.16 L464.08 445.97 L464.67 447.79 L465.26 449.6 L465.86 451.41 L466.46 453.21 L467.05 455 L467.64 456.78 L468.24 458.54 L468.84 460.28 L469.43 462 L470.02 463.69 L470.62 465.36 L471.22 466.99 L471.81 468.59 L472.41 470.16 L473 471.71 L473.6 473.23 L474.19 474.72 L474.79 476.2 L475.38 477.66 L475.98 479.11 L476.57 480.54 L477.17 481.96 L477.76 483.37 L478.36 484.77 L478.95 486.17 L479.55 487.57 L480.14 488.95 L480.74 490.32 L481.33 491.67 L481.93 493.02 L482.52 494.36 L483.12 495.69 L483.71 497.01 L484.31 498.33 L484.9 499.64 L485.5 500.96 L486.09 502.28 L486.69 503.61 L487.28 504.92 L487.88 506.23 L488.47 507.51 L489.06 508.78 L489.66 510.01 L490.25 511.21 L490.85 512.37 L491.44 513.49 L492.04 514.57 L492.63 515.63 L493.23 516.66 L493.83 517.68 L494.42 518.69 L495.01 519.7 L495.61 520.71 L496.21 521.74 L496.8 522.78" fill="none" stroke="#0c168c" stroke-width="2" stroke-linejoin="round" stroke-linecap="round"/>
<path d="M200.01 513.79h1.9v1.9h-1.9zM200.84 512.92h1.9v1.9h-1.9zM201.78 506.97h1.9v1.9h-1.9zM202.64 508.09h1.9v1.9h-1.9zM203.68 510.3h1.9v1.9h-1.9zM204.49 512.47h1.9v1.9h-1.9zM205.57 509.5h1.9v1.9h-1.9zM206.36 507h1.9v1.9h-1.9zM207.31 510.26h1.9v1.9h-1.9zM208.33 509.2h1.9v1.9h-1.9zM209.46 506.91h1.9v1.9h-1.9zM210.32 512.41h1.9v1.9h-1.9zM211.35 505h1.9v1.9h-1.9zM212.47 502.57h1.9v1.9h-1.9zM213.37 503.08h1.9v1.9h-1.9zM214.17 503.19h1.9v1.9h-1.9zM215.02 497.18h1.9v1.9h-1.9zM215.84 498.72h1.9v1.9h-1.9zM216.93 497.19h1.9v1.9h-1.9zM217.71 489.1h1.9v1.9h-1.9zM218.56 487.46h1.9v1.9h-1.9zM219.6 496.49h1.9v1.9h-1.9zM220.54 493.57h1.9v1.9h-1.9zM221.33 491.62h1.9v1.9h-1.9zM222.27 490.1h1.9v1.9h-1.9zM223.26 491.29h1.9v1.9h-1.9zM224.19 493.4h1.9v1.9h-1.9zM225.18 492.11h1.9v1.9h-1.9zM226.02 478.25h1.9v1.9h-1.9zM226.91 485.28h1.9v1.9h-1.9zM227.83 488.19h1.9v1.9h-1.9zM228.67 484.1h1.9v1.9h-1.9zM229.51 479.59h1.9v1.9h-1.9zM230.35 484.03h1.9v1.9h-1.9zM231.37 478.73h1.9v1.9h-1.9zM232.4 480h1.9v1.9h-1.9zM233.34 483.37h1.9v1.9h-1.9zM234.32 471.34h1.9v1.9h-1.9zM235.37 472.66h1.9v1.9h-1.9zM236.31 473.98h1.9v1.9h-1.9zM237.14 465.76h1.9v1.9h-1.9zM238.04 468.33h1.9v1.9h-1.9zM238.94 467.44h1.9v1.9h-1.9zM240.03 469.46h1.9v1.9h-1.9zM241.08 459.44h1.9v1.9h-1.9zM242.06 460.86h1.9v1.9h-1.9zM242.9 469.79h1.9v1.9h-1.9zM243.96 459.39h1.9v1.9h-1.9zM245.06 461.16h1.9v1.9h-1.9zM246.1 455.87h1.9v1.9h-1.9zM247.23 452.46h1.9v1.9h-1.9zM248.25 449.41h1.9v1.9h-1.9zM249.37 453.24h1.9v1.9h-1.9zM250.4 444.15h1.9v1.9h-1.9zM251.5 440.12h1.9v1.9h-1.9zM252.45 447.89h1.9v1.9h-1.9zM253.57 442.47h1.9v1.9h-1.9zM254.42 444.98h1.9v1.9h-1.9zM255.44 442.39h1.9v1.9h-1.9zM256.54 439.87h1.9v1.9h-1.9zM257.64 447.6h1.9v1.9h-1.9zM258.43 434.07h1.9v1.9h-1.9zM259.21 443.21h1.9v1.9h-1.9zM260.33 434.06h1.9v1.9h-1.9zM261.28 432.38h1.9v1.9h-1.9zM262.32 434.55h1.9v1.9h-1.9zM263.28 422.47h1.9v1.9h-1.9zM264.34 426.55h1.9v1.9h-1.9zM265.16 432.36h1.9v1.9h-1.9zM266.18 429.98h1.9v1.9h-1.9zM267.17 430.1h1.9v1.9h-1.9zM268.21 429.55h1.9v1.9h-1.9zM269.08 431.26h1.9v1.9h-1.9zM269.97 429.39h1.9v1.9h-1.9zM270.94 421.53h1.9v1.9h-1.9zM271.91 425.7h1.9v1.9h-1.9zM272.73 420.2h1.9v1.9h-1.9zM273.57 424.24h1.9v1.9h-1.9zM274.38 417.4h1.9v1.9h-1.9zM275.4 422.57h1.9v1.9h-1.9zM276.34 423.78h1.9v1.9h-1.9zM277.13 423.49h1.9v1.9h-1.9zM277.91 414.04h1.9v1.9h-1.9zM278.73 415.55h1.9v1.9h-1.9zM279.58 420.67h1.9v1.9h-1.9zM280.52 417.43h1.9v1.9h-1.9zM281.63 418.42h1.9v1.9h-1.9zM282.58 423.53h1.9v1.9h-1.9zM283.63 424.76h1.9v1.9h-1.9zM284.48 418.84h1.9v1.9h-1.9zM285.52 419.09h1.9v1.9h-1.9zM286.63 417.48h1.9v1.9h-1.9zM287.41 408.83h1.9v1.9h-1.9zM288.27 415.74h1.9v1.9h-1.9zM289.32 423.13h1.9v1.9h-1.9zM290.28 416.42h1.9v1.9h-1.9zM291.37 422.77h1.9v1.9h-1.9zM292.33 415.53h1.9v1.9h-1.9zM293.4 420.03h1.9v1.9h-1.9zM294.27 421.45h1.9v1.9h-1.9zM295.28 425.73h1.9v1.9h-1.9zM296.23 420.71h1.9v1.9h-1.9zM297.09 430.41h1.9v1.9h-1.9zM298.22 417.35h1.9v1.9h-1.9zM299.16 423.4h1.9v1.9h-1.9zM300.16 424.93h1.9v1.9h-1.9zM301.13 421.5h1.9v1.9h-1.9zM302.08 424.42h1.9v1.9h-1.9zM303.15 432.64h1.9v1.9h-1.9zM303.96 429.74h1.9v1.9h-1.9zM304.92 428.17h1.9v1.9h-1.9zM305.73 425.02h1.9v1.9h-1.9zM306.68 429.25h1.9v1.9h-1.9zM307.46 439.5h1.9v1.9h-1.9zM308.33 431.53h1.9v1.9h-1.9zM309.24 446.53h1.9v1.9h-1.9zM310.33 436.34h1.9v1.9h-1.9zM311.34 424.21h1.9v1.9h-1.9zM312.14 439.11h1.9v1.9h-1.9zM313.18 435.03h1.9v1.9h-1.9zM313.99 448.71h1.9v1.9h-1.9zM314.91 434.95h1.9v1.9h-1.9zM315.77 442.75h1.9v1.9h-1.9zM316.65 440.45h1.9v1.9h-1.9zM317.46 445.63h1.9v1.9h-1.9zM318.39 445.93h1.9v1.9h-1.9zM319.33 445.09h1.9v1.9h-1.9zM320.16 449.2h1.9v1.9h-1.9zM321.26 443h1.9v1.9h-1.9zM322.32 438.63h1.9v1.9h-1.9zM323.36 453.66h1.9v1.9h-1.9zM324.29 458.61h1.9v1.9h-1.9zM325.32 453.87h1.9v1.9h-1.9zM326.34 465.24h1.9v1.9h-1.9zM327.42 461.09h1.9v1.9h-1.9zM328.46 473.98h1.9v1.9h-1.9zM329.56 458.84h1.9v1.9h-1.9zM330.65 452.96h1.9v1.9h-1.9zM331.73 465.74h1.9v1.9h-1.9zM332.75 465.43h1.9v1.9h-1.9zM333.81 465.51h1.9v1.9h-1.9zM334.7 480.12h1.9v1.9h-1.9zM335.67 470.92h1.9v1.9h-1.9zM336.46 466.46h1.9v1.9h-1.9zM337.45 470.02h1.9v1.9h-1.9zM338.35 473.64h1.9v1.9h-1.9zM339.24 475.52h1.9v1.9h-1.9zM340.13 477.73h1.9v1.9h-1.9zM341.02 475.67h1.9v1.9h-1.9zM342.13 478h1.9v1.9h-1.9zM343.25 475.68h1.9v1.9h-1.9zM344.18 476.51h1.9v1.9h-1.9zM345.11 478.93h1.9v1.9h-1.9zM346.1 482.13h1.9v1.9h-1.9zM347.14 481.61h1.9v1.9h-1.9zM347.99 484.78h1.9v1.9h-1.9zM349.1 484.94h1.9v1.9h-1.9zM349.95 483.98h1.9v1.9h-1.9zM350.78 489.06h1.9v1.9h-1.9zM351.7 482.63h1.9v1.9h-1.9zM352.64 492.58h1.9v1.9h-1.9zM353.43 491.64h1.9v1.9h-1.9zM354.31 493.26h1.9v1.9h-1.9zM355.32 488.29h1.9v1.9h-1.9zM356.39 483.21h1.9v1.9h-1.9zM357.21 488.88h1.9v1.9h-1.9zM358.13 494.99h1.9v1.9h-1.9zM359.13 485.07h1.9v1.9h-1.9zM359.96 493.67h1.9v1.9h-1.9zM360.96 493.58h1.9v1.9h-1.9zM362.02 492.97h1.9v1.9h-1.9zM362.9 495.43h1.9v1.9h-1.9zM363.99 492.16h1.9v1.9h-1.9zM364.86 493.98h1.9v1.9h-1.9zM365.64 500.74h1.9v1.9h-1.9zM366.76 494.62h1.9v1.9h-1.9zM367.76 501.14h1.9v1.9h-1.9zM368.66 500.03h1.9v1.9h-1.9zM369.58 497.05h1.9v1.9h-1.9zM370.38 501.25h1.9v1.9h-1.9zM371.36 502.36h1.9v1.9h-1.9zM372.43 494.06h1.9v1.9h-1.9zM373.53 499.72h1.9v1.9h-1.9zM374.33 501.36h1.9v1.9h-1.9zM375.25 502.02h1.9v1.9h-1.9zM376.19 499.85h1.9v1.9h-1.9zM377.19 498.5h1.9v1.9h-1.9zM378.17 503.2h1.9v1.9h-1.9zM379.25 502.84h1.9v1.9h-1.9zM380.33 499.85h1.9v1.9h-1.9zM381.43 502.56h1.9v1.9h-1.9zM382.25 500.07h1.9v1.9h-1.9zM383.3 501.94h1.9v1.9h-1.9zM384.17 501.62h1.9v1.9h-1.9zM385.28 503.06h1.9v1.9h-1.9zM386.14 503.13h1.9v1.9h-1.9zM387.18 506h1.9v1.9h-1.9zM388.26 498.66h1.9v1.9h-1.9zM389.27 504.93h1.9v1.9h-1.9zM390.11 499.82h1.9v1.9h-1.9zM390.95 507.68h1.9v1.9h-1.9zM392.02 501.41h1.9v1.9h-1.9zM393.02 509.99h1.9v1.9h-1.9zM393.87 503.89h1.9v1.9h-1.9zM394.79 504.38h1.9v1.9h-1.9zM395.8 507.15h1.9v1.9h-1.9zM396.89 501.31h1.9v1.9h-1.9zM397.88 504.1h1.9v1.9h-1.9zM398.87 507.91h1.9v1.9h-1.9zM399.94 501.61h1.9v1.9h-1.9zM401.04 507.53h1.9v1.9h-1.9zM402.16 506.74h1.9v1.9h-1.9zM403.28 505.43h1.9v1.9h-1.9zM404.32 499.05h1.9v1.9h-1.9zM405.43 503.08h1.9v1.9h-1.9zM406.35 501.89h1.9v1.9h-1.9zM407.16 501.85h1.9v1.9h-1.9zM408.13 504.43h1.9v1.9h-1.9zM409.02 494.71h1.9v1.9h-1.9zM409.82 504.9h1.9v1.9h-1.9zM410.89 506.91h1.9v1.9h-1.9zM411.94 504.08h1.9v1.9h-1.9zM412.84 503.19h1.9v1.9h-1.9zM413.8 509.31h1.9v1.9h-1.9zM414.91 501.19h1.9v1.9h-1.9zM416 498.7h1.9v1.9h-1.9zM416.85 504.22h1.9v1.9h-1.9zM417.96 503.29h1.9v1.9h-1.9zM419.02 499.82h1.9v1.9h-1.9zM419.94 501.98h1.9v1.9h-1.9zM420.86 502.32h1.9v1.9h-1.9zM421.88 504.67h1.9v1.9h-1.9zM422.81 501.04h1.9v1.9h-1.9zM423.79 493.7h1.9v1.9h-1.9zM424.81 502.54h1.9v1.9h-1.9zM425.8 503.54h1.9v1.9h-1.9zM426.62 502.55h1.9v1.9h-1.9zM427.64 501.07h1.9v1.9h-1.9zM428.49 503.02h1.9v1.9h-1.9zM429.29 504.14h1.9v1.9h-1.9zM430.29 503.49h1.9v1.9h-1.9zM431.4 503.6h1.9v1.9h-1.9zM432.23 504.23h1.9v1.9h-1.9zM433.11 502.01h1.9v1.9h-1.9zM434.05 508.46h1.9v1.9h-1.9zM435.17 503.62h1.9v1.9h-1.9zM436.06 502.54h1.9v1.9h-1.9zM437.18 504.3h1.9v1.9h-1.9zM438 496.83h1.9v1.9h-1.9zM438.95 503.94h1.9v1.9h-1.9zM439.93 501.43h1.9v1.9h-1.9zM440.93 501.87h1.9v1.9h-1.9zM441.99 498.81h1.9v1.9h-1.9zM442.88 505.76h1.9v1.9h-1.9zM443.69 507.96h1.9v1.9h-1.9zM444.63 501.51h1.9v1.9h-1.9zM445.51 503.3h1.9v1.9h-1.9zM446.44 504.4h1.9v1.9h-1.9zM447.28 504.26h1.9v1.9h-1.9zM448.15 500.73h1.9v1.9h-1.9zM448.97 504.05h1.9v1.9h-1.9zM450.06 499.91h1.9v1.9h-1.9zM451.01 503.73h1.9v1.9h-1.9zM451.92 508.14h1.9v1.9h-1.9zM452.92 507.66h1.9v1.9h-1.9zM453.77 502.49h1.9v1.9h-1.9zM454.58 504.61h1.9v1.9h-1.9zM455.49 509.13h1.9v1.9h-1.9zM456.48 503.53h1.9v1.9h-1.9zM457.47 508.28h1.9v1.9h-1.9zM458.43 514.87h1.9v1.9h-1.9zM459.36 511.19h1.9v1.9h-1.9zM460.32 507.85h1.9v1.9h-1.9zM461.44 524.17h1.9v1.9h-1.9zM462.46 510.81h1.9v1.9h-1.9zM463.57 509.02h1.9v1.9h-1.9zM464.38 510.77h1.9v1.9h-1.9zM465.3 515.64h1.9v1.9h-1.9zM466.34 513.58h1.9v1.9h-1.9zM467.36 510.86h1.9v1.9h-1.9zM468.22 513.65h1.9v1.9h-1.9zM469.23 517.94h1.9v1.9h-1.9zM470.15 514.61h1.9v1.9h-1.9zM470.94 519.25h1.9v1.9h-1.9zM471.89 520h1.9v1.9h-1.9zM472.67 519.47h1.9v1.9h-1.9zM473.72 517.6h1.9v1.9h-1.9zM474.53 519.15h1.9v1.9h-1.9zM475.65 522.35h1.9v1.9h-1.9zM476.66 522.04h1.9v1.9h-1.9zM477.5 522.3h1.9v1.9h-1.9zM478.49 522.26h1.9v1.9h-1.9zM479.48 526.48h1.9v1.9h-1.9zM480.41 525.06h1.9v1.9h-1.9zM481.52 523.4h1.9v1.9h-1.9zM482.33 519.87h1.9v1.9h-1.9zM483.38 527.16h1.9v1.9h-1.9zM484.31 529.7h1.9v1.9h-1.9zM485.17 526.53h1.9v1.9h-1.9zM485.99 529.93h1.9v1.9h-1.9zM487.04 528.77h1.9v1.9h-1.9zM491.73 528.17h1.9v1.9h-1.9zM492.53 529.16h1.9v1.9h-1.9z" fill="#0e9a12"/>
<path d="M199.3 515.92 L199.9 515.35 L200.49 514.77 L201.09 514.2 L201.68 513.63 L202.28 513.06 L202.87 512.49 L203.47 511.92 L204.06 511.35 L204.66 510.77 L205.25 510.2 L205.84 509.63 L206.44 509.06 L207.04 508.48 L207.63 507.9 L208.23 507.32 L208.82 506.73 L209.42 506.15 L210.01 505.55 L210.61 504.96 L211.2 504.35 L211.8 503.75 L212.39 503.16 L212.99 502.56 L213.58 501.97 L214.18 501.38 L214.77 500.79 L215.37 500.2 L215.96 499.61 L216.56 499.02 L217.15 498.42 L217.75 497.82 L218.34 497.21 L218.94 496.59 L219.53 495.96 L220.12 495.33 L220.72 494.68 L221.31 494.03 L221.91 493.36 L222.51 492.68 L223.1 491.98 L223.7 491.26 L224.29 490.53 L224.89 489.79 L225.48 489.02 L226.08 488.23 L226.67 487.42 L227.27 486.6 L227.86 485.76 L228.46 484.91 L229.05 484.04 L229.65 483.17 L230.24 482.28 L230.84 481.38 L231.43 480.47 L232.03 479.56 L232.62 478.64 L233.22 477.72 L233.81 476.79 L234.41 475.86 L235 474.93 L235.6 474.01 L236.19 473.08 L236.79 472.16 L237.38 471.24 L237.98 470.32 L238.57 469.42 L239.17 468.52 L239.76 467.62 L240.36 466.71 L240.95 465.8 L241.55 464.88 L242.14 463.96 L242.74 463.03 L243.33 462.11 L243.93 461.18 L244.52 460.25 L245.12 459.33 L245.71 458.4 L246.31 457.48 L246.9 456.57 L247.5 455.66 L248.09 454.75 L248.69 453.86 L249.28 452.97 L249.88 452.09 L250.47 451.22 L251.06 450.35 L251.66 449.51 L252.25 448.66 L252.85 447.82 L253.45 446.98 L254.04 446.14 L254.64 445.3 L255.23 444.47 L255.83 443.64 L256.42 442.82 L257.01 442.01 L257.61 441.21 L258.21 440.41 L258.8 439.63 L259.39 438.87 L259.99 438.11 L260.59 437.38 L261.18 436.66 L261.78 435.95 L262.37 435.27 L262.97 434.61 L263.56 433.96 L264.16 433.33 L264.75 432.71 L265.35 432.1 L265.94 431.51 L266.54 430.93 L267.13 430.36 L267.73 429.81 L268.32 429.27 L268.92 428.74 L269.51 428.22 L270.11 427.72 L270.7 427.22 L271.3 426.74 L271.89 426.27 L272.49 425.8 L273.08 425.35 L273.68 424.91 L274.27 424.48 L274.87 424.06 L275.46 423.66 L276.06 423.28 L276.65 422.91 L277.25 422.57 L277.84 422.24 L278.44 421.94 L279.03 421.65 L279.62 421.39 L280.22 421.14 L280.81 420.91 L281.41 420.7 L282 420.5 L282.6 420.32 L283.19 420.16 L283.79 420.03 L284.38 419.91 L284.98 419.82 L285.57 419.75 L286.17 419.7 L286.76 419.68 L287.36 419.69 L287.96 419.72 L288.55 419.77 L289.14 419.85 L289.74 419.95 L290.34 420.08 L290.93 420.22 L291.53 420.39 L292.12 420.57 L292.72 420.78 L293.31 421 L293.91 421.25 L294.5 421.51 L295.1 421.8 L295.69 422.11 L296.29 422.44 L296.88 422.8 L297.48 423.18 L298.07 423.59 L298.67 424.01 L299.26 424.44 L299.86 424.89 L300.45 425.36 L301.05 425.83 L301.64 426.32 L302.24 426.81 L302.83 427.31 L303.43 427.82 L304.02 428.34 L304.62 428.87 L305.21 429.42 L305.81 429.97 L306.4 430.54 L307 431.13 L307.59 431.72 L308.19 432.33 L308.78 432.94 L309.38 433.57 L309.97 434.21 L310.56 434.86 L311.16 435.53 L311.75 436.2 L312.35 436.87 L312.95 437.55 L313.54 438.25 L314.13 438.95 L314.73 439.67 L315.32 440.41 L315.92 441.16 L316.51 441.93 L317.11 442.72 L317.71 443.53 L318.3 444.36 L318.9 445.22 L319.49 446.12 L320.09 447.07 L320.68 448.05 L321.27 449.06 L321.87 450.09 L322.47 451.13 L323.06 452.17 L323.65 453.2 L324.25 454.2 L324.85 455.18 L325.44 456.12 L326.04 457.01 L326.63 457.86 L327.23 458.68 L327.82 459.47 L328.42 460.25 L329.01 461 L329.61 461.74 L330.2 462.48 L330.8 463.21 L331.39 463.94 L331.99 464.67 L332.58 465.41 L333.18 466.17 L333.77 466.93 L334.37 467.69 L334.96 468.45 L335.56 469.21 L336.15 469.97 L336.75 470.72 L337.34 471.47 L337.94 472.21 L338.53 472.94 L339.12 473.66 L339.72 474.36 L340.32 475.05 L340.91 475.73 L341.5 476.4 L342.1 477.07 L342.7 477.72 L343.29 478.37 L343.88 479.01 L344.48 479.64 L345.08 480.27 L345.67 480.89 L346.26 481.51 L346.86 482.12 L347.46 482.73 L348.05 483.33 L348.65 483.92 L349.24 484.51 L349.84 485.09 L350.43 485.67 L351.03 486.24 L351.62 486.81 L352.22 487.38 L352.81 487.94 L353.4 488.5 L354 489.07 L354.6 489.64 L355.19 490.21 L355.78 490.79 L356.38 491.35 L356.98 491.9 L357.57 492.43 L358.17 492.94 L358.76 493.42 L359.36 493.86 L359.95 494.27 L360.55 494.64 L361.14 494.99 L361.74 495.32 L362.33 495.62 L362.93 495.91 L363.52 496.19 L364.12 496.45 L364.71 496.7 L365.31 496.95 L365.9 497.2 L366.5 497.46 L367.09 497.71 L367.69 497.96 L368.28 498.2 L368.88 498.43 L369.47 498.65 L370.07 498.87 L370.66 499.08 L371.25 499.28 L371.85 499.48 L372.45 499.68 L373.04 499.87 L373.63 500.05 L374.23 500.23 L374.83 500.41 L375.42 500.59 L376.01 500.76 L376.61 500.92 L377.21 501.08 L377.8 501.23 L378.4 501.38 L378.99 501.52 L379.59 501.66 L380.18 501.8 L380.78 501.93 L381.37 502.06 L381.97 502.19 L382.56 502.32 L383.15 502.45 L383.75 502.57 L384.35 502.69 L384.94 502.81 L385.53 502.93 L386.13 503.05 L386.73 503.16 L387.32 503.27 L387.92 503.37 L388.51 503.47 L389.11 503.57 L389.7 503.67 L390.3 503.76 L390.89 503.84 L391.49 503.92 L392.08 504 L392.68 504.07 L393.27 504.14 L393.87 504.21 L394.46 504.27 L395.06 504.33 L395.65 504.38 L396.25 504.43 L396.84 504.48 L397.44 504.52 L398.03 504.56 L398.62 504.6 L399.22 504.63 L399.82 504.65 L400.41 504.67 L401 504.68 L401.6 504.69 L402.2 504.69 L402.79 504.69 L403.38 504.69 L403.98 504.68 L404.58 504.67 L405.17 504.65 L405.76 504.64 L406.36 504.62 L406.96 504.6 L407.55 504.59 L408.15 504.57 L408.74 504.56 L409.34 504.54 L409.93 504.53 L410.53 504.53 L411.12 504.52 L411.72 504.51 L412.31 504.5 L412.9 504.5 L413.5 504.49 L414.1 504.48 L414.69 504.47 L415.28 504.46 L415.88 504.45 L416.48 504.44 L417.07 504.43 L417.67 504.42 L418.26 504.41 L418.86 504.4 L419.45 504.39 L420.05 504.38 L420.64 504.38 L421.24 504.37 L421.83 504.36 L422.43 504.36 L423.02 504.35 L423.62 504.35 L424.21 504.34 L424.81 504.34 L425.4 504.33 L426 504.32 L426.59 504.32 L427.19 504.31 L427.78 504.31 L428.38 504.3 L428.97 504.3 L429.57 504.29 L430.16 504.29 L430.75 504.29 L431.35 504.28 L431.95 504.28 L432.54 504.28 L433.13 504.28 L433.73 504.28 L434.33 504.29 L434.92 504.29 L435.51 504.3 L436.11 504.3 L436.71 504.31 L437.3 504.32 L437.89 504.33 L438.49 504.35 L439.09 504.36 L439.68 504.37 L440.27 504.38 L440.87 504.39 L441.47 504.39 L442.06 504.4 L442.65 504.41 L443.25 504.42 L443.85 504.43 L444.44 504.44 L445.03 504.46 L445.63 504.49 L446.23 504.52 L446.82 504.56 L447.42 504.61 L448.01 504.67 L448.61 504.74 L449.2 504.82 L449.8 504.9 L450.39 504.98 L450.99 505.05 L451.58 505.13 L452.18 505.22 L452.77 505.32 L453.37 505.43 L453.96 505.55 L454.56 505.69 L455.15 505.86 L455.75 506.04 L456.34 506.26 L456.94 506.5 L457.53 506.77 L458.13 507.06 L458.72 507.38 L459.31 507.72 L459.91 508.08 L460.5 508.46 L461.1 508.85 L461.69 509.26 L462.29 509.69 L462.88 510.13 L463.48 510.57 L464.08 511.03 L464.67 511.49 L465.26 511.96 L465.86 512.45 L466.46 512.97 L467.05 513.5 L467.64 514.04 L468.24 514.6 L468.84 515.16 L469.43 515.74 L470.02 516.31 L470.62 516.88 L471.22 517.45 L471.81 518.01 L472.41 518.57 L473 519.11 L473.6 519.65 L474.19 520.2 L474.79 520.75 L475.38 521.31 L475.98 521.86 L476.57 522.4 L477.17 522.95 L477.76 523.48 L478.36 524.02 L478.95 524.54 L479.55 525.05 L480.14 525.55 L480.74 526.04 L481.33 526.53 L481.93 527.03 L482.52 527.55 L483.12 528.06 L483.71 528.56 L484.31 529.05 L484.9 529.5 L485.5 529.91 L486.09 530.28 L486.69 530.59 L487.28 530.84 L487.88 531.02 L488.47 531.16 L489.06 531.25 L489.66 531.31 L490.25 531.34 L490.85 531.35 L491.44 531.35 L492.04 531.35 L492.63 531.35 L493.23 531.35 L493.83 531.35 L494.42 531.35 L495.01 531.35 L495.61 531.35 L496.21 531.35 L496.8 531.35" fill="none" stroke="#109a14" stroke-width="2" stroke-linejoin="round" stroke-linecap="round"/>
<path d="M200.01 514.44h1.9v1.9h-1.9zM200.82 513.37h1.9v1.9h-1.9zM201.94 510.09h1.9v1.9h-1.9zM203.02 508.75h1.9v1.9h-1.9zM203.84 510.61h1.9v1.9h-1.9zM204.69 513.26h1.9v1.9h-1.9zM205.77 511.02h1.9v1.9h-1.9zM206.81 507.11h1.9v1.9h-1.9zM207.67 503.03h1.9v1.9h-1.9zM208.69 504.15h1.9v1.9h-1.9zM209.7 502.94h1.9v1.9h-1.9zM210.5 503.92h1.9v1.9h-1.9zM211.47 502.85h1.9v1.9h-1.9zM212.28 504.35h1.9v1.9h-1.9zM213.28 504.51h1.9v1.9h-1.9zM214.19 498.46h1.9v1.9h-1.9zM215.2 510.24h1.9v1.9h-1.9zM216.08 495.39h1.9v1.9h-1.9zM216.93 498.15h1.9v1.9h-1.9zM218 494.99h1.9v1.9h-1.9zM219.07 495.3h1.9v1.9h-1.9zM220.15 502.6h1.9v1.9h-1.9zM221.04 497.08h1.9v1.9h-1.9zM221.86 490.08h1.9v1.9h-1.9zM222.95 494.31h1.9v1.9h-1.9zM223.82 487.46h1.9v1.9h-1.9zM224.7 488.93h1.9v1.9h-1.9zM225.69 488.55h1.9v1.9h-1.9zM226.73 484.84h1.9v1.9h-1.9zM227.78 485.42h1.9v1.9h-1.9zM228.57 484.22h1.9v1.9h-1.9zM229.66 493.03h1.9v1.9h-1.9zM230.61 480.08h1.9v1.9h-1.9zM231.58 474.43h1.9v1.9h-1.9zM232.46 478.28h1.9v1.9h-1.9zM233.44 480.43h1.9v1.9h-1.9zM234.52 475.89h1.9v1.9h-1.9zM235.47 470.59h1.9v1.9h-1.9zM236.43 475.47h1.9v1.9h-1.9zM237.36 467.3h1.9v1.9h-1.9zM238.23 467.56h1.9v1.9h-1.9zM239.18 464.65h1.9v1.9h-1.9zM240.1 462.32h1.9v1.9h-1.9zM241.12 463.39h1.9v1.9h-1.9zM242.1 461.5h1.9v1.9h-1.9zM242.92 463.47h1.9v1.9h-1.9zM244.02 456.01h1.9v1.9h-1.9zM245.01 455.01h1.9v1.9h-1.9zM245.82 455.05h1.9v1.9h-1.9zM246.61 455.75h1.9v1.9h-1.9zM247.42 453.57h1.9v1.9h-1.9zM248.53 454.81h1.9v1.9h-1.9zM249.55 453.91h1.9v1.9h-1.9zM250.33 450.78h1.9v1.9h-1.9zM251.1 452.13h1.9v1.9h-1.9zM252.21 455.27h1.9v1.9h-1.9zM253.2 446.1h1.9v1.9h-1.9zM254.19 446.9h1.9v1.9h-1.9zM255.26 437.03h1.9v1.9h-1.9zM256.1 444.09h1.9v1.9h-1.9zM257.19 441.26h1.9v1.9h-1.9zM258 433.09h1.9v1.9h-1.9zM259.13 439.07h1.9v1.9h-1.9zM260.15 440.18h1.9v1.9h-1.9zM261.22 432.67h1.9v1.9h-1.9zM262.2 434.92h1.9v1.9h-1.9zM263.09 433.75h1.9v1.9h-1.9zM264.03 438.05h1.9v1.9h-1.9zM264.82 427.41h1.9v1.9h-1.9zM265.82 431.02h1.9v1.9h-1.9zM266.95 418.3h1.9v1.9h-1.9zM267.97 430.19h1.9v1.9h-1.9zM268.75 427.77h1.9v1.9h-1.9zM269.65 419.24h1.9v1.9h-1.9zM270.57 429.43h1.9v1.9h-1.9zM271.5 423.86h1.9v1.9h-1.9zM272.62 421.93h1.9v1.9h-1.9zM273.49 423.62h1.9v1.9h-1.9zM274.36 440.38h1.9v1.9h-1.9zM275.29 423.17h1.9v1.9h-1.9zM276.12 418.95h1.9v1.9h-1.9zM276.93 421.59h1.9v1.9h-1.9zM277.98 421.74h1.9v1.9h-1.9zM278.95 420.35h1.9v1.9h-1.9zM279.87 409.53h1.9v1.9h-1.9zM280.74 418.4h1.9v1.9h-1.9zM281.73 413.75h1.9v1.9h-1.9zM282.69 423.2h1.9v1.9h-1.9zM283.66 421.39h1.9v1.9h-1.9zM284.63 423.67h1.9v1.9h-1.9zM285.59 419.31h1.9v1.9h-1.9zM286.43 417.45h1.9v1.9h-1.9zM287.29 421.76h1.9v1.9h-1.9zM288.22 424.07h1.9v1.9h-1.9zM289.32 420.08h1.9v1.9h-1.9zM290.17 424.15h1.9v1.9h-1.9zM291.07 424.53h1.9v1.9h-1.9zM292.19 420.58h1.9v1.9h-1.9zM293.2 419.24h1.9v1.9h-1.9zM294.17 425.8h1.9v1.9h-1.9zM295.27 422.26h1.9v1.9h-1.9zM296.28 422.55h1.9v1.9h-1.9zM297.07 426.6h1.9v1.9h-1.9zM298.14 425.91h1.9v1.9h-1.9zM298.94 426.47h1.9v1.9h-1.9zM300 428.31h1.9v1.9h-1.9zM300.98 429.37h1.9v1.9h-1.9zM301.98 430.77h1.9v1.9h-1.9zM302.79 429.2h1.9v1.9h-1.9zM303.86 426.44h1.9v1.9h-1.9zM304.87 433.76h1.9v1.9h-1.9zM305.69 426.82h1.9v1.9h-1.9zM306.74 429.74h1.9v1.9h-1.9zM307.72 436.3h1.9v1.9h-1.9zM308.49 436.75h1.9v1.9h-1.9zM309.58 445.59h1.9v1.9h-1.9zM310.37 441.95h1.9v1.9h-1.9zM311.23 436.9h1.9v1.9h-1.9zM312.07 438.49h1.9v1.9h-1.9zM313.1 441.97h1.9v1.9h-1.9zM314.02 443.29h1.9v1.9h-1.9zM314.82 436.22h1.9v1.9h-1.9zM315.9 450.26h1.9v1.9h-1.9zM316.68 446.72h1.9v1.9h-1.9zM317.66 445.03h1.9v1.9h-1.9zM318.46 449.17h1.9v1.9h-1.9zM319.48 459.06h1.9v1.9h-1.9zM320.35 451h1.9v1.9h-1.9zM321.26 456.44h1.9v1.9h-1.9zM322.22 449.89h1.9v1.9h-1.9zM323.1 456.72h1.9v1.9h-1.9zM323.9 454.82h1.9v1.9h-1.9zM324.73 455.21h1.9v1.9h-1.9zM325.64 460.22h1.9v1.9h-1.9zM326.57 456.12h1.9v1.9h-1.9zM327.52 459.41h1.9v1.9h-1.9zM328.63 457.92h1.9v1.9h-1.9zM329.75 466.42h1.9v1.9h-1.9zM330.86 466.59h1.9v1.9h-1.9zM331.87 467.58h1.9v1.9h-1.9zM333 467.58h1.9v1.9h-1.9zM334.02 468.2h1.9v1.9h-1.9zM334.86 468.9h1.9v1.9h-1.9zM335.76 468.61h1.9v1.9h-1.9zM336.75 468.56h1.9v1.9h-1.9zM337.59 473.8h1.9v1.9h-1.9zM338.55 475.91h1.9v1.9h-1.9zM339.64 476.19h1.9v1.9h-1.9zM340.44 473.79h1.9v1.9h-1.9zM341.22 477.32h1.9v1.9h-1.9zM342.04 471.29h1.9v1.9h-1.9zM343.16 477.11h1.9v1.9h-1.9zM344.03 478.5h1.9v1.9h-1.9zM344.97 478.09h1.9v1.9h-1.9zM346.04 485.77h1.9v1.9h-1.9zM346.99 480.37h1.9v1.9h-1.9zM347.98 483.73h1.9v1.9h-1.9zM348.76 478.74h1.9v1.9h-1.9zM349.89 479.25h1.9v1.9h-1.9zM350.88 483.71h1.9v1.9h-1.9zM351.66 483.84h1.9v1.9h-1.9zM352.71 482.21h1.9v1.9h-1.9zM353.69 486.09h1.9v1.9h-1.9zM354.52 488.22h1.9v1.9h-1.9zM355.46 492.38h1.9v1.9h-1.9zM356.3 489.85h1.9v1.9h-1.9zM357.27 484.88h1.9v1.9h-1.9zM358.17 488.43h1.9v1.9h-1.9zM359.07 497.96h1.9v1.9h-1.9zM360.1 487.11h1.9v1.9h-1.9zM361.12 490.1h1.9v1.9h-1.9zM362.23 491.56h1.9v1.9h-1.9zM363.07 488.62h1.9v1.9h-1.9zM364.04 485.88h1.9v1.9h-1.9zM364.96 496.77h1.9v1.9h-1.9zM365.81 488.89h1.9v1.9h-1.9zM366.73 494.48h1.9v1.9h-1.9zM367.69 497.91h1.9v1.9h-1.9zM368.79 499.64h1.9v1.9h-1.9zM369.66 496.09h1.9v1.9h-1.9zM370.78 493.7h1.9v1.9h-1.9zM371.8 492.99h1.9v1.9h-1.9zM372.69 497.18h1.9v1.9h-1.9zM373.76 499.01h1.9v1.9h-1.9zM374.61 499.46h1.9v1.9h-1.9zM375.61 501.19h1.9v1.9h-1.9zM376.61 497.17h1.9v1.9h-1.9zM377.67 494.98h1.9v1.9h-1.9zM378.71 494.41h1.9v1.9h-1.9zM379.63 493.98h1.9v1.9h-1.9zM380.59 498.48h1.9v1.9h-1.9zM381.42 497.01h1.9v1.9h-1.9zM382.45 502.93h1.9v1.9h-1.9zM383.44 498.24h1.9v1.9h-1.9zM384.56 498.62h1.9v1.9h-1.9zM385.61 498.44h1.9v1.9h-1.9zM386.5 502.56h1.9v1.9h-1.9zM387.45 501.11h1.9v1.9h-1.9zM388.45 502.27h1.9v1.9h-1.9zM389.51 498.83h1.9v1.9h-1.9zM390.51 499.31h1.9v1.9h-1.9zM391.36 505.16h1.9v1.9h-1.9zM392.45 498.94h1.9v1.9h-1.9zM393.55 504.5h1.9v1.9h-1.9zM394.63 495.18h1.9v1.9h-1.9zM395.45 504.72h1.9v1.9h-1.9zM396.38 503.5h1.9v1.9h-1.9zM397.22 506.03h1.9v1.9h-1.9zM398.3 502.28h1.9v1.9h-1.9zM399.34 502.07h1.9v1.9h-1.9zM400.45 504.54h1.9v1.9h-1.9zM401.4 502.8h1.9v1.9h-1.9zM402.19 501.91h1.9v1.9h-1.9zM403.08 501.33h1.9v1.9h-1.9zM403.99 503.02h1.9v1.9h-1.9zM404.92 503.72h1.9v1.9h-1.9zM405.9 503.78h1.9v1.9h-1.9zM406.98 502.77h1.9v1.9h-1.9zM407.83 502.06h1.9v1.9h-1.9zM408.6 494.79h1.9v1.9h-1.9zM409.62 502.28h1.9v1.9h-1.9zM410.62 501.5h1.9v1.9h-1.9zM411.68 503.87h1.9v1.9h-1.9zM412.69 496.45h1.9v1.9h-1.9zM413.76 502.57h1.9v1.9h-1.9zM414.61 501.2h1.9v1.9h-1.9zM415.67 499.76h1.9v1.9h-1.9zM416.6 503.62h1.9v1.9h-1.9zM417.45 498.47h1.9v1.9h-1.9zM418.35 502.45h1.9v1.9h-1.9zM419.19 502.47h1.9v1.9h-1.9zM420.19 494.05h1.9v1.9h-1.9zM421.04 499.98h1.9v1.9h-1.9zM421.9 504.41h1.9v1.9h-1.9zM422.94 502.37h1.9v1.9h-1.9zM423.77 505.25h1.9v1.9h-1.9zM424.88 490.91h1.9v1.9h-1.9zM425.65 505.5h1.9v1.9h-1.9zM426.5 497.29h1.9v1.9h-1.9zM427.45 504.09h1.9v1.9h-1.9zM428.54 501.16h1.9v1.9h-1.9zM429.49 506.06h1.9v1.9h-1.9zM430.32 501.9h1.9v1.9h-1.9zM431.3 499.08h1.9v1.9h-1.9zM432.37 503.29h1.9v1.9h-1.9zM433.18 505.7h1.9v1.9h-1.9zM434.24 503.91h1.9v1.9h-1.9zM435.24 511.72h1.9v1.9h-1.9zM436.28 505.08h1.9v1.9h-1.9zM437.22 505.95h1.9v1.9h-1.9zM438.28 505.95h1.9v1.9h-1.9zM439.26 500.65h1.9v1.9h-1.9zM440.28 507.55h1.9v1.9h-1.9zM441.33 494.07h1.9v1.9h-1.9zM442.13 509.97h1.9v1.9h-1.9zM443.26 508.07h1.9v1.9h-1.9zM444.05 504.83h1.9v1.9h-1.9zM444.96 503.96h1.9v1.9h-1.9zM445.94 508.26h1.9v1.9h-1.9zM446.72 508.99h1.9v1.9h-1.9zM447.64 506.1h1.9v1.9h-1.9zM448.52 504.41h1.9v1.9h-1.9zM449.45 508.33h1.9v1.9h-1.9zM450.25 509.41h1.9v1.9h-1.9zM451.04 508.96h1.9v1.9h-1.9zM452.02 508.11h1.9v1.9h-1.9zM452.84 508.93h1.9v1.9h-1.9zM453.8 508.88h1.9v1.9h-1.9zM454.74 509.59h1.9v1.9h-1.9zM455.67 506.38h1.9v1.9h-1.9zM456.48 511.42h1.9v1.9h-1.9zM457.35 508.43h1.9v1.9h-1.9zM458.26 511.15h1.9v1.9h-1.9zM459.11 508.14h1.9v1.9h-1.9zM459.9 506.57h1.9v1.9h-1.9zM460.71 513.64h1.9v1.9h-1.9zM461.55 518.43h1.9v1.9h-1.9zM462.52 511.44h1.9v1.9h-1.9zM463.52 515.03h1.9v1.9h-1.9zM464.5 518.24h1.9v1.9h-1.9zM465.45 514.61h1.9v1.9h-1.9zM466.46 508.49h1.9v1.9h-1.9zM467.58 513.59h1.9v1.9h-1.9zM468.63 518.47h1.9v1.9h-1.9zM469.63 517.35h1.9v1.9h-1.9zM470.67 516.51h1.9v1.9h-1.9zM471.53 518.5h1.9v1.9h-1.9zM472.54 522.17h1.9v1.9h-1.9zM473.6 522.75h1.9v1.9h-1.9zM474.63 520.6h1.9v1.9h-1.9zM475.47 522.26h1.9v1.9h-1.9zM476.5 522.52h1.9v1.9h-1.9zM477.55 521.48h1.9v1.9h-1.9zM478.66 520.66h1.9v1.9h-1.9zM479.79 525.67h1.9v1.9h-1.9zM480.8 522.52h1.9v1.9h-1.9zM481.85 513.26h1.9v1.9h-1.9zM482.67 527.77h1.9v1.9h-1.9zM483.46 526.78h1.9v1.9h-1.9zM484.49 524.39h1.9v1.9h-1.9zM485.46 524.01h1.9v1.9h-1.9zM487.32 526.49h1.9v1.9h-1.9zM488.21 528.58h1.9v1.9h-1.9zM489.26 527.98h1.9v1.9h-1.9zM490.25 524.42h1.9v1.9h-1.9zM491.09 529.83h1.9v1.9h-1.9zM492.12 528.22h1.9v1.9h-1.9zM494.05 527.56h1.9v1.9h-1.9z" fill="#12969c"/>
<path d="M199.3 517.64 L199.9 517.04 L200.49 516.44 L201.09 515.84 L201.68 515.25 L202.28 514.65 L202.87 514.06 L203.47 513.47 L204.06 512.87 L204.66 512.28 L205.25 511.68 L205.84 511.09 L206.44 510.49 L207.04 509.89 L207.63 509.29 L208.23 508.69 L208.82 508.08 L209.42 507.48 L210.01 506.87 L210.61 506.26 L211.2 505.64 L211.8 505.03 L212.39 504.42 L212.99 503.81 L213.58 503.21 L214.18 502.62 L214.77 502.02 L215.37 501.42 L215.96 500.83 L216.56 500.23 L217.15 499.62 L217.75 499.02 L218.34 498.4 L218.94 497.79 L219.53 497.16 L220.12 496.52 L220.72 495.88 L221.31 495.22 L221.91 494.55 L222.51 493.87 L223.1 493.17 L223.7 492.46 L224.29 491.73 L224.89 490.99 L225.48 490.22 L226.08 489.44 L226.67 488.64 L227.27 487.82 L227.86 486.99 L228.46 486.14 L229.05 485.28 L229.65 484.41 L230.24 483.54 L230.84 482.65 L231.43 481.75 L232.03 480.85 L232.62 479.94 L233.22 479.03 L233.81 478.11 L234.41 477.19 L235 476.27 L235.6 475.35 L236.19 474.43 L236.79 473.51 L237.38 472.6 L237.98 471.69 L238.57 470.79 L239.17 469.89 L239.76 468.99 L240.36 468.1 L240.95 467.19 L241.55 466.29 L242.14 465.39 L242.74 464.48 L243.33 463.58 L243.93 462.67 L244.52 461.77 L245.12 460.86 L245.71 459.96 L246.31 459.06 L246.9 458.17 L247.5 457.28 L248.09 456.4 L248.69 455.51 L249.28 454.61 L249.88 453.72 L250.47 452.81 L251.06 451.89 L251.66 450.96 L252.25 450.01 L252.85 449.03 L253.45 448.04 L254.04 447.04 L254.64 446.06 L255.23 445.11 L255.83 444.2 L256.42 443.34 L257.01 442.51 L257.61 441.72 L258.21 440.95 L258.8 440.21 L259.39 439.5 L259.99 438.8 L260.59 438.11 L261.18 437.44 L261.78 436.78 L262.37 436.12 L262.97 435.47 L263.56 434.82 L264.16 434.19 L264.75 433.57 L265.35 432.96 L265.94 432.37 L266.54 431.78 L267.13 431.21 L267.73 430.66 L268.32 430.12 L268.92 429.59 L269.51 429.07 L270.11 428.57 L270.7 428.08 L271.3 427.6 L271.89 427.14 L272.49 426.68 L273.08 426.23 L273.68 425.8 L274.27 425.37 L274.87 424.97 L275.46 424.58 L276.06 424.21 L276.65 423.86 L277.25 423.53 L277.84 423.22 L278.44 422.94 L279.03 422.68 L279.62 422.45 L280.22 422.24 L280.81 422.04 L281.41 421.87 L282 421.72 L282.6 421.59 L283.19 421.47 L283.79 421.38 L284.38 421.31 L284.98 421.26 L285.57 421.22 L286.17 421.21 L286.76 421.22 L287.36 421.24 L287.96 421.28 L288.55 421.34 L289.14 421.42 L289.74 421.51 L290.34 421.63 L290.93 421.76 L291.53 421.92 L292.12 422.1 L292.72 422.3 L293.31 422.52 L293.91 422.77 L294.5 423.05 L295.1 423.35 L295.69 423.68 L296.29 424.05 L296.88 424.44 L297.48 424.85 L298.07 425.29 L298.67 425.75 L299.26 426.23 L299.86 426.72 L300.45 427.23 L301.05 427.75 L301.64 428.28 L302.24 428.82 L302.83 429.37 L303.43 429.92 L304.02 430.5 L304.62 431.09 L305.21 431.69 L305.81 432.31 L306.4 432.94 L307 433.58 L307.59 434.24 L308.19 434.9 L308.78 435.56 L309.38 436.24 L309.97 436.92 L310.56 437.6 L311.16 438.28 L311.75 438.96 L312.35 439.65 L312.95 440.34 L313.54 441.04 L314.13 441.75 L314.73 442.46 L315.32 443.18 L315.92 443.92 L316.51 444.66 L317.11 445.42 L317.71 446.2 L318.3 446.99 L318.9 447.79 L319.49 448.63 L320.09 449.5 L320.68 450.4 L321.27 451.32 L321.87 452.25 L322.47 453.18 L323.06 454.11 L323.65 455.03 L324.25 455.93 L324.85 456.81 L325.44 457.65 L326.04 458.44 L326.63 459.2 L327.23 459.93 L327.82 460.64 L328.42 461.32 L329.01 461.99 L329.61 462.64 L330.2 463.29 L330.8 463.93 L331.39 464.58 L331.99 465.23 L332.58 465.88 L333.18 466.55 L333.77 467.23 L334.37 467.9 L334.96 468.58 L335.56 469.25 L336.15 469.92 L336.75 470.59 L337.34 471.26 L337.94 471.91 L338.53 472.57 L339.12 473.21 L339.72 473.85 L340.32 474.47 L340.91 475.1 L341.5 475.72 L342.1 476.34 L342.7 476.95 L343.29 477.56 L343.88 478.15 L344.48 478.74 L345.08 479.32 L345.67 479.88 L346.26 480.43 L346.86 480.97 L347.46 481.48 L348.05 481.98 L348.65 482.46 L349.24 482.93 L349.84 483.39 L350.43 483.84 L351.03 484.3 L351.62 484.76 L352.22 485.22 L352.81 485.7 L353.4 486.19 L354 486.69 L354.6 487.22 L355.19 487.76 L355.78 488.3 L356.38 488.84 L356.98 489.37 L357.57 489.89 L358.17 490.39 L358.76 490.85 L359.36 491.28 L359.95 491.69 L360.55 492.07 L361.14 492.43 L361.74 492.77 L362.33 493.09 L362.93 493.4 L363.52 493.69 L364.12 493.98 L364.71 494.25 L365.31 494.52 L365.9 494.79 L366.5 495.05 L367.09 495.32 L367.69 495.57 L368.28 495.81 L368.88 496.04 L369.47 496.27 L370.07 496.48 L370.66 496.69 L371.25 496.9 L371.85 497.09 L372.45 497.28 L373.04 497.47 L373.63 497.65 L374.23 497.83 L374.83 498.01 L375.42 498.19 L376.01 498.36 L376.61 498.52 L377.21 498.68 L377.8 498.84 L378.4 498.99 L378.99 499.14 L379.59 499.28 L380.18 499.42 L380.78 499.55 L381.37 499.68 L381.97 499.8 L382.56 499.92 L383.15 500.04 L383.75 500.15 L384.35 500.26 L384.94 500.35 L385.53 500.45 L386.13 500.54 L386.73 500.62 L387.32 500.7 L387.92 500.79 L388.51 500.86 L389.11 500.94 L389.7 501.02 L390.3 501.1 L390.89 501.18 L391.49 501.27 L392.08 501.35 L392.68 501.43 L393.27 501.51 L393.87 501.6 L394.46 501.68 L395.06 501.76 L395.65 501.83 L396.25 501.91 L396.84 501.98 L397.44 502.05 L398.03 502.12 L398.62 502.18 L399.22 502.24 L399.82 502.3 L400.41 502.35 L401 502.39 L401.6 502.44 L402.2 502.48 L402.79 502.51 L403.38 502.55 L403.98 502.58 L404.58 502.61 L405.17 502.64 L405.76 502.67 L406.36 502.7 L406.96 502.73 L407.55 502.75 L408.15 502.78 L408.74 502.81 L409.34 502.84 L409.93 502.87 L410.53 502.9 L411.12 502.93 L411.72 502.96 L412.31 502.99 L412.9 503.01 L413.5 503.04 L414.1 503.06 L414.69 503.09 L415.28 503.11 L415.88 503.14 L416.48 503.16 L417.07 503.19 L417.67 503.21 L418.26 503.24 L418.86 503.27 L419.45 503.3 L420.05 503.33 L420.64 503.36 L421.24 503.4 L421.83 503.43 L422.43 503.48 L423.02 503.52 L423.62 503.56 L424.21 503.6 L424.81 503.64 L425.4 503.68 L426 503.72 L426.59 503.75 L427.19 503.79 L427.78 503.83 L428.38 503.87 L428.97 503.91 L429.57 503.96 L430.16 504.01 L430.75 504.05 L431.35 504.11 L431.95 504.16 L432.54 504.22 L433.13 504.29 L433.73 504.36 L434.33 504.43 L434.92 504.52 L435.51 504.6 L436.11 504.7 L436.71 504.8 L437.3 504.91 L437.89 505.02 L438.49 505.15 L439.09 505.28 L439.68 505.42 L440.27 505.56 L440.87 505.72 L441.47 505.87 L442.06 506.04 L442.65 506.21 L443.25 506.38 L443.85 506.56 L444.44 506.74 L445.03 506.93 L445.63 507.11 L446.23 507.31 L446.82 507.5 L447.42 507.7 L448.01 507.9 L448.61 508.11 L449.2 508.31 L449.8 508.52 L450.39 508.74 L450.99 508.95 L451.58 509.17 L452.18 509.4 L452.77 509.63 L453.37 509.86 L453.96 510.09 L454.56 510.33 L455.15 510.56 L455.75 510.81 L456.34 511.05 L456.94 511.3 L457.53 511.54 L458.13 511.79 L458.72 512.04 L459.31 512.28 L459.91 512.53 L460.5 512.79 L461.1 513.05 L461.69 513.31 L462.29 513.58 L462.88 513.86 L463.48 514.14 L464.08 514.43 L464.67 514.74 L465.26 515.05 L465.86 515.38 L466.46 515.72 L467.05 516.06 L467.64 516.41 L468.24 516.77 L468.84 517.14 L469.43 517.51 L470.02 517.88 L470.62 518.26 L471.22 518.64 L471.81 519.03 L472.41 519.42 L473 519.8 L473.6 520.21 L474.19 520.62 L474.79 521.04 L475.38 521.47 L475.98 521.91 L476.57 522.34 L477.17 522.77 L477.76 523.2 L478.36 523.62 L478.95 524.03 L479.55 524.43 L480.14 524.81 L480.74 525.18 L481.33 525.53 L481.93 525.87 L482.52 526.2 L483.12 526.52 L483.71 526.83 L484.31 527.14 L484.9 527.44 L485.5 527.72 L486.09 528.01 L486.69 528.28 L487.28 528.55 L487.88 528.82 L488.47 529.08 L489.06 529.34 L489.66 529.62 L490.25 529.92 L490.85 530.22 L491.44 530.51 L492.04 530.78 L492.63 531.01 L493.23 531.19 L493.83 531.31 L494.42 531.35 L495.01 531.35 L495.61 531.35 L496.21 531.35 L496.8 531.35" fill="none" stroke="#16979c" stroke-width="2" stroke-linejoin="round" stroke-linecap="round"/>
<path d="M194.8 317.2H497.2V531.35" fill="none" stroke="#2a2a2a" stroke-width="1.15"/>
<path d="M199.1 317.2V531.35H497.2" fill="none" stroke="#1a1a1a" stroke-width="1.2"/>
<path d="M194.8 531.35H199.1M194.8 445.65H199.1M194.8 359.95H199.1M196.7 488.5H199.1M196.7 402.8H199.1M258.8 531.35V535.65M318.3 531.35V535.65M377.8 531.35V535.65M437.3 531.35V535.65M496.8 531.35V535.65M229.05 531.35V533.75M288.55 531.35V533.75M348.05 531.35V533.75M407.55 531.35V533.75M467.05 531.35V533.75" stroke="#1a1a1a" stroke-width="1.2"/>
<text x="192.1" y="535.16" font-size="12.6" font-weight="bold" text-anchor="end" font-family="'Liberation Sans', sans-serif">0</text>
<text x="192.1" y="449.46" font-size="12.6" font-weight="bold" text-anchor="end" font-family="'Liberation Sans', sans-serif">1</text>
<text x="192.1" y="363.76" font-size="12.6" font-weight="bold" text-anchor="end" font-family="'Liberation Sans', sans-serif">2</text>
<text x="258.8" y="548.15" font-size="12.6" font-weight="bold" text-anchor="middle" font-family="'Liberation Sans', sans-serif">2</text>
<text x="318.3" y="548.15" font-size="12.6" font-weight="bold" text-anchor="middle" font-family="'Liberation Sans', sans-serif">4</text>
<text x="377.8" y="548.15" font-size="12.6" font-weight="bold" text-anchor="middle" font-family="'Liberation Sans', sans-serif">6</text>
<text x="437.3" y="548.15" font-size="12.6" font-weight="bold" text-anchor="middle" font-family="'Liberation Sans', sans-serif">8</text>
<text x="496.8" y="548.15" font-size="12.6" font-weight="bold" text-anchor="middle" font-family="'Liberation Sans', sans-serif">10</text>
<text transform="translate(180.9 424.27) rotate(-90)" font-size="14.5" font-weight="bold" text-anchor="middle" font-family="'Liberation Sans', sans-serif">Normalized dF/dt</text>
<text x="348.15" y="571.5" font-size="14.5" font-weight="bold" text-anchor="middle" font-family="'Liberation Sans', sans-serif">s<tspan font-size="10" dy="4">20,w</tspan><tspan dy="-4">(S)</tspan></text>
<text x="170.8" y="314.2" font-size="17.8" font-weight="bold" font-family="'Liberation Sans', sans-serif">C</text>
<text x="219.6" y="409.6" font-size="7.4" fill="#5e5e5e" font-family="'Liberation Sans', sans-serif">GRLBD*</text>
<text x="307.4" y="414.9" font-size="7.4" fill="#8e2020" font-family="'Liberation Sans', sans-serif">+HSP-90</text>
<text x="415.9" y="336.8" font-size="7.4" fill="#222c92" textLength="53.9" lengthAdjust="spacingAndGlyphs" font-family="'Liberation Sans', sans-serif">+FKB-6 +ATPγS</text>
<text x="338.8" y="369.2" font-size="7.4" fill="#28999c" textLength="50.4" lengthAdjust="spacingAndGlyphs" font-family="'Liberation Sans', sans-serif">+STI-1 +ATPγS</text>
<text x="323.8" y="391.9" font-size="7.4" fill="#1f961f" textLength="59.4" lengthAdjust="spacingAndGlyphs" font-family="'Liberation Sans', sans-serif">+AHSA-1 +ATPγS</text>
</svg>
</body></html>
